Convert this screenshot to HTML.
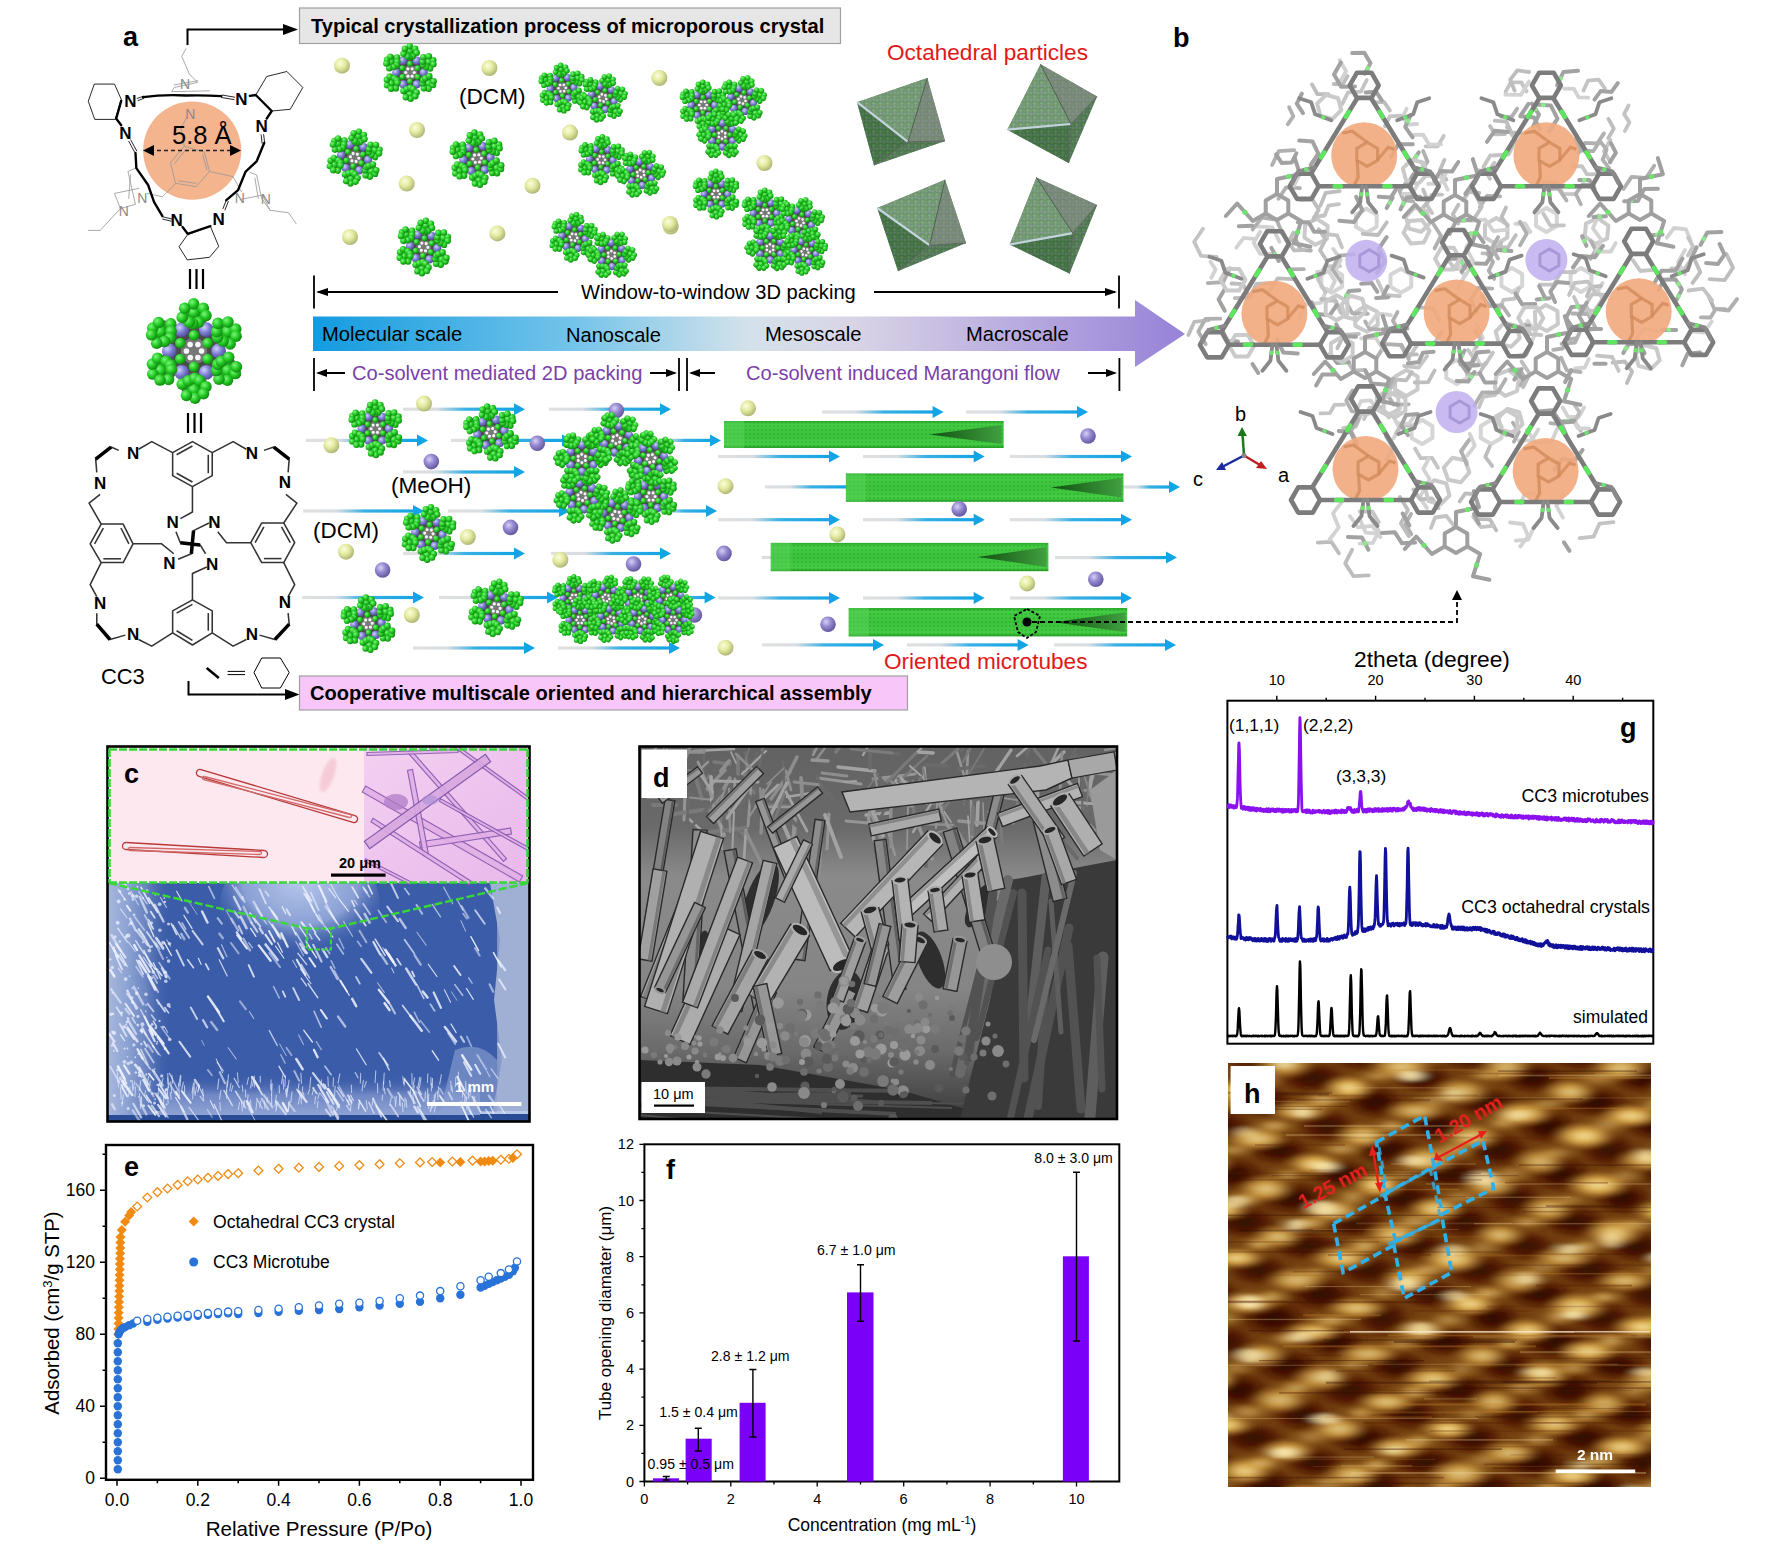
<!DOCTYPE html>
<html><head><meta charset="utf-8"><style>
html,body{margin:0;padding:0;background:#fff;width:1765px;height:1546px;overflow:hidden}
svg{display:block;font-family:'Liberation Sans',sans-serif}
text{font-family:'Liberation Sans',sans-serif}
</style></head><body>
<svg width="1765" height="1546" viewBox="0 0 1765 1546">
<defs><radialGradient id="gy" cx="0.38" cy="0.35" r="0.7"><stop offset="0" stop-color="#fbfde0"/><stop offset="0.45" stop-color="#e4eba0"/><stop offset="1" stop-color="#a9b070"/></radialGradient>
<radialGradient id="gp" cx="0.38" cy="0.35" r="0.7"><stop offset="0" stop-color="#d8d0f4"/><stop offset="0.45" stop-color="#9488d0"/><stop offset="1" stop-color="#5e5298"/></radialGradient>
<radialGradient id="gg" cx="0.35" cy="0.35" r="0.75"><stop offset="0" stop-color="#7cf77c"/><stop offset="0.5" stop-color="#22c822"/><stop offset="1" stop-color="#0e7a0e"/></radialGradient>
<radialGradient id="gv" cx="0.35" cy="0.35" r="0.75"><stop offset="0" stop-color="#d0d0ff"/><stop offset="0.5" stop-color="#7a7ad0"/><stop offset="1" stop-color="#45458a"/></radialGradient>
<symbol id="yb" viewBox="-10 -10 20 20" overflow="visible"><circle r="8" fill="url(#gy)"/></symbol>
<symbol id="pb" viewBox="-10 -10 20 20" overflow="visible"><circle r="8" fill="url(#gp)"/></symbol>
<g id="cage"><circle r="17" fill="#4a4a4a"/><circle cx="16.9" cy="9.7" r="7.5" fill="#555"/><circle cx="0.0" cy="19.5" r="7.5" fill="#555"/><circle cx="-16.9" cy="9.7" r="7.5" fill="#555"/><circle cx="-16.9" cy="-9.8" r="7.5" fill="#555"/><circle cx="-0.0" cy="-19.5" r="7.5" fill="#555"/><circle cx="16.9" cy="-9.8" r="7.5" fill="#555"/><circle cx="14.0" cy="0.0" r="4.2" fill="url(#gv)"/><circle cx="7.0" cy="12.1" r="4.2" fill="url(#gv)"/><circle cx="-7.0" cy="12.1" r="4.2" fill="url(#gv)"/><circle cx="-14.0" cy="0.0" r="4.2" fill="url(#gv)"/><circle cx="-7.0" cy="-12.1" r="4.2" fill="url(#gv)"/><circle cx="7.0" cy="-12.1" r="4.2" fill="url(#gv)"/><circle r="7.5" fill="#777"/><circle cx="4.3" cy="0.0" r="1.6" fill="#f6f6f6"/><circle cx="2.2" cy="3.7" r="1.6" fill="#f6f6f6"/><circle cx="-2.1" cy="3.7" r="1.6" fill="#f6f6f6"/><circle cx="-4.3" cy="0.0" r="1.6" fill="#f6f6f6"/><circle cx="-2.2" cy="-3.7" r="1.6" fill="#f6f6f6"/><circle cx="2.2" cy="-3.7" r="1.6" fill="#f6f6f6"/><circle cx="17.3" cy="10.0" r="6.5" fill="#2a9a2a"/><circle cx="19.1" cy="11.0" r="3.4" fill="url(#gg)"/><circle cx="23.5" cy="12.8" r="3.3" fill="url(#gg)"/><circle cx="19.0" cy="16.6" r="3.3" fill="url(#gg)"/><circle cx="14.2" cy="16.0" r="3.3" fill="url(#gg)"/><circle cx="12.9" cy="11.0" r="3.3" fill="url(#gg)"/><circle cx="13.5" cy="7.6" r="3.3" fill="url(#gg)"/><circle cx="15.5" cy="5.9" r="3.3" fill="url(#gg)"/><circle cx="19.7" cy="3.6" r="3.3" fill="url(#gg)"/><circle cx="24.1" cy="9.0" r="3.3" fill="url(#gg)"/><circle cx="0.0" cy="20.0" r="6.5" fill="#2a9a2a"/><circle cx="0.0" cy="22.0" r="3.4" fill="url(#gg)"/><circle cx="0.6" cy="26.8" r="3.3" fill="url(#gg)"/><circle cx="-4.3" cy="25.2" r="3.3" fill="url(#gg)"/><circle cx="-6.7" cy="18.8" r="3.3" fill="url(#gg)"/><circle cx="-3.2" cy="16.9" r="3.3" fill="url(#gg)"/><circle cx="0.5" cy="15.5" r="3.3" fill="url(#gg)"/><circle cx="3.2" cy="16.8" r="3.3" fill="url(#gg)"/><circle cx="6.8" cy="20.3" r="3.3" fill="url(#gg)"/><circle cx="5.4" cy="24.2" r="3.3" fill="url(#gg)"/><circle cx="-17.3" cy="10.0" r="6.5" fill="#2a9a2a"/><circle cx="-19.1" cy="11.0" r="3.4" fill="url(#gg)"/><circle cx="-23.4" cy="13.1" r="3.3" fill="url(#gg)"/><circle cx="-23.6" cy="7.4" r="3.3" fill="url(#gg)"/><circle cx="-20.7" cy="4.1" r="3.3" fill="url(#gg)"/><circle cx="-15.8" cy="5.8" r="3.3" fill="url(#gg)"/><circle cx="-13.3" cy="8.0" r="3.3" fill="url(#gg)"/><circle cx="-12.8" cy="10.5" r="3.3" fill="url(#gg)"/><circle cx="-14.5" cy="16.2" r="3.3" fill="url(#gg)"/><circle cx="-19.3" cy="16.5" r="3.3" fill="url(#gg)"/><circle cx="-17.3" cy="-10.0" r="6.5" fill="#2a9a2a"/><circle cx="-19.1" cy="-11.0" r="3.4" fill="url(#gg)"/><circle cx="-23.4" cy="-13.0" r="3.3" fill="url(#gg)"/><circle cx="-20.1" cy="-16.2" r="3.3" fill="url(#gg)"/><circle cx="-13.2" cy="-15.4" r="3.3" fill="url(#gg)"/><circle cx="-13.0" cy="-11.2" r="3.3" fill="url(#gg)"/><circle cx="-13.6" cy="-7.5" r="3.3" fill="url(#gg)"/><circle cx="-16.7" cy="-5.5" r="3.3" fill="url(#gg)"/><circle cx="-21.2" cy="-4.4" r="3.3" fill="url(#gg)"/><circle cx="-24.1" cy="-9.2" r="3.3" fill="url(#gg)"/><circle cx="-0.0" cy="-20.0" r="6.5" fill="#2a9a2a"/><circle cx="-0.0" cy="-22.0" r="3.4" fill="url(#gg)"/><circle cx="-0.2" cy="-26.8" r="3.3" fill="url(#gg)"/><circle cx="5.3" cy="-24.3" r="3.3" fill="url(#gg)"/><circle cx="6.8" cy="-20.1" r="3.3" fill="url(#gg)"/><circle cx="2.7" cy="-16.4" r="3.3" fill="url(#gg)"/><circle cx="-0.6" cy="-15.5" r="3.3" fill="url(#gg)"/><circle cx="-2.7" cy="-16.4" r="3.3" fill="url(#gg)"/><circle cx="-6.7" cy="-19.1" r="3.3" fill="url(#gg)"/><circle cx="-5.3" cy="-24.3" r="3.3" fill="url(#gg)"/><circle cx="17.3" cy="-10.0" r="6.5" fill="#2a9a2a"/><circle cx="19.1" cy="-11.0" r="3.4" fill="url(#gg)"/><circle cx="23.7" cy="-12.4" r="3.3" fill="url(#gg)"/><circle cx="23.9" cy="-8.4" r="3.3" fill="url(#gg)"/><circle cx="20.5" cy="-4.0" r="3.3" fill="url(#gg)"/><circle cx="16.5" cy="-5.6" r="3.3" fill="url(#gg)"/><circle cx="13.4" cy="-7.8" r="3.3" fill="url(#gg)"/><circle cx="12.9" cy="-11.0" r="3.3" fill="url(#gg)"/><circle cx="13.6" cy="-15.7" r="3.3" fill="url(#gg)"/><circle cx="19.3" cy="-16.5" r="3.3" fill="url(#gg)"/><circle cx="7.8" cy="4.5" r="3" fill="url(#gg)"/><circle cx="0.0" cy="9.0" r="3" fill="url(#gg)"/><circle cx="-7.8" cy="4.5" r="3" fill="url(#gg)"/><circle cx="-7.8" cy="-4.5" r="3" fill="url(#gg)"/><circle cx="-0.0" cy="-9.0" r="3" fill="url(#gg)"/><circle cx="7.8" cy="-4.5" r="3" fill="url(#gg)"/></g><linearGradient id="oct1" x1="0" y1="0" x2="1" y2="1"><stop offset="0" stop-color="#8a9490"/><stop offset="1" stop-color="#5a6660"/></linearGradient><pattern id="octp" width="7" height="7" patternUnits="userSpaceOnUse"><rect width="7" height="7" fill="#4f8a50"/><circle cx="2" cy="2" r="2.2" fill="#5aa05a" stroke="#2f6a30" stroke-width="0.8"/><circle cx="5.5" cy="5.5" r="2" fill="#62a862" stroke="#2f6a30" stroke-width="0.8"/><circle cx="5.5" cy="1.5" r="1.1" fill="#8a88c0"/></pattern><linearGradient id="barg" x1="0" y1="0" x2="1" y2="0"><stop offset="0" stop-color="#129be0"/><stop offset="0.3" stop-color="#74c4ea"/><stop offset="0.5" stop-color="#d4e2ea"/><stop offset="0.62" stop-color="#d9d4e6"/><stop offset="1" stop-color="#9782d8"/></linearGradient><linearGradient id="arg" x1="0" y1="0" x2="1" y2="0"><stop offset="0" stop-color="#e0e0e0"/><stop offset="0.3" stop-color="#d8dde2"/><stop offset="0.55" stop-color="#38b0e4"/><stop offset="1" stop-color="#12a4e4"/></linearGradient><linearGradient id="tubeg" x1="0" y1="0" x2="0" y2="1"><stop offset="0" stop-color="#2aa82a"/><stop offset="0.12" stop-color="#44cc44"/><stop offset="0.5" stop-color="#3cc23c"/><stop offset="0.88" stop-color="#44cc44"/><stop offset="1" stop-color="#229a22"/></linearGradient>
<linearGradient id="coneg" x1="0" y1="0" x2="1" y2="0"><stop offset="0" stop-color="#105010"/><stop offset="1" stop-color="#40a040"/></linearGradient>
<pattern id="tubep" width="4" height="4" patternUnits="userSpaceOnUse"><rect width="4" height="4" fill="none"/><circle cx="2" cy="2" r="0.9" fill="#1f8f1f" opacity="0.45"/></pattern><clipPath id="clipc"><rect x="107" y="746" width="423" height="376"/></clipPath>
<filter id="blur1" x="-10%" y="-10%" width="120%" height="120%"><feGaussianBlur stdDeviation="1.2"/></filter>
<filter id="blur3" x="-20%" y="-20%" width="140%" height="140%"><feGaussianBlur stdDeviation="6"/></filter>
<linearGradient id="cright" x1="0" y1="0" x2="1" y2="0"><stop offset="0" stop-color="#7f93c4"/><stop offset="0.4" stop-color="#a8b6d6"/><stop offset="1" stop-color="#aab8d8"/></linearGradient><radialGradient id="cloudg" cx="0.5" cy="0.3" r="0.6"><stop offset="0" stop-color="#b8c8ec"/><stop offset="0.6" stop-color="#8aa0d4"/><stop offset="1" stop-color="#3b5ca8" stop-opacity="0"/></radialGradient><linearGradient id="leftg" x1="0" y1="0" x2="1" y2="0"><stop offset="0" stop-color="#a8b8dc"/><stop offset="0.3" stop-color="#8ea4d4"/><stop offset="0.6" stop-color="#6a84c0"/><stop offset="1" stop-color="#3b5ca8" stop-opacity="0"/></linearGradient><linearGradient id="botg" x1="0" y1="0" x2="0" y2="1"><stop offset="0" stop-color="#3b5ca8" stop-opacity="0"/><stop offset="0.5" stop-color="#7088c4"/><stop offset="1" stop-color="#8ea2d4"/></linearGradient><linearGradient id="pinkl" x1="0" y1="0" x2="1" y2="1"><stop offset="0" stop-color="#fde9ee"/><stop offset="1" stop-color="#fbe3ea"/></linearGradient><linearGradient id="lilac" x1="0" y1="0" x2="1" y2="1"><stop offset="0" stop-color="#f4d0f2"/><stop offset="1" stop-color="#e8b8ea"/></linearGradient><clipPath id="clipd"><rect x="639" y="746" width="478" height="373"/></clipPath>
<filter id="semnoise" x="0" y="0" width="100%" height="100%"><feTurbulence type="fractalNoise" baseFrequency="0.9" numOctaves="1" seed="3" result="n"/><feColorMatrix in="n" type="matrix" values="0 0 0 0 0.5  0 0 0 0 0.5  0 0 0 0 0.5  0 0 0 1.2 -0.45" result="g"/><feComposite in="g" in2="SourceGraphic" operator="in" result="gi"/><feBlend in="SourceGraphic" in2="gi" mode="overlay"/></filter>
<linearGradient id="semb" x1="0" y1="0" x2="0" y2="1"><stop offset="0" stop-color="#626262"/><stop offset="0.22" stop-color="#6a6a6a"/><stop offset="0.35" stop-color="#8a8a8a"/><stop offset="0.65" stop-color="#858585"/><stop offset="0.82" stop-color="#6a6a6a"/><stop offset="1" stop-color="#3a3a3a"/></linearGradient><clipPath id="cliph"><rect x="1228" y="1063" width="423" height="424"/></clipPath>
<filter id="afmblur2" x="-5%" y="-5%" width="110%" height="110%"><feGaussianBlur stdDeviation="6 1.6"/></filter>
<radialGradient id="afmb" cx="0.5" cy="0.5" r="0.5"><stop offset="0" stop-color="#f8e4a0"/><stop offset="0.45" stop-color="#dcae50"/><stop offset="1" stop-color="#c89038" stop-opacity="0"/></radialGradient>
<radialGradient id="afmd" cx="0.5" cy="0.5" r="0.5"><stop offset="0" stop-color="#240400"/><stop offset="0.5" stop-color="#4a1400"/><stop offset="1" stop-color="#5a2000" stop-opacity="0"/></radialGradient></defs>
<rect width="1765" height="1546" fill="#fff"/>
<text x="123" y="46" font-size="27" text-anchor="start" font-weight="bold" fill="#000" >a</text>
<path d="M187.5,45 V29.5 H284" stroke="#000" stroke-width="2" fill="none"/><polygon points="283,24 298,29.5 283,35" fill="#000"/>
<rect x="299.5" y="8" width="541" height="35.5" fill="#e6e6e6" stroke="#a0a0a0" stroke-width="1.2"/>
<text x="311" y="33" font-size="20.1" text-anchor="start" font-weight="bold" fill="#000" >Typical crystallization process of microporous crystal</text>
<path d="M188.5,681 V694.5 H286" stroke="#000" stroke-width="2" fill="none"/><polygon points="285,689 299.5,694.5 285,700" fill="#000"/>
<rect x="299.5" y="676" width="608" height="34" fill="#f9c6f9" stroke="#a0a0a0" stroke-width="1.2"/>
<text x="310" y="700" font-size="20.1" text-anchor="start" font-weight="bold" fill="#000" >Cooperative multiscale oriented and hierarchical assembly</text>
<g transform="translate(80,0) scale(0.16818)" fill="none" stroke-linejoin="round" stroke-linecap="round"><circle cx="667" cy="895" r="292" fill="#f3b48e" stroke="none"/><path d="M630,290 L605,335 L650,440 L700,490 L560,520 L545,545 L770,540 M560,505 L700,480" stroke="#9a9a9a" stroke-width="5"/><path d="M540,965 L620,870 L740,905 L770,1020 L690,1110 L570,1090 Z M560,975 L630,890 M730,920 L755,1010 M690,1090 L585,1075" stroke="#9a9a9a" stroke-width="5"/><path d="M620,870 L600,760 L640,690 M770,1020 L910,1050 L960,1140 M570,1090 L490,1170 L400,1150" stroke="#9a9a9a" stroke-width="5"/><path d="M50,1370 L120,1370 L240,1240 L330,1215 L285,1020 L330,1000 M240,1240 L205,1150 L350,1120 M300,1040 L290,1180" stroke="#9a9a9a" stroke-width="5"/><path d="M1285,1330 L1240,1265 L1130,1250 L1080,1180 L1050,1040 L1010,1025 M1130,1250 L1085,1160 L960,1185 M1040,1060 L1060,1180" stroke="#9a9a9a" stroke-width="5"/><path d="M50,600 L85,500 L205,500 L245,590 L210,710 L90,710 Z" stroke="#000" stroke-width="5"/><path d="M1045,565 L1110,455 L1230,425 L1325,520 L1250,650 L1140,660 Z" stroke="#000" stroke-width="5"/><path d="M590,1465 L640,1395 L775,1345 L825,1465 L770,1530 L640,1545 Z" stroke="#000" stroke-width="5"/><path d="M375,578 Q500,560 630,568 Q740,565 840,572" stroke="#000" stroke-width="14"/><path d="M245,600 L215,705 L245,745" stroke="#000" stroke-width="14"/><path d="M330,910 L335,1000 L405,1100 L440,1200 L490,1285" stroke="#000" stroke-width="14"/><path d="M610,1350 L640,1390 L775,1345" stroke="#000" stroke-width="14"/><path d="M870,1190 L940,1130 L985,1020 L1050,960 L1095,850" stroke="#000" stroke-width="14"/><path d="M1010,570 L1045,565 L1140,660 L1110,705" stroke="#000" stroke-width="14"/><path d="M340,585 L378,572 M345,598 L380,585 M845,565 L920,578 M842,580 L915,592 M290,840 L325,905 M302,832 L337,897 M495,1290 L545,1302 M492,1303 L542,1315 M850,1240 L870,1190 M862,1248 L882,1198 M1098,850 L1092,800 M1083,852 L1077,802" stroke="#000" stroke-width="5"/></g>
<text x="130.5" y="106.9" font-size="17" font-weight="bold" text-anchor="middle">N</text>
<text x="241.5" y="105.2" font-size="17" font-weight="bold" text-anchor="middle">N</text>
<text x="125.4" y="138.9" font-size="17" font-weight="bold" text-anchor="middle">N</text>
<text x="261.6" y="132.1" font-size="17" font-weight="bold" text-anchor="middle">N</text>
<text x="176.7" y="225.5" font-size="17" font-weight="bold" text-anchor="middle">N</text>
<text x="218.7" y="224.6" font-size="17" font-weight="bold" text-anchor="middle">N</text>
<text x="185.1" y="88.6" font-size="14" text-anchor="middle" fill="#8a8a8a">N</text>
<text x="190.2" y="118.8" font-size="14" text-anchor="middle" fill="#8a8a8a">N</text>
<text x="142.2" y="202.9" font-size="14" text-anchor="middle" fill="#8a8a8a">N</text>
<text x="123.7" y="215.5" font-size="14" text-anchor="middle" fill="#8a8a8a">N</text>
<text x="239.8" y="202.9" font-size="14" text-anchor="middle" fill="#8a8a8a">N</text>
<text x="265.8" y="203.8" font-size="14" text-anchor="middle" fill="#8a8a8a">N</text>
<path d="M150,150.5 H234" stroke="#222" stroke-width="1.6" stroke-dasharray="4,3"/><polygon points="143,150.5 154,145 154,156" fill="#000"/><polygon points="241,150.5 230,145 230,156" fill="#000"/>
<text x="172" y="144" font-size="25.5" text-anchor="start" font-weight="normal" fill="#000" >5.8 Å</text>
<path d="M190,269 V289 M196.5,269 V289 M203,269 V289 M188,413 V433 M194.5,413 V433 M201,413 V433" stroke="#000" stroke-width="2.2"/>
<use href="#cage" transform="translate(194.0,351.0) rotate(0) scale(1.760)"/>
<g transform="translate(0,380) scale(0.21993)" fill="none" stroke-linejoin="round"><path d="M785,330 L875,280 L965,330 L965,435 L875,485 L785,435 Z" stroke="#333" stroke-width="7"/><path d="M803,340 L875,300" stroke="#333" stroke-width="7"/><path d="M947,340 L947,424" stroke="#333" stroke-width="7"/><path d="M875,464 L803,424" stroke="#333" stroke-width="7"/><path d="M410,745 L460,655 L560,655 L605,745 L560,830 L460,830 Z" stroke="#333" stroke-width="7"/><path d="M430,745 L470,673" stroke="#333" stroke-width="7"/><path d="M550,673 L586,745" stroke="#333" stroke-width="7"/><path d="M550,813 L470,813" stroke="#333" stroke-width="7"/><path d="M1140,740 L1190,650 L1290,650 L1340,740 L1290,830 L1190,830 Z" stroke="#333" stroke-width="7"/><path d="M1160,740 L1200,668" stroke="#333" stroke-width="7"/><path d="M1280,668 L1320,740" stroke="#333" stroke-width="7"/><path d="M1280,812 L1200,812" stroke="#333" stroke-width="7"/><path d="M785,1050 L875,1000 L965,1050 L965,1150 L875,1205 L785,1150 Z" stroke="#333" stroke-width="7"/><path d="M803,1060 L875,1020" stroke="#333" stroke-width="7"/><path d="M947,1060 L947,1140" stroke="#333" stroke-width="7"/><path d="M875,1184 L803,1140" stroke="#333" stroke-width="7"/><path d="M785,330 L690,280 L630,315 M540,320 L505,305 L435,360 L440,420 M455,520 L405,560 L460,655 M460,830 L410,930 L440,985 M440,1060 L440,1110 L500,1180 L570,1160 M630,1180 L690,1210 L785,1150" stroke="#333" stroke-width="7"/><path d="M965,330 L1060,280 L1120,315 M1200,320 L1245,305 L1315,360 L1310,420 M1300,520 L1350,560 L1290,650 M1290,830 L1340,930 L1310,985 M1310,1060 L1315,1110 L1250,1180 L1180,1160 M1120,1180 L1060,1210 L965,1150" stroke="#333" stroke-width="7"/><path d="M875,485 L875,600 L820,630 M800,690 L820,740 L910,750 L935,790 M950,650 L880,685 L870,790 L810,815 M605,745 L735,745 L790,790 M990,690 L1030,740 L1140,740 M875,1000 L875,880 L940,850" stroke="#333" stroke-width="7"/><path d="M820,740 L910,750 M880,685 L870,790 M505,305 L435,360 M1245,305 L1315,360 M440,1110 L500,1180 M1315,1110 L1250,1180" stroke="#000" stroke-width="16"/></g>
<text x="133.1" y="458.6" font-size="17" font-weight="bold" text-anchor="middle">N</text>
<text x="100.1" y="489.4" font-size="17" font-weight="bold" text-anchor="middle">N</text>
<text x="251.8" y="458.6" font-size="17" font-weight="bold" text-anchor="middle">N</text>
<text x="284.8" y="488.3" font-size="17" font-weight="bold" text-anchor="middle">N</text>
<text x="172.6" y="527.9" font-size="17" font-weight="bold" text-anchor="middle">N</text>
<text x="214.4" y="527.9" font-size="17" font-weight="bold" text-anchor="middle">N</text>
<text x="169.3" y="568.5" font-size="17" font-weight="bold" text-anchor="middle">N</text>
<text x="212.2" y="569.6" font-size="17" font-weight="bold" text-anchor="middle">N</text>
<text x="100.1" y="609.2" font-size="17" font-weight="bold" text-anchor="middle">N</text>
<text x="133.1" y="640.0" font-size="17" font-weight="bold" text-anchor="middle">N</text>
<text x="284.8" y="608.1" font-size="17" font-weight="bold" text-anchor="middle">N</text>
<text x="251.8" y="640.0" font-size="17" font-weight="bold" text-anchor="middle">N</text>
<text x="101" y="684" font-size="21.9" text-anchor="start" font-weight="normal" fill="#000" >CC3</text>
<path d="M206.7,668 L218.8,678" stroke="#000" stroke-width="2.5"/><path d="M227.6,671.4 H245 M227.6,674.6 H245" stroke="#000" stroke-width="1"/>
<polygon points="254,672.5 261.7,658 280.4,658 289.2,672.5 280.4,688 261.7,688" fill="none" stroke="#000" stroke-width="1"/>
<circle cx="342" cy="65.7" r="8" fill="url(#gy)"/>
<circle cx="489.4" cy="68" r="8" fill="url(#gy)"/>
<circle cx="659.4" cy="78" r="8" fill="url(#gy)"/>
<circle cx="417" cy="130" r="8" fill="url(#gy)"/>
<circle cx="570" cy="132.6" r="8" fill="url(#gy)"/>
<circle cx="406.7" cy="183.6" r="8" fill="url(#gy)"/>
<circle cx="532.5" cy="185.8" r="8" fill="url(#gy)"/>
<circle cx="350" cy="237" r="8" fill="url(#gy)"/>
<circle cx="497.4" cy="233.4" r="8" fill="url(#gy)"/>
<circle cx="670.7" cy="226.6" r="8" fill="url(#gy)"/>
<circle cx="764.5" cy="163" r="8" fill="url(#gy)"/>
<circle cx="670" cy="224" r="8" fill="url(#gy)"/>
<use href="#cage" transform="translate(410.0,72.5) rotate(0) scale(0.980)"/>
<use href="#cage" transform="translate(354.6,157.5) rotate(10) scale(0.980)"/>
<use href="#cage" transform="translate(477.0,158.6) rotate(-5) scale(0.980)"/>
<use href="#cage" transform="translate(423.7,247.0) rotate(5) scale(0.980)"/>
<g transform="translate(582.4,93) rotate(-3) scale(1.0)">
<use href="#cage" transform="translate(-20.0,-6.0) rotate(0) scale(0.850)"/>
<use href="#cage" transform="translate(20.0,6.0) rotate(20) scale(0.850)"/>
</g>
<g transform="translate(621,166.6) rotate(3) scale(1.0)">
<use href="#cage" transform="translate(-20.0,-6.0) rotate(0) scale(0.850)"/>
<use href="#cage" transform="translate(20.0,6.0) rotate(20) scale(0.850)"/>
</g>
<g transform="translate(592.5,246) rotate(8) scale(1.0)">
<use href="#cage" transform="translate(-20.0,-6.0) rotate(0) scale(0.850)"/>
<use href="#cage" transform="translate(20.0,6.0) rotate(20) scale(0.850)"/>
</g>
<g>
<use href="#cage" transform="translate(703.0,105.0) rotate(0) scale(0.850)"/>
<use href="#cage" transform="translate(742.0,100.0) rotate(15) scale(0.850)"/>
<use href="#cage" transform="translate(722.0,135.0) rotate(30) scale(0.850)"/>
</g>
<use href="#cage" transform="translate(716.0,194.0) rotate(0) scale(0.850)"/>
<g>
<use href="#cage" transform="translate(765.0,213.0) rotate(0) scale(0.850)"/>
<use href="#cage" transform="translate(800.0,222.0) rotate(15) scale(0.850)"/>
<use href="#cage" transform="translate(770.0,248.0) rotate(30) scale(0.850)"/>
<use href="#cage" transform="translate(805.0,252.0) rotate(10) scale(0.800)"/>
</g>
<text x="459" y="104" font-size="22.6" text-anchor="start" font-weight="normal" fill="#000" >(DCM)</text>
<text x="887" y="60" font-size="22.6" text-anchor="start" font-weight="normal" fill="#e01818" >Octahedral particles</text>
<polygon points="857.0,102.2 927.3,78.0 945.0,141.0 874.0,165.3" fill="#8c8c8c"/>
<polygon points="857.0,102.2 927.3,78.0 945.0,141.0 874.0,165.3" fill="url(#octp)" opacity="0.7"/>
<polygon points="857.0,102.2 927.3,78.0 908.0,141.8" fill="#9ab89a" opacity="0.35"/>
<polygon points="927.3,78.0 945.0,141.0 908.0,141.8" fill="#8a8a8a" opacity="0.6"/>
<polygon points="874.0,165.3 857.0,102.2 908.0,141.8" fill="#1e4a1e" opacity="0.35"/>
<polygon points="945.0,141.0 874.0,165.3 908.0,141.8" fill="#3a5a3a" opacity="0.3"/>
<path d="M857.0,102.2 L908.0,141.8" stroke="#c4d4de" stroke-width="2.2" fill="none"/><path d="M927.3,78.0 L908.0,141.8" stroke="#506050" stroke-width="1" fill="none"/>
<path d="M908.0,141.8 L945.0,141.0 M908.0,141.8 L874.0,165.3" stroke="#606860" stroke-width="1" fill="none"/>
<polygon points="1007.3,129.7 1040.5,64.2 1097.0,96.6 1068.7,162.9" fill="#8c8c8c"/>
<polygon points="1007.3,129.7 1040.5,64.2 1097.0,96.6 1068.7,162.9" fill="url(#octp)" opacity="0.7"/>
<polygon points="1007.3,129.7 1040.5,64.2 1071.0,124.0" fill="#9ab89a" opacity="0.35"/>
<polygon points="1040.5,64.2 1097.0,96.6 1071.0,124.0" fill="#8a8a8a" opacity="0.6"/>
<polygon points="1068.7,162.9 1007.3,129.7 1071.0,124.0" fill="#1e4a1e" opacity="0.35"/>
<polygon points="1097.0,96.6 1068.7,162.9 1071.0,124.0" fill="#3a5a3a" opacity="0.3"/>
<path d="M1007.3,129.7 L1071.0,124.0" stroke="#c4d4de" stroke-width="2.2" fill="none"/><path d="M1040.5,64.2 L1071.0,124.0" stroke="#506050" stroke-width="1" fill="none"/>
<path d="M1071.0,124.0 L1097.0,96.6 M1071.0,124.0 L1068.7,162.9" stroke="#606860" stroke-width="1" fill="none"/>
<polygon points="877.2,208.0 945.0,179.8 966.0,243.0 898.0,271.0" fill="#8c8c8c"/>
<polygon points="877.2,208.0 945.0,179.8 966.0,243.0 898.0,271.0" fill="url(#octp)" opacity="0.7"/>
<polygon points="877.2,208.0 945.0,179.8 929.7,245.3" fill="#9ab89a" opacity="0.35"/>
<polygon points="945.0,179.8 966.0,243.0 929.7,245.3" fill="#8a8a8a" opacity="0.6"/>
<polygon points="898.0,271.0 877.2,208.0 929.7,245.3" fill="#1e4a1e" opacity="0.35"/>
<polygon points="966.0,243.0 898.0,271.0 929.7,245.3" fill="#3a5a3a" opacity="0.3"/>
<path d="M877.2,208.0 L929.7,245.3" stroke="#c4d4de" stroke-width="2.2" fill="none"/><path d="M945.0,179.8 L929.7,245.3" stroke="#506050" stroke-width="1" fill="none"/>
<path d="M929.7,245.3 L966.0,243.0 M929.7,245.3 L898.0,271.0" stroke="#606860" stroke-width="1" fill="none"/>
<polygon points="1009.7,244.5 1036.4,177.4 1097.0,205.0 1069.5,273.6" fill="#8c8c8c"/>
<polygon points="1009.7,244.5 1036.4,177.4 1097.0,205.0 1069.5,273.6" fill="url(#octp)" opacity="0.7"/>
<polygon points="1009.7,244.5 1036.4,177.4 1072.8,233.2" fill="#9ab89a" opacity="0.35"/>
<polygon points="1036.4,177.4 1097.0,205.0 1072.8,233.2" fill="#8a8a8a" opacity="0.6"/>
<polygon points="1069.5,273.6 1009.7,244.5 1072.8,233.2" fill="#1e4a1e" opacity="0.35"/>
<polygon points="1097.0,205.0 1069.5,273.6 1072.8,233.2" fill="#3a5a3a" opacity="0.3"/>
<path d="M1009.7,244.5 L1072.8,233.2" stroke="#c4d4de" stroke-width="2.2" fill="none"/><path d="M1036.4,177.4 L1072.8,233.2" stroke="#506050" stroke-width="1" fill="none"/>
<path d="M1072.8,233.2 L1097.0,205.0 M1072.8,233.2 L1069.5,273.6" stroke="#606860" stroke-width="1" fill="none"/>
<path d="M314,275.5 V308.6 M1119,275.5 V308.6 M318,292 H558 M874,292 H1115" stroke="#000" stroke-width="1.8"/>
<polygon points="316,292 328,288 328,296" fill="#000"/><polygon points="1117,292 1105,288 1105,296" fill="#000"/>
<text x="581" y="299" font-size="20.1" text-anchor="start" font-weight="normal" fill="#000" >Window-to-window 3D packing</text>
<polygon points="313,316.5 1135,316.5 1135,300 1185,334 1135,367 1135,351 313,351" fill="url(#barg)"/>
<text x="322" y="341" font-size="20.2" text-anchor="start" font-weight="normal" fill="#000" >Molecular scale</text>
<text x="566" y="342" font-size="20.1" text-anchor="start" font-weight="normal" fill="#000" >Nanoscale</text>
<text x="765" y="341" font-size="20.2" text-anchor="start" font-weight="normal" fill="#000" >Mesoscale</text>
<text x="966" y="341" font-size="20.1" text-anchor="start" font-weight="normal" fill="#000" >Macroscale</text>
<path d="M314,358 V391 M679,358 V391 M687,358 V391 M1119.4,358 V391 M318,373 H345 M650,373 H675 M691,373 H715 M1088,373 H1115" stroke="#000" stroke-width="1.8"/>
<polygon points="316,373 327,369 327,377" fill="#000"/><polygon points="677,373 666,369 666,377" fill="#000"/><polygon points="689,373 700,369 700,377" fill="#000"/><polygon points="1117,373 1106,369 1106,377" fill="#000"/>
<text x="352" y="380" font-size="20.1" text-anchor="start" font-weight="normal" fill="#7a3fa8" >Co-solvent mediated 2D packing</text>
<text x="746" y="380" font-size="20.1" text-anchor="start" font-weight="normal" fill="#7a3fa8" >Co-solvent induced Marangoni flow</text>
<g transform="translate(403,409.2)"><rect x="0" y="-1.6" width="113.0" height="3.2" fill="url(#arg)"/><polygon points="111.0,-6 122.0,0 111.0,6" fill="#12a4e4"/></g>
<g transform="translate(549,409.2)"><rect x="0" y="-1.6" width="113.0" height="3.2" fill="url(#arg)"/><polygon points="111.0,-6 122.0,0 111.0,6" fill="#12a4e4"/></g>
<g transform="translate(306,440.4)"><rect x="0" y="-1.6" width="113.0" height="3.2" fill="url(#arg)"/><polygon points="111.0,-6 122.0,0 111.0,6" fill="#12a4e4"/></g>
<g transform="translate(451,440.4)"><rect x="0" y="-1.6" width="113.0" height="3.2" fill="url(#arg)"/><polygon points="111.0,-6 122.0,0 111.0,6" fill="#12a4e4"/></g>
<g transform="translate(650,440.4)"><rect x="0" y="-1.6" width="62.0" height="3.2" fill="url(#arg)"/><polygon points="60.0,-6 71.0,0 60.0,6" fill="#12a4e4"/></g>
<g transform="translate(403,472)"><rect x="0" y="-1.6" width="113.0" height="3.2" fill="url(#arg)"/><polygon points="111.0,-6 122.0,0 111.0,6" fill="#12a4e4"/></g>
<g transform="translate(303,511)"><rect x="0" y="-1.6" width="112.0" height="3.2" fill="url(#arg)"/><polygon points="110.0,-6 121.0,0 110.0,6" fill="#12a4e4"/></g>
<g transform="translate(448,511)"><rect x="0" y="-1.6" width="113.0" height="3.2" fill="url(#arg)"/><polygon points="111.0,-6 122.0,0 111.0,6" fill="#12a4e4"/></g>
<g transform="translate(653,511)"><rect x="0" y="-1.6" width="55.0" height="3.2" fill="url(#arg)"/><polygon points="53.0,-6 64.0,0 53.0,6" fill="#12a4e4"/></g>
<g transform="translate(403,553.5)"><rect x="0" y="-1.6" width="113.0" height="3.2" fill="url(#arg)"/><polygon points="111.0,-6 122.0,0 111.0,6" fill="#12a4e4"/></g>
<g transform="translate(551,553.5)"><rect x="0" y="-1.6" width="111.0" height="3.2" fill="url(#arg)"/><polygon points="109.0,-6 120.0,0 109.0,6" fill="#12a4e4"/></g>
<g transform="translate(302,597.5)"><rect x="0" y="-1.6" width="113.0" height="3.2" fill="url(#arg)"/><polygon points="111.0,-6 122.0,0 111.0,6" fill="#12a4e4"/></g>
<g transform="translate(439,597.5)"><rect x="0" y="-1.6" width="110.0" height="3.2" fill="url(#arg)"/><polygon points="108.0,-6 119.0,0 108.0,6" fill="#12a4e4"/></g>
<g transform="translate(670,597.5)"><rect x="0" y="-1.6" width="36.6" height="3.2" fill="url(#arg)"/><polygon points="34.6,-6 45.6,0 34.6,6" fill="#12a4e4"/></g>
<g transform="translate(413,648)"><rect x="0" y="-1.6" width="113.0" height="3.2" fill="url(#arg)"/><polygon points="111.0,-6 122.0,0 111.0,6" fill="#12a4e4"/></g>
<g transform="translate(558,648)"><rect x="0" y="-1.6" width="113.0" height="3.2" fill="url(#arg)"/><polygon points="111.0,-6 122.0,0 111.0,6" fill="#12a4e4"/></g>
<g transform="translate(822,412)"><rect x="0" y="-1.6" width="112.6" height="3.2" fill="url(#arg)"/><polygon points="110.6,-6 121.6,0 110.6,6" fill="#12a4e4"/></g>
<g transform="translate(966,412)"><rect x="0" y="-1.6" width="113.0" height="3.2" fill="url(#arg)"/><polygon points="111.0,-6 122.0,0 111.0,6" fill="#12a4e4"/></g>
<g transform="translate(718,456.5)"><rect x="0" y="-1.6" width="113.0" height="3.2" fill="url(#arg)"/><polygon points="111.0,-6 122.0,0 111.0,6" fill="#12a4e4"/></g>
<g transform="translate(863,456.5)"><rect x="0" y="-1.6" width="112.7" height="3.2" fill="url(#arg)"/><polygon points="110.7,-6 121.7,0 110.7,6" fill="#12a4e4"/></g>
<g transform="translate(1010,456.5)"><rect x="0" y="-1.6" width="113.0" height="3.2" fill="url(#arg)"/><polygon points="111.0,-6 122.0,0 111.0,6" fill="#12a4e4"/></g>
<g transform="translate(1123,487)"><rect x="0" y="-1.6" width="48.0" height="3.2" fill="url(#arg)"/><polygon points="46.0,-6 57.0,0 46.0,6" fill="#12a4e4"/></g>
<g transform="translate(718,519.7)"><rect x="0" y="-1.6" width="113.0" height="3.2" fill="url(#arg)"/><polygon points="111.0,-6 122.0,0 111.0,6" fill="#12a4e4"/></g>
<g transform="translate(863,519.7)"><rect x="0" y="-1.6" width="112.7" height="3.2" fill="url(#arg)"/><polygon points="110.7,-6 121.7,0 110.7,6" fill="#12a4e4"/></g>
<g transform="translate(1010,519.7)"><rect x="0" y="-1.6" width="113.0" height="3.2" fill="url(#arg)"/><polygon points="111.0,-6 122.0,0 111.0,6" fill="#12a4e4"/></g>
<g transform="translate(1055,557.6)"><rect x="0" y="-1.6" width="113.0" height="3.2" fill="url(#arg)"/><polygon points="111.0,-6 122.0,0 111.0,6" fill="#12a4e4"/></g>
<g transform="translate(718,598)"><rect x="0" y="-1.6" width="113.0" height="3.2" fill="url(#arg)"/><polygon points="111.0,-6 122.0,0 111.0,6" fill="#12a4e4"/></g>
<g transform="translate(863,598)"><rect x="0" y="-1.6" width="112.7" height="3.2" fill="url(#arg)"/><polygon points="110.7,-6 121.7,0 110.7,6" fill="#12a4e4"/></g>
<g transform="translate(1010,598)"><rect x="0" y="-1.6" width="113.0" height="3.2" fill="url(#arg)"/><polygon points="111.0,-6 122.0,0 111.0,6" fill="#12a4e4"/></g>
<g transform="translate(762,644.9)"><rect x="0" y="-1.6" width="113.0" height="3.2" fill="url(#arg)"/><polygon points="111.0,-6 122.0,0 111.0,6" fill="#12a4e4"/></g>
<g transform="translate(907,644.9)"><rect x="0" y="-1.6" width="112.6" height="3.2" fill="url(#arg)"/><polygon points="110.6,-6 121.6,0 110.6,6" fill="#12a4e4"/></g>
<g transform="translate(1054,644.9)"><rect x="0" y="-1.6" width="113.0" height="3.2" fill="url(#arg)"/><polygon points="111.0,-6 122.0,0 111.0,6" fill="#12a4e4"/></g>
<rect x="762" y="555.9" width="12" height="3.2" fill="#dcdcdc"/><rect x="765" y="485.3" width="84" height="3.2" fill="url(#arg)"/>
<rect x="724" y="421" width="279.7" height="27.0" fill="url(#tubeg)"/>
<rect x="724" y="421" width="279.7" height="27.0" fill="url(#tubep)"/>
<rect x="724" y="421" width="20" height="27.0" fill="#5ad45a" opacity="0.5"/>
<polygon points="929.5,434.5 1001.7,425.1 1001.7,443.9" fill="url(#coneg)"/>
<rect x="845.9" y="473.5" width="277.6" height="28.3" fill="url(#tubeg)"/>
<rect x="845.9" y="473.5" width="277.6" height="28.3" fill="url(#tubep)"/>
<rect x="845.9" y="473.5" width="20" height="28.3" fill="#5ad45a" opacity="0.5"/>
<polygon points="1051,487.6 1121.5,477.7 1121.5,497.6" fill="url(#coneg)"/>
<rect x="770.8" y="542.9" width="277.6" height="28.3" fill="url(#tubeg)"/>
<rect x="770.8" y="542.9" width="277.6" height="28.3" fill="url(#tubep)"/>
<rect x="770.8" y="542.9" width="20" height="28.3" fill="#5ad45a" opacity="0.5"/>
<polygon points="977.6,557.0 1046.4,547.1 1046.4,567.0" fill="url(#coneg)"/>
<rect x="848.7" y="608" width="278.5" height="28.4" fill="url(#tubeg)"/>
<rect x="848.7" y="608" width="278.5" height="28.4" fill="url(#tubep)"/>
<rect x="848.7" y="608" width="20" height="28.4" fill="#5ad45a" opacity="0.5"/>
<polygon points="1054,622.2 1125.2,612.3 1125.2,632.1" fill="url(#coneg)"/>
<circle cx="424" cy="403.6" r="8" fill="url(#gy)"/>
<circle cx="331.4" cy="445.3" r="8" fill="url(#gy)"/>
<circle cx="467.8" cy="537" r="8" fill="url(#gy)"/>
<circle cx="346" cy="551.7" r="8" fill="url(#gy)"/>
<circle cx="411.8" cy="615" r="8" fill="url(#gy)"/>
<circle cx="560.4" cy="559.8" r="8" fill="url(#gy)"/>
<circle cx="748" cy="408.3" r="8" fill="url(#gy)"/>
<circle cx="725.5" cy="486.2" r="8" fill="url(#gy)"/>
<circle cx="837.4" cy="534.4" r="8" fill="url(#gy)"/>
<circle cx="1027.2" cy="583.4" r="8" fill="url(#gy)"/>
<circle cx="725.5" cy="647.7" r="8" fill="url(#gy)"/>
<circle cx="431.3" cy="461.6" r="7.8" fill="url(#gp)"/>
<circle cx="616.4" cy="410.5" r="7.8" fill="url(#gp)"/>
<circle cx="537.3" cy="443.3" r="7.8" fill="url(#gp)"/>
<circle cx="510.5" cy="527.4" r="7.8" fill="url(#gp)"/>
<circle cx="382.6" cy="570" r="7.8" fill="url(#gp)"/>
<circle cx="633.5" cy="564" r="7.8" fill="url(#gp)"/>
<circle cx="694.4" cy="615" r="7.8" fill="url(#gp)"/>
<circle cx="1088" cy="436" r="7.8" fill="url(#gp)"/>
<circle cx="959.2" cy="508.9" r="7.8" fill="url(#gp)"/>
<circle cx="724" cy="553.4" r="7.8" fill="url(#gp)"/>
<circle cx="1095.8" cy="579.2" r="7.8" fill="url(#gp)"/>
<circle cx="828" cy="624.2" r="7.8" fill="url(#gp)"/>
<use href="#cage" transform="translate(375.3,428.7) rotate(0) scale(0.980)"/>
<use href="#cage" transform="translate(491.0,432.4) rotate(-8) scale(0.980)"/>
<use href="#cage" transform="translate(428.9,533.5) rotate(5) scale(0.980)"/>
<use href="#cage" transform="translate(368.0,623.6) rotate(-4) scale(0.980)"/>
<use href="#cage" transform="translate(495.9,607.8) rotate(8) scale(0.980)"/>
<use href="#cage" transform="translate(651.0,496.4) rotate(0) scale(0.950)"/>
<use href="#cage" transform="translate(616.4,515.4) rotate(10) scale(0.950)"/>
<use href="#cage" transform="translate(581.8,496.4) rotate(20) scale(0.950)"/>
<use href="#cage" transform="translate(581.8,458.4) rotate(30) scale(0.950)"/>
<use href="#cage" transform="translate(616.4,439.4) rotate(40) scale(0.950)"/>
<use href="#cage" transform="translate(651.0,458.4) rotate(50) scale(0.950)"/>
<use href="#cage" transform="translate(574.0,598.0) rotate(0) scale(0.800)"/>
<use href="#cage" transform="translate(580.0,620.0) rotate(0) scale(0.800)"/>
<use href="#cage" transform="translate(606.0,598.0) rotate(15) scale(0.800)"/>
<use href="#cage" transform="translate(611.0,620.0) rotate(20) scale(0.800)"/>
<use href="#cage" transform="translate(638.0,598.0) rotate(30) scale(0.800)"/>
<use href="#cage" transform="translate(642.0,620.0) rotate(40) scale(0.800)"/>
<use href="#cage" transform="translate(670.0,598.0) rotate(45) scale(0.800)"/>
<use href="#cage" transform="translate(673.0,620.0) rotate(60) scale(0.800)"/>
<text x="391" y="493" font-size="22.6" text-anchor="start" font-weight="normal" fill="#000" >(MeOH)</text>
<text x="313" y="538" font-size="22.4" text-anchor="start" font-weight="normal" fill="#000" >(DCM)</text>
<text x="884" y="669" font-size="22.6" text-anchor="start" font-weight="normal" fill="#e01818" >Oriented microtubes</text>
<polygon points="1027,609 1040,616 1036,632 1027,638 1018,632 1014,616" fill="none" stroke="#000" stroke-width="1.8" stroke-dasharray="3,2"/><circle cx="1027" cy="622" r="4.5" fill="#000"/>
<path d="M1032,622 H1457 V598" stroke="#000" stroke-width="1.8" stroke-dasharray="5,3" fill="none"/><polygon points="1452,600 1457,590 1462,600" fill="#000"/>
<text x="1173" y="47" font-size="27" text-anchor="start" font-weight="bold" fill="#000" >b</text>
<g><polygon points="1377.9,324.7 1366.9,331.8 1355.4,325.9 1354.7,312.9 1365.7,305.8 1377.2,311.7" stroke="#cacaca" stroke-width="4" fill="none" stroke-linecap="round" stroke-linejoin="round"/><polygon points="1326.9,239.0 1315.3,244.8 1304.4,237.6 1305.2,224.6 1316.9,218.8 1327.7,226.0" stroke="#cacaca" stroke-width="4" fill="none" stroke-linecap="round" stroke-linejoin="round"/><polygon points="1423.9,242.5 1410.9,243.5 1403.6,232.8 1409.2,221.1 1422.1,220.1 1429.5,230.8" stroke="#cacaca" stroke-width="4" fill="none" stroke-linecap="round" stroke-linejoin="round"/><polygon points="1376.7,226.8 1366.3,232.8 1355.9,226.8 1355.9,214.8 1366.3,208.8 1376.7,214.8" stroke="#cacaca" stroke-width="4" fill="none" stroke-linecap="round" stroke-linejoin="round" opacity="0.8"/><polygon points="1411.3,286.8 1400.9,292.8 1390.5,286.8 1390.5,274.8 1400.9,268.8 1411.3,274.8" stroke="#cacaca" stroke-width="4" fill="none" stroke-linecap="round" stroke-linejoin="round" opacity="0.8"/><polygon points="1342.1,286.8 1331.7,292.8 1321.3,286.8 1321.3,274.8 1331.7,268.8 1342.1,274.8" stroke="#cacaca" stroke-width="4" fill="none" stroke-linecap="round" stroke-linejoin="round" opacity="0.8"/><polygon points="1557.9,324.1 1546.9,331.0 1535.4,324.9 1534.9,311.9 1545.9,305.0 1557.4,311.1" stroke="#cacaca" stroke-width="4" fill="none" stroke-linecap="round" stroke-linejoin="round"/><polygon points="1507.4,237.6 1496.1,244.0 1484.9,237.4 1485.0,224.4 1496.3,218.0 1507.5,224.6" stroke="#cacaca" stroke-width="4" fill="none" stroke-linecap="round" stroke-linejoin="round"/><polygon points="1607.2,238.5 1595.4,243.9 1584.8,236.4 1586.0,223.5 1597.8,218.1 1608.4,225.6" stroke="#cacaca" stroke-width="4" fill="none" stroke-linecap="round" stroke-linejoin="round"/><polygon points="1556.8,226.0 1546.4,232.0 1536.0,226.0 1536.0,214.0 1546.4,208.0 1556.8,214.0" stroke="#cacaca" stroke-width="4" fill="none" stroke-linecap="round" stroke-linejoin="round" opacity="0.8"/><polygon points="1591.4,286.0 1581.0,292.0 1570.6,286.0 1570.6,274.0 1581.0,268.0 1591.4,274.0" stroke="#cacaca" stroke-width="4" fill="none" stroke-linecap="round" stroke-linejoin="round" opacity="0.8"/><polygon points="1522.2,286.0 1511.8,292.0 1501.4,286.0 1501.4,274.0 1511.8,268.0 1522.2,274.0" stroke="#cacaca" stroke-width="4" fill="none" stroke-linecap="round" stroke-linejoin="round" opacity="0.8"/><polygon points="1469.4,472.5 1460.8,482.3 1448.1,479.8 1443.8,467.5 1452.4,457.7 1465.1,460.2" stroke="#cacaca" stroke-width="4" fill="none" stroke-linecap="round" stroke-linejoin="round"/><polygon points="1417.5,389.6 1406.2,396.0 1395.0,389.4 1395.2,376.4 1406.5,370.0 1417.7,376.6" stroke="#cacaca" stroke-width="4" fill="none" stroke-linecap="round" stroke-linejoin="round"/><polygon points="1517.1,391.0 1505.1,395.9 1494.8,387.9 1496.6,375.0 1508.6,370.1 1518.9,378.1" stroke="#cacaca" stroke-width="4" fill="none" stroke-linecap="round" stroke-linejoin="round"/><polygon points="1467.0,378.0 1456.6,384.0 1446.2,378.0 1446.2,366.0 1456.6,360.0 1467.0,366.0" stroke="#cacaca" stroke-width="4" fill="none" stroke-linecap="round" stroke-linejoin="round" opacity="0.8"/><polygon points="1501.6,438.0 1491.2,444.0 1480.8,438.0 1480.8,426.0 1491.2,420.0 1501.6,426.0" stroke="#cacaca" stroke-width="4" fill="none" stroke-linecap="round" stroke-linejoin="round" opacity="0.8"/><polygon points="1432.4,438.0 1422.0,444.0 1411.6,438.0 1411.6,426.0 1422.0,420.0 1432.4,426.0" stroke="#cacaca" stroke-width="4" fill="none" stroke-linecap="round" stroke-linejoin="round" opacity="0.8"/><path d="M1608.4,118.9 L1613.8,128.6 L1608.2,138.2" stroke="#bdbdbd" stroke-width="3.8" fill="none" stroke-linejoin="round" stroke-linecap="round"/><path d="M1520.9,502.5 L1524.9,493.9 L1534.3,493.1" stroke="#d2d2d2" stroke-width="3.8" fill="none" stroke-linejoin="round" stroke-linecap="round"/><path d="M1426.9,508.1 L1419.9,497.5 L1425.6,486.2" stroke="#d2d2d2" stroke-width="3.8" fill="none" stroke-linejoin="round" stroke-linecap="round"/><path d="M1409.5,356.7 L1418.0,343.7 L1433.5,344.6 L1442.0,331.6" stroke="#c4c4c4" stroke-width="3.8" fill="none" stroke-linejoin="round" stroke-linecap="round"/><path d="M1490.0,126.1 L1495.2,134.4 L1504.9,134.1" stroke="#bdbdbd" stroke-width="3.8" fill="none" stroke-linejoin="round" stroke-linecap="round"/><path d="M1393.4,438.6 L1399.7,428.5 L1394.1,418.0 L1400.4,407.8" stroke="#d2d2d2" stroke-width="3.8" fill="none" stroke-linejoin="round" stroke-linecap="round"/><path d="M1207.8,283.2 L1223.2,282.1 L1230.0,268.2" stroke="#b0b0b0" stroke-width="3.8" fill="none" stroke-linejoin="round" stroke-linecap="round"/><path d="M1610.5,162.4 L1604.0,151.2 L1610.5,140.0" stroke="#c4c4c4" stroke-width="3.8" fill="none" stroke-linejoin="round" stroke-linecap="round"/><path d="M1510.0,370.0 L1519.3,369.3 L1524.6,376.9 L1520.6,385.3" stroke="#b0b0b0" stroke-width="3.8" fill="none" stroke-linejoin="round" stroke-linecap="round"/><path d="M1500.1,196.4 L1486.9,195.9 L1479.9,207.1" stroke="#b0b0b0" stroke-width="3.8" fill="none" stroke-linejoin="round" stroke-linecap="round"/><path d="M1294.2,150.2 L1278.8,151.2 L1272.1,165.0" stroke="#b0b0b0" stroke-width="3.8" fill="none" stroke-linejoin="round" stroke-linecap="round"/><path d="M1417.1,124.0 L1407.8,124.7 L1402.6,117.0 L1406.6,108.7" stroke="#d2d2d2" stroke-width="3.8" fill="none" stroke-linejoin="round" stroke-linecap="round"/><path d="M1517.2,108.6 L1511.3,117.2 L1500.9,116.5" stroke="#b0b0b0" stroke-width="3.8" fill="none" stroke-linejoin="round" stroke-linecap="round"/><path d="M1328.3,94.2 L1317.3,94.0 L1312.0,84.4" stroke="#bdbdbd" stroke-width="3.8" fill="none" stroke-linejoin="round" stroke-linecap="round"/><path d="M1538.3,429.4 L1531.5,440.6 L1518.4,440.3" stroke="#d2d2d2" stroke-width="3.8" fill="none" stroke-linejoin="round" stroke-linecap="round"/><path d="M1527.6,320.8 L1535.9,332.2 L1530.1,345.1" stroke="#d2d2d2" stroke-width="3.8" fill="none" stroke-linejoin="round" stroke-linecap="round"/><path d="M1579.6,538.1 L1593.6,536.6 L1599.4,523.7 L1613.5,522.2" stroke="#c4c4c4" stroke-width="3.8" fill="none" stroke-linejoin="round" stroke-linecap="round"/><path d="M1495.0,395.0 L1483.4,396.6 L1479.0,407.4" stroke="#c4c4c4" stroke-width="3.8" fill="none" stroke-linejoin="round" stroke-linecap="round"/><path d="M1575.0,272.0 L1560.9,272.2 L1554.0,284.5 L1539.8,284.7" stroke="#c4c4c4" stroke-width="3.8" fill="none" stroke-linejoin="round" stroke-linecap="round"/><path d="M1447.7,189.7 L1441.7,177.2 L1427.9,176.1 L1421.9,163.6" stroke="#d2d2d2" stroke-width="3.8" fill="none" stroke-linejoin="round" stroke-linecap="round"/><path d="M1467.0,462.0 L1461.3,452.1 L1467.0,442.2" stroke="#d2d2d2" stroke-width="3.8" fill="none" stroke-linejoin="round" stroke-linecap="round"/><path d="M1653.3,269.9 L1640.3,271.0 L1632.9,260.2" stroke="#c4c4c4" stroke-width="3.8" fill="none" stroke-linejoin="round" stroke-linecap="round"/><path d="M1432.1,213.1 L1426.5,204.2 L1431.5,194.9 L1442.0,194.6" stroke="#c4c4c4" stroke-width="3.8" fill="none" stroke-linejoin="round" stroke-linecap="round"/><path d="M1512.9,422.7 L1518.9,431.9 L1513.9,441.7" stroke="#b0b0b0" stroke-width="3.8" fill="none" stroke-linejoin="round" stroke-linecap="round"/><path d="M1389.9,110.5 L1384.1,101.9 L1373.7,102.6" stroke="#bdbdbd" stroke-width="3.8" fill="none" stroke-linejoin="round" stroke-linecap="round"/><path d="M1411.4,534.2 L1405.4,524.1 L1411.1,513.9" stroke="#b0b0b0" stroke-width="3.8" fill="none" stroke-linejoin="round" stroke-linecap="round"/><path d="M1401.0,115.7 L1389.8,116.4 L1384.9,126.4" stroke="#c4c4c4" stroke-width="3.8" fill="none" stroke-linejoin="round" stroke-linecap="round"/><path d="M1427.1,356.2 L1418.5,367.7 L1404.2,366.0" stroke="#c4c4c4" stroke-width="3.8" fill="none" stroke-linejoin="round" stroke-linecap="round"/><path d="M1289.0,244.2 L1281.9,256.8 L1289.2,269.3 L1303.8,269.2" stroke="#b0b0b0" stroke-width="3.8" fill="none" stroke-linejoin="round" stroke-linecap="round"/><path d="M1471.2,220.9 L1485.3,219.6 L1493.4,231.1 L1507.5,229.7" stroke="#d2d2d2" stroke-width="3.8" fill="none" stroke-linejoin="round" stroke-linecap="round"/><path d="M1470.0,368.0 L1474.2,358.4 L1468.0,350.0" stroke="#c4c4c4" stroke-width="3.8" fill="none" stroke-linejoin="round" stroke-linecap="round"/><path d="M1612.6,362.7 L1624.9,361.5 L1632.1,371.7 L1626.9,383.0" stroke="#bdbdbd" stroke-width="3.8" fill="none" stroke-linejoin="round" stroke-linecap="round"/><path d="M1443.7,136.0 L1437.6,146.4 L1425.6,146.3" stroke="#c4c4c4" stroke-width="3.8" fill="none" stroke-linejoin="round" stroke-linecap="round"/><path d="M1300.0,188.2 L1286.2,187.3 L1278.5,198.8" stroke="#b0b0b0" stroke-width="3.8" fill="none" stroke-linejoin="round" stroke-linecap="round"/><path d="M1462.9,200.3 L1469.0,191.9 L1479.3,193.0" stroke="#bdbdbd" stroke-width="3.8" fill="none" stroke-linejoin="round" stroke-linecap="round"/><path d="M1477.2,519.2 L1489.9,519.3 L1496.2,530.4" stroke="#bdbdbd" stroke-width="3.8" fill="none" stroke-linejoin="round" stroke-linecap="round"/><path d="M1362.7,233.8 L1378.1,235.0 L1386.8,222.2" stroke="#bdbdbd" stroke-width="3.8" fill="none" stroke-linejoin="round" stroke-linecap="round"/><path d="M1399.8,296.1 L1384.2,294.8 L1377.6,280.7" stroke="#c4c4c4" stroke-width="3.8" fill="none" stroke-linejoin="round" stroke-linecap="round"/><path d="M1386.1,436.5 L1392.8,448.1 L1386.1,459.7" stroke="#c4c4c4" stroke-width="3.8" fill="none" stroke-linejoin="round" stroke-linecap="round"/><path d="M1515.9,540.7 L1528.2,539.6 L1533.4,528.3" stroke="#d2d2d2" stroke-width="3.8" fill="none" stroke-linejoin="round" stroke-linecap="round"/><path d="M1438.0,467.7 L1432.1,458.0 L1420.8,458.2 L1415.0,448.6" stroke="#c4c4c4" stroke-width="3.8" fill="none" stroke-linejoin="round" stroke-linecap="round"/><path d="M1526.5,91.3 L1521.2,82.3 L1510.8,82.4 L1505.7,91.5" stroke="#c4c4c4" stroke-width="3.8" fill="none" stroke-linejoin="round" stroke-linecap="round"/><path d="M1562.9,517.6 L1556.4,505.8 L1563.4,494.4" stroke="#d2d2d2" stroke-width="3.8" fill="none" stroke-linejoin="round" stroke-linecap="round"/><path d="M1408.9,536.2 L1400.9,523.4 L1407.9,510.0 L1399.9,497.1" stroke="#bdbdbd" stroke-width="3.8" fill="none" stroke-linejoin="round" stroke-linecap="round"/><path d="M1236.3,247.7 L1243.6,237.8 L1255.8,239.1" stroke="#d2d2d2" stroke-width="3.8" fill="none" stroke-linejoin="round" stroke-linecap="round"/><path d="M1374.0,413.1 L1361.1,414.6 L1356.0,426.5 L1343.1,428.1" stroke="#c4c4c4" stroke-width="3.8" fill="none" stroke-linejoin="round" stroke-linecap="round"/><path d="M1322.1,300.7 L1334.6,301.2 L1340.4,312.3" stroke="#d2d2d2" stroke-width="3.8" fill="none" stroke-linejoin="round" stroke-linecap="round"/><path d="M1342.0,247.2 L1337.1,235.4 L1324.4,233.8" stroke="#c4c4c4" stroke-width="3.8" fill="none" stroke-linejoin="round" stroke-linecap="round"/><path d="M1640.7,351.8 L1635.5,339.7 L1643.5,329.2 L1656.6,330.8" stroke="#d2d2d2" stroke-width="3.8" fill="none" stroke-linejoin="round" stroke-linecap="round"/><path d="M1338.9,553.3 L1331.4,541.9 L1317.8,542.7" stroke="#bdbdbd" stroke-width="3.8" fill="none" stroke-linejoin="round" stroke-linecap="round"/><path d="M1410.5,425.9 L1401.2,425.2 L1396.0,433.0" stroke="#bdbdbd" stroke-width="3.8" fill="none" stroke-linejoin="round" stroke-linecap="round"/><path d="M1572.2,313.5 L1588.1,314.0 L1595.6,328.0" stroke="#b0b0b0" stroke-width="3.8" fill="none" stroke-linejoin="round" stroke-linecap="round"/><path d="M1414.7,382.5 L1428.2,382.2 L1434.7,370.4" stroke="#bdbdbd" stroke-width="3.8" fill="none" stroke-linejoin="round" stroke-linecap="round"/><path d="M1358.9,333.8 L1344.0,334.8 L1337.4,348.2" stroke="#bdbdbd" stroke-width="3.8" fill="none" stroke-linejoin="round" stroke-linecap="round"/><path d="M1690.2,331.1 L1703.7,332.6 L1711.7,321.6" stroke="#d2d2d2" stroke-width="3.8" fill="none" stroke-linejoin="round" stroke-linecap="round"/><path d="M1333.7,84.0 L1342.9,84.1 L1347.6,76.1" stroke="#bdbdbd" stroke-width="3.8" fill="none" stroke-linejoin="round" stroke-linecap="round"/><path d="M1446.5,179.5 L1439.8,170.3 L1444.4,159.9" stroke="#bdbdbd" stroke-width="3.8" fill="none" stroke-linejoin="round" stroke-linecap="round"/><path d="M1428.8,458.6 L1423.3,469.0 L1429.6,478.9 L1424.1,489.3" stroke="#d2d2d2" stroke-width="3.8" fill="none" stroke-linejoin="round" stroke-linecap="round"/><path d="M1499.0,310.2 L1503.5,299.9 L1514.7,298.6 L1519.1,288.2" stroke="#c4c4c4" stroke-width="3.8" fill="none" stroke-linejoin="round" stroke-linecap="round"/><path d="M1359.7,543.6 L1372.9,542.8 L1378.9,531.0 L1371.7,520.0" stroke="#d2d2d2" stroke-width="3.8" fill="none" stroke-linejoin="round" stroke-linecap="round"/><path d="M1666.7,237.7 L1674.0,228.0 L1686.0,229.4 L1690.7,240.5" stroke="#d2d2d2" stroke-width="3.8" fill="none" stroke-linejoin="round" stroke-linecap="round"/><path d="M1575.8,338.4 L1566.3,339.7 L1562.7,348.5 L1553.2,349.8" stroke="#b0b0b0" stroke-width="3.8" fill="none" stroke-linejoin="round" stroke-linecap="round"/><path d="M1478.4,504.9 L1473.2,516.8 L1481.0,527.2 L1493.8,525.7" stroke="#c4c4c4" stroke-width="3.8" fill="none" stroke-linejoin="round" stroke-linecap="round"/><path d="M1480.2,365.1 L1473.7,350.7 L1482.8,337.9 L1476.3,323.6" stroke="#d2d2d2" stroke-width="3.8" fill="none" stroke-linejoin="round" stroke-linecap="round"/><path d="M1584.1,407.5 L1578.8,416.8 L1568.0,416.8 L1562.6,407.5" stroke="#d2d2d2" stroke-width="3.8" fill="none" stroke-linejoin="round" stroke-linecap="round"/><path d="M1615.7,243.1 L1610.7,251.7 L1600.7,251.6" stroke="#d2d2d2" stroke-width="3.8" fill="none" stroke-linejoin="round" stroke-linecap="round"/><path d="M1469.8,439.2 L1461.0,451.0 L1466.8,464.4" stroke="#b0b0b0" stroke-width="3.8" fill="none" stroke-linejoin="round" stroke-linecap="round"/><path d="M1400.5,345.1 L1406.0,354.5 L1417.0,354.4" stroke="#bdbdbd" stroke-width="3.8" fill="none" stroke-linejoin="round" stroke-linecap="round"/><path d="M1208.8,320.2 L1194.3,321.8 L1188.4,335.1" stroke="#bdbdbd" stroke-width="3.8" fill="none" stroke-linejoin="round" stroke-linecap="round"/><path d="M1509.0,315.4 L1501.8,305.1 L1489.3,306.2 L1482.1,295.9" stroke="#b0b0b0" stroke-width="3.8" fill="none" stroke-linejoin="round" stroke-linecap="round"/><path d="M1405.7,183.1 L1399.6,190.9 L1403.4,200.1 L1413.3,201.4" stroke="#b0b0b0" stroke-width="3.8" fill="none" stroke-linejoin="round" stroke-linecap="round"/><path d="M1327.0,289.1 L1320.7,302.9 L1305.6,304.4 L1299.4,318.1" stroke="#d2d2d2" stroke-width="3.8" fill="none" stroke-linejoin="round" stroke-linecap="round"/><path d="M1494.5,162.7 L1488.5,171.2 L1478.1,170.3" stroke="#c4c4c4" stroke-width="3.8" fill="none" stroke-linejoin="round" stroke-linecap="round"/><path d="M1602.4,298.9 L1597.9,290.8 L1602.5,282.9" stroke="#d2d2d2" stroke-width="3.8" fill="none" stroke-linejoin="round" stroke-linecap="round"/><path d="M1408.8,359.3 L1401.7,345.0 L1385.7,344.1 L1376.9,357.4" stroke="#b0b0b0" stroke-width="3.8" fill="none" stroke-linejoin="round" stroke-linecap="round"/><path d="M1604.0,133.4 L1597.3,143.5 L1585.2,142.8 L1578.5,152.9" stroke="#b0b0b0" stroke-width="3.8" fill="none" stroke-linejoin="round" stroke-linecap="round"/><path d="M1588.8,358.9 L1584.7,367.6 L1575.1,368.4" stroke="#d2d2d2" stroke-width="3.8" fill="none" stroke-linejoin="round" stroke-linecap="round"/><path d="M1489.8,446.4 L1485.3,456.8 L1492.1,465.9" stroke="#bdbdbd" stroke-width="3.8" fill="none" stroke-linejoin="round" stroke-linecap="round"/><path d="M1292.6,279.2 L1277.8,278.3 L1269.6,290.8" stroke="#bdbdbd" stroke-width="3.8" fill="none" stroke-linejoin="round" stroke-linecap="round"/><path d="M1708.5,295.6 L1714.2,308.8 L1728.5,310.5 L1737.1,299.0" stroke="#b0b0b0" stroke-width="3.8" fill="none" stroke-linejoin="round" stroke-linecap="round"/><path d="M1515.7,235.2 L1507.9,247.4 L1493.4,246.8" stroke="#bdbdbd" stroke-width="3.8" fill="none" stroke-linejoin="round" stroke-linecap="round"/><path d="M1376.3,408.4 L1370.7,400.4 L1361.0,401.2 L1356.8,410.0" stroke="#d2d2d2" stroke-width="3.8" fill="none" stroke-linejoin="round" stroke-linecap="round"/><path d="M1482.4,253.3 L1494.9,253.6 L1501.3,242.9" stroke="#bdbdbd" stroke-width="3.8" fill="none" stroke-linejoin="round" stroke-linecap="round"/><path d="M1600.0,140.9 L1593.2,151.2 L1580.9,150.5 L1575.3,139.5" stroke="#b0b0b0" stroke-width="3.8" fill="none" stroke-linejoin="round" stroke-linecap="round"/><path d="M1575.8,194.1 L1562.9,193.9 L1556.6,182.5 L1543.6,182.3" stroke="#c4c4c4" stroke-width="3.8" fill="none" stroke-linejoin="round" stroke-linecap="round"/><path d="M1590.5,258.8 L1595.7,250.1 L1590.8,241.2" stroke="#b0b0b0" stroke-width="3.8" fill="none" stroke-linejoin="round" stroke-linecap="round"/><path d="M1358.4,419.0 L1351.0,431.1 L1357.7,443.6" stroke="#b0b0b0" stroke-width="3.8" fill="none" stroke-linejoin="round" stroke-linecap="round"/><path d="M1441.0,144.4 L1429.3,144.7 L1423.2,134.7 L1411.5,135.0" stroke="#d2d2d2" stroke-width="3.8" fill="none" stroke-linejoin="round" stroke-linecap="round"/><path d="M1407.6,328.7 L1397.9,329.0 L1392.9,320.7 L1397.5,312.1" stroke="#b0b0b0" stroke-width="3.8" fill="none" stroke-linejoin="round" stroke-linecap="round"/><path d="M1624.9,131.0 L1629.4,122.3 L1624.1,114.1 L1628.6,105.4" stroke="#c4c4c4" stroke-width="3.8" fill="none" stroke-linejoin="round" stroke-linecap="round"/><path d="M1352.5,390.4 L1346.2,400.7 L1351.9,411.3 L1363.9,411.6" stroke="#b0b0b0" stroke-width="3.8" fill="none" stroke-linejoin="round" stroke-linecap="round"/><path d="M1700.9,317.4 L1710.6,317.5 L1715.6,309.1 L1725.3,309.2" stroke="#b0b0b0" stroke-width="3.8" fill="none" stroke-linejoin="round" stroke-linecap="round"/><path d="M1490.4,155.3 L1483.4,166.9 L1490.0,178.8" stroke="#c4c4c4" stroke-width="3.8" fill="none" stroke-linejoin="round" stroke-linecap="round"/><path d="M1433.4,224.0 L1441.0,235.8 L1434.6,248.4" stroke="#b0b0b0" stroke-width="3.8" fill="none" stroke-linejoin="round" stroke-linecap="round"/><path d="M1318.9,229.2 L1325.5,239.4 L1320.0,250.3 L1326.6,260.5" stroke="#bdbdbd" stroke-width="3.8" fill="none" stroke-linejoin="round" stroke-linecap="round"/><path d="M1352.1,549.8 L1345.2,563.4 L1353.5,576.2 L1368.7,575.4" stroke="#bdbdbd" stroke-width="3.8" fill="none" stroke-linejoin="round" stroke-linecap="round"/><path d="M1474.5,192.8 L1481.8,206.7 L1473.4,219.9 L1457.8,219.3" stroke="#bdbdbd" stroke-width="3.8" fill="none" stroke-linejoin="round" stroke-linecap="round"/><path d="M1601.1,285.9 L1591.0,287.0 L1586.9,296.3" stroke="#bdbdbd" stroke-width="3.8" fill="none" stroke-linejoin="round" stroke-linecap="round"/><path d="M1458.2,223.6 L1452.8,214.2 L1458.4,204.7" stroke="#bdbdbd" stroke-width="3.8" fill="none" stroke-linejoin="round" stroke-linecap="round"/><path d="M1543.5,214.0 L1550.4,225.6 L1563.9,225.4" stroke="#c4c4c4" stroke-width="3.8" fill="none" stroke-linejoin="round" stroke-linecap="round"/><path d="M1492.8,155.5 L1508.7,154.4 L1515.6,140.1 L1506.7,126.9" stroke="#c4c4c4" stroke-width="3.8" fill="none" stroke-linejoin="round" stroke-linecap="round"/><path d="M1520.3,546.5 L1528.1,536.1 L1523.0,524.0 L1510.0,522.5" stroke="#d2d2d2" stroke-width="3.8" fill="none" stroke-linejoin="round" stroke-linecap="round"/><path d="M1365.2,321.4 L1369.8,329.4 L1379.0,329.4" stroke="#b0b0b0" stroke-width="3.8" fill="none" stroke-linejoin="round" stroke-linecap="round"/><path d="M1321.2,299.0 L1335.6,300.2 L1341.7,313.2" stroke="#bdbdbd" stroke-width="3.8" fill="none" stroke-linejoin="round" stroke-linecap="round"/><path d="M1430.9,527.9 L1435.2,517.5 L1446.4,516.0 L1453.3,524.9" stroke="#c4c4c4" stroke-width="3.8" fill="none" stroke-linejoin="round" stroke-linecap="round"/><path d="M1493.0,352.5 L1485.3,364.8 L1470.7,364.3" stroke="#c4c4c4" stroke-width="3.8" fill="none" stroke-linejoin="round" stroke-linecap="round"/><path d="M1594.1,329.1 L1580.6,330.4 L1575.0,342.7 L1561.5,343.9" stroke="#b0b0b0" stroke-width="3.8" fill="none" stroke-linejoin="round" stroke-linecap="round"/><path d="M1231.5,283.5 L1243.0,284.2 L1248.2,294.5" stroke="#bdbdbd" stroke-width="3.8" fill="none" stroke-linejoin="round" stroke-linecap="round"/><path d="M1583.6,90.4 L1588.0,80.7 L1598.7,79.6 L1604.9,88.3" stroke="#c4c4c4" stroke-width="3.8" fill="none" stroke-linejoin="round" stroke-linecap="round"/><path d="M1515.4,223.8 L1525.2,223.5 L1530.4,231.9" stroke="#d2d2d2" stroke-width="3.8" fill="none" stroke-linejoin="round" stroke-linecap="round"/><path d="M1514.6,90.6 L1510.2,79.7 L1517.4,70.4 L1529.1,72.0" stroke="#bdbdbd" stroke-width="3.8" fill="none" stroke-linejoin="round" stroke-linecap="round"/><path d="M1310.9,250.7 L1300.7,249.8 L1296.3,240.5 L1286.1,239.6" stroke="#b0b0b0" stroke-width="3.8" fill="none" stroke-linejoin="round" stroke-linecap="round"/><path d="M1591.2,315.7 L1585.5,304.7 L1592.3,294.2 L1604.7,294.9" stroke="#c4c4c4" stroke-width="3.8" fill="none" stroke-linejoin="round" stroke-linecap="round"/><path d="M1467.2,455.6 L1474.8,445.6 L1469.8,434.0" stroke="#d2d2d2" stroke-width="3.8" fill="none" stroke-linejoin="round" stroke-linecap="round"/><path d="M1600.1,141.3 L1606.6,149.7 L1602.6,159.6 L1609.1,168.1" stroke="#b0b0b0" stroke-width="3.8" fill="none" stroke-linejoin="round" stroke-linecap="round"/><path d="M1402.9,193.9 L1412.2,194.0 L1416.9,185.9" stroke="#d2d2d2" stroke-width="3.8" fill="none" stroke-linejoin="round" stroke-linecap="round"/><path d="M1411.5,318.9 L1419.1,307.3 L1432.9,308.1 L1439.2,320.5" stroke="#bdbdbd" stroke-width="3.8" fill="none" stroke-linejoin="round" stroke-linecap="round"/><path d="M1390.8,387.9 L1396.4,379.6 L1406.3,380.3 L1411.9,372.0" stroke="#bdbdbd" stroke-width="3.8" fill="none" stroke-linejoin="round" stroke-linecap="round"/><path d="M1487.4,253.8 L1493.0,261.9 L1488.7,270.8 L1494.2,278.9" stroke="#b0b0b0" stroke-width="3.8" fill="none" stroke-linejoin="round" stroke-linecap="round"/><path d="M1595.7,252.4 L1601.2,239.5 L1592.9,228.3 L1598.5,215.5" stroke="#d2d2d2" stroke-width="3.8" fill="none" stroke-linejoin="round" stroke-linecap="round"/><path d="M1561.2,357.7 L1566.8,370.4 L1580.6,372.0" stroke="#b0b0b0" stroke-width="3.8" fill="none" stroke-linejoin="round" stroke-linecap="round"/><path d="M1340.1,266.1 L1325.2,266.3 L1317.8,279.3 L1325.4,292.1" stroke="#c4c4c4" stroke-width="3.8" fill="none" stroke-linejoin="round" stroke-linecap="round"/><path d="M1378.7,533.7 L1365.8,532.6 L1360.4,520.8" stroke="#d2d2d2" stroke-width="3.8" fill="none" stroke-linejoin="round" stroke-linecap="round"/><path d="M1691.6,258.6 L1684.3,269.3 L1671.3,268.3" stroke="#c4c4c4" stroke-width="3.8" fill="none" stroke-linejoin="round" stroke-linecap="round"/><path d="M1342.2,501.4 L1333.0,513.4 L1338.8,527.4 L1329.6,539.5" stroke="#d2d2d2" stroke-width="3.8" fill="none" stroke-linejoin="round" stroke-linecap="round"/><path d="M1338.9,204.2 L1328.5,205.7 L1324.6,215.5 L1314.1,216.9" stroke="#c4c4c4" stroke-width="3.8" fill="none" stroke-linejoin="round" stroke-linecap="round"/><path d="M1521.6,361.6 L1529.8,373.9 L1523.2,387.2" stroke="#bdbdbd" stroke-width="3.8" fill="none" stroke-linejoin="round" stroke-linecap="round"/><path d="M1558.1,427.0 L1551.6,441.3 L1535.9,442.8 L1526.8,430.0" stroke="#d2d2d2" stroke-width="3.8" fill="none" stroke-linejoin="round" stroke-linecap="round"/><path d="M1388.9,417.4 L1381.9,407.0 L1369.5,407.9 L1364.0,419.1" stroke="#c4c4c4" stroke-width="3.8" fill="none" stroke-linejoin="round" stroke-linecap="round"/><path d="M1359.7,511.5 L1372.3,511.4 L1378.7,522.3" stroke="#c4c4c4" stroke-width="3.8" fill="none" stroke-linejoin="round" stroke-linecap="round"/><path d="M1580.8,430.8 L1574.8,421.9 L1579.5,412.2 L1573.5,403.2" stroke="#bdbdbd" stroke-width="3.8" fill="none" stroke-linejoin="round" stroke-linecap="round"/><path d="M1492.2,288.7 L1478.3,287.8 L1470.6,299.4 L1476.7,311.9" stroke="#b0b0b0" stroke-width="3.8" fill="none" stroke-linejoin="round" stroke-linecap="round"/><path d="M1519.9,221.8 L1526.8,233.5 L1520.1,245.3" stroke="#b0b0b0" stroke-width="3.8" fill="none" stroke-linejoin="round" stroke-linecap="round"/><path d="M1399.1,423.2 L1409.1,423.8 L1414.6,415.5" stroke="#d2d2d2" stroke-width="3.8" fill="none" stroke-linejoin="round" stroke-linecap="round"/><path d="M1383.6,350.0 L1375.7,337.7 L1361.1,338.4" stroke="#d2d2d2" stroke-width="3.8" fill="none" stroke-linejoin="round" stroke-linecap="round"/><path d="M1234.7,298.2 L1249.8,297.3 L1256.5,283.8 L1271.6,282.8" stroke="#bdbdbd" stroke-width="3.8" fill="none" stroke-linejoin="round" stroke-linecap="round"/><path d="M1481.2,486.1 L1475.4,494.3 L1465.4,493.3 L1459.6,501.5" stroke="#bdbdbd" stroke-width="3.8" fill="none" stroke-linejoin="round" stroke-linecap="round"/><path d="M1366.7,80.0 L1360.9,91.6 L1348.0,92.4 L1342.2,104.1" stroke="#c4c4c4" stroke-width="3.8" fill="none" stroke-linejoin="round" stroke-linecap="round"/><path d="M1448.3,260.2 L1454.6,269.0 L1465.4,268.0" stroke="#c4c4c4" stroke-width="3.8" fill="none" stroke-linejoin="round" stroke-linecap="round"/><path d="M1413.5,489.6 L1420.2,499.3 L1431.9,498.4 L1438.6,508.1" stroke="#bdbdbd" stroke-width="3.8" fill="none" stroke-linejoin="round" stroke-linecap="round"/><path d="M1712.1,300.5 L1703.1,288.7 L1688.4,290.5" stroke="#c4c4c4" stroke-width="3.8" fill="none" stroke-linejoin="round" stroke-linecap="round"/><path d="M1339.6,82.5 L1346.1,71.3 L1339.7,60.1" stroke="#d2d2d2" stroke-width="3.8" fill="none" stroke-linejoin="round" stroke-linecap="round"/><path d="M1205.7,344.2 L1198.3,331.5 L1205.6,318.8 L1220.3,318.7" stroke="#b0b0b0" stroke-width="3.8" fill="none" stroke-linejoin="round" stroke-linecap="round"/><path d="M1317.0,272.0 L1328.6,271.2 L1335.0,280.9 L1329.8,291.3" stroke="#d2d2d2" stroke-width="3.8" fill="none" stroke-linejoin="round" stroke-linecap="round"/><path d="M1506.0,207.6 L1501.5,217.1 L1507.5,225.7" stroke="#bdbdbd" stroke-width="3.8" fill="none" stroke-linejoin="round" stroke-linecap="round"/><path d="M1211.3,277.9 L1215.6,269.5 L1210.5,261.7" stroke="#d2d2d2" stroke-width="3.8" fill="none" stroke-linejoin="round" stroke-linecap="round"/><path d="M1498.1,237.2 L1491.9,247.9 L1498.1,258.5" stroke="#b0b0b0" stroke-width="3.8" fill="none" stroke-linejoin="round" stroke-linecap="round"/><path d="M1688.1,237.6 L1693.1,246.5 L1687.9,255.4" stroke="#c4c4c4" stroke-width="3.8" fill="none" stroke-linejoin="round" stroke-linecap="round"/><path d="M1523.7,332.5 L1531.4,343.0 L1526.1,354.9 L1513.2,356.2" stroke="#b0b0b0" stroke-width="3.8" fill="none" stroke-linejoin="round" stroke-linecap="round"/><path d="M1458.3,265.2 L1464.6,276.3 L1458.2,287.4" stroke="#d2d2d2" stroke-width="3.8" fill="none" stroke-linejoin="round" stroke-linecap="round"/><path d="M1505.6,379.2 L1497.7,392.5 L1482.2,392.4 L1474.3,405.7" stroke="#b0b0b0" stroke-width="3.8" fill="none" stroke-linejoin="round" stroke-linecap="round"/><path d="M1709.6,279.1 L1724.6,280.2 L1733.0,267.7 L1726.4,254.1" stroke="#bdbdbd" stroke-width="3.8" fill="none" stroke-linejoin="round" stroke-linecap="round"/><path d="M1566.5,200.4 L1558.2,188.3 L1543.6,189.5" stroke="#b0b0b0" stroke-width="3.8" fill="none" stroke-linejoin="round" stroke-linecap="round"/><path d="M1344.0,404.7 L1334.5,404.9 L1329.9,413.2 L1320.4,413.4" stroke="#c4c4c4" stroke-width="3.8" fill="none" stroke-linejoin="round" stroke-linecap="round"/><path d="M1597.0,355.6 L1612.2,357.0 L1618.7,370.9" stroke="#c4c4c4" stroke-width="3.8" fill="none" stroke-linejoin="round" stroke-linecap="round"/><path d="M1313.1,220.0 L1318.7,209.5 L1312.4,199.4 L1300.5,199.8" stroke="#bdbdbd" stroke-width="3.8" fill="none" stroke-linejoin="round" stroke-linecap="round"/><path d="M1474.1,234.5 L1466.0,248.0 L1473.7,261.7 L1465.6,275.2" stroke="#d2d2d2" stroke-width="3.8" fill="none" stroke-linejoin="round" stroke-linecap="round"/><path d="M1333.2,248.9 L1340.8,259.8 L1335.1,271.9" stroke="#d2d2d2" stroke-width="3.8" fill="none" stroke-linejoin="round" stroke-linecap="round"/><path d="M1596.4,174.1 L1586.9,174.3 L1582.0,166.2 L1572.5,166.4" stroke="#c4c4c4" stroke-width="3.8" fill="none" stroke-linejoin="round" stroke-linecap="round"/><path d="M1685.0,250.1 L1678.0,262.2 L1685.0,274.2" stroke="#d2d2d2" stroke-width="3.8" fill="none" stroke-linejoin="round" stroke-linecap="round"/><path d="M1445.9,173.3 L1440.1,183.7 L1428.2,183.9" stroke="#d2d2d2" stroke-width="3.8" fill="none" stroke-linejoin="round" stroke-linecap="round"/><path d="M1344.9,299.3 L1352.1,313.2 L1367.8,313.9" stroke="#b0b0b0" stroke-width="3.8" fill="none" stroke-linejoin="round" stroke-linecap="round"/><path d="M1393.0,378.5 L1385.8,391.7 L1393.6,404.6 L1408.7,404.3" stroke="#b0b0b0" stroke-width="3.8" fill="none" stroke-linejoin="round" stroke-linecap="round"/><path d="M1572.4,418.0 L1577.6,428.1 L1589.0,428.6" stroke="#d2d2d2" stroke-width="3.8" fill="none" stroke-linejoin="round" stroke-linecap="round"/><path d="M1423.2,189.6 L1428.0,201.4 L1420.1,211.5" stroke="#bdbdbd" stroke-width="3.8" fill="none" stroke-linejoin="round" stroke-linecap="round"/><path d="M1466.7,373.8 L1479.2,373.9 L1485.5,363.1" stroke="#bdbdbd" stroke-width="3.8" fill="none" stroke-linejoin="round" stroke-linecap="round"/><path d="M1423.1,151.0 L1427.6,161.7 L1420.6,170.9" stroke="#b0b0b0" stroke-width="3.8" fill="none" stroke-linejoin="round" stroke-linecap="round"/><path d="M1476.0,347.5 L1480.4,338.8 L1475.0,330.6" stroke="#bdbdbd" stroke-width="3.8" fill="none" stroke-linejoin="round" stroke-linecap="round"/><path d="M1541.3,335.0 L1530.2,334.2 L1525.3,324.1" stroke="#c4c4c4" stroke-width="3.8" fill="none" stroke-linejoin="round" stroke-linecap="round"/><path d="M1287.7,124.3 L1293.4,116.2 L1289.1,107.2" stroke="#b0b0b0" stroke-width="3.8" fill="none" stroke-linejoin="round" stroke-linecap="round"/><path d="M1623.5,189.0 L1631.6,176.9 L1646.1,177.9 L1654.2,165.7" stroke="#b0b0b0" stroke-width="3.8" fill="none" stroke-linejoin="round" stroke-linecap="round"/><path d="M1256.8,226.4 L1272.5,227.5 L1279.4,241.7" stroke="#d2d2d2" stroke-width="3.8" fill="none" stroke-linejoin="round" stroke-linecap="round"/><path d="M1369.3,324.3 L1377.5,313.5 L1391.0,315.1" stroke="#d2d2d2" stroke-width="3.8" fill="none" stroke-linejoin="round" stroke-linecap="round"/><path d="M1580.8,204.3 L1575.8,193.8 L1582.4,184.3 L1593.9,185.3" stroke="#b0b0b0" stroke-width="3.8" fill="none" stroke-linejoin="round" stroke-linecap="round"/><path d="M1260.2,231.8 L1253.7,242.8 L1260.0,253.8 L1272.7,253.9" stroke="#d2d2d2" stroke-width="3.8" fill="none" stroke-linejoin="round" stroke-linecap="round"/><path d="M1216.7,257.0 L1201.1,255.9 L1194.2,241.8 L1203.0,228.8" stroke="#c4c4c4" stroke-width="3.8" fill="none" stroke-linejoin="round" stroke-linecap="round"/><path d="M1694.8,260.1 L1700.3,272.1 L1692.6,282.9" stroke="#bdbdbd" stroke-width="3.8" fill="none" stroke-linejoin="round" stroke-linecap="round"/><path d="M1588.2,97.6 L1578.6,97.3 L1573.9,88.9 L1564.3,88.6" stroke="#d2d2d2" stroke-width="3.8" fill="none" stroke-linejoin="round" stroke-linecap="round"/><path d="M1494.7,120.6 L1506.4,121.7 L1511.3,132.4 L1523.1,133.4" stroke="#bdbdbd" stroke-width="3.8" fill="none" stroke-linejoin="round" stroke-linecap="round"/><path d="M1528.9,81.6 L1520.9,94.9 L1505.3,94.6" stroke="#d2d2d2" stroke-width="3.8" fill="none" stroke-linejoin="round" stroke-linecap="round"/><path d="M1602.4,299.1 L1594.4,310.9 L1580.2,309.9 L1574.0,297.0" stroke="#c4c4c4" stroke-width="3.8" fill="none" stroke-linejoin="round" stroke-linecap="round"/><path d="M1566.7,435.6 L1562.1,424.7 L1550.4,423.2" stroke="#b0b0b0" stroke-width="3.8" fill="none" stroke-linejoin="round" stroke-linecap="round"/><path d="M1341.1,282.0 L1332.4,269.4 L1338.9,255.6 L1354.1,254.3" stroke="#b0b0b0" stroke-width="3.8" fill="none" stroke-linejoin="round" stroke-linecap="round"/><path d="M1304.1,250.1 L1294.0,250.4 L1288.6,241.8 L1293.3,232.8" stroke="#bdbdbd" stroke-width="3.8" fill="none" stroke-linejoin="round" stroke-linecap="round"/><path d="M1320.3,205.9 L1325.7,192.8 L1339.7,191.1" stroke="#bdbdbd" stroke-width="3.8" fill="none" stroke-linejoin="round" stroke-linecap="round"/><path d="M1569.0,295.0 L1574.6,282.9 L1587.9,281.7 L1595.5,292.6" stroke="#c4c4c4" stroke-width="3.8" fill="none" stroke-linejoin="round" stroke-linecap="round"/><path d="M1252.7,229.4 L1261.9,217.6 L1276.6,219.7 L1282.3,233.5" stroke="#b0b0b0" stroke-width="3.8" fill="none" stroke-linejoin="round" stroke-linecap="round"/><path d="M1312.5,173.6 L1299.8,174.2 L1293.9,185.5" stroke="#d2d2d2" stroke-width="3.8" fill="none" stroke-linejoin="round" stroke-linecap="round"/><path d="M1349.8,516.0 L1358.1,527.3 L1372.1,525.8 L1380.5,537.2" stroke="#d2d2d2" stroke-width="3.8" fill="none" stroke-linejoin="round" stroke-linecap="round"/><path d="M1347.5,361.6 L1353.5,370.6 L1364.4,369.9 L1370.4,379.0" stroke="#bdbdbd" stroke-width="3.8" fill="none" stroke-linejoin="round" stroke-linecap="round"/><path d="M1623.3,353.1 L1628.7,343.9 L1639.4,344.0 L1644.6,353.3" stroke="#a2a2a2" stroke-width="4" fill="none" stroke-linejoin="round" stroke-linecap="round"/><circle cx="1626.0" cy="348.5" r="2.4" fill="#8ee88e"/><path d="M1682.4,258.6 L1675.5,270.7 L1661.5,270.7 L1654.6,282.8" stroke="#a2a2a2" stroke-width="4" fill="none" stroke-linejoin="round" stroke-linecap="round"/><path d="M1460.4,364.3 L1472.1,363.3 L1477.1,352.6 L1488.7,351.6" stroke="#a2a2a2" stroke-width="4" fill="none" stroke-linejoin="round" stroke-linecap="round"/><path d="M1252.5,364.0 L1258.2,373.0" stroke="#a2a2a2" stroke-width="4" fill="none" stroke-linejoin="round" stroke-linecap="round"/><path d="M1412.8,144.3 L1398.3,144.2 L1391.0,156.7" stroke="#a2a2a2" stroke-width="4" fill="none" stroke-linejoin="round" stroke-linecap="round"/><path d="M1382.4,329.5 L1393.4,328.6" stroke="#a2a2a2" stroke-width="4" fill="none" stroke-linejoin="round" stroke-linecap="round"/><circle cx="1387.9" cy="329.0" r="2.4" fill="#8ee88e"/><path d="M1557.1,85.4 L1563.4,72.0 L1578.0,70.8" stroke="#a2a2a2" stroke-width="4" fill="none" stroke-linejoin="round" stroke-linecap="round"/><circle cx="1560.3" cy="78.7" r="2.4" fill="#8ee88e"/><path d="M1478.7,523.7 L1474.2,513.9" stroke="#a2a2a2" stroke-width="4" fill="none" stroke-linejoin="round" stroke-linecap="round"/><path d="M1662.6,234.4 L1651.8,235.2" stroke="#a2a2a2" stroke-width="4" fill="none" stroke-linejoin="round" stroke-linecap="round"/><circle cx="1657.2" cy="234.8" r="2.4" fill="#8ee88e"/><path d="M1467.7,371.6 L1473.3,359.0" stroke="#a2a2a2" stroke-width="4" fill="none" stroke-linejoin="round" stroke-linecap="round"/><path d="M1335.1,374.5 L1322.4,374.5 L1316.1,385.4" stroke="#a2a2a2" stroke-width="4" fill="none" stroke-linejoin="round" stroke-linecap="round"/><path d="M1413.3,174.4 L1407.8,184.0 L1413.4,193.6" stroke="#a2a2a2" stroke-width="4" fill="none" stroke-linejoin="round" stroke-linecap="round"/><path d="M1514.3,379.7 L1521.6,369.1" stroke="#a2a2a2" stroke-width="4" fill="none" stroke-linejoin="round" stroke-linecap="round"/><circle cx="1517.9" cy="374.4" r="2.4" fill="#8ee88e"/><path d="M1574.1,420.5 L1560.2,421.7 L1552.2,410.3 L1538.3,411.5" stroke="#a2a2a2" stroke-width="4" fill="none" stroke-linejoin="round" stroke-linecap="round"/><circle cx="1567.2" cy="421.1" r="2.4" fill="#8ee88e"/><path d="M1486.9,141.8 L1494.6,130.8 L1507.9,132.0" stroke="#a2a2a2" stroke-width="4" fill="none" stroke-linejoin="round" stroke-linecap="round"/><path d="M1602.9,245.8 L1594.9,257.3 L1581.0,256.1 L1573.0,267.5" stroke="#a2a2a2" stroke-width="4" fill="none" stroke-linejoin="round" stroke-linecap="round"/><circle cx="1598.9" cy="251.6" r="2.4" fill="#8ee88e"/><path d="M1418.8,152.4 L1412.9,160.9" stroke="#a2a2a2" stroke-width="4" fill="none" stroke-linejoin="round" stroke-linecap="round"/><circle cx="1415.9" cy="156.7" r="2.4" fill="#8ee88e"/><path d="M1299.2,140.6 L1312.6,141.6 L1318.3,153.7 L1310.7,164.8" stroke="#a2a2a2" stroke-width="4" fill="none" stroke-linejoin="round" stroke-linecap="round"/><path d="M1573.6,421.7 L1563.0,422.4" stroke="#a2a2a2" stroke-width="4" fill="none" stroke-linejoin="round" stroke-linecap="round"/><path d="M1478.3,365.2 L1464.5,365.9" stroke="#a2a2a2" stroke-width="4" fill="none" stroke-linejoin="round" stroke-linecap="round"/><path d="M1549.4,298.2 L1536.6,299.4" stroke="#a2a2a2" stroke-width="4" fill="none" stroke-linejoin="round" stroke-linecap="round"/><circle cx="1543.0" cy="298.8" r="2.4" fill="#8ee88e"/><path d="M1579.2,180.0 L1589.3,179.9 L1594.5,188.5" stroke="#a2a2a2" stroke-width="4" fill="none" stroke-linejoin="round" stroke-linecap="round"/><circle cx="1584.3" cy="179.9" r="2.4" fill="#8ee88e"/><path d="M1700.5,245.0 L1707.3,232.5 L1721.5,232.1" stroke="#a2a2a2" stroke-width="4" fill="none" stroke-linejoin="round" stroke-linecap="round"/><circle cx="1703.9" cy="238.8" r="2.4" fill="#8ee88e"/><path d="M1515.4,293.4 L1522.2,304.4 L1535.2,303.9" stroke="#a2a2a2" stroke-width="4" fill="none" stroke-linejoin="round" stroke-linecap="round"/><path d="M1407.9,435.1 L1401.2,425.5 L1406.2,414.9 L1417.8,413.9" stroke="#a2a2a2" stroke-width="4" fill="none" stroke-linejoin="round" stroke-linecap="round"/><path d="M1464.8,267.1 L1459.6,258.5 L1449.6,258.7" stroke="#a2a2a2" stroke-width="4" fill="none" stroke-linejoin="round" stroke-linecap="round"/><circle cx="1462.2" cy="262.8" r="2.4" fill="#8ee88e"/><path d="M1344.3,300.2 L1349.0,290.9 L1359.4,290.3" stroke="#a2a2a2" stroke-width="4" fill="none" stroke-linejoin="round" stroke-linecap="round"/><circle cx="1346.6" cy="295.6" r="2.4" fill="#8ee88e"/><path d="M1381.8,100.3 L1376.0,91.7 L1365.7,92.4" stroke="#a2a2a2" stroke-width="4" fill="none" stroke-linejoin="round" stroke-linecap="round"/><path d="M1555.1,302.0 L1550.3,291.6 L1556.9,282.1 L1568.3,283.1" stroke="#a2a2a2" stroke-width="4" fill="none" stroke-linejoin="round" stroke-linecap="round"/><path d="M1356.2,196.9 L1362.3,210.2 L1353.8,222.1 L1339.3,220.7" stroke="#a2a2a2" stroke-width="4" fill="none" stroke-linejoin="round" stroke-linecap="round"/><path d="M1531.8,103.5 L1539.0,114.7 L1533.0,126.6" stroke="#a2a2a2" stroke-width="4" fill="none" stroke-linejoin="round" stroke-linecap="round"/><circle cx="1535.4" cy="109.1" r="2.4" fill="#8ee88e"/><path d="M1544.6,296.8 L1539.2,286.1" stroke="#a2a2a2" stroke-width="4" fill="none" stroke-linejoin="round" stroke-linecap="round"/><path d="M1529.1,325.8 L1517.3,327.0" stroke="#a2a2a2" stroke-width="4" fill="none" stroke-linejoin="round" stroke-linecap="round"/><path d="M1465.7,234.3 L1477.0,233.2 L1483.6,242.4" stroke="#a2a2a2" stroke-width="4" fill="none" stroke-linejoin="round" stroke-linecap="round"/><circle cx="1471.3" cy="233.7" r="2.4" fill="#8ee88e"/><path d="M1474.4,372.0 L1468.1,381.6 L1456.6,380.9" stroke="#a2a2a2" stroke-width="4" fill="none" stroke-linejoin="round" stroke-linecap="round"/><circle cx="1471.3" cy="376.8" r="2.4" fill="#8ee88e"/><path d="M1471.0,219.9 L1456.3,220.7 L1449.7,233.8" stroke="#a2a2a2" stroke-width="4" fill="none" stroke-linejoin="round" stroke-linecap="round"/><circle cx="1463.7" cy="220.3" r="2.4" fill="#8ee88e"/><path d="M1473.7,182.0 L1465.3,194.0" stroke="#a2a2a2" stroke-width="4" fill="none" stroke-linejoin="round" stroke-linecap="round"/><path d="M1676.2,330.0 L1661.5,329.9" stroke="#a2a2a2" stroke-width="4" fill="none" stroke-linejoin="round" stroke-linecap="round"/><circle cx="1668.8" cy="329.9" r="2.4" fill="#8ee88e"/><path d="M1594.5,99.6 L1600.8,90.9 L1611.5,91.9 L1617.8,83.2" stroke="#a2a2a2" stroke-width="4" fill="none" stroke-linejoin="round" stroke-linecap="round"/><path d="M1338.8,431.1 L1350.9,432.4 L1355.8,443.5" stroke="#a2a2a2" stroke-width="4" fill="none" stroke-linejoin="round" stroke-linecap="round"/><path d="M1410.6,115.2 L1405.2,126.9 L1412.6,137.3" stroke="#a2a2a2" stroke-width="4" fill="none" stroke-linejoin="round" stroke-linecap="round"/><circle cx="1407.9" cy="121.0" r="2.4" fill="#8ee88e"/><path d="M1582.6,449.8 L1575.0,460.5 L1562.0,459.2 L1554.4,469.9" stroke="#a2a2a2" stroke-width="4" fill="none" stroke-linejoin="round" stroke-linecap="round"/><circle cx="1578.8" cy="455.2" r="2.4" fill="#8ee88e"/><path d="M1571.3,370.0 L1565.1,382.2" stroke="#a2a2a2" stroke-width="4" fill="none" stroke-linejoin="round" stroke-linecap="round"/><path d="M1388.4,297.2 L1376.1,297.9" stroke="#a2a2a2" stroke-width="4" fill="none" stroke-linejoin="round" stroke-linecap="round"/><path d="M1520.3,116.3 L1534.0,117.4 L1539.9,129.7" stroke="#a2a2a2" stroke-width="4" fill="none" stroke-linejoin="round" stroke-linecap="round"/><path d="M1434.2,180.6 L1440.5,171.0 L1452.0,171.6 L1458.3,162.0" stroke="#a2a2a2" stroke-width="4" fill="none" stroke-linejoin="round" stroke-linecap="round"/><path d="M1377.4,291.9 L1371.7,283.1 L1361.2,283.7" stroke="#a2a2a2" stroke-width="4" fill="none" stroke-linejoin="round" stroke-linecap="round"/><path d="M1535.9,104.6 L1550.8,105.4 L1557.5,118.7 L1549.3,131.2" stroke="#a2a2a2" stroke-width="4" fill="none" stroke-linejoin="round" stroke-linecap="round"/><circle cx="1543.3" cy="105.0" r="2.4" fill="#8ee88e"/><path d="M1368.4,549.7 L1361.9,537.4 L1347.9,536.9" stroke="#a2a2a2" stroke-width="4" fill="none" stroke-linejoin="round" stroke-linecap="round"/><circle cx="1365.1" cy="543.5" r="2.4" fill="#8ee88e"/><path d="M1224.8,310.7 L1218.6,299.5 L1225.1,288.5" stroke="#a2a2a2" stroke-width="4" fill="none" stroke-linejoin="round" stroke-linecap="round"/><path d="M1238.8,226.2 L1252.3,225.8" stroke="#a2a2a2" stroke-width="4" fill="none" stroke-linejoin="round" stroke-linecap="round"/><path d="M1464.5,350.5 L1459.3,361.3 L1466.1,371.2" stroke="#a2a2a2" stroke-width="4" fill="none" stroke-linejoin="round" stroke-linecap="round"/><circle cx="1461.9" cy="355.9" r="2.4" fill="#8ee88e"/><path d="M1336.2,324.3 L1342.5,336.2 L1356.0,336.7" stroke="#a2a2a2" stroke-width="4" fill="none" stroke-linejoin="round" stroke-linecap="round"/><path d="M1386.6,237.2 L1378.7,248.9 L1384.8,261.5 L1376.9,273.2" stroke="#a2a2a2" stroke-width="4" fill="none" stroke-linejoin="round" stroke-linecap="round"/><path d="M1605.9,216.3 L1593.4,217.1" stroke="#a2a2a2" stroke-width="4" fill="none" stroke-linejoin="round" stroke-linecap="round"/><circle cx="1599.7" cy="216.7" r="2.4" fill="#8ee88e"/><path d="M1696.6,247.4 L1691.2,258.4" stroke="#a2a2a2" stroke-width="4" fill="none" stroke-linejoin="round" stroke-linecap="round"/><path d="M1511.4,251.1 L1497.6,250.0" stroke="#a2a2a2" stroke-width="4" fill="none" stroke-linejoin="round" stroke-linecap="round"/><circle cx="1504.5" cy="250.5" r="2.4" fill="#8ee88e"/><path d="M1479.8,373.2 L1484.8,382.4 L1495.3,382.6" stroke="#a2a2a2" stroke-width="4" fill="none" stroke-linejoin="round" stroke-linecap="round"/><path d="M1415.1,542.6 L1402.0,543.3 L1394.9,532.3 L1381.9,532.9" stroke="#a2a2a2" stroke-width="4" fill="none" stroke-linejoin="round" stroke-linecap="round"/><path d="M1348.9,361.9 L1337.1,363.1 L1330.2,353.6" stroke="#a2a2a2" stroke-width="4" fill="none" stroke-linejoin="round" stroke-linecap="round"/><circle cx="1343.0" cy="362.5" r="2.4" fill="#8ee88e"/><path d="M1387.6,286.6 L1382.9,296.4" stroke="#a2a2a2" stroke-width="4" fill="none" stroke-linejoin="round" stroke-linecap="round"/><path d="M1297.8,353.4 L1283.4,352.5 L1277.0,339.6" stroke="#a2a2a2" stroke-width="4" fill="none" stroke-linejoin="round" stroke-linecap="round"/><path d="M1386.6,208.1 L1392.7,197.6" stroke="#a2a2a2" stroke-width="4" fill="none" stroke-linejoin="round" stroke-linecap="round"/><circle cx="1389.7" cy="202.8" r="2.4" fill="#8ee88e"/><path d="M1355.0,86.6 L1341.1,86.7 L1334.0,74.6 L1340.8,62.5" stroke="#a2a2a2" stroke-width="4" fill="none" stroke-linejoin="round" stroke-linecap="round"/><path d="M1583.4,306.4 L1571.5,307.1 L1566.1,317.8 L1572.7,327.8" stroke="#a2a2a2" stroke-width="4" fill="none" stroke-linejoin="round" stroke-linecap="round"/><circle cx="1577.5" cy="306.7" r="2.4" fill="#8ee88e"/><path d="M1700.1,352.6 L1687.5,353.8 L1682.3,365.3" stroke="#a2a2a2" stroke-width="4" fill="none" stroke-linejoin="round" stroke-linecap="round"/><path d="M1586.7,302.8 L1578.9,315.6 L1586.2,328.7 L1601.1,329.0" stroke="#a2a2a2" stroke-width="4" fill="none" stroke-linejoin="round" stroke-linecap="round"/><path d="M1311.6,302.4 L1316.8,314.0 L1329.5,315.3 L1336.9,305.0" stroke="#a2a2a2" stroke-width="4" fill="none" stroke-linejoin="round" stroke-linecap="round"/><path d="M1325.0,231.8 L1314.1,231.7 L1308.7,222.3 L1297.9,222.2" stroke="#a2a2a2" stroke-width="4" fill="none" stroke-linejoin="round" stroke-linecap="round"/><path d="M1610.9,143.1 L1615.9,152.9 L1609.9,162.1" stroke="#a2a2a2" stroke-width="4" fill="none" stroke-linejoin="round" stroke-linecap="round"/><path d="M1582.1,236.2 L1586.5,245.8" stroke="#a2a2a2" stroke-width="4" fill="none" stroke-linejoin="round" stroke-linecap="round"/><circle cx="1584.3" cy="241.0" r="2.4" fill="#8ee88e"/><path d="M1624.2,201.2 L1637.8,201.0 L1644.3,189.1 L1657.9,188.8" stroke="#a2a2a2" stroke-width="4" fill="none" stroke-linejoin="round" stroke-linecap="round"/><circle cx="1631.0" cy="201.1" r="2.4" fill="#8ee88e"/><path d="M1303.0,113.1 L1296.8,103.7 L1301.9,93.7" stroke="#a2a2a2" stroke-width="4" fill="none" stroke-linejoin="round" stroke-linecap="round"/><path d="M1364.8,73.7 L1370.5,63.1 L1364.3,52.8 L1352.2,53.1" stroke="#a2a2a2" stroke-width="4" fill="none" stroke-linejoin="round" stroke-linecap="round"/><circle cx="1367.7" cy="68.4" r="2.4" fill="#8ee88e"/><path d="M1706.2,263.1 L1717.8,264.1 L1724.5,254.6 L1719.6,244.0" stroke="#a2a2a2" stroke-width="4" fill="none" stroke-linejoin="round" stroke-linecap="round"/><path d="M1594.4,363.8 L1605.6,363.8" stroke="#a2a2a2" stroke-width="4" fill="none" stroke-linejoin="round" stroke-linecap="round"/><path d="M1397.5,187.2 L1390.9,197.4 L1378.7,196.8" stroke="#a2a2a2" stroke-width="4" fill="none" stroke-linejoin="round" stroke-linecap="round"/><path d="M1276.1,154.4 L1281.6,162.9 L1291.8,162.4 L1296.4,153.3" stroke="#a2a2a2" stroke-width="4" fill="none" stroke-linejoin="round" stroke-linecap="round"/><path d="M1271.4,247.9 L1278.7,261.0" stroke="#a2a2a2" stroke-width="4" fill="none" stroke-linejoin="round" stroke-linecap="round"/><circle cx="1275.1" cy="254.5" r="2.4" fill="#8ee88e"/><path d="M1237.9,341.6 L1227.6,341.0 L1223.0,331.7" stroke="#a2a2a2" stroke-width="4" fill="none" stroke-linejoin="round" stroke-linecap="round"/><path d="M1461.6,271.8 L1468.8,261.7" stroke="#a2a2a2" stroke-width="4" fill="none" stroke-linejoin="round" stroke-linecap="round"/><path d="M1681.7,289.9 L1675.3,302.2 L1682.8,314.0" stroke="#a2a2a2" stroke-width="4" fill="none" stroke-linejoin="round" stroke-linecap="round"/><circle cx="1678.5" cy="296.1" r="2.4" fill="#8ee88e"/><path d="M1564.0,542.3 L1569.5,550.9" stroke="#a2a2a2" stroke-width="4" fill="none" stroke-linejoin="round" stroke-linecap="round"/><path d="M1402.6,513.5 L1409.4,525.6" stroke="#a2a2a2" stroke-width="4" fill="none" stroke-linejoin="round" stroke-linecap="round"/><path d="M1386.5,384.8 L1371.7,383.6 L1365.4,370.3" stroke="#a2a2a2" stroke-width="4" fill="none" stroke-linejoin="round" stroke-linecap="round"/><path d="M1407.9,363.3 L1418.5,362.3 L1423.0,352.7 L1433.6,351.7" stroke="#a2a2a2" stroke-width="4" fill="none" stroke-linejoin="round" stroke-linecap="round"/><path d="M1400.5,209.3 L1406.6,197.5 L1419.9,196.8" stroke="#a2a2a2" stroke-width="4" fill="none" stroke-linejoin="round" stroke-linecap="round"/><circle cx="1403.6" cy="203.4" r="2.4" fill="#8ee88e"/><path d="M1486.7,246.5 L1491.4,255.4 L1486.0,263.8 L1476.0,263.4" stroke="#a2a2a2" stroke-width="4" fill="none" stroke-linejoin="round" stroke-linecap="round"/><path d="M1528.4,103.9 L1520.9,115.2" stroke="#a2a2a2" stroke-width="4" fill="none" stroke-linejoin="round" stroke-linecap="round"/><path d="M1681.7,288.9 L1675.3,279.2 L1663.8,279.8 L1658.5,290.1" stroke="#a2a2a2" stroke-width="4" fill="none" stroke-linejoin="round" stroke-linecap="round"/><circle cx="1678.5" cy="284.0" r="2.4" fill="#8ee88e"/><polygon points="1517.3,428.9 1506.5,435.2 1495.7,428.9 1495.7,416.4 1506.5,410.2 1517.3,416.4" stroke="#cacaca" stroke-width="4" fill="none" stroke-linecap="round" stroke-linejoin="round"/><polygon points="1427.0,174.9 1418.2,183.7 1406.1,180.5 1402.8,168.4 1411.7,159.6 1423.8,162.8" stroke="#cacaca" stroke-width="4" fill="none" stroke-linecap="round" stroke-linejoin="round"/><polygon points="1398.4,409.4 1387.6,415.6 1376.8,409.4 1376.8,396.9 1387.6,390.6 1398.4,396.9" stroke="#cacaca" stroke-width="4" fill="none" stroke-linecap="round" stroke-linejoin="round"/><polygon points="1449.5,495.5 1440.6,504.3 1428.6,501.1 1425.3,489.0 1434.2,480.2 1446.2,483.4" stroke="#cacaca" stroke-width="4" fill="none" stroke-linecap="round" stroke-linejoin="round"/><polygon points="1347.4,314.1 1336.5,320.3 1325.7,314.1 1325.7,301.6 1336.5,295.3 1347.4,301.6" stroke="#cacaca" stroke-width="4" fill="none" stroke-linecap="round" stroke-linejoin="round"/><polygon points="1543.3,318.0 1537.1,328.8 1524.6,328.8 1518.3,318.0 1524.6,307.2 1537.1,307.2" stroke="#cacaca" stroke-width="4" fill="none" stroke-linecap="round" stroke-linejoin="round"/><polygon points="1254.1,345.8 1247.9,356.6 1235.4,356.6 1229.1,345.8 1235.4,334.9 1247.9,334.9" stroke="#cacaca" stroke-width="4" fill="none" stroke-linecap="round" stroke-linejoin="round"/><polygon points="1405.4,411.1 1394.6,417.4 1383.7,411.1 1383.7,398.6 1394.6,392.4 1405.4,398.6" stroke="#cacaca" stroke-width="4" fill="none" stroke-linecap="round" stroke-linejoin="round"/><polygon points="1659.7,360.3 1650.8,369.1 1638.7,365.9 1635.5,353.8 1644.3,345.0 1656.4,348.2" stroke="#cacaca" stroke-width="4" fill="none" stroke-linecap="round" stroke-linejoin="round"/><polygon points="1341.3,110.1 1332.4,119.0 1320.4,115.7 1317.1,103.7 1326.0,94.8 1338.0,98.1" stroke="#cacaca" stroke-width="4" fill="none" stroke-linecap="round" stroke-linejoin="round"/><polygon points="1519.8,338.0 1511.0,346.8 1498.9,343.6 1495.7,331.5 1504.5,322.7 1516.6,325.9" stroke="#cacaca" stroke-width="4" fill="none" stroke-linecap="round" stroke-linejoin="round"/><polygon points="1352.6,355.7 1341.8,362.0 1330.9,355.7 1330.9,343.2 1341.8,337.0 1352.6,343.2" stroke="#cacaca" stroke-width="4" fill="none" stroke-linecap="round" stroke-linejoin="round"/><polygon points="1522.5,424.3 1513.7,433.1 1501.6,429.9 1498.4,417.8 1507.2,408.9 1519.3,412.2" stroke="#cacaca" stroke-width="4" fill="none" stroke-linecap="round" stroke-linejoin="round"/><polygon points="1365.7,311.1 1356.8,319.9 1344.7,316.7 1341.5,304.6 1350.4,295.8 1362.4,299.0" stroke="#cacaca" stroke-width="4" fill="none" stroke-linecap="round" stroke-linejoin="round"/><polygon points="1430.0,223.0 1421.2,231.8 1409.1,228.6 1405.8,216.5 1414.7,207.7 1426.8,210.9" stroke="#cacaca" stroke-width="4" fill="none" stroke-linecap="round" stroke-linejoin="round"/><polygon points="1460.0,258.7 1453.7,269.5 1441.2,269.5 1435.0,258.7 1441.2,247.8 1453.7,247.8" stroke="#cacaca" stroke-width="4" fill="none" stroke-linecap="round" stroke-linejoin="round"/><polygon points="1245.4,279.8 1239.2,290.6 1226.7,290.6 1220.4,279.8 1226.7,269.0 1239.2,269.0" stroke="#cacaca" stroke-width="4" fill="none" stroke-linecap="round" stroke-linejoin="round"/><polygon points="1466.3,214.5 1455.0,221.0 1443.7,214.5 1443.7,201.5 1455.0,195.0 1466.3,201.5" stroke="#a0a0a0" stroke-width="4" fill="none" stroke-linecap="round" stroke-linejoin="round"/><path d="M1455.0,195.0 L1455.0,180.0 L1477.9,175.2 L1472.8,159.1" stroke="#a0a0a0" stroke-width="4" fill="none" stroke-linecap="round" stroke-linejoin="round"/><circle cx="1466.5" cy="177.6" r="2.6" fill="#6ee46e"/><path d="M1466.3,214.5 L1479.2,222.0 L1471.9,244.3 L1488.4,247.8" stroke="#a0a0a0" stroke-width="4" fill="none" stroke-linecap="round" stroke-linejoin="round"/><circle cx="1475.6" cy="233.1" r="2.6" fill="#6ee46e"/><path d="M1443.7,214.5 L1430.8,222.0 L1415.2,204.5 L1403.8,217.0" stroke="#a0a0a0" stroke-width="4" fill="none" stroke-linecap="round" stroke-linejoin="round"/><circle cx="1423.0" cy="213.3" r="2.6" fill="#6ee46e"/><polygon points="1376.3,371.5 1365.0,378.0 1353.7,371.5 1353.7,358.5 1365.0,352.0 1376.3,358.5" stroke="#a0a0a0" stroke-width="4" fill="none" stroke-linecap="round" stroke-linejoin="round"/><path d="M1365.0,352.0 L1365.0,337.0 L1387.9,332.2 L1382.8,316.1" stroke="#a0a0a0" stroke-width="4" fill="none" stroke-linecap="round" stroke-linejoin="round"/><circle cx="1376.5" cy="334.6" r="2.6" fill="#6ee46e"/><path d="M1376.3,371.5 L1389.2,379.0 L1381.9,401.3 L1398.4,404.8" stroke="#a0a0a0" stroke-width="4" fill="none" stroke-linecap="round" stroke-linejoin="round"/><circle cx="1385.6" cy="390.1" r="2.6" fill="#6ee46e"/><path d="M1353.7,371.5 L1340.8,379.0 L1325.2,361.5 L1313.8,374.0" stroke="#a0a0a0" stroke-width="4" fill="none" stroke-linecap="round" stroke-linejoin="round"/><circle cx="1333.0" cy="370.3" r="2.6" fill="#6ee46e"/><polygon points="1558.3,371.5 1547.0,378.0 1535.7,371.5 1535.7,358.5 1547.0,352.0 1558.3,358.5" stroke="#a0a0a0" stroke-width="4" fill="none" stroke-linecap="round" stroke-linejoin="round"/><path d="M1547.0,352.0 L1547.0,337.0 L1569.9,332.2 L1564.8,316.1" stroke="#a0a0a0" stroke-width="4" fill="none" stroke-linecap="round" stroke-linejoin="round"/><circle cx="1558.5" cy="334.6" r="2.6" fill="#6ee46e"/><path d="M1558.3,371.5 L1571.2,379.0 L1563.9,401.3 L1580.4,404.8" stroke="#a0a0a0" stroke-width="4" fill="none" stroke-linecap="round" stroke-linejoin="round"/><circle cx="1567.6" cy="390.1" r="2.6" fill="#6ee46e"/><path d="M1535.7,371.5 L1522.8,379.0 L1507.2,361.5 L1495.8,374.0" stroke="#a0a0a0" stroke-width="4" fill="none" stroke-linecap="round" stroke-linejoin="round"/><circle cx="1515.0" cy="370.3" r="2.6" fill="#6ee46e"/><polygon points="1288.3,213.5 1277.0,220.0 1265.7,213.5 1265.7,200.5 1277.0,194.0 1288.3,200.5" stroke="#a0a0a0" stroke-width="4" fill="none" stroke-linecap="round" stroke-linejoin="round"/><path d="M1277.0,194.0 L1277.0,179.0 L1299.9,174.2 L1294.8,158.1" stroke="#a0a0a0" stroke-width="4" fill="none" stroke-linecap="round" stroke-linejoin="round"/><circle cx="1288.5" cy="176.6" r="2.6" fill="#6ee46e"/><path d="M1288.3,213.5 L1301.2,221.0 L1293.9,243.3 L1310.4,246.8" stroke="#a0a0a0" stroke-width="4" fill="none" stroke-linecap="round" stroke-linejoin="round"/><circle cx="1297.6" cy="232.1" r="2.6" fill="#6ee46e"/><path d="M1265.7,213.5 L1252.8,221.0 L1237.2,203.5 L1225.8,216.0" stroke="#a0a0a0" stroke-width="4" fill="none" stroke-linecap="round" stroke-linejoin="round"/><circle cx="1245.0" cy="212.3" r="2.6" fill="#6ee46e"/><polygon points="1651.3,213.5 1640.0,220.0 1628.7,213.5 1628.7,200.5 1640.0,194.0 1651.3,200.5" stroke="#a0a0a0" stroke-width="4" fill="none" stroke-linecap="round" stroke-linejoin="round"/><path d="M1640.0,194.0 L1640.0,179.0 L1662.9,174.2 L1657.8,158.1" stroke="#a0a0a0" stroke-width="4" fill="none" stroke-linecap="round" stroke-linejoin="round"/><circle cx="1651.5" cy="176.6" r="2.6" fill="#6ee46e"/><path d="M1651.3,213.5 L1664.2,221.0 L1656.9,243.3 L1673.4,246.8" stroke="#a0a0a0" stroke-width="4" fill="none" stroke-linecap="round" stroke-linejoin="round"/><circle cx="1660.6" cy="232.1" r="2.6" fill="#6ee46e"/><path d="M1628.7,213.5 L1615.8,221.0 L1600.2,203.5 L1588.8,216.0" stroke="#a0a0a0" stroke-width="4" fill="none" stroke-linecap="round" stroke-linejoin="round"/><circle cx="1608.0" cy="212.3" r="2.6" fill="#6ee46e"/><polygon points="1467.3,546.5 1456.0,553.0 1444.7,546.5 1444.7,533.5 1456.0,527.0 1467.3,533.5" stroke="#a0a0a0" stroke-width="4" fill="none" stroke-linecap="round" stroke-linejoin="round"/><path d="M1456.0,527.0 L1456.0,512.0 L1478.9,507.2 L1473.8,491.1" stroke="#a0a0a0" stroke-width="4" fill="none" stroke-linecap="round" stroke-linejoin="round"/><circle cx="1467.5" cy="509.6" r="2.6" fill="#6ee46e"/><path d="M1467.3,546.5 L1480.2,554.0 L1472.9,576.3 L1489.4,579.8" stroke="#a0a0a0" stroke-width="4" fill="none" stroke-linecap="round" stroke-linejoin="round"/><circle cx="1476.6" cy="565.1" r="2.6" fill="#6ee46e"/><path d="M1444.7,546.5 L1431.8,554.0 L1416.2,536.5 L1404.8,549.0" stroke="#a0a0a0" stroke-width="4" fill="none" stroke-linecap="round" stroke-linejoin="round"/><circle cx="1424.0" cy="545.3" r="2.6" fill="#6ee46e"/><circle cx="1364.2" cy="155.3" r="33" fill="#f2a97c" opacity="0.9"/><circle cx="1546.4" cy="155.3" r="33" fill="#f2a97c" opacity="0.9"/><circle cx="1274.4" cy="313.8" r="33" fill="#f2a97c" opacity="0.9"/><circle cx="1456.6" cy="312.6" r="33" fill="#f2a97c" opacity="0.9"/><circle cx="1638.7" cy="311.3" r="33" fill="#f2a97c" opacity="0.9"/><circle cx="1365.5" cy="469" r="33" fill="#f2a97c" opacity="0.9"/><circle cx="1545.6" cy="471" r="33" fill="#f2a97c" opacity="0.9"/><circle cx="1366.3" cy="260.8" r="21" fill="#bfaeee" opacity="0.85"/><polygon points="1378.8,266.3 1369.3,271.8 1359.8,266.3 1359.8,255.3 1369.3,249.8 1378.8,255.3" stroke="#a898d8" stroke-width="3" fill="none"/><circle cx="1546.4" cy="260" r="21" fill="#bfaeee" opacity="0.85"/><polygon points="1558.9,265.5 1549.4,271.0 1539.9,265.5 1539.9,254.5 1549.4,249.0 1558.9,254.5" stroke="#a898d8" stroke-width="3" fill="none"/><circle cx="1456.6" cy="412" r="21" fill="#bfaeee" opacity="0.85"/><polygon points="1469.1,417.5 1459.6,423.0 1450.1,417.5 1450.1,406.5 1459.6,401.0 1469.1,406.5" stroke="#a898d8" stroke-width="3" fill="none"/><polygon points="1378.7,85.3 1371.5,97.9 1357.0,97.9 1349.7,85.3 1357.0,72.7 1371.5,72.7" stroke="#7c7c7c" stroke-width="4.6" fill="none" stroke-linecap="round" stroke-linejoin="round"/><polygon points="1318.7,186.3 1311.5,198.9 1297.0,198.9 1289.7,186.3 1297.0,173.7 1311.5,173.7" stroke="#7c7c7c" stroke-width="4.6" fill="none" stroke-linecap="round" stroke-linejoin="round"/><polygon points="1438.7,186.3 1431.5,198.9 1417.0,198.9 1409.7,186.3 1417.0,173.7 1431.5,173.7" stroke="#7c7c7c" stroke-width="4.6" fill="none" stroke-linecap="round" stroke-linejoin="round"/><polygon points="1377.6,160.3 1367.2,166.3 1356.8,160.3 1356.8,148.3 1367.2,142.3 1377.6,148.3" stroke="#d08858" stroke-width="3.2" fill="none" opacity="0.75"/><path d="M1367.2,142.3 L1352.2,131.3 L1342.2,133.3 M1377.2,160.3 L1388.2,147.3 L1394.2,149.3 M1357.2,160.3 L1358.2,177.3 L1354.2,185.3" stroke="#d08858" stroke-width="3.2" fill="none" opacity="0.75"/><path d="M1357.2,98.3 L1311.2,173.3" stroke="#7c7c7c" stroke-width="4.6" fill="none" stroke-linecap="round" stroke-linejoin="round"/><path d="M1348.9,111.8 l-3.1,5.1" stroke="#5ee65e" stroke-width="4.6" stroke-linecap="round"/><path d="M1324.1,152.3 l-3.1,5.1" stroke="#5ee65e" stroke-width="4.6" stroke-linecap="round"/><path d="M1371.2,98.3 L1417.2,173.3" stroke="#7c7c7c" stroke-width="4.6" fill="none" stroke-linecap="round" stroke-linejoin="round"/><path d="M1379.5,111.8 l3.1,5.1" stroke="#5ee65e" stroke-width="4.6" stroke-linecap="round"/><path d="M1404.3,152.3 l3.1,5.1" stroke="#5ee65e" stroke-width="4.6" stroke-linecap="round"/><path d="M1318.2,186.3 L1410.2,186.3" stroke="#7c7c7c" stroke-width="4.6" fill="none" stroke-linecap="round" stroke-linejoin="round"/><path d="M1334.8,186.3 l6.0,0.0" stroke="#5ee65e" stroke-width="4.6" stroke-linecap="round"/><path d="M1384.4,186.3 l6.0,0.0" stroke="#5ee65e" stroke-width="4.6" stroke-linecap="round"/><path d="M1331.2,120.3 L1315.2,114.3 L1311.2,102.3 L1299.2,98.3" stroke="#8a8a8a" stroke-width="3.8" fill="none" stroke-linejoin="round" stroke-linecap="round"/><circle cx="1323.2" cy="117.3" r="2.2" fill="#6ee46e"/><path d="M1397.2,120.3 L1413.2,114.3 L1417.2,102.3 L1429.2,98.3" stroke="#8a8a8a" stroke-width="3.8" fill="none" stroke-linejoin="round" stroke-linecap="round"/><circle cx="1405.2" cy="117.3" r="2.2" fill="#6ee46e"/><path d="M1314.2,167.3 L1298.2,171.3 L1292.2,183.3" stroke="#8a8a8a" stroke-width="3.8" fill="none" stroke-linejoin="round" stroke-linecap="round"/><circle cx="1306.2" cy="169.3" r="2.2" fill="#6ee46e"/><path d="M1414.2,167.3 L1430.2,171.3 L1436.2,183.3" stroke="#8a8a8a" stroke-width="3.8" fill="none" stroke-linejoin="round" stroke-linecap="round"/><circle cx="1422.2" cy="169.3" r="2.2" fill="#6ee46e"/><path d="M1362.2,186.3 L1360.2,202.3 L1352.2,212.3" stroke="#8a8a8a" stroke-width="3.8" fill="none" stroke-linejoin="round" stroke-linecap="round"/><circle cx="1361.2" cy="194.3" r="2.2" fill="#6ee46e"/><path d="M1366.2,186.3 L1368.2,202.3 L1376.2,212.3" stroke="#8a8a8a" stroke-width="3.8" fill="none" stroke-linejoin="round" stroke-linecap="round"/><circle cx="1367.2" cy="194.3" r="2.2" fill="#6ee46e"/><polygon points="1560.9,85.3 1553.7,97.9 1539.2,97.9 1531.9,85.3 1539.2,72.7 1553.7,72.7" stroke="#7c7c7c" stroke-width="4.6" fill="none" stroke-linecap="round" stroke-linejoin="round"/><polygon points="1500.9,186.3 1493.7,198.9 1479.2,198.9 1471.9,186.3 1479.2,173.7 1493.7,173.7" stroke="#7c7c7c" stroke-width="4.6" fill="none" stroke-linecap="round" stroke-linejoin="round"/><polygon points="1620.9,186.3 1613.7,198.9 1599.2,198.9 1591.9,186.3 1599.2,173.7 1613.7,173.7" stroke="#7c7c7c" stroke-width="4.6" fill="none" stroke-linecap="round" stroke-linejoin="round"/><polygon points="1559.8,160.3 1549.4,166.3 1539.0,160.3 1539.0,148.3 1549.4,142.3 1559.8,148.3" stroke="#d08858" stroke-width="3.2" fill="none" opacity="0.75"/><path d="M1549.4,142.3 L1534.4,131.3 L1524.4,133.3 M1559.4,160.3 L1570.4,147.3 L1576.4,149.3 M1539.4,160.3 L1540.4,177.3 L1536.4,185.3" stroke="#d08858" stroke-width="3.2" fill="none" opacity="0.75"/><path d="M1539.4,98.3 L1493.4,173.3" stroke="#7c7c7c" stroke-width="4.6" fill="none" stroke-linecap="round" stroke-linejoin="round"/><path d="M1531.1,111.8 l-3.1,5.1" stroke="#5ee65e" stroke-width="4.6" stroke-linecap="round"/><path d="M1506.3,152.3 l-3.1,5.1" stroke="#5ee65e" stroke-width="4.6" stroke-linecap="round"/><path d="M1553.4,98.3 L1599.4,173.3" stroke="#7c7c7c" stroke-width="4.6" fill="none" stroke-linecap="round" stroke-linejoin="round"/><path d="M1561.7,111.8 l3.1,5.1" stroke="#5ee65e" stroke-width="4.6" stroke-linecap="round"/><path d="M1586.5,152.3 l3.1,5.1" stroke="#5ee65e" stroke-width="4.6" stroke-linecap="round"/><path d="M1500.4,186.3 L1592.4,186.3" stroke="#7c7c7c" stroke-width="4.6" fill="none" stroke-linecap="round" stroke-linejoin="round"/><path d="M1517.0,186.3 l6.0,0.0" stroke="#5ee65e" stroke-width="4.6" stroke-linecap="round"/><path d="M1566.6,186.3 l6.0,0.0" stroke="#5ee65e" stroke-width="4.6" stroke-linecap="round"/><path d="M1513.4,120.3 L1497.4,114.3 L1493.4,102.3 L1481.4,98.3" stroke="#8a8a8a" stroke-width="3.8" fill="none" stroke-linejoin="round" stroke-linecap="round"/><circle cx="1505.4" cy="117.3" r="2.2" fill="#6ee46e"/><path d="M1579.4,120.3 L1595.4,114.3 L1599.4,102.3 L1611.4,98.3" stroke="#8a8a8a" stroke-width="3.8" fill="none" stroke-linejoin="round" stroke-linecap="round"/><circle cx="1587.4" cy="117.3" r="2.2" fill="#6ee46e"/><path d="M1496.4,167.3 L1480.4,171.3 L1474.4,183.3" stroke="#8a8a8a" stroke-width="3.8" fill="none" stroke-linejoin="round" stroke-linecap="round"/><circle cx="1488.4" cy="169.3" r="2.2" fill="#6ee46e"/><path d="M1596.4,167.3 L1612.4,171.3 L1618.4,183.3" stroke="#8a8a8a" stroke-width="3.8" fill="none" stroke-linejoin="round" stroke-linecap="round"/><circle cx="1604.4" cy="169.3" r="2.2" fill="#6ee46e"/><path d="M1544.4,186.3 L1542.4,202.3 L1534.4,212.3" stroke="#8a8a8a" stroke-width="3.8" fill="none" stroke-linejoin="round" stroke-linecap="round"/><circle cx="1543.4" cy="194.3" r="2.2" fill="#6ee46e"/><path d="M1548.4,186.3 L1550.4,202.3 L1558.4,212.3" stroke="#8a8a8a" stroke-width="3.8" fill="none" stroke-linejoin="round" stroke-linecap="round"/><circle cx="1549.4" cy="194.3" r="2.2" fill="#6ee46e"/><polygon points="1288.9,243.8 1281.7,256.4 1267.2,256.4 1259.9,243.8 1267.2,231.2 1281.7,231.2" stroke="#7c7c7c" stroke-width="4.6" fill="none" stroke-linecap="round" stroke-linejoin="round"/><polygon points="1228.9,344.8 1221.7,357.4 1207.2,357.4 1199.9,344.8 1207.2,332.2 1221.7,332.2" stroke="#7c7c7c" stroke-width="4.6" fill="none" stroke-linecap="round" stroke-linejoin="round"/><polygon points="1348.9,344.8 1341.7,357.4 1327.2,357.4 1319.9,344.8 1327.2,332.2 1341.7,332.2" stroke="#7c7c7c" stroke-width="4.6" fill="none" stroke-linecap="round" stroke-linejoin="round"/><polygon points="1287.8,318.8 1277.4,324.8 1267.0,318.8 1267.0,306.8 1277.4,300.8 1287.8,306.8" stroke="#d08858" stroke-width="3.2" fill="none" opacity="0.75"/><path d="M1277.4,300.8 L1262.4,289.8 L1252.4,291.8 M1287.4,318.8 L1298.4,305.8 L1304.4,307.8 M1267.4,318.8 L1268.4,335.8 L1264.4,343.8" stroke="#d08858" stroke-width="3.2" fill="none" opacity="0.75"/><path d="M1267.4,256.8 L1221.4,331.8" stroke="#7c7c7c" stroke-width="4.6" fill="none" stroke-linecap="round" stroke-linejoin="round"/><path d="M1259.1,270.3 l-3.1,5.1" stroke="#5ee65e" stroke-width="4.6" stroke-linecap="round"/><path d="M1234.3,310.8 l-3.1,5.1" stroke="#5ee65e" stroke-width="4.6" stroke-linecap="round"/><path d="M1281.4,256.8 L1327.4,331.8" stroke="#7c7c7c" stroke-width="4.6" fill="none" stroke-linecap="round" stroke-linejoin="round"/><path d="M1289.7,270.3 l3.1,5.1" stroke="#5ee65e" stroke-width="4.6" stroke-linecap="round"/><path d="M1314.5,310.8 l3.1,5.1" stroke="#5ee65e" stroke-width="4.6" stroke-linecap="round"/><path d="M1228.4,344.8 L1320.4,344.8" stroke="#7c7c7c" stroke-width="4.6" fill="none" stroke-linecap="round" stroke-linejoin="round"/><path d="M1245.0,344.8 l6.0,0.0" stroke="#5ee65e" stroke-width="4.6" stroke-linecap="round"/><path d="M1294.6,344.8 l6.0,0.0" stroke="#5ee65e" stroke-width="4.6" stroke-linecap="round"/><path d="M1241.4,278.8 L1225.4,272.8 L1221.4,260.8 L1209.4,256.8" stroke="#8a8a8a" stroke-width="3.8" fill="none" stroke-linejoin="round" stroke-linecap="round"/><circle cx="1233.4" cy="275.8" r="2.2" fill="#6ee46e"/><path d="M1307.4,278.8 L1323.4,272.8 L1327.4,260.8 L1339.4,256.8" stroke="#8a8a8a" stroke-width="3.8" fill="none" stroke-linejoin="round" stroke-linecap="round"/><circle cx="1315.4" cy="275.8" r="2.2" fill="#6ee46e"/><path d="M1224.4,325.8 L1208.4,329.8 L1202.4,341.8" stroke="#8a8a8a" stroke-width="3.8" fill="none" stroke-linejoin="round" stroke-linecap="round"/><circle cx="1216.4" cy="327.8" r="2.2" fill="#6ee46e"/><path d="M1324.4,325.8 L1340.4,329.8 L1346.4,341.8" stroke="#8a8a8a" stroke-width="3.8" fill="none" stroke-linejoin="round" stroke-linecap="round"/><circle cx="1332.4" cy="327.8" r="2.2" fill="#6ee46e"/><path d="M1272.4,344.8 L1270.4,360.8 L1262.4,370.8" stroke="#8a8a8a" stroke-width="3.8" fill="none" stroke-linejoin="round" stroke-linecap="round"/><circle cx="1271.4" cy="352.8" r="2.2" fill="#6ee46e"/><path d="M1276.4,344.8 L1278.4,360.8 L1286.4,370.8" stroke="#8a8a8a" stroke-width="3.8" fill="none" stroke-linejoin="round" stroke-linecap="round"/><circle cx="1277.4" cy="352.8" r="2.2" fill="#6ee46e"/><polygon points="1471.1,242.6 1463.8,255.2 1449.3,255.2 1442.1,242.6 1449.3,230.0 1463.8,230.0" stroke="#7c7c7c" stroke-width="4.6" fill="none" stroke-linecap="round" stroke-linejoin="round"/><polygon points="1411.1,343.6 1403.8,356.2 1389.3,356.2 1382.1,343.6 1389.3,331.0 1403.8,331.0" stroke="#7c7c7c" stroke-width="4.6" fill="none" stroke-linecap="round" stroke-linejoin="round"/><polygon points="1531.1,343.6 1523.8,356.2 1509.3,356.2 1502.1,343.6 1509.3,331.0 1523.8,331.0" stroke="#7c7c7c" stroke-width="4.6" fill="none" stroke-linecap="round" stroke-linejoin="round"/><polygon points="1470.0,317.6 1459.6,323.6 1449.2,317.6 1449.2,305.6 1459.6,299.6 1470.0,305.6" stroke="#d08858" stroke-width="3.2" fill="none" opacity="0.75"/><path d="M1459.6,299.6 L1444.6,288.6 L1434.6,290.6 M1469.6,317.6 L1480.6,304.6 L1486.6,306.6 M1449.6,317.6 L1450.6,334.6 L1446.6,342.6" stroke="#d08858" stroke-width="3.2" fill="none" opacity="0.75"/><path d="M1449.6,255.6 L1403.6,330.6" stroke="#7c7c7c" stroke-width="4.6" fill="none" stroke-linecap="round" stroke-linejoin="round"/><path d="M1441.3,269.1 l-3.1,5.1" stroke="#5ee65e" stroke-width="4.6" stroke-linecap="round"/><path d="M1416.5,309.6 l-3.1,5.1" stroke="#5ee65e" stroke-width="4.6" stroke-linecap="round"/><path d="M1463.6,255.6 L1509.6,330.6" stroke="#7c7c7c" stroke-width="4.6" fill="none" stroke-linecap="round" stroke-linejoin="round"/><path d="M1471.9,269.1 l3.1,5.1" stroke="#5ee65e" stroke-width="4.6" stroke-linecap="round"/><path d="M1496.7,309.6 l3.1,5.1" stroke="#5ee65e" stroke-width="4.6" stroke-linecap="round"/><path d="M1410.6,343.6 L1502.6,343.6" stroke="#7c7c7c" stroke-width="4.6" fill="none" stroke-linecap="round" stroke-linejoin="round"/><path d="M1427.2,343.6 l6.0,0.0" stroke="#5ee65e" stroke-width="4.6" stroke-linecap="round"/><path d="M1476.8,343.6 l6.0,0.0" stroke="#5ee65e" stroke-width="4.6" stroke-linecap="round"/><path d="M1423.6,277.6 L1407.6,271.6 L1403.6,259.6 L1391.6,255.6" stroke="#8a8a8a" stroke-width="3.8" fill="none" stroke-linejoin="round" stroke-linecap="round"/><circle cx="1415.6" cy="274.6" r="2.2" fill="#6ee46e"/><path d="M1489.6,277.6 L1505.6,271.6 L1509.6,259.6 L1521.6,255.6" stroke="#8a8a8a" stroke-width="3.8" fill="none" stroke-linejoin="round" stroke-linecap="round"/><circle cx="1497.6" cy="274.6" r="2.2" fill="#6ee46e"/><path d="M1406.6,324.6 L1390.6,328.6 L1384.6,340.6" stroke="#8a8a8a" stroke-width="3.8" fill="none" stroke-linejoin="round" stroke-linecap="round"/><circle cx="1398.6" cy="326.6" r="2.2" fill="#6ee46e"/><path d="M1506.6,324.6 L1522.6,328.6 L1528.6,340.6" stroke="#8a8a8a" stroke-width="3.8" fill="none" stroke-linejoin="round" stroke-linecap="round"/><circle cx="1514.6" cy="326.6" r="2.2" fill="#6ee46e"/><path d="M1454.6,343.6 L1452.6,359.6 L1444.6,369.6" stroke="#8a8a8a" stroke-width="3.8" fill="none" stroke-linejoin="round" stroke-linecap="round"/><circle cx="1453.6" cy="351.6" r="2.2" fill="#6ee46e"/><path d="M1458.6,343.6 L1460.6,359.6 L1468.6,369.6" stroke="#8a8a8a" stroke-width="3.8" fill="none" stroke-linejoin="round" stroke-linecap="round"/><circle cx="1459.6" cy="351.6" r="2.2" fill="#6ee46e"/><polygon points="1653.2,241.3 1646.0,253.9 1631.5,253.9 1624.2,241.3 1631.5,228.7 1646.0,228.7" stroke="#7c7c7c" stroke-width="4.6" fill="none" stroke-linecap="round" stroke-linejoin="round"/><polygon points="1593.2,342.3 1586.0,354.9 1571.5,354.9 1564.2,342.3 1571.5,329.7 1586.0,329.7" stroke="#7c7c7c" stroke-width="4.6" fill="none" stroke-linecap="round" stroke-linejoin="round"/><polygon points="1713.2,342.3 1706.0,354.9 1691.5,354.9 1684.2,342.3 1691.5,329.7 1706.0,329.7" stroke="#7c7c7c" stroke-width="4.6" fill="none" stroke-linecap="round" stroke-linejoin="round"/><polygon points="1652.1,316.3 1641.7,322.3 1631.3,316.3 1631.3,304.3 1641.7,298.3 1652.1,304.3" stroke="#d08858" stroke-width="3.2" fill="none" opacity="0.75"/><path d="M1641.7,298.3 L1626.7,287.3 L1616.7,289.3 M1651.7,316.3 L1662.7,303.3 L1668.7,305.3 M1631.7,316.3 L1632.7,333.3 L1628.7,341.3" stroke="#d08858" stroke-width="3.2" fill="none" opacity="0.75"/><path d="M1631.7,254.3 L1585.7,329.3" stroke="#7c7c7c" stroke-width="4.6" fill="none" stroke-linecap="round" stroke-linejoin="round"/><path d="M1623.4,267.8 l-3.1,5.1" stroke="#5ee65e" stroke-width="4.6" stroke-linecap="round"/><path d="M1598.6,308.3 l-3.1,5.1" stroke="#5ee65e" stroke-width="4.6" stroke-linecap="round"/><path d="M1645.7,254.3 L1691.7,329.3" stroke="#7c7c7c" stroke-width="4.6" fill="none" stroke-linecap="round" stroke-linejoin="round"/><path d="M1654.0,267.8 l3.1,5.1" stroke="#5ee65e" stroke-width="4.6" stroke-linecap="round"/><path d="M1678.8,308.3 l3.1,5.1" stroke="#5ee65e" stroke-width="4.6" stroke-linecap="round"/><path d="M1592.7,342.3 L1684.7,342.3" stroke="#7c7c7c" stroke-width="4.6" fill="none" stroke-linecap="round" stroke-linejoin="round"/><path d="M1609.3,342.3 l6.0,0.0" stroke="#5ee65e" stroke-width="4.6" stroke-linecap="round"/><path d="M1658.9,342.3 l6.0,0.0" stroke="#5ee65e" stroke-width="4.6" stroke-linecap="round"/><path d="M1605.7,276.3 L1589.7,270.3 L1585.7,258.3 L1573.7,254.3" stroke="#8a8a8a" stroke-width="3.8" fill="none" stroke-linejoin="round" stroke-linecap="round"/><circle cx="1597.7" cy="273.3" r="2.2" fill="#6ee46e"/><path d="M1671.7,276.3 L1687.7,270.3 L1691.7,258.3 L1703.7,254.3" stroke="#8a8a8a" stroke-width="3.8" fill="none" stroke-linejoin="round" stroke-linecap="round"/><circle cx="1679.7" cy="273.3" r="2.2" fill="#6ee46e"/><path d="M1588.7,323.3 L1572.7,327.3 L1566.7,339.3" stroke="#8a8a8a" stroke-width="3.8" fill="none" stroke-linejoin="round" stroke-linecap="round"/><circle cx="1580.7" cy="325.3" r="2.2" fill="#6ee46e"/><path d="M1688.7,323.3 L1704.7,327.3 L1710.7,339.3" stroke="#8a8a8a" stroke-width="3.8" fill="none" stroke-linejoin="round" stroke-linecap="round"/><circle cx="1696.7" cy="325.3" r="2.2" fill="#6ee46e"/><path d="M1636.7,342.3 L1634.7,358.3 L1626.7,368.3" stroke="#8a8a8a" stroke-width="3.8" fill="none" stroke-linejoin="round" stroke-linecap="round"/><circle cx="1635.7" cy="350.3" r="2.2" fill="#6ee46e"/><path d="M1640.7,342.3 L1642.7,358.3 L1650.7,368.3" stroke="#8a8a8a" stroke-width="3.8" fill="none" stroke-linejoin="round" stroke-linecap="round"/><circle cx="1641.7" cy="350.3" r="2.2" fill="#6ee46e"/><polygon points="1380.0,399.0 1372.8,411.6 1358.2,411.6 1351.0,399.0 1358.2,386.4 1372.8,386.4" stroke="#7c7c7c" stroke-width="4.6" fill="none" stroke-linecap="round" stroke-linejoin="round"/><polygon points="1320.0,500.0 1312.8,512.6 1298.2,512.6 1291.0,500.0 1298.2,487.4 1312.8,487.4" stroke="#7c7c7c" stroke-width="4.6" fill="none" stroke-linecap="round" stroke-linejoin="round"/><polygon points="1440.0,500.0 1432.8,512.6 1418.2,512.6 1411.0,500.0 1418.2,487.4 1432.8,487.4" stroke="#7c7c7c" stroke-width="4.6" fill="none" stroke-linecap="round" stroke-linejoin="round"/><polygon points="1378.9,474.0 1368.5,480.0 1358.1,474.0 1358.1,462.0 1368.5,456.0 1378.9,462.0" stroke="#d08858" stroke-width="3.2" fill="none" opacity="0.75"/><path d="M1368.5,456 L1353.5,445 L1343.5,447 M1378.5,474 L1389.5,461 L1395.5,463 M1358.5,474 L1359.5,491 L1355.5,499" stroke="#d08858" stroke-width="3.2" fill="none" opacity="0.75"/><path d="M1358.5,412.0 L1312.5,487.0" stroke="#7c7c7c" stroke-width="4.6" fill="none" stroke-linecap="round" stroke-linejoin="round"/><path d="M1350.2,425.5 l-3.1,5.1" stroke="#5ee65e" stroke-width="4.6" stroke-linecap="round"/><path d="M1325.4,466.0 l-3.1,5.1" stroke="#5ee65e" stroke-width="4.6" stroke-linecap="round"/><path d="M1372.5,412.0 L1418.5,487.0" stroke="#7c7c7c" stroke-width="4.6" fill="none" stroke-linecap="round" stroke-linejoin="round"/><path d="M1380.8,425.5 l3.1,5.1" stroke="#5ee65e" stroke-width="4.6" stroke-linecap="round"/><path d="M1405.6,466.0 l3.1,5.1" stroke="#5ee65e" stroke-width="4.6" stroke-linecap="round"/><path d="M1319.5,500.0 L1411.5,500.0" stroke="#7c7c7c" stroke-width="4.6" fill="none" stroke-linecap="round" stroke-linejoin="round"/><path d="M1336.1,500.0 l6.0,0.0" stroke="#5ee65e" stroke-width="4.6" stroke-linecap="round"/><path d="M1385.7,500.0 l6.0,0.0" stroke="#5ee65e" stroke-width="4.6" stroke-linecap="round"/><path d="M1332.5,434.0 L1316.5,428.0 L1312.5,416.0 L1300.5,412.0" stroke="#8a8a8a" stroke-width="3.8" fill="none" stroke-linejoin="round" stroke-linecap="round"/><circle cx="1324.5" cy="431.0" r="2.2" fill="#6ee46e"/><path d="M1398.5,434.0 L1414.5,428.0 L1418.5,416.0 L1430.5,412.0" stroke="#8a8a8a" stroke-width="3.8" fill="none" stroke-linejoin="round" stroke-linecap="round"/><circle cx="1406.5" cy="431.0" r="2.2" fill="#6ee46e"/><path d="M1415.5,481.0 L1431.5,485.0 L1437.5,497.0" stroke="#8a8a8a" stroke-width="3.8" fill="none" stroke-linejoin="round" stroke-linecap="round"/><circle cx="1423.5" cy="483.0" r="2.2" fill="#6ee46e"/><path d="M1363.5,500.0 L1361.5,516.0 L1353.5,526.0" stroke="#8a8a8a" stroke-width="3.8" fill="none" stroke-linejoin="round" stroke-linecap="round"/><circle cx="1362.5" cy="508.0" r="2.2" fill="#6ee46e"/><path d="M1367.5,500.0 L1369.5,516.0 L1377.5,526.0" stroke="#8a8a8a" stroke-width="3.8" fill="none" stroke-linejoin="round" stroke-linecap="round"/><circle cx="1368.5" cy="508.0" r="2.2" fill="#6ee46e"/><polygon points="1560.1,401.0 1552.8,413.6 1538.3,413.6 1531.1,401.0 1538.3,388.4 1552.8,388.4" stroke="#7c7c7c" stroke-width="4.6" fill="none" stroke-linecap="round" stroke-linejoin="round"/><polygon points="1500.1,502.0 1492.8,514.6 1478.3,514.6 1471.1,502.0 1478.3,489.4 1492.8,489.4" stroke="#7c7c7c" stroke-width="4.6" fill="none" stroke-linecap="round" stroke-linejoin="round"/><polygon points="1620.1,502.0 1612.8,514.6 1598.3,514.6 1591.1,502.0 1598.3,489.4 1612.8,489.4" stroke="#7c7c7c" stroke-width="4.6" fill="none" stroke-linecap="round" stroke-linejoin="round"/><polygon points="1559.0,476.0 1548.6,482.0 1538.2,476.0 1538.2,464.0 1548.6,458.0 1559.0,464.0" stroke="#d08858" stroke-width="3.2" fill="none" opacity="0.75"/><path d="M1548.6,458 L1533.6,447 L1523.6,449 M1558.6,476 L1569.6,463 L1575.6,465 M1538.6,476 L1539.6,493 L1535.6,501" stroke="#d08858" stroke-width="3.2" fill="none" opacity="0.75"/><path d="M1538.6,414.0 L1492.6,489.0" stroke="#7c7c7c" stroke-width="4.6" fill="none" stroke-linecap="round" stroke-linejoin="round"/><path d="M1530.3,427.5 l-3.1,5.1" stroke="#5ee65e" stroke-width="4.6" stroke-linecap="round"/><path d="M1505.5,468.0 l-3.1,5.1" stroke="#5ee65e" stroke-width="4.6" stroke-linecap="round"/><path d="M1552.6,414.0 L1598.6,489.0" stroke="#7c7c7c" stroke-width="4.6" fill="none" stroke-linecap="round" stroke-linejoin="round"/><path d="M1560.9,427.5 l3.1,5.1" stroke="#5ee65e" stroke-width="4.6" stroke-linecap="round"/><path d="M1585.7,468.0 l3.1,5.1" stroke="#5ee65e" stroke-width="4.6" stroke-linecap="round"/><path d="M1499.6,502.0 L1591.6,502.0" stroke="#7c7c7c" stroke-width="4.6" fill="none" stroke-linecap="round" stroke-linejoin="round"/><path d="M1516.2,502.0 l6.0,0.0" stroke="#5ee65e" stroke-width="4.6" stroke-linecap="round"/><path d="M1565.8,502.0 l6.0,0.0" stroke="#5ee65e" stroke-width="4.6" stroke-linecap="round"/><path d="M1512.6,436.0 L1496.6,430.0 L1492.6,418.0 L1480.6,414.0" stroke="#8a8a8a" stroke-width="3.8" fill="none" stroke-linejoin="round" stroke-linecap="round"/><circle cx="1504.6" cy="433.0" r="2.2" fill="#6ee46e"/><path d="M1578.6,436.0 L1594.6,430.0 L1598.6,418.0 L1610.6,414.0" stroke="#8a8a8a" stroke-width="3.8" fill="none" stroke-linejoin="round" stroke-linecap="round"/><circle cx="1586.6" cy="433.0" r="2.2" fill="#6ee46e"/><path d="M1495.6,483.0 L1479.6,487.0 L1473.6,499.0" stroke="#8a8a8a" stroke-width="3.8" fill="none" stroke-linejoin="round" stroke-linecap="round"/><circle cx="1487.6" cy="485.0" r="2.2" fill="#6ee46e"/><path d="M1595.6,483.0 L1611.6,487.0 L1617.6,499.0" stroke="#8a8a8a" stroke-width="3.8" fill="none" stroke-linejoin="round" stroke-linecap="round"/><circle cx="1603.6" cy="485.0" r="2.2" fill="#6ee46e"/><path d="M1543.6,502.0 L1541.6,518.0 L1533.6,528.0" stroke="#8a8a8a" stroke-width="3.8" fill="none" stroke-linejoin="round" stroke-linecap="round"/><circle cx="1542.6" cy="510.0" r="2.2" fill="#6ee46e"/><path d="M1547.6,502.0 L1549.6,518.0 L1557.6,528.0" stroke="#8a8a8a" stroke-width="3.8" fill="none" stroke-linejoin="round" stroke-linecap="round"/><circle cx="1548.6" cy="510.0" r="2.2" fill="#6ee46e"/></g>
<path d="M1244,455.5 L1242.5,434" stroke="#1a7a1a" stroke-width="2.5"/><polygon points="1237.5,436 1242,427 1247,436" fill="#1a7a1a"/>
<path d="M1244,455.5 L1222,467" stroke="#1a2aa0" stroke-width="2.5"/><polygon points="1216,470 1222,462 1226,470" fill="#1a2aa0"/>
<path d="M1244,455.5 L1260,465" stroke="#c02020" stroke-width="2.5"/><polygon points="1267,469 1256,468 1261,461" fill="#c02020"/>
<circle cx="1244" cy="455.5" r="2.5" fill="#888"/>
<text x="1235" y="421" font-size="20" text-anchor="start" font-weight="normal" fill="#000" >b</text>
<text x="1193" y="486" font-size="20" text-anchor="start" font-weight="normal" fill="#000" >c</text>
<text x="1278" y="482" font-size="20" text-anchor="start" font-weight="normal" fill="#000" >a</text>
<g clip-path="url(#clipc)"><rect x="107" y="883" width="423" height="239" fill="#3b5ca8"/><rect x="497" y="883" width="33" height="232" fill="url(#cright)"/><path d="M490,883 L500,940 L494,1000 L502,1060 L492,1115 L530,1115 L530,883 Z" fill="#9fb0d4"/><rect x="107" y="1114" width="423" height="8" fill="#2a4c96"/><rect x="107" y="1111" width="423" height="3" fill="#b8c8e8"/><rect x="107" y="883" width="65" height="232" fill="url(#leftg)"/><ellipse cx="300" cy="905" rx="80" ry="62" fill="url(#cloudg)"/><rect x="160" y="1075" width="320" height="40" fill="url(#botg)"/><path d="M455,1050 Q480,1040 497,1060 L497,1112 L440,1112 Z" fill="#8ea2d4" opacity="0.6"/><g stroke-linecap="round"><path d="M295.8,932.5 l8.8,14.7" stroke="#eef2ff" stroke-width="1.8" opacity="0.61"/><path d="M135.2,1064.8 l5.2,6.7" stroke="#eef2ff" stroke-width="2.6" opacity="0.83"/><path d="M451.0,1024.0 l5.1,8.5" stroke="#eef2ff" stroke-width="1.2" opacity="0.93"/><path d="M157.0,1095.5 l7.3,11.1" stroke="#eef2ff" stroke-width="1.8" opacity="0.58"/><path d="M122.6,1081.3 l9.6,13.7" stroke="#eef2ff" stroke-width="2.6" opacity="0.90"/><path d="M259.5,889.1 l6.4,14.4" stroke="#eef2ff" stroke-width="1.8" opacity="0.72"/><path d="M178.8,922.0 l10.3,15.8" stroke="#eef2ff" stroke-width="2.0" opacity="0.64"/><path d="M148.5,898.0 l9.0,14.0" stroke="#eef2ff" stroke-width="2.1" opacity="0.80"/><path d="M460.3,1102.4 l8.2,18.0" stroke="#eef2ff" stroke-width="1.9" opacity="0.90"/><path d="M300.4,969.0 l10.6,14.7" stroke="#eef2ff" stroke-width="1.1" opacity="0.86"/><path d="M128.5,942.1 l6.6,9.2" stroke="#eef2ff" stroke-width="1.1" opacity="0.65"/><path d="M314.0,1049.9 l3.6,7.3" stroke="#eef2ff" stroke-width="2.3" opacity="0.90"/><path d="M216.2,1058.9 l6.4,13.9" stroke="#eef2ff" stroke-width="1.0" opacity="0.77"/><path d="M463.0,913.6 l3.9,5.1" stroke="#eef2ff" stroke-width="1.7" opacity="0.56"/><path d="M448.0,1033.1 l7.2,10.9" stroke="#eef2ff" stroke-width="1.8" opacity="0.60"/><path d="M173.1,925.1 l7.9,13.5" stroke="#eef2ff" stroke-width="1.1" opacity="0.82"/><path d="M111.1,989.2 l9.6,13.4" stroke="#eef2ff" stroke-width="2.1" opacity="0.61"/><path d="M381.1,954.8 l6.0,9.0" stroke="#eef2ff" stroke-width="2.4" opacity="0.63"/><path d="M146.6,1020.7 l6.6,14.6" stroke="#eef2ff" stroke-width="1.5" opacity="0.81"/><path d="M314.1,1011.4 l7.1,15.7" stroke="#eef2ff" stroke-width="1.6" opacity="0.64"/><path d="M497.3,907.6 l2.7,5.5" stroke="#eef2ff" stroke-width="2.2" opacity="0.70"/><path d="M265.4,934.6 l6.5,9.5" stroke="#eef2ff" stroke-width="2.1" opacity="0.87"/><path d="M485.8,1109.5 l5.4,8.1" stroke="#eef2ff" stroke-width="1.6" opacity="0.57"/><path d="M324.9,901.2 l8.9,17.0" stroke="#eef2ff" stroke-width="1.7" opacity="0.55"/><path d="M210.3,1100.8 l3.9,7.9" stroke="#eef2ff" stroke-width="1.2" opacity="0.81"/><path d="M256.6,1098.4 l5.7,10.1" stroke="#eef2ff" stroke-width="1.4" opacity="0.58"/><path d="M258.8,945.4 l11.8,15.4" stroke="#eef2ff" stroke-width="2.3" opacity="0.92"/><path d="M145.1,953.8 l10.0,15.5" stroke="#eef2ff" stroke-width="1.2" opacity="0.86"/><path d="M430.4,1004.2 l4.2,6.6" stroke="#eef2ff" stroke-width="1.9" opacity="0.60"/><path d="M139.5,1089.0 l9.5,13.4" stroke="#eef2ff" stroke-width="1.1" opacity="0.87"/><path d="M456.9,899.3 l6.1,11.1" stroke="#eef2ff" stroke-width="1.3" opacity="0.62"/><path d="M131.0,891.5 l7.3,13.3" stroke="#eef2ff" stroke-width="1.3" opacity="0.55"/><path d="M138.7,1072.4 l3.1,4.7" stroke="#eef2ff" stroke-width="1.9" opacity="0.78"/><path d="M412.8,1089.7 l7.7,17.0" stroke="#eef2ff" stroke-width="1.6" opacity="0.92"/><path d="M475.2,1064.8 l5.0,9.0" stroke="#eef2ff" stroke-width="2.0" opacity="0.84"/><path d="M318.2,1084.9 l10.1,17.3" stroke="#eef2ff" stroke-width="2.2" opacity="0.83"/><path d="M454.1,966.0 l6.4,9.0" stroke="#eef2ff" stroke-width="1.9" opacity="0.87"/><path d="M250.0,913.0 l5.7,9.8" stroke="#eef2ff" stroke-width="1.0" opacity="0.80"/><path d="M313.0,1088.0 l3.9,5.6" stroke="#eef2ff" stroke-width="1.7" opacity="0.79"/><path d="M299.9,943.8 l7.2,9.4" stroke="#eef2ff" stroke-width="2.3" opacity="0.76"/><path d="M334.0,1111.5 l3.9,7.4" stroke="#eef2ff" stroke-width="2.3" opacity="0.72"/><path d="M183.8,915.3 l8.2,13.1" stroke="#eef2ff" stroke-width="1.2" opacity="0.90"/><path d="M309.4,934.2 l2.6,4.6" stroke="#eef2ff" stroke-width="1.7" opacity="0.60"/><path d="M338.0,1016.5 l7.2,10.0" stroke="#eef2ff" stroke-width="2.3" opacity="0.65"/><path d="M236.7,932.3 l4.6,6.3" stroke="#eef2ff" stroke-width="2.0" opacity="0.88"/><path d="M153.3,975.8 l3.8,7.1" stroke="#eef2ff" stroke-width="1.9" opacity="0.54"/><path d="M203.1,1020.3 l4.0,7.0" stroke="#eef2ff" stroke-width="2.3" opacity="0.73"/><path d="M368.1,885.1 l4.2,8.8" stroke="#eef2ff" stroke-width="1.6" opacity="0.85"/><path d="M410.4,1015.7 l11.3,15.1" stroke="#eef2ff" stroke-width="2.5" opacity="0.85"/><path d="M390.1,1004.5 l4.9,8.9" stroke="#eef2ff" stroke-width="2.0" opacity="0.68"/><path d="M143.5,957.4 l9.6,13.2" stroke="#eef2ff" stroke-width="1.5" opacity="0.55"/><path d="M254.7,1081.1 l7.5,13.4" stroke="#eef2ff" stroke-width="1.8" opacity="0.75"/><path d="M250.6,928.4 l5.3,8.0" stroke="#eef2ff" stroke-width="1.3" opacity="0.91"/><path d="M274.8,928.9 l3.6,7.4" stroke="#eef2ff" stroke-width="1.5" opacity="0.80"/><path d="M457.4,1076.8 l6.9,13.5" stroke="#eef2ff" stroke-width="2.1" opacity="0.93"/><path d="M158.8,971.5 l3.0,4.1" stroke="#eef2ff" stroke-width="1.7" opacity="0.84"/><path d="M127.0,1028.8 l7.1,10.5" stroke="#eef2ff" stroke-width="1.7" opacity="0.82"/><path d="M153.4,962.9 l7.2,16.0" stroke="#eef2ff" stroke-width="1.4" opacity="0.78"/><path d="M217.2,1062.4 l5.9,8.2" stroke="#eef2ff" stroke-width="1.6" opacity="0.60"/><path d="M117.9,1066.9 l6.8,11.7" stroke="#eef2ff" stroke-width="2.4" opacity="0.88"/><path d="M146.2,1095.6 l5.0,7.2" stroke="#eef2ff" stroke-width="1.6" opacity="0.86"/><path d="M140.8,1103.9 l5.6,10.5" stroke="#eef2ff" stroke-width="2.3" opacity="0.58"/><path d="M298.7,1091.2 l7.8,10.7" stroke="#eef2ff" stroke-width="2.3" opacity="0.83"/><path d="M120.2,953.9 l7.1,12.7" stroke="#eef2ff" stroke-width="1.1" opacity="0.93"/><path d="M280.8,1054.7 l4.3,8.4" stroke="#eef2ff" stroke-width="1.4" opacity="0.53"/><path d="M230.9,942.9 l7.7,10.5" stroke="#eef2ff" stroke-width="1.9" opacity="0.52"/><path d="M138.9,929.3 l5.6,8.4" stroke="#eef2ff" stroke-width="2.3" opacity="0.80"/><path d="M145.1,1048.7 l8.6,13.8" stroke="#eef2ff" stroke-width="1.9" opacity="0.61"/><path d="M354.5,909.5 l11.2,16.0" stroke="#eef2ff" stroke-width="1.9" opacity="0.81"/><path d="M114.0,949.8 l3.8,7.0" stroke="#eef2ff" stroke-width="2.6" opacity="0.92"/><path d="M338.0,1087.7 l5.6,8.8" stroke="#eef2ff" stroke-width="1.5" opacity="0.69"/><path d="M343.6,921.6 l9.0,14.8" stroke="#eef2ff" stroke-width="1.1" opacity="0.57"/><path d="M309.5,924.1 l6.0,8.1" stroke="#eef2ff" stroke-width="1.6" opacity="0.79"/><path d="M141.0,1049.6 l6.7,14.8" stroke="#eef2ff" stroke-width="1.8" opacity="0.61"/><path d="M147.8,974.2 l7.9,15.3" stroke="#eef2ff" stroke-width="2.4" opacity="0.86"/><path d="M269.3,1030.6 l8.0,14.9" stroke="#eef2ff" stroke-width="1.4" opacity="0.71"/><path d="M282.9,1103.2 l4.4,8.0" stroke="#eef2ff" stroke-width="2.5" opacity="0.93"/><path d="M237.2,935.1 l9.8,13.5" stroke="#eef2ff" stroke-width="1.9" opacity="0.92"/><path d="M462.2,1055.3 l9.1,14.4" stroke="#eef2ff" stroke-width="2.5" opacity="0.93"/><path d="M301.3,978.3 l5.3,7.5" stroke="#eef2ff" stroke-width="1.3" opacity="0.83"/><path d="M128.1,1020.1 l8.0,13.9" stroke="#eef2ff" stroke-width="2.5" opacity="0.63"/><path d="M144.5,1016.4 l8.4,18.0" stroke="#eef2ff" stroke-width="2.1" opacity="0.88"/><path d="M158.1,1104.8 l7.7,11.5" stroke="#eef2ff" stroke-width="2.1" opacity="0.82"/><path d="M228.2,1047.7 l8.1,11.3" stroke="#eef2ff" stroke-width="1.1" opacity="0.62"/><path d="M417.8,1107.0 l7.0,13.7" stroke="#eef2ff" stroke-width="2.3" opacity="0.66"/><path d="M358.9,1100.1 l6.7,11.1" stroke="#eef2ff" stroke-width="1.4" opacity="0.91"/><path d="M164.4,942.7 l7.1,12.8" stroke="#eef2ff" stroke-width="1.4" opacity="0.91"/><path d="M159.1,962.7 l10.8,16.1" stroke="#eef2ff" stroke-width="1.6" opacity="0.59"/><path d="M231.3,918.5 l7.0,12.2" stroke="#eef2ff" stroke-width="2.3" opacity="0.57"/><path d="M310.8,892.7 l7.9,17.5" stroke="#eef2ff" stroke-width="1.7" opacity="0.62"/><path d="M475.1,948.1 l4.5,7.4" stroke="#eef2ff" stroke-width="2.1" opacity="0.53"/><path d="M420.3,1020.5 l9.1,11.7" stroke="#eef2ff" stroke-width="1.5" opacity="0.55"/><path d="M136.3,930.4 l11.4,15.1" stroke="#eef2ff" stroke-width="2.0" opacity="0.68"/><path d="M351.8,900.7 l2.7,5.6" stroke="#eef2ff" stroke-width="1.8" opacity="0.78"/><path d="M416.6,905.0 l5.6,8.7" stroke="#eef2ff" stroke-width="2.1" opacity="0.62"/><path d="M158.7,1088.8 l7.1,9.5" stroke="#eef2ff" stroke-width="2.0" opacity="0.86"/><path d="M143.4,1079.8 l5.6,10.8" stroke="#eef2ff" stroke-width="2.4" opacity="0.88"/><path d="M252.1,1077.0 l7.0,11.3" stroke="#eef2ff" stroke-width="2.4" opacity="0.83"/><path d="M282.1,906.6 l3.7,7.1" stroke="#eef2ff" stroke-width="1.2" opacity="0.91"/><path d="M343.3,985.2 l5.9,10.1" stroke="#eef2ff" stroke-width="1.2" opacity="0.94"/><path d="M136.1,966.5 l6.7,10.2" stroke="#eef2ff" stroke-width="1.8" opacity="0.53"/><path d="M216.5,1009.0 l7.2,12.3" stroke="#eef2ff" stroke-width="2.0" opacity="0.89"/><path d="M419.7,1109.4 l10.2,16.4" stroke="#eef2ff" stroke-width="1.6" opacity="0.70"/><path d="M226.1,910.2 l7.1,13.3" stroke="#eef2ff" stroke-width="1.1" opacity="0.50"/><path d="M498.1,960.4 l7.1,9.6" stroke="#eef2ff" stroke-width="2.3" opacity="0.74"/><path d="M348.0,1095.3 l3.7,7.3" stroke="#eef2ff" stroke-width="2.0" opacity="0.70"/><path d="M489.7,984.4 l3.5,7.3" stroke="#eef2ff" stroke-width="2.3" opacity="0.56"/><path d="M248.7,965.2 l5.2,11.4" stroke="#eef2ff" stroke-width="1.9" opacity="0.85"/><path d="M221.5,944.8 l5.4,12.0" stroke="#eef2ff" stroke-width="1.2" opacity="0.61"/><path d="M390.9,883.1 l7.0,14.8" stroke="#eef2ff" stroke-width="2.1" opacity="0.71"/><path d="M147.6,1003.7 l6.0,7.8" stroke="#eef2ff" stroke-width="1.8" opacity="0.71"/><path d="M219.5,933.7 l3.2,4.4" stroke="#eef2ff" stroke-width="2.6" opacity="0.51"/><path d="M169.3,1083.2 l6.9,11.6" stroke="#eef2ff" stroke-width="1.9" opacity="0.54"/><path d="M205.7,964.0 l3.0,5.5" stroke="#eef2ff" stroke-width="1.7" opacity="0.83"/><path d="M261.6,1098.6 l6.7,10.7" stroke="#eef2ff" stroke-width="2.3" opacity="0.56"/><path d="M148.3,1105.5 l7.0,9.4" stroke="#eef2ff" stroke-width="1.8" opacity="0.93"/><path d="M153.3,1021.1 l3.3,5.6" stroke="#eef2ff" stroke-width="1.5" opacity="0.80"/><path d="M110.4,1066.6 l9.1,16.1" stroke="#eef2ff" stroke-width="1.7" opacity="0.60"/><path d="M187.6,959.7 l5.9,8.1" stroke="#eef2ff" stroke-width="1.5" opacity="0.86"/><path d="M154.9,1093.2 l9.4,13.6" stroke="#eef2ff" stroke-width="1.5" opacity="0.71"/><path d="M350.6,1095.0 l2.8,5.6" stroke="#eef2ff" stroke-width="1.0" opacity="0.90"/><path d="M181.0,1106.6 l6.3,12.6" stroke="#eef2ff" stroke-width="2.3" opacity="0.69"/><path d="M148.9,1073.7 l4.7,6.1" stroke="#eef2ff" stroke-width="1.7" opacity="0.95"/><path d="M135.6,940.7 l8.5,13.0" stroke="#eef2ff" stroke-width="1.3" opacity="0.81"/><path d="M460.9,920.8 l4.7,10.1" stroke="#eef2ff" stroke-width="1.1" opacity="0.56"/><path d="M125.7,1009.1 l3.7,4.9" stroke="#eef2ff" stroke-width="2.5" opacity="0.55"/><path d="M294.3,1071.0 l4.9,9.7" stroke="#eef2ff" stroke-width="1.9" opacity="0.59"/><path d="M485.3,888.4 l7.7,9.9" stroke="#eef2ff" stroke-width="2.5" opacity="0.63"/><path d="M323.5,1083.9 l9.6,13.4" stroke="#eef2ff" stroke-width="1.7" opacity="0.83"/><path d="M291.5,925.4 l4.4,9.4" stroke="#eef2ff" stroke-width="1.5" opacity="0.87"/><path d="M486.8,1071.3 l3.1,5.5" stroke="#eef2ff" stroke-width="1.2" opacity="0.53"/><path d="M325.7,1099.3 l7.2,15.8" stroke="#eef2ff" stroke-width="2.5" opacity="0.54"/><path d="M160.6,1101.8 l4.4,6.2" stroke="#eef2ff" stroke-width="2.1" opacity="0.54"/><path d="M148.7,919.6 l4.7,9.5" stroke="#eef2ff" stroke-width="1.2" opacity="0.90"/><path d="M116.2,944.2 l9.2,13.2" stroke="#eef2ff" stroke-width="2.1" opacity="0.82"/><path d="M417.0,984.8 l6.8,13.5" stroke="#eef2ff" stroke-width="1.7" opacity="0.67"/><path d="M247.0,1101.4 l5.5,10.8" stroke="#eef2ff" stroke-width="2.5" opacity="0.88"/><path d="M273.5,986.4 l5.8,11.7" stroke="#eef2ff" stroke-width="1.3" opacity="0.64"/><path d="M133.8,986.9 l9.5,17.4" stroke="#eef2ff" stroke-width="2.5" opacity="0.59"/><path d="M279.6,1043.8 l6.6,11.8" stroke="#eef2ff" stroke-width="1.0" opacity="0.59"/><path d="M325.4,906.3 l10.9,16.0" stroke="#eef2ff" stroke-width="1.9" opacity="0.59"/><path d="M333.9,1099.0 l5.2,8.4" stroke="#eef2ff" stroke-width="1.9" opacity="0.81"/><path d="M318.9,885.8 l7.4,15.8" stroke="#eef2ff" stroke-width="2.2" opacity="0.92"/><path d="M422.9,991.5 l4.6,6.0" stroke="#eef2ff" stroke-width="2.5" opacity="0.86"/><path d="M329.0,888.8 l6.7,8.8" stroke="#eef2ff" stroke-width="1.5" opacity="0.73"/><path d="M171.3,923.7 l5.3,10.6" stroke="#eef2ff" stroke-width="1.7" opacity="0.82"/><path d="M304.2,893.6 l5.0,7.7" stroke="#eef2ff" stroke-width="2.0" opacity="0.72"/><path d="M498.2,1043.7 l7.0,13.8" stroke="#eef2ff" stroke-width="1.9" opacity="0.79"/><path d="M498.1,1103.1 l6.6,10.3" stroke="#eef2ff" stroke-width="1.2" opacity="0.75"/><path d="M325.8,1109.7 l4.7,6.2" stroke="#eef2ff" stroke-width="2.1" opacity="0.63"/><path d="M314.7,933.3 l5.0,6.6" stroke="#eef2ff" stroke-width="1.6" opacity="0.83"/><path d="M356.1,977.0 l3.7,6.6" stroke="#eef2ff" stroke-width="1.8" opacity="0.74"/><path d="M305.6,940.2 l8.3,13.4" stroke="#eef2ff" stroke-width="1.0" opacity="0.68"/><path d="M234.0,896.9 l6.4,12.7" stroke="#eef2ff" stroke-width="2.3" opacity="0.77"/><path d="M198.4,958.3 l2.7,6.1" stroke="#eef2ff" stroke-width="1.1" opacity="0.94"/><path d="M379.2,1052.9 l8.8,12.4" stroke="#eef2ff" stroke-width="1.8" opacity="0.70"/><path d="M461.5,906.0 l7.0,11.8" stroke="#eef2ff" stroke-width="2.0" opacity="0.54"/><path d="M232.0,884.9 l10.3,15.2" stroke="#eef2ff" stroke-width="1.1" opacity="0.63"/><path d="M190.8,1007.5 l6.3,11.5" stroke="#eef2ff" stroke-width="1.9" opacity="0.77"/><path d="M219.8,1072.2 l5.2,11.0" stroke="#eef2ff" stroke-width="2.1" opacity="0.62"/><path d="M377.5,982.8 l6.8,9.6" stroke="#eef2ff" stroke-width="1.1" opacity="0.62"/><path d="M150.0,1090.8 l3.6,5.6" stroke="#eef2ff" stroke-width="2.0" opacity="0.55"/><path d="M346.4,1105.5 l4.0,5.4" stroke="#eef2ff" stroke-width="1.2" opacity="0.71"/><path d="M144.1,1041.6 l2.6,5.0" stroke="#eef2ff" stroke-width="1.7" opacity="0.84"/><path d="M334.3,970.4 l8.5,15.6" stroke="#eef2ff" stroke-width="1.4" opacity="0.54"/><path d="M469.6,1110.5 l4.1,6.6" stroke="#eef2ff" stroke-width="1.2" opacity="0.72"/><path d="M207.8,1069.9 l4.1,5.4" stroke="#eef2ff" stroke-width="1.9" opacity="0.51"/><path d="M340.5,980.7 l6.6,11.0" stroke="#eef2ff" stroke-width="1.7" opacity="0.94"/><path d="M175.1,1091.6 l3.3,5.6" stroke="#eef2ff" stroke-width="1.3" opacity="0.72"/><path d="M136.1,1083.8 l4.4,5.8" stroke="#eef2ff" stroke-width="1.7" opacity="0.51"/><path d="M156.9,1000.0 l8.1,11.5" stroke="#eef2ff" stroke-width="2.1" opacity="0.78"/><path d="M127.2,1027.1 l10.6,14.3" stroke="#eef2ff" stroke-width="2.0" opacity="0.75"/><path d="M120.6,909.1 l6.4,8.8" stroke="#eef2ff" stroke-width="1.2" opacity="0.60"/><path d="M152.7,1070.0 l9.8,15.4" stroke="#eef2ff" stroke-width="2.6" opacity="0.69"/><path d="M355.3,1072.7 l2.7,5.0" stroke="#eef2ff" stroke-width="1.4" opacity="0.60"/><path d="M301.5,922.4 l4.8,6.4" stroke="#eef2ff" stroke-width="2.3" opacity="0.88"/><path d="M320.9,1010.0 l5.9,8.5" stroke="#eef2ff" stroke-width="2.1" opacity="0.93"/><path d="M139.3,1067.5 l9.0,17.3" stroke="#eef2ff" stroke-width="2.6" opacity="0.72"/><path d="M322.5,949.3 l4.8,7.8" stroke="#eef2ff" stroke-width="2.3" opacity="0.84"/><path d="M472.4,1096.7 l7.9,14.7" stroke="#eef2ff" stroke-width="2.0" opacity="0.72"/><path d="M149.4,965.0 l8.3,13.5" stroke="#eef2ff" stroke-width="1.5" opacity="0.65"/><path d="M297.9,953.3 l8.8,11.3" stroke="#eef2ff" stroke-width="1.4" opacity="0.74"/><path d="M306.3,894.9 l8.2,16.9" stroke="#eef2ff" stroke-width="1.9" opacity="0.82"/><path d="M124.1,1065.4 l5.3,8.2" stroke="#eef2ff" stroke-width="2.3" opacity="0.90"/><path d="M118.3,968.1 l3.2,4.8" stroke="#eef2ff" stroke-width="1.4" opacity="0.56"/><path d="M387.3,906.6 l10.7,14.7" stroke="#eef2ff" stroke-width="2.0" opacity="0.76"/><path d="M368.9,1102.4 l5.0,10.9" stroke="#eef2ff" stroke-width="1.5" opacity="0.66"/><path d="M306.2,941.9 l10.4,15.9" stroke="#eef2ff" stroke-width="1.4" opacity="0.91"/><path d="M493.5,952.7 l7.7,14.1" stroke="#eef2ff" stroke-width="1.6" opacity="0.91"/><path d="M272.1,925.0 l8.2,13.6" stroke="#eef2ff" stroke-width="1.8" opacity="0.79"/><path d="M475.2,910.2 l9.5,13.6" stroke="#eef2ff" stroke-width="1.9" opacity="0.73"/><path d="M408.4,1091.9 l6.2,11.0" stroke="#eef2ff" stroke-width="2.2" opacity="0.67"/><path d="M357.5,941.3 l3.6,5.0" stroke="#eef2ff" stroke-width="1.6" opacity="0.56"/><path d="M460.9,1036.6 l3.1,5.2" stroke="#eef2ff" stroke-width="2.2" opacity="0.70"/><path d="M316.0,914.2 l6.1,9.3" stroke="#eef2ff" stroke-width="1.3" opacity="0.77"/><path d="M112.1,1104.2 l2.7,5.1" stroke="#eef2ff" stroke-width="2.2" opacity="0.66"/><path d="M468.6,977.9 l3.5,5.3" stroke="#eef2ff" stroke-width="1.4" opacity="0.60"/><path d="M143.8,1031.6 l10.3,15.9" stroke="#eef2ff" stroke-width="1.8" opacity="0.74"/><path d="M115.7,955.4 l6.3,13.9" stroke="#eef2ff" stroke-width="1.9" opacity="0.81"/><path d="M331.1,1105.7 l7.5,11.3" stroke="#eef2ff" stroke-width="1.7" opacity="0.60"/><path d="M443.6,887.1 l9.1,16.6" stroke="#eef2ff" stroke-width="1.3" opacity="0.56"/><path d="M477.3,1055.1 l8.9,14.3" stroke="#eef2ff" stroke-width="1.9" opacity="0.51"/><path d="M214.2,1104.4 l7.6,16.4" stroke="#eef2ff" stroke-width="1.1" opacity="0.87"/><path d="M293.3,988.1 l5.8,11.9" stroke="#eef2ff" stroke-width="2.0" opacity="0.77"/><path d="M336.8,944.2 l6.6,9.8" stroke="#eef2ff" stroke-width="1.8" opacity="0.59"/><path d="M189.0,1107.2 l9.5,13.1" stroke="#eef2ff" stroke-width="1.1" opacity="0.81"/><path d="M279.0,1066.3 l6.2,10.8" stroke="#eef2ff" stroke-width="1.4" opacity="0.82"/><path d="M184.9,907.8 l3.0,4.8" stroke="#eef2ff" stroke-width="2.3" opacity="0.58"/><path d="M219.2,959.8 l8.0,16.2" stroke="#eef2ff" stroke-width="1.2" opacity="0.80"/><path d="M118.4,955.5 l6.8,9.7" stroke="#eef2ff" stroke-width="2.2" opacity="0.67"/><path d="M140.6,1009.7 l7.5,14.3" stroke="#eef2ff" stroke-width="1.4" opacity="0.67"/><path d="M390.5,1104.7 l7.8,11.8" stroke="#eef2ff" stroke-width="1.7" opacity="0.64"/><path d="M302.4,948.5 l3.2,4.3" stroke="#eef2ff" stroke-width="2.4" opacity="0.66"/><path d="M412.1,971.7 l2.2,4.6" stroke="#eef2ff" stroke-width="1.9" opacity="0.85"/><path d="M151.5,1015.1 l4.0,5.2" stroke="#eef2ff" stroke-width="1.6" opacity="0.67"/><path d="M234.1,1078.3 l5.2,9.1" stroke="#eef2ff" stroke-width="1.1" opacity="0.80"/><path d="M132.2,1017.7 l2.9,5.2" stroke="#eef2ff" stroke-width="1.8" opacity="0.66"/><path d="M414.6,955.2 l6.1,9.4" stroke="#eef2ff" stroke-width="2.3" opacity="0.59"/><path d="M240.6,916.7 l5.9,11.5" stroke="#eef2ff" stroke-width="2.6" opacity="0.74"/><path d="M194.8,1079.9 l4.2,6.6" stroke="#eef2ff" stroke-width="2.4" opacity="0.72"/><path d="M243.4,938.7 l6.6,11.6" stroke="#eef2ff" stroke-width="2.4" opacity="0.56"/><path d="M296.3,1059.0 l6.3,10.1" stroke="#eef2ff" stroke-width="2.5" opacity="0.88"/><path d="M112.9,1042.9 l4.5,8.2" stroke="#eef2ff" stroke-width="2.1" opacity="0.79"/><path d="M137.5,1049.2 l5.2,9.4" stroke="#eef2ff" stroke-width="2.3" opacity="0.91"/><path d="M339.1,899.1 l9.3,12.1" stroke="#eef2ff" stroke-width="1.2" opacity="0.88"/><path d="M144.6,915.0 l7.5,13.3" stroke="#eef2ff" stroke-width="1.7" opacity="0.59"/><path d="M158.6,1097.2 l5.8,9.7" stroke="#eef2ff" stroke-width="1.0" opacity="0.64"/><path d="M176.5,950.3 l7.3,15.1" stroke="#eef2ff" stroke-width="2.0" opacity="0.78"/><path d="M188.5,901.2 l8.6,13.1" stroke="#eef2ff" stroke-width="1.0" opacity="0.51"/><path d="M417.4,1087.5 l3.7,6.8" stroke="#eef2ff" stroke-width="2.2" opacity="0.62"/><path d="M296.8,959.7 l8.7,15.2" stroke="#eef2ff" stroke-width="2.0" opacity="0.91"/><path d="M466.9,1036.5 l4.4,9.6" stroke="#eef2ff" stroke-width="1.8" opacity="0.51"/><path d="M325.9,947.7 l3.7,5.9" stroke="#eef2ff" stroke-width="1.8" opacity="0.56"/><path d="M128.1,1027.8 l8.7,14.2" stroke="#eef2ff" stroke-width="1.1" opacity="0.73"/><path d="M224.0,1090.5 l8.3,15.0" stroke="#eef2ff" stroke-width="1.5" opacity="0.77"/><path d="M134.2,945.2 l2.8,4.8" stroke="#eef2ff" stroke-width="2.4" opacity="0.93"/><path d="M248.8,942.8 l3.8,5.0" stroke="#eef2ff" stroke-width="1.3" opacity="0.65"/><path d="M470.9,936.6 l7.7,14.0" stroke="#eef2ff" stroke-width="1.3" opacity="0.94"/><path d="M281.3,933.3 l6.4,13.4" stroke="#eef2ff" stroke-width="2.2" opacity="0.91"/><path d="M406.2,968.6 l9.8,15.8" stroke="#eef2ff" stroke-width="2.5" opacity="0.80"/><path d="M298.7,1035.1 l4.8,9.4" stroke="#eef2ff" stroke-width="1.3" opacity="0.51"/><path d="M313.2,944.8 l8.3,16.8" stroke="#eef2ff" stroke-width="2.2" opacity="0.70"/><path d="M325.0,1066.3 l6.1,8.4" stroke="#eef2ff" stroke-width="1.7" opacity="0.64"/><path d="M272.1,911.6 l5.5,8.1" stroke="#eef2ff" stroke-width="2.4" opacity="0.69"/><path d="M150.3,1025.6 l5.3,9.4" stroke="#eef2ff" stroke-width="1.8" opacity="0.90"/><path d="M208.8,886.6 l5.7,11.7" stroke="#eef2ff" stroke-width="1.7" opacity="0.61"/><path d="M325.7,927.0 l7.2,10.2" stroke="#eef2ff" stroke-width="1.2" opacity="0.89"/><path d="M179.4,1041.7 l10.8,14.9" stroke="#eef2ff" stroke-width="2.0" opacity="0.84"/><path d="M338.7,1085.2 l9.5,17.2" stroke="#eef2ff" stroke-width="1.2" opacity="0.52"/><path d="M382.9,947.7 l3.5,5.3" stroke="#eef2ff" stroke-width="1.1" opacity="0.56"/><path d="M129.9,918.5 l5.7,11.7" stroke="#eef2ff" stroke-width="2.4" opacity="0.66"/><path d="M259.8,928.4 l3.0,4.7" stroke="#eef2ff" stroke-width="2.5" opacity="0.75"/><path d="M164.8,1007.5 l3.8,5.4" stroke="#eef2ff" stroke-width="1.5" opacity="0.82"/><path d="M127.1,993.7 l10.4,14.3" stroke="#eef2ff" stroke-width="2.2" opacity="0.65"/><path d="M157.5,1036.9 l11.2,16.4" stroke="#eef2ff" stroke-width="2.1" opacity="0.92"/><path d="M316.3,1041.7 l5.0,7.9" stroke="#eef2ff" stroke-width="1.3" opacity="0.55"/><path d="M397.0,958.8 l3.8,5.9" stroke="#eef2ff" stroke-width="1.7" opacity="0.81"/><path d="M146.9,932.0 l10.0,14.7" stroke="#eef2ff" stroke-width="1.9" opacity="0.75"/><path d="M208.1,996.6 l10.8,15.7" stroke="#eef2ff" stroke-width="2.5" opacity="0.90"/><path d="M268.8,921.3 l11.4,15.1" stroke="#eef2ff" stroke-width="1.4" opacity="0.62"/><path d="M248.2,1108.0 l9.1,16.4" stroke="#eef2ff" stroke-width="1.0" opacity="0.66"/><path d="M238.7,926.0 l3.6,7.5" stroke="#eef2ff" stroke-width="1.9" opacity="0.70"/><path d="M152.1,1028.6 l11.7,15.1" stroke="#eef2ff" stroke-width="1.9" opacity="0.91"/><path d="M417.0,932.5 l9.1,12.7" stroke="#eef2ff" stroke-width="1.2" opacity="0.55"/><path d="M458.1,1085.4 l8.9,13.2" stroke="#eef2ff" stroke-width="1.2" opacity="0.78"/><path d="M109.3,1033.9 l5.1,7.8" stroke="#eef2ff" stroke-width="2.2" opacity="0.79"/><path d="M139.3,955.5 l10.2,16.4" stroke="#eef2ff" stroke-width="2.3" opacity="0.87"/><path d="M404.6,939.7 l9.7,13.8" stroke="#eef2ff" stroke-width="1.8" opacity="0.69"/><path d="M346.8,1099.5 l2.8,5.4" stroke="#eef2ff" stroke-width="1.4" opacity="0.75"/><path d="M428.3,964.2 l8.7,12.3" stroke="#eef2ff" stroke-width="1.1" opacity="0.94"/><path d="M139.8,897.1 l7.0,15.4" stroke="#eef2ff" stroke-width="2.4" opacity="0.68"/><path d="M120.6,1034.9 l3.9,5.6" stroke="#eef2ff" stroke-width="1.3" opacity="0.92"/><path d="M439.7,1095.8 l5.5,8.0" stroke="#eef2ff" stroke-width="2.0" opacity="0.85"/><path d="M309.4,958.1 l5.8,8.5" stroke="#eef2ff" stroke-width="1.9" opacity="0.94"/><path d="M331.2,960.8 l3.6,7.3" stroke="#eef2ff" stroke-width="1.7" opacity="0.52"/><path d="M143.9,950.5 l7.5,15.7" stroke="#eef2ff" stroke-width="1.7" opacity="0.76"/><path d="M175.5,1097.4 l8.7,14.3" stroke="#eef2ff" stroke-width="1.1" opacity="0.85"/><path d="M444.9,1027.0 l11.1,14.4" stroke="#eef2ff" stroke-width="2.5" opacity="0.85"/><path d="M418.1,1092.1 l5.7,9.1" stroke="#eef2ff" stroke-width="1.6" opacity="0.73"/><path d="M301.3,964.5 l8.2,13.4" stroke="#eef2ff" stroke-width="1.5" opacity="0.68"/><path d="M234.3,911.4 l4.5,6.3" stroke="#eef2ff" stroke-width="2.2" opacity="0.67"/><path d="M286.5,909.3 l3.6,5.9" stroke="#eef2ff" stroke-width="2.1" opacity="0.74"/><path d="M159.0,1100.1 l9.2,17.6" stroke="#eef2ff" stroke-width="1.2" opacity="0.63"/><path d="M242.4,897.0 l2.1,4.8" stroke="#eef2ff" stroke-width="2.1" opacity="0.61"/><path d="M117.8,928.3 l9.5,13.6" stroke="#eef2ff" stroke-width="1.6" opacity="0.67"/><path d="M160.4,897.4 l6.0,10.0" stroke="#eef2ff" stroke-width="1.2" opacity="0.61"/><path d="M466.5,1103.5 l4.9,10.2" stroke="#eef2ff" stroke-width="2.3" opacity="0.65"/><path d="M385.4,949.7 l10.1,15.7" stroke="#eef2ff" stroke-width="2.5" opacity="0.89"/><path d="M319.9,1092.9 l7.3,10.2" stroke="#eef2ff" stroke-width="1.0" opacity="0.69"/><path d="M161.9,968.3 l4.7,9.1" stroke="#eef2ff" stroke-width="2.3" opacity="0.72"/><path d="M286.4,1047.8 l5.2,7.4" stroke="#eef2ff" stroke-width="1.8" opacity="0.51"/><path d="M147.7,976.2 l7.0,14.1" stroke="#eef2ff" stroke-width="1.2" opacity="0.73"/><path d="M328.3,1088.9 l10.7,16.5" stroke="#eef2ff" stroke-width="2.3" opacity="0.87"/><path d="M147.7,1044.5 l5.0,7.4" stroke="#eef2ff" stroke-width="2.1" opacity="0.50"/><path d="M201.7,1040.4 l2.4,5.0" stroke="#eef2ff" stroke-width="1.0" opacity="0.54"/><path d="M402.6,1005.4 l10.7,14.5" stroke="#eef2ff" stroke-width="1.7" opacity="0.80"/><path d="M156.2,938.0 l7.0,10.5" stroke="#eef2ff" stroke-width="2.6" opacity="0.84"/><path d="M488.8,1095.8 l4.9,6.5" stroke="#eef2ff" stroke-width="2.4" opacity="0.56"/><path d="M448.5,1092.5 l3.7,7.0" stroke="#eef2ff" stroke-width="1.9" opacity="0.55"/><path d="M391.5,967.9 l2.4,5.0" stroke="#eef2ff" stroke-width="1.0" opacity="0.78"/><path d="M373.1,1098.6 l8.2,18.0" stroke="#eef2ff" stroke-width="2.0" opacity="0.72"/><path d="M139.1,961.0 l7.2,11.3" stroke="#eef2ff" stroke-width="2.5" opacity="0.90"/><path d="M318.9,914.8 l7.3,15.2" stroke="#eef2ff" stroke-width="1.4" opacity="0.51"/><path d="M386.3,952.0 l4.8,7.9" stroke="#eef2ff" stroke-width="1.3" opacity="0.84"/><path d="M308.1,983.6 l9.6,14.1" stroke="#eef2ff" stroke-width="1.4" opacity="0.86"/><path d="M404.3,1078.9 l10.3,13.6" stroke="#eef2ff" stroke-width="1.6" opacity="0.93"/><path d="M491.2,1068.8 l6.7,9.5" stroke="#eef2ff" stroke-width="1.3" opacity="0.62"/><path d="M265.6,944.5 l12.0,15.5" stroke="#eef2ff" stroke-width="2.6" opacity="0.81"/><path d="M378.8,989.7 l10.3,13.3" stroke="#eef2ff" stroke-width="2.3" opacity="0.92"/><path d="M145.5,939.3 l4.5,8.1" stroke="#eef2ff" stroke-width="1.9" opacity="0.81"/><path d="M414.4,1106.6 l3.4,5.9" stroke="#eef2ff" stroke-width="2.3" opacity="0.79"/><path d="M303.8,1030.3 l8.6,11.7" stroke="#eef2ff" stroke-width="1.3" opacity="0.92"/><path d="M164.7,1027.0 l3.0,5.5" stroke="#eef2ff" stroke-width="1.0" opacity="0.80"/><path d="M364.2,889.2 l5.2,7.5" stroke="#eef2ff" stroke-width="1.7" opacity="0.56"/><path d="M142.0,1026.8 l4.3,8.2" stroke="#eef2ff" stroke-width="2.1" opacity="0.54"/><path d="M398.1,1092.7 l5.4,7.9" stroke="#eef2ff" stroke-width="1.6" opacity="0.70"/><path d="M326.8,1092.1 l6.7,11.9" stroke="#eef2ff" stroke-width="1.9" opacity="0.80"/><path d="M466.4,988.4 l6.9,11.0" stroke="#eef2ff" stroke-width="1.1" opacity="0.87"/><path d="M235.6,1091.4 l5.9,9.8" stroke="#eef2ff" stroke-width="1.6" opacity="0.76"/><path d="M361.3,958.9 l10.0,13.8" stroke="#eef2ff" stroke-width="2.3" opacity="0.80"/><path d="M217.9,948.2 l5.3,10.1" stroke="#eef2ff" stroke-width="2.3" opacity="0.80"/><path d="M119.8,1077.8 l5.0,9.5" stroke="#eef2ff" stroke-width="1.0" opacity="0.92"/><path d="M118.2,1065.8 l8.2,17.7" stroke="#eef2ff" stroke-width="1.8" opacity="0.84"/><path d="M269.0,931.0 l5.8,10.7" stroke="#eef2ff" stroke-width="1.8" opacity="0.92"/><path d="M384.6,1003.2 l4.9,6.9" stroke="#eef2ff" stroke-width="2.5" opacity="0.92"/><path d="M159.3,1084.0 l8.6,14.0" stroke="#eef2ff" stroke-width="1.8" opacity="0.88"/><path d="M272.2,924.1 l10.7,15.0" stroke="#eef2ff" stroke-width="1.3" opacity="0.60"/><path d="M152.6,1045.8 l5.9,8.6" stroke="#eef2ff" stroke-width="1.6" opacity="0.61"/><path d="M111.5,935.1 l9.5,15.9" stroke="#eef2ff" stroke-width="2.3" opacity="0.62"/><path d="M235.6,887.4 l7.3,11.1" stroke="#eef2ff" stroke-width="1.6" opacity="0.58"/><path d="M364.6,913.8 l5.0,8.8" stroke="#eef2ff" stroke-width="2.6" opacity="0.65"/><path d="M141.1,887.4 l8.6,15.9" stroke="#eef2ff" stroke-width="1.5" opacity="0.91"/><path d="M265.2,891.3 l3.6,4.7" stroke="#eef2ff" stroke-width="1.5" opacity="0.70"/><path d="M275.9,1101.3 l9.8,12.6" stroke="#eef2ff" stroke-width="2.4" opacity="0.64"/><path d="M169.5,1073.4 l8.7,17.4" stroke="#eef2ff" stroke-width="1.4" opacity="0.62"/><path d="M207.3,1109.7 l4.8,7.5" stroke="#eef2ff" stroke-width="1.3" opacity="0.51"/><path d="M198.2,1085.1 l5.3,10.6" stroke="#eef2ff" stroke-width="1.1" opacity="0.75"/><path d="M217.7,918.2 l4.1,5.5" stroke="#eef2ff" stroke-width="2.2" opacity="0.59"/><path d="M363.2,887.3 l3.8,5.3" stroke="#eef2ff" stroke-width="1.8" opacity="0.72"/><path d="M161.2,1026.7 l9.0,12.8" stroke="#eef2ff" stroke-width="1.5" opacity="0.58"/><path d="M439.8,1088.4 l3.2,5.5" stroke="#eef2ff" stroke-width="1.5" opacity="0.57"/><path d="M330.6,966.9 l6.8,12.1" stroke="#eef2ff" stroke-width="2.3" opacity="0.63"/><path d="M298.9,925.7 l8.9,13.1" stroke="#eef2ff" stroke-width="1.3" opacity="0.87"/><path d="M127.7,991.1 l8.5,17.8" stroke="#eef2ff" stroke-width="1.8" opacity="0.71"/><path d="M200.2,1096.4 l3.1,4.2" stroke="#eef2ff" stroke-width="1.4" opacity="0.60"/><path d="M356.4,1048.9 l9.8,16.0" stroke="#eef2ff" stroke-width="1.1" opacity="0.84"/><path d="M116.5,1007.3 l5.4,8.4" stroke="#eef2ff" stroke-width="1.7" opacity="0.73"/><path d="M152.6,1045.5 l7.9,10.3" stroke="#eef2ff" stroke-width="1.1" opacity="0.55"/><path d="M132.8,1110.3 l9.8,15.5" stroke="#eef2ff" stroke-width="2.3" opacity="0.52"/><path d="M240.0,1001.3 l5.8,7.8" stroke="#eef2ff" stroke-width="2.2" opacity="0.50"/><path d="M150.8,911.7 l3.9,6.1" stroke="#eef2ff" stroke-width="1.9" opacity="0.81"/><path d="M282.8,991.4 l2.4,5.3" stroke="#eef2ff" stroke-width="1.8" opacity="0.84"/><path d="M166.9,940.0 l3.6,6.1" stroke="#eef2ff" stroke-width="1.4" opacity="0.55"/><path d="M176.6,891.3 l5.5,9.7" stroke="#eef2ff" stroke-width="1.1" opacity="0.88"/><path d="M148.0,923.2 l5.9,13.3" stroke="#eef2ff" stroke-width="1.4" opacity="0.89"/><path d="M277.6,942.8 l4.8,9.5" stroke="#eef2ff" stroke-width="1.2" opacity="0.92"/><path d="M136.7,960.2 l6.5,13.9" stroke="#eef2ff" stroke-width="1.7" opacity="0.75"/><path d="M451.4,991.8 l5.6,8.6" stroke="#eef2ff" stroke-width="1.0" opacity="0.56"/><path d="M339.1,938.6 l4.7,10.0" stroke="#eef2ff" stroke-width="1.5" opacity="0.51"/><path d="M149.3,1030.1 l5.4,10.8" stroke="#eef2ff" stroke-width="2.2" opacity="0.82"/><path d="M138.7,891.6 l8.4,12.2" stroke="#eef2ff" stroke-width="1.4" opacity="0.61"/><path d="M336.8,1091.0 l6.5,9.8" stroke="#eef2ff" stroke-width="1.8" opacity="0.53"/><path d="M127.0,905.8 l3.3,4.9" stroke="#eef2ff" stroke-width="2.0" opacity="0.92"/><path d="M134.8,916.9 l9.5,13.1" stroke="#eef2ff" stroke-width="1.7" opacity="0.55"/><path d="M182.1,922.9 l3.6,6.2" stroke="#eef2ff" stroke-width="1.6" opacity="0.63"/><path d="M253.6,901.7 l8.3,14.2" stroke="#eef2ff" stroke-width="2.3" opacity="0.59"/><path d="M489.5,1104.5 l4.3,8.9" stroke="#eef2ff" stroke-width="1.4" opacity="0.75"/><path d="M433.7,992.5 l7.2,15.3" stroke="#eef2ff" stroke-width="2.2" opacity="0.85"/><path d="M251.2,922.4 l6.1,9.2" stroke="#eef2ff" stroke-width="2.0" opacity="0.73"/><path d="M181.8,1091.2 l8.9,11.6" stroke="#eef2ff" stroke-width="2.0" opacity="0.94"/><path d="M151.7,1105.8 l7.3,10.2" stroke="#eef2ff" stroke-width="2.4" opacity="0.68"/><path d="M454.8,984.6 l7.8,10.7" stroke="#eef2ff" stroke-width="1.6" opacity="0.64"/><path d="M192.6,930.9 l10.0,13.5" stroke="#eef2ff" stroke-width="2.0" opacity="0.78"/><path d="M110.4,970.1 l4.0,6.4" stroke="#eef2ff" stroke-width="2.4" opacity="0.91"/><path d="M202.1,911.5 l5.4,11.0" stroke="#eef2ff" stroke-width="2.5" opacity="0.85"/><path d="M154.5,941.6 l8.5,17.4" stroke="#eef2ff" stroke-width="2.1" opacity="0.52"/><path d="M133.4,1103.8 l7.7,13.6" stroke="#eef2ff" stroke-width="2.2" opacity="0.69"/><path d="M288.9,1103.4 l5.7,7.6" stroke="#eef2ff" stroke-width="2.1" opacity="0.53"/><path d="M363.2,903.7 l7.0,10.6" stroke="#eef2ff" stroke-width="1.7" opacity="0.65"/><path d="M141.5,1057.2 l8.8,11.9" stroke="#eef2ff" stroke-width="1.7" opacity="0.66"/><path d="M375.2,939.2 l9.9,16.2" stroke="#eef2ff" stroke-width="1.5" opacity="0.85"/><path d="M124.6,883.5 l3.5,5.7" stroke="#eef2ff" stroke-width="2.3" opacity="0.70"/><path d="M330.1,883.1 l8.6,15.7" stroke="#eef2ff" stroke-width="1.2" opacity="0.65"/><path d="M243.5,906.9 l8.0,15.9" stroke="#eef2ff" stroke-width="2.5" opacity="0.51"/><path d="M118.2,889.3 l7.1,10.7" stroke="#eef2ff" stroke-width="1.2" opacity="0.86"/><path d="M373.4,941.9 l6.7,12.4" stroke="#eef2ff" stroke-width="2.2" opacity="0.86"/><path d="M263.9,1095.2 l8.6,12.0" stroke="#eef2ff" stroke-width="2.4" opacity="0.57"/><path d="M464.1,1062.2 l7.0,13.6" stroke="#eef2ff" stroke-width="2.2" opacity="0.76"/><path d="M120.8,1076.8 l3.7,7.0" stroke="#eef2ff" stroke-width="1.6" opacity="0.55"/><path d="M157.1,1093.4 l3.8,7.2" stroke="#eef2ff" stroke-width="2.0" opacity="0.53"/><path d="M359.5,930.8 l6.9,11.5" stroke="#eef2ff" stroke-width="2.0" opacity="0.54"/><path d="M296.6,1089.4 l4.8,7.6" stroke="#eef2ff" stroke-width="1.3" opacity="0.71"/><path d="M275.6,946.2 l8.4,12.0" stroke="#eef2ff" stroke-width="1.1" opacity="0.93"/><path d="M387.7,1089.1 l4.7,8.1" stroke="#eef2ff" stroke-width="2.2" opacity="0.52"/><path d="M302.9,886.9 l8.7,14.0" stroke="#eef2ff" stroke-width="1.8" opacity="0.75"/><path d="M310.6,904.7 l8.7,15.6" stroke="#eef2ff" stroke-width="1.6" opacity="0.55"/><path d="M432.3,904.4 l8.2,12.4" stroke="#eef2ff" stroke-width="1.4" opacity="0.63"/><path d="M499.2,979.6 l6.2,9.8" stroke="#eef2ff" stroke-width="1.9" opacity="0.78"/><path d="M444.4,989.7 l6.2,12.6" stroke="#eef2ff" stroke-width="1.2" opacity="0.74"/><path d="M292.6,960.4 l4.1,7.0" stroke="#eef2ff" stroke-width="1.2" opacity="0.54"/><path d="M181.3,933.9 l3.0,5.3" stroke="#eef2ff" stroke-width="2.5" opacity="0.55"/><path d="M376.3,1105.7 l10.6,14.7" stroke="#eef2ff" stroke-width="1.7" opacity="0.88"/><path d="M269.3,953.0 l10.8,14.2" stroke="#eef2ff" stroke-width="1.9" opacity="0.52"/><path d="M388.4,953.9 l5.0,7.9" stroke="#eef2ff" stroke-width="2.4" opacity="0.89"/><path d="M354.3,900.2 l3.0,4.3" stroke="#eef2ff" stroke-width="1.3" opacity="0.60"/><path d="M148.4,975.6 l9.6,16.3" stroke="#eef2ff" stroke-width="2.2" opacity="0.56"/><path d="M352.2,887.1 l6.0,10.5" stroke="#eef2ff" stroke-width="1.8" opacity="0.84"/><path d="M269.1,907.2 l7.8,10.4" stroke="#eef2ff" stroke-width="1.8" opacity="0.75"/><path d="M156.4,943.0 l3.7,6.2" stroke="#eef2ff" stroke-width="1.2" opacity="0.62"/><path d="M256.2,907.6 l10.3,16.2" stroke="#eef2ff" stroke-width="1.5" opacity="0.55"/><path d="M432.3,1050.8 l6.2,9.4" stroke="#eef2ff" stroke-width="1.4" opacity="0.90"/><path d="M383.5,1058.3 l5.7,11.7" stroke="#eef2ff" stroke-width="1.6" opacity="0.76"/><path d="M119.8,1024.0 l6.6,12.0" stroke="#eef2ff" stroke-width="2.0" opacity="0.70"/><path d="M404.7,888.4 l4.4,6.1" stroke="#eef2ff" stroke-width="1.6" opacity="0.69"/><path d="M176.2,1091.8 l3.3,6.8" stroke="#eef2ff" stroke-width="1.9" opacity="0.89"/><path d="M329.2,910.1 l10.1,16.1" stroke="#eef2ff" stroke-width="1.5" opacity="0.70"/><path d="M313.0,1073.1 l11.4,15.0" stroke="#eef2ff" stroke-width="2.3" opacity="0.79"/><path d="M414.3,1012.1 l5.1,10.3" stroke="#eef2ff" stroke-width="1.6" opacity="0.56"/><path d="M249.4,1011.5 l4.4,7.0" stroke="#eef2ff" stroke-width="1.1" opacity="0.64"/><path d="M125.5,1003.8 l8.4,12.1" stroke="#eef2ff" stroke-width="2.0" opacity="0.85"/><path d="M295.8,941.5 l7.7,14.0" stroke="#eef2ff" stroke-width="1.4" opacity="0.53"/><path d="M121.9,1086.7 l5.2,9.4" stroke="#eef2ff" stroke-width="1.8" opacity="0.91"/><path d="M250.2,913.4 l9.9,12.7" stroke="#eef2ff" stroke-width="2.0" opacity="0.77"/><path d="M109.5,942.5 l5.1,8.9" stroke="#eef2ff" stroke-width="1.4" opacity="0.89"/><path d="M378.4,910.4 l7.8,11.8" stroke="#eef2ff" stroke-width="1.9" opacity="0.55"/><path d="M154.6,904.6 l8.9,16.9" stroke="#eef2ff" stroke-width="2.3" opacity="0.72"/><path d="M352.2,998.8 l4.0,7.3" stroke="#eef2ff" stroke-width="2.5" opacity="0.86"/><path d="M211.1,1021.9 l6.1,8.0" stroke="#eef2ff" stroke-width="2.4" opacity="0.57"/><path d="M241.9,1101.7 l3.9,6.4" stroke="#eef2ff" stroke-width="1.7" opacity="0.57"/><path d="M399.7,919.0 l6.0,9.0" stroke="#eef2ff" stroke-width="2.4" opacity="0.68"/><path d="M410.7,1095.7 l-0.2,-5.9" stroke="#dfe6f8" stroke-width="1.1" opacity="0.7"/><path d="M427.0,1103.1 l1.9,-8.9" stroke="#dfe6f8" stroke-width="1.1" opacity="0.7"/><path d="M403.6,1083.6 l-0.8,-7.4" stroke="#dfe6f8" stroke-width="1.1" opacity="0.7"/><path d="M383.6,1084.0 l0.6,-10.9" stroke="#dfe6f8" stroke-width="1.1" opacity="0.7"/><path d="M166.5,1098.7 l0.8,-6.0" stroke="#dfe6f8" stroke-width="1.1" opacity="0.7"/><path d="M168.1,1103.2 l-0.2,-6.3" stroke="#dfe6f8" stroke-width="1.1" opacity="0.7"/><path d="M286.2,1094.9 l-0.7,-5.0" stroke="#dfe6f8" stroke-width="1.1" opacity="0.7"/><path d="M286.6,1097.3 l-0.1,-8.7" stroke="#dfe6f8" stroke-width="1.1" opacity="0.7"/><path d="M184.6,1095.8 l-0.1,-10.0" stroke="#dfe6f8" stroke-width="1.1" opacity="0.7"/><path d="M375.1,1082.5 l0.7,-11.8" stroke="#dfe6f8" stroke-width="1.1" opacity="0.7"/><path d="M312.2,1094.6 l1.7,-7.0" stroke="#dfe6f8" stroke-width="1.1" opacity="0.7"/><path d="M284.9,1086.1 l0.6,-10.1" stroke="#dfe6f8" stroke-width="1.1" opacity="0.7"/><path d="M288.4,1110.6 l0.6,-8.7" stroke="#dfe6f8" stroke-width="1.1" opacity="0.7"/><path d="M132.8,1090.9 l-0.6,-10.4" stroke="#dfe6f8" stroke-width="1.1" opacity="0.7"/><path d="M334.5,1097.2 l0.6,-11.0" stroke="#dfe6f8" stroke-width="1.1" opacity="0.7"/><path d="M163.6,1106.8 l0.0,-12.0" stroke="#dfe6f8" stroke-width="1.1" opacity="0.7"/><path d="M279.4,1093.0 l-0.2,-7.4" stroke="#dfe6f8" stroke-width="1.1" opacity="0.7"/><path d="M389.7,1105.4 l1.5,-7.2" stroke="#dfe6f8" stroke-width="1.1" opacity="0.7"/><path d="M395.7,1106.5 l-1.0,-9.6" stroke="#dfe6f8" stroke-width="1.1" opacity="0.7"/><path d="M358.6,1109.1 l1.1,-8.6" stroke="#dfe6f8" stroke-width="1.1" opacity="0.7"/><path d="M141.7,1105.4 l-0.2,-8.7" stroke="#dfe6f8" stroke-width="1.1" opacity="0.7"/><path d="M243.9,1106.1 l0.8,-5.8" stroke="#dfe6f8" stroke-width="1.1" opacity="0.7"/><path d="M399.3,1105.3 l0.6,-8.4" stroke="#dfe6f8" stroke-width="1.1" opacity="0.7"/><path d="M178.6,1085.9 l1.9,-10.6" stroke="#dfe6f8" stroke-width="1.1" opacity="0.7"/><path d="M242.4,1111.0 l-1.0,-8.7" stroke="#dfe6f8" stroke-width="1.1" opacity="0.7"/><path d="M466.9,1109.6 l-0.8,-10.6" stroke="#dfe6f8" stroke-width="1.1" opacity="0.7"/><path d="M438.0,1099.6 l-0.8,-8.7" stroke="#dfe6f8" stroke-width="1.1" opacity="0.7"/><path d="M147.0,1100.5 l-0.3,-5.7" stroke="#dfe6f8" stroke-width="1.1" opacity="0.7"/><path d="M432.8,1107.8 l0.4,-7.5" stroke="#dfe6f8" stroke-width="1.1" opacity="0.7"/><path d="M252.2,1086.2 l1.6,-6.6" stroke="#dfe6f8" stroke-width="1.1" opacity="0.7"/><path d="M412.9,1096.5 l1.4,-11.3" stroke="#dfe6f8" stroke-width="1.1" opacity="0.7"/><path d="M325.1,1089.8 l0.1,-5.3" stroke="#dfe6f8" stroke-width="1.1" opacity="0.7"/><path d="M271.5,1090.8 l-0.8,-6.6" stroke="#dfe6f8" stroke-width="1.1" opacity="0.7"/><path d="M274.9,1106.4 l1.5,-11.2" stroke="#dfe6f8" stroke-width="1.1" opacity="0.7"/><path d="M431.1,1084.9 l-0.2,-7.3" stroke="#dfe6f8" stroke-width="1.1" opacity="0.7"/><path d="M128.2,1097.0 l1.9,-10.0" stroke="#dfe6f8" stroke-width="1.1" opacity="0.7"/><path d="M121.9,1105.9 l1.4,-10.8" stroke="#dfe6f8" stroke-width="1.1" opacity="0.7"/><path d="M167.3,1095.4 l0.7,-8.9" stroke="#dfe6f8" stroke-width="1.1" opacity="0.7"/><path d="M172.8,1083.2 l-0.8,-7.9" stroke="#dfe6f8" stroke-width="1.1" opacity="0.7"/><path d="M427.5,1082.4 l0.3,-8.5" stroke="#dfe6f8" stroke-width="1.1" opacity="0.7"/><path d="M309.8,1087.8 l0.9,-10.4" stroke="#dfe6f8" stroke-width="1.1" opacity="0.7"/><path d="M168.0,1083.8 l-0.2,-10.3" stroke="#dfe6f8" stroke-width="1.1" opacity="0.7"/><path d="M288.3,1111.0 l1.1,-9.8" stroke="#dfe6f8" stroke-width="1.1" opacity="0.7"/><path d="M317.8,1098.6 l1.6,-5.4" stroke="#dfe6f8" stroke-width="1.1" opacity="0.7"/><path d="M147.1,1083.1 l1.7,-6.9" stroke="#dfe6f8" stroke-width="1.1" opacity="0.7"/><path d="M198.3,1090.6 l0.5,-6.5" stroke="#dfe6f8" stroke-width="1.1" opacity="0.7"/><path d="M247.2,1105.4 l0.9,-10.7" stroke="#dfe6f8" stroke-width="1.1" opacity="0.7"/><path d="M271.5,1095.1 l0.7,-11.3" stroke="#dfe6f8" stroke-width="1.1" opacity="0.7"/><path d="M238.3,1082.8 l-0.9,-10.0" stroke="#dfe6f8" stroke-width="1.1" opacity="0.7"/><path d="M301.4,1103.7 l-0.6,-9.8" stroke="#dfe6f8" stroke-width="1.1" opacity="0.7"/><path d="M259.7,1107.4 l1.0,-6.4" stroke="#dfe6f8" stroke-width="1.1" opacity="0.7"/><path d="M283.7,1089.3 l-0.5,-9.9" stroke="#dfe6f8" stroke-width="1.1" opacity="0.7"/><path d="M140.3,1108.5 l0.5,-11.3" stroke="#dfe6f8" stroke-width="1.1" opacity="0.7"/><path d="M194.2,1093.7 l0.0,-11.7" stroke="#dfe6f8" stroke-width="1.1" opacity="0.7"/><path d="M467.9,1094.4 l1.9,-7.5" stroke="#dfe6f8" stroke-width="1.1" opacity="0.7"/><path d="M404.7,1106.9 l0.4,-9.1" stroke="#dfe6f8" stroke-width="1.1" opacity="0.7"/><path d="M180.1,1086.0 l0.8,-10.1" stroke="#dfe6f8" stroke-width="1.1" opacity="0.7"/><path d="M231.3,1091.4 l1.6,-5.8" stroke="#dfe6f8" stroke-width="1.1" opacity="0.7"/><path d="M245.7,1096.9 l-0.3,-7.1" stroke="#dfe6f8" stroke-width="1.1" opacity="0.7"/><path d="M338.1,1083.1 l1.7,-9.4" stroke="#dfe6f8" stroke-width="1.1" opacity="0.7"/><path d="M181.7,1089.8 l1.7,-7.6" stroke="#dfe6f8" stroke-width="1.1" opacity="0.7"/><path d="M219.5,1099.1 l1.4,-8.8" stroke="#dfe6f8" stroke-width="1.1" opacity="0.7"/><path d="M364.4,1087.2 l1.9,-5.7" stroke="#dfe6f8" stroke-width="1.1" opacity="0.7"/><path d="M139.2,1090.6 l1.6,-9.8" stroke="#dfe6f8" stroke-width="1.1" opacity="0.7"/><path d="M452.5,1092.1 l-0.7,-6.0" stroke="#dfe6f8" stroke-width="1.1" opacity="0.7"/><path d="M238.3,1109.6 l1.2,-7.1" stroke="#dfe6f8" stroke-width="1.1" opacity="0.7"/><path d="M431.4,1090.9 l0.0,-7.4" stroke="#dfe6f8" stroke-width="1.1" opacity="0.7"/><path d="M168.6,1087.9 l-0.8,-9.8" stroke="#dfe6f8" stroke-width="1.1" opacity="0.7"/><path d="M220.4,1110.1 l-0.5,-7.8" stroke="#dfe6f8" stroke-width="1.1" opacity="0.7"/><path d="M226.7,1098.5 l-0.1,-8.4" stroke="#dfe6f8" stroke-width="1.1" opacity="0.7"/><path d="M144.4,1096.4 l1.2,-5.7" stroke="#dfe6f8" stroke-width="1.1" opacity="0.7"/><path d="M290.8,1102.4 l1.2,-10.7" stroke="#dfe6f8" stroke-width="1.1" opacity="0.7"/><path d="M395.6,1104.7 l1.0,-8.3" stroke="#dfe6f8" stroke-width="1.1" opacity="0.7"/><path d="M430.6,1111.2 l1.4,-5.9" stroke="#dfe6f8" stroke-width="1.1" opacity="0.7"/><path d="M247.0,1084.5 l1.5,-6.9" stroke="#dfe6f8" stroke-width="1.1" opacity="0.7"/><path d="M419.4,1087.8 l1.6,-9.9" stroke="#dfe6f8" stroke-width="1.1" opacity="0.7"/><path d="M333.1,1086.3 l0.4,-8.6" stroke="#dfe6f8" stroke-width="1.1" opacity="0.7"/><path d="M264.9,1108.6 l-0.5,-7.5" stroke="#dfe6f8" stroke-width="1.1" opacity="0.7"/><path d="M428.7,1108.4 l-0.3,-10.5" stroke="#dfe6f8" stroke-width="1.1" opacity="0.7"/><path d="M121.2,1099.1 l-0.8,-11.4" stroke="#dfe6f8" stroke-width="1.1" opacity="0.7"/><path d="M439.7,1084.1 l1.7,-9.6" stroke="#dfe6f8" stroke-width="1.1" opacity="0.7"/><path d="M133.3,1089.3 l1.4,-8.0" stroke="#dfe6f8" stroke-width="1.1" opacity="0.7"/><path d="M134.9,1096.5 l0.6,-9.5" stroke="#dfe6f8" stroke-width="1.1" opacity="0.7"/><path d="M161.4,1084.7 l1.7,-6.5" stroke="#dfe6f8" stroke-width="1.1" opacity="0.7"/><path d="M372.3,1105.2 l0.8,-7.4" stroke="#dfe6f8" stroke-width="1.1" opacity="0.7"/><path d="M413.4,1103.7 l-0.2,-6.6" stroke="#dfe6f8" stroke-width="1.1" opacity="0.7"/><path d="M383.2,1090.4 l0.3,-8.6" stroke="#dfe6f8" stroke-width="1.1" opacity="0.7"/><path d="M434.4,1102.8 l1.4,-10.0" stroke="#dfe6f8" stroke-width="1.1" opacity="0.7"/><path d="M461.0,1107.7 l0.9,-6.7" stroke="#dfe6f8" stroke-width="1.1" opacity="0.7"/><path d="M425.1,1100.2 l0.3,-8.3" stroke="#dfe6f8" stroke-width="1.1" opacity="0.7"/><path d="M149.5,1088.1 l0.7,-7.4" stroke="#dfe6f8" stroke-width="1.1" opacity="0.7"/><path d="M469.8,1096.2 l1.5,-7.1" stroke="#dfe6f8" stroke-width="1.1" opacity="0.7"/><path d="M350.4,1109.7 l1.4,-10.0" stroke="#dfe6f8" stroke-width="1.1" opacity="0.7"/><path d="M451.2,1090.3 l-0.4,-9.3" stroke="#dfe6f8" stroke-width="1.1" opacity="0.7"/><path d="M276.5,1109.1 l-0.1,-6.9" stroke="#dfe6f8" stroke-width="1.1" opacity="0.7"/><path d="M418.2,1086.4 l1.6,-9.3" stroke="#dfe6f8" stroke-width="1.1" opacity="0.7"/><path d="M227.4,1086.6 l1.1,-11.9" stroke="#dfe6f8" stroke-width="1.1" opacity="0.7"/><path d="M400.4,1106.0 l-0.8,-10.6" stroke="#dfe6f8" stroke-width="1.1" opacity="0.7"/><path d="M385.1,1094.0 l-0.7,-5.7" stroke="#dfe6f8" stroke-width="1.1" opacity="0.7"/><path d="M466.2,1093.1 l-0.6,-11.7" stroke="#dfe6f8" stroke-width="1.1" opacity="0.7"/><path d="M367.3,1109.1 l-1.0,-8.6" stroke="#dfe6f8" stroke-width="1.1" opacity="0.7"/><path d="M242.9,1091.5 l-0.7,-6.1" stroke="#dfe6f8" stroke-width="1.1" opacity="0.7"/><path d="M298.3,1104.1 l1.9,-9.8" stroke="#dfe6f8" stroke-width="1.1" opacity="0.7"/><path d="M473.4,1103.4 l1.4,-6.7" stroke="#dfe6f8" stroke-width="1.1" opacity="0.7"/><path d="M286.7,1096.2 l1.1,-10.1" stroke="#dfe6f8" stroke-width="1.1" opacity="0.7"/><path d="M251.0,1108.7 l-0.5,-8.7" stroke="#dfe6f8" stroke-width="1.1" opacity="0.7"/><path d="M250.6,1088.1 l1.6,-10.6" stroke="#dfe6f8" stroke-width="1.1" opacity="0.7"/><path d="M377.7,1092.8 l-0.2,-9.2" stroke="#dfe6f8" stroke-width="1.1" opacity="0.7"/><path d="M158.8,1094.2 l-0.2,-9.9" stroke="#dfe6f8" stroke-width="1.1" opacity="0.7"/><path d="M438.9,1094.1 l-0.5,-7.6" stroke="#dfe6f8" stroke-width="1.1" opacity="0.7"/><path d="M348.1,1105.5 l1.8,-8.9" stroke="#dfe6f8" stroke-width="1.1" opacity="0.7"/><path d="M358.3,1108.5 l1.1,-7.6" stroke="#dfe6f8" stroke-width="1.1" opacity="0.7"/><path d="M301.8,1098.5 l0.9,-11.6" stroke="#dfe6f8" stroke-width="1.1" opacity="0.7"/><path d="M403.0,1111.7 l-0.8,-9.2" stroke="#dfe6f8" stroke-width="1.1" opacity="0.7"/><path d="M382.1,1100.3 l0.5,-5.3" stroke="#dfe6f8" stroke-width="1.1" opacity="0.7"/><path d="M430.1,1111.1 l1.6,-5.8" stroke="#dfe6f8" stroke-width="1.1" opacity="0.7"/><path d="M197.6,1092.3 l2.0,-6.9" stroke="#dfe6f8" stroke-width="1.1" opacity="0.7"/><path d="M118.3,1087.0 l1.1,-9.4" stroke="#dfe6f8" stroke-width="1.1" opacity="0.7"/><path d="M332.6,1101.4 l0.5,-5.5" stroke="#dfe6f8" stroke-width="1.1" opacity="0.7"/><path d="M165.9,1097.4 l-0.4,-7.9" stroke="#dfe6f8" stroke-width="1.1" opacity="0.7"/><path d="M217.6,1089.3 l1.3,-10.4" stroke="#dfe6f8" stroke-width="1.1" opacity="0.7"/><path d="M179.2,1095.5 l-0.4,-11.9" stroke="#dfe6f8" stroke-width="1.1" opacity="0.7"/><path d="M360.3,1082.9 l0.4,-9.5" stroke="#dfe6f8" stroke-width="1.1" opacity="0.7"/><path d="M171.6,1093.2 l-0.8,-11.8" stroke="#dfe6f8" stroke-width="1.1" opacity="0.7"/><path d="M192.1,1092.6 l1.4,-9.3" stroke="#dfe6f8" stroke-width="1.1" opacity="0.7"/><path d="M255.9,1110.0 l1.3,-10.2" stroke="#dfe6f8" stroke-width="1.1" opacity="0.7"/><path d="M298.0,1090.4 l1.0,-6.8" stroke="#dfe6f8" stroke-width="1.1" opacity="0.7"/><path d="M203.6,1100.7 l-1.0,-11.6" stroke="#dfe6f8" stroke-width="1.1" opacity="0.7"/><path d="M271.6,1104.9 l0.0,-10.5" stroke="#dfe6f8" stroke-width="1.1" opacity="0.7"/><path d="M406.8,1107.2 l-0.6,-7.3" stroke="#dfe6f8" stroke-width="1.1" opacity="0.7"/><path d="M434.2,1112.0 l1.9,-7.9" stroke="#dfe6f8" stroke-width="1.1" opacity="0.7"/><path d="M171.3,1099.2 l-1.0,-6.7" stroke="#dfe6f8" stroke-width="1.1" opacity="0.7"/><path d="M462.5,1097.0 l0.2,-5.2" stroke="#dfe6f8" stroke-width="1.1" opacity="0.7"/><path d="M250.0,1110.2 l-0.6,-8.1" stroke="#dfe6f8" stroke-width="1.1" opacity="0.7"/><path d="M301.5,1083.2 l-0.6,-10.1" stroke="#dfe6f8" stroke-width="1.1" opacity="0.7"/><path d="M328.3,1086.3 l-0.4,-9.4" stroke="#dfe6f8" stroke-width="1.1" opacity="0.7"/><path d="M304.2,1099.6 l-0.6,-6.8" stroke="#dfe6f8" stroke-width="1.1" opacity="0.7"/><path d="M434.2,1105.2 l0.1,-10.4" stroke="#dfe6f8" stroke-width="1.1" opacity="0.7"/><path d="M260.3,1082.1 l-0.0,-5.8" stroke="#dfe6f8" stroke-width="1.1" opacity="0.7"/><path d="M271.0,1089.6 l0.1,-9.9" stroke="#dfe6f8" stroke-width="1.1" opacity="0.7"/><path d="M267.1,1102.8 l0.1,-5.5" stroke="#dfe6f8" stroke-width="1.1" opacity="0.7"/><path d="M117.4,1082.7 l0.2,-9.9" stroke="#dfe6f8" stroke-width="1.1" opacity="0.7"/><path d="M412.8,1087.9 l1.8,-10.0" stroke="#dfe6f8" stroke-width="1.1" opacity="0.7"/><path d="M362.0,1090.9 l1.4,-10.7" stroke="#dfe6f8" stroke-width="1.1" opacity="0.7"/><path d="M320.5,1090.8 l1.0,-11.1" stroke="#dfe6f8" stroke-width="1.1" opacity="0.7"/><path d="M281.5,1083.8 l1.4,-9.2" stroke="#dfe6f8" stroke-width="1.1" opacity="0.7"/><path d="M412.1,1084.7 l-0.2,-11.2" stroke="#dfe6f8" stroke-width="1.1" opacity="0.7"/><path d="M432.4,1087.7 l0.1,-9.5" stroke="#dfe6f8" stroke-width="1.1" opacity="0.7"/><path d="M415.9,1097.8 l0.1,-7.0" stroke="#dfe6f8" stroke-width="1.1" opacity="0.7"/><path d="M254.4,1086.9 l0.0,-10.9" stroke="#dfe6f8" stroke-width="1.1" opacity="0.7"/><path d="M308.0,1094.1 l1.7,-5.1" stroke="#dfe6f8" stroke-width="1.1" opacity="0.7"/><path d="M351.6,1092.4 l-0.3,-7.4" stroke="#dfe6f8" stroke-width="1.1" opacity="0.7"/><path d="M404.2,1085.4 l0.5,-7.2" stroke="#dfe6f8" stroke-width="1.1" opacity="0.7"/><path d="M192.6,1098.8 l0.6,-11.7" stroke="#dfe6f8" stroke-width="1.1" opacity="0.7"/><path d="M468.5,1098.2 l0.1,-6.4" stroke="#dfe6f8" stroke-width="1.1" opacity="0.7"/><path d="M464.7,1105.6 l0.2,-8.6" stroke="#dfe6f8" stroke-width="1.1" opacity="0.7"/><path d="M314.7,1104.0 l0.9,-7.4" stroke="#dfe6f8" stroke-width="1.1" opacity="0.7"/><path d="M317.3,1107.6 l0.7,-6.2" stroke="#dfe6f8" stroke-width="1.1" opacity="0.7"/><path d="M275.8,1111.1 l1.8,-9.4" stroke="#dfe6f8" stroke-width="1.1" opacity="0.7"/><path d="M229.6,1090.5 l1.5,-7.3" stroke="#dfe6f8" stroke-width="1.1" opacity="0.7"/><path d="M455.5,1086.6 l0.3,-9.2" stroke="#dfe6f8" stroke-width="1.1" opacity="0.7"/><path d="M287.5,1091.4 l1.6,-11.3" stroke="#dfe6f8" stroke-width="1.1" opacity="0.7"/><path d="M336.4,1110.2 l1.4,-5.6" stroke="#dfe6f8" stroke-width="1.1" opacity="0.7"/><path d="M243.8,1107.5 l-0.5,-5.6" stroke="#dfe6f8" stroke-width="1.1" opacity="0.7"/><path d="M427.5,1097.8 l0.2,-9.1" stroke="#dfe6f8" stroke-width="1.1" opacity="0.7"/><path d="M140.1,1101.8 l-0.7,-8.0" stroke="#dfe6f8" stroke-width="1.1" opacity="0.7"/><path d="M195.1,1095.4 l1.5,-8.5" stroke="#dfe6f8" stroke-width="1.1" opacity="0.7"/><path d="M226.4,1091.4 l0.9,-10.4" stroke="#dfe6f8" stroke-width="1.1" opacity="0.7"/><path d="M458.1,1082.3 l0.4,-10.3" stroke="#dfe6f8" stroke-width="1.1" opacity="0.7"/><path d="M390.4,1086.6 l-0.8,-5.7" stroke="#dfe6f8" stroke-width="1.1" opacity="0.7"/><circle cx="157.3" cy="969.9" r="1.3" fill="#f0f4ff" opacity="0.7"/><circle cx="122.2" cy="1103.1" r="1.1" fill="#f0f4ff" opacity="0.7"/><circle cx="143.6" cy="1105.8" r="1.5" fill="#f0f4ff" opacity="0.7"/><circle cx="137.5" cy="886.7" r="1.0" fill="#f0f4ff" opacity="0.7"/><circle cx="130.8" cy="1081.0" r="0.9" fill="#f0f4ff" opacity="0.7"/><circle cx="152.3" cy="902.8" r="0.8" fill="#f0f4ff" opacity="0.7"/><circle cx="124.6" cy="899.3" r="1.2" fill="#f0f4ff" opacity="0.7"/><circle cx="146.9" cy="891.0" r="1.8" fill="#f0f4ff" opacity="0.7"/><circle cx="169.7" cy="1039.5" r="1.8" fill="#f0f4ff" opacity="0.7"/><circle cx="126.2" cy="936.8" r="1.6" fill="#f0f4ff" opacity="0.7"/><circle cx="139.4" cy="1075.4" r="1.6" fill="#f0f4ff" opacity="0.7"/><circle cx="127.4" cy="1048.6" r="1.0" fill="#f0f4ff" opacity="0.7"/><circle cx="169.5" cy="943.6" r="1.7" fill="#f0f4ff" opacity="0.7"/><circle cx="126.8" cy="934.7" r="0.9" fill="#f0f4ff" opacity="0.7"/><circle cx="136.7" cy="993.4" r="1.8" fill="#f0f4ff" opacity="0.7"/><circle cx="157.5" cy="1084.9" r="1.2" fill="#f0f4ff" opacity="0.7"/><circle cx="154.3" cy="1071.3" r="0.9" fill="#f0f4ff" opacity="0.7"/><circle cx="166.5" cy="1104.5" r="1.0" fill="#f0f4ff" opacity="0.7"/><circle cx="151.7" cy="946.5" r="1.2" fill="#f0f4ff" opacity="0.7"/><circle cx="112.7" cy="1032.1" r="1.6" fill="#f0f4ff" opacity="0.7"/><circle cx="151.6" cy="922.8" r="1.5" fill="#f0f4ff" opacity="0.7"/><circle cx="149.4" cy="950.6" r="1.9" fill="#f0f4ff" opacity="0.7"/><circle cx="132.7" cy="896.1" r="2.0" fill="#f0f4ff" opacity="0.7"/><circle cx="122.6" cy="885.7" r="1.3" fill="#f0f4ff" opacity="0.7"/><circle cx="113.8" cy="947.8" r="1.4" fill="#f0f4ff" opacity="0.7"/><circle cx="150.7" cy="976.8" r="0.8" fill="#f0f4ff" opacity="0.7"/><circle cx="112.5" cy="993.0" r="1.0" fill="#f0f4ff" opacity="0.7"/><circle cx="138.0" cy="1016.4" r="1.6" fill="#f0f4ff" opacity="0.7"/><circle cx="168.6" cy="1004.9" r="2.0" fill="#f0f4ff" opacity="0.7"/><circle cx="119.9" cy="891.6" r="1.5" fill="#f0f4ff" opacity="0.7"/><circle cx="154.8" cy="1068.9" r="0.8" fill="#f0f4ff" opacity="0.7"/><circle cx="125.6" cy="979.1" r="1.9" fill="#f0f4ff" opacity="0.7"/><circle cx="146.1" cy="1005.1" r="0.9" fill="#f0f4ff" opacity="0.7"/><circle cx="126.9" cy="1022.1" r="1.3" fill="#f0f4ff" opacity="0.7"/><circle cx="164.3" cy="898.2" r="0.9" fill="#f0f4ff" opacity="0.7"/><circle cx="169.7" cy="1007.0" r="1.1" fill="#f0f4ff" opacity="0.7"/><circle cx="145.8" cy="1011.4" r="0.8" fill="#f0f4ff" opacity="0.7"/><circle cx="124.1" cy="1026.9" r="1.9" fill="#f0f4ff" opacity="0.7"/><circle cx="128.4" cy="935.6" r="2.0" fill="#f0f4ff" opacity="0.7"/><circle cx="117.5" cy="1070.3" r="1.3" fill="#f0f4ff" opacity="0.7"/><circle cx="141.4" cy="1044.0" r="1.2" fill="#f0f4ff" opacity="0.7"/><circle cx="166.9" cy="957.6" r="0.8" fill="#f0f4ff" opacity="0.7"/><circle cx="141.1" cy="1030.7" r="1.6" fill="#f0f4ff" opacity="0.7"/><circle cx="134.0" cy="914.8" r="1.4" fill="#f0f4ff" opacity="0.7"/><circle cx="132.5" cy="988.4" r="0.9" fill="#f0f4ff" opacity="0.7"/><circle cx="163.1" cy="942.8" r="2.0" fill="#f0f4ff" opacity="0.7"/><circle cx="152.2" cy="1024.4" r="1.4" fill="#f0f4ff" opacity="0.7"/><circle cx="110.2" cy="959.4" r="1.2" fill="#f0f4ff" opacity="0.7"/><circle cx="161.7" cy="1075.9" r="1.6" fill="#f0f4ff" opacity="0.7"/><circle cx="138.7" cy="1096.7" r="0.8" fill="#f0f4ff" opacity="0.7"/><circle cx="138.7" cy="1053.8" r="1.3" fill="#f0f4ff" opacity="0.7"/><circle cx="135.3" cy="1057.2" r="1.0" fill="#f0f4ff" opacity="0.7"/><circle cx="137.8" cy="1024.9" r="1.5" fill="#f0f4ff" opacity="0.7"/><circle cx="156.7" cy="1111.9" r="1.2" fill="#f0f4ff" opacity="0.7"/><circle cx="142.1" cy="1030.2" r="1.9" fill="#f0f4ff" opacity="0.7"/><circle cx="118.7" cy="901.5" r="1.9" fill="#f0f4ff" opacity="0.7"/><circle cx="159.6" cy="904.2" r="1.9" fill="#f0f4ff" opacity="0.7"/><circle cx="132.3" cy="1002.4" r="1.4" fill="#f0f4ff" opacity="0.7"/><circle cx="129.6" cy="976.1" r="0.9" fill="#f0f4ff" opacity="0.7"/><circle cx="114.2" cy="1032.9" r="2.0" fill="#f0f4ff" opacity="0.7"/><circle cx="155.7" cy="1028.0" r="1.3" fill="#f0f4ff" opacity="0.7"/><circle cx="127.5" cy="1089.8" r="0.9" fill="#f0f4ff" opacity="0.7"/><circle cx="142.1" cy="1032.4" r="1.2" fill="#f0f4ff" opacity="0.7"/><circle cx="127.6" cy="1056.7" r="0.8" fill="#f0f4ff" opacity="0.7"/><circle cx="155.5" cy="894.8" r="0.9" fill="#f0f4ff" opacity="0.7"/><circle cx="115.0" cy="936.9" r="1.7" fill="#f0f4ff" opacity="0.7"/><circle cx="121.7" cy="1085.2" r="1.2" fill="#f0f4ff" opacity="0.7"/><circle cx="113.1" cy="1013.7" r="1.3" fill="#f0f4ff" opacity="0.7"/><circle cx="142.9" cy="942.3" r="1.1" fill="#f0f4ff" opacity="0.7"/><circle cx="156.7" cy="1043.8" r="1.0" fill="#f0f4ff" opacity="0.7"/><circle cx="157.3" cy="1042.0" r="0.9" fill="#f0f4ff" opacity="0.7"/><circle cx="165.8" cy="981.3" r="1.8" fill="#f0f4ff" opacity="0.7"/><circle cx="150.2" cy="1089.4" r="0.9" fill="#f0f4ff" opacity="0.7"/><circle cx="163.4" cy="1027.0" r="1.3" fill="#f0f4ff" opacity="0.7"/><circle cx="165.2" cy="1048.7" r="1.6" fill="#f0f4ff" opacity="0.7"/><circle cx="112.0" cy="1045.5" r="1.2" fill="#f0f4ff" opacity="0.7"/><circle cx="133.9" cy="1044.9" r="1.6" fill="#f0f4ff" opacity="0.7"/><circle cx="159.9" cy="930.2" r="1.8" fill="#f0f4ff" opacity="0.7"/><circle cx="136.6" cy="896.2" r="1.8" fill="#f0f4ff" opacity="0.7"/><circle cx="121.7" cy="1012.8" r="1.4" fill="#f0f4ff" opacity="0.7"/><circle cx="115.2" cy="951.5" r="0.8" fill="#f0f4ff" opacity="0.7"/><circle cx="143.2" cy="898.2" r="1.1" fill="#f0f4ff" opacity="0.7"/><circle cx="165.8" cy="976.4" r="1.3" fill="#f0f4ff" opacity="0.7"/><circle cx="114.3" cy="1095.5" r="1.5" fill="#f0f4ff" opacity="0.7"/><circle cx="128.0" cy="1018.3" r="1.3" fill="#f0f4ff" opacity="0.7"/><circle cx="151.9" cy="978.0" r="1.2" fill="#f0f4ff" opacity="0.7"/><circle cx="128.2" cy="1063.4" r="1.7" fill="#f0f4ff" opacity="0.7"/><circle cx="152.5" cy="1093.5" r="1.3" fill="#f0f4ff" opacity="0.7"/><circle cx="159.5" cy="1020.9" r="1.2" fill="#f0f4ff" opacity="0.7"/><circle cx="113.8" cy="1051.0" r="0.9" fill="#f0f4ff" opacity="0.7"/><circle cx="138.3" cy="988.1" r="0.9" fill="#f0f4ff" opacity="0.7"/><circle cx="165.2" cy="972.3" r="1.9" fill="#f0f4ff" opacity="0.7"/><circle cx="164.9" cy="901.9" r="1.2" fill="#f0f4ff" opacity="0.7"/><circle cx="146.0" cy="994.2" r="1.8" fill="#f0f4ff" opacity="0.7"/><circle cx="130.9" cy="923.2" r="1.8" fill="#f0f4ff" opacity="0.7"/><circle cx="128.8" cy="925.0" r="0.8" fill="#f0f4ff" opacity="0.7"/><circle cx="112.2" cy="967.5" r="1.7" fill="#f0f4ff" opacity="0.7"/><circle cx="119.8" cy="941.5" r="1.2" fill="#f0f4ff" opacity="0.7"/><circle cx="166.4" cy="1089.6" r="1.7" fill="#f0f4ff" opacity="0.7"/><circle cx="126.1" cy="1024.6" r="1.0" fill="#f0f4ff" opacity="0.7"/><circle cx="158.2" cy="1003.7" r="0.8" fill="#f0f4ff" opacity="0.7"/><circle cx="127.4" cy="990.8" r="1.2" fill="#f0f4ff" opacity="0.7"/><circle cx="128.2" cy="1108.5" r="1.5" fill="#f0f4ff" opacity="0.7"/><circle cx="168.6" cy="961.1" r="1.8" fill="#f0f4ff" opacity="0.7"/><circle cx="124.4" cy="1061.8" r="1.9" fill="#f0f4ff" opacity="0.7"/><circle cx="129.5" cy="893.4" r="1.7" fill="#f0f4ff" opacity="0.7"/><circle cx="155.1" cy="1099.3" r="1.0" fill="#f0f4ff" opacity="0.7"/><circle cx="168.5" cy="924.0" r="1.5" fill="#f0f4ff" opacity="0.7"/><circle cx="111.1" cy="1014.3" r="1.8" fill="#f0f4ff" opacity="0.7"/><circle cx="132.9" cy="899.4" r="1.3" fill="#f0f4ff" opacity="0.7"/><circle cx="146.3" cy="1074.4" r="1.1" fill="#f0f4ff" opacity="0.7"/><circle cx="154.5" cy="1103.0" r="1.5" fill="#f0f4ff" opacity="0.7"/><circle cx="135.8" cy="1072.6" r="1.3" fill="#f0f4ff" opacity="0.7"/><circle cx="132.1" cy="997.5" r="1.3" fill="#f0f4ff" opacity="0.7"/><circle cx="131.4" cy="1062.2" r="1.7" fill="#f0f4ff" opacity="0.7"/><circle cx="153.2" cy="972.0" r="1.8" fill="#f0f4ff" opacity="0.7"/><circle cx="155.9" cy="968.9" r="1.2" fill="#f0f4ff" opacity="0.7"/><circle cx="142.4" cy="1024.2" r="2.0" fill="#f0f4ff" opacity="0.7"/><circle cx="117.6" cy="922.7" r="2.0" fill="#f0f4ff" opacity="0.7"/><circle cx="124.5" cy="1048.7" r="1.1" fill="#f0f4ff" opacity="0.7"/></g><rect x="107" y="746" width="258" height="137" fill="#fce8ee"/><ellipse cx="328" cy="775" rx="6" ry="18" transform="rotate(20 328 775)" fill="#f0b0c4" opacity="0.5" filter="url(#blur1)"/><path d="M199.0,776.4 L353.0,822.4 M201.0,769.6 L355.0,815.6" stroke="#b83838" stroke-width="1.3" fill="none"/><path d="M199.0,776.4 A3.5,3.5 0 0 1 201.0,769.6 M353.0,822.4 A3.5,3.5 0 0 0 355.0,815.6" stroke="#b83838" stroke-width="1.3" fill="none"/><path d="M203.6,779.5 L349.6,817.5 M204.4,776.5 L350.4,814.5" stroke="#d06a6a" stroke-width="1.3" fill="none"/><path d="M203.6,779.5 A1.5,1.5 0 0 1 204.4,776.5 M349.6,817.5 A1.5,1.5 0 0 0 350.4,814.5" stroke="#d06a6a" stroke-width="1.3" fill="none"/><path d="M125.8,849.5 L263.8,857.5 M126.2,842.5 L264.2,850.5" stroke="#b83838" stroke-width="1.3" fill="none"/><path d="M125.8,849.5 A3.5,3.5 0 0 1 126.2,842.5 M263.8,857.5 A3.5,3.5 0 0 0 264.2,850.5" stroke="#b83838" stroke-width="1.3" fill="none"/><path d="M130.0,850.5 L260.0,854.5 M130.0,847.5 L260.0,851.5" stroke="#d06a6a" stroke-width="1.3" fill="none"/><path d="M130.0,850.5 A1.5,1.5 0 0 1 130.0,847.5 M260.0,854.5 A1.5,1.5 0 0 0 260.0,851.5" stroke="#d06a6a" stroke-width="1.3" fill="none"/><rect x="364" y="746" width="166" height="137" fill="url(#lilac)"/><polygon points="407.5,752.3 503.5,861.3 506.5,858.7 410.5,749.7" fill="#e2b0e6" stroke="#8a5ab0" stroke-width="1.2" opacity="0.9"/><polygon points="362.3,792.0 519.3,882.0 522.7,876.0 365.7,786.0" fill="#e2b0e6" stroke="#8a5ab0" stroke-width="1.2" opacity="0.9"/><polygon points="367.0,755.5 458.0,752.5 458.0,749.5 367.0,752.5" fill="#e2b0e6" stroke="#8a5ab0" stroke-width="1.2" opacity="0.9"/><polygon points="420.5,848.0 511.5,834.0 510.5,828.0 419.5,842.0" fill="#e2b0e6" stroke="#8a5ab0" stroke-width="1.2" opacity="0.9"/><polygon points="407.5,770.5 423.5,855.5 428.5,854.5 412.5,769.5" fill="#e2b0e6" stroke="#8a5ab0" stroke-width="1.2" opacity="0.9"/><polygon points="454.1,747.2 529.1,801.2 530.9,798.8 455.9,744.8" fill="#e2b0e6" stroke="#8a5ab0" stroke-width="1.2" opacity="0.9"/><polygon points="370.9,821.7 468.9,884.7 471.1,881.3 373.1,818.3" fill="#e2b0e6" stroke="#8a5ab0" stroke-width="1.2" opacity="0.9"/><polygon points="364.3,861.3 409.3,884.3 410.7,881.7 365.7,858.7" fill="#e2b0e6" stroke="#8a5ab0" stroke-width="1.2" opacity="0.9"/><polygon points="439.3,801.3 529.3,851.3 530.7,848.7 440.7,798.7" fill="#e2b0e6" stroke="#8a5ab0" stroke-width="1.2" opacity="0.9"/><polygon points="369.6,848.7 490.6,761.7 485.4,754.3 364.4,841.3" fill="#d8a8e0" stroke="#7a50a8" stroke-width="1.2" opacity="0.9"/><ellipse cx="396" cy="802" rx="12" ry="8" fill="#b07cc8" opacity="0.75"/><ellipse cx="430" cy="800" rx="8" ry="5" fill="#a890d8" opacity="0.6"/></g>
<rect x="107.5" y="746.5" width="422" height="375" fill="none" stroke="#000" stroke-width="2.6"/>
<path d="M109,749.5 H528 M109.5,749 V882.5 M527.5,749 V882.5 M109,882.5 H528" stroke="#38d838" stroke-width="2.6" stroke-dasharray="8,2" fill="none"/>
<path d="M109,883 L307,928.4 M528,883 L331,928.4" stroke="#38d838" stroke-width="2.4" stroke-dasharray="8,3" fill="none"/>
<rect x="307" y="928.5" width="24" height="21" fill="none" stroke="#38d838" stroke-width="2" stroke-dasharray="5,2"/>
<text x="124" y="783" font-size="27" text-anchor="start" font-weight="bold" fill="#000" >c</text>
<text x="339" y="868" font-size="14.5" text-anchor="start" font-weight="bold" fill="#000" >20 μm</text>
<rect x="331" y="873.5" width="54.6" height="3.2" fill="#000"/>
<text x="455" y="1092" font-size="15" text-anchor="start" font-weight="bold" fill="#fff" >1 mm</text>
<rect x="427" y="1102" width="94.4" height="4" fill="#fff"/>
<g><g clip-path="url(#clipd)"><rect x="639" y="746" width="478" height="373" fill="url(#semb)"/><path d="M937,813 l27,-29" stroke="#7a7a7a" stroke-width="3.1" stroke-linecap="round"/><path d="M1070,758 l19,-31" stroke="#6a6a6a" stroke-width="2.2" stroke-linecap="round"/><path d="M1077,815 l5,16" stroke="#8e8e8e" stroke-width="2.0" stroke-linecap="round"/><path d="M743,833 l11,14" stroke="#7a7a7a" stroke-width="3.9" stroke-linecap="round"/><path d="M1066,774 l39,-5" stroke="#959595" stroke-width="1.5" stroke-linecap="round"/><path d="M963,777 l1,28" stroke="#7a7a7a" stroke-width="1.6" stroke-linecap="round"/><path d="M1105,750 l24,-4" stroke="#8e8e8e" stroke-width="2.6" stroke-linecap="round"/><path d="M978,802 l-1,23" stroke="#a2a2a2" stroke-width="3.7" stroke-linecap="round"/><path d="M760,788 l2,43" stroke="#8e8e8e" stroke-width="2.0" stroke-linecap="round"/><path d="M885,780 l22,2" stroke="#8e8e8e" stroke-width="3.1" stroke-linecap="round"/><path d="M984,775 l-0,13" stroke="#959595" stroke-width="2.4" stroke-linecap="round"/><path d="M759,805 l40,2" stroke="#7a7a7a" stroke-width="4.0" stroke-linecap="round"/><path d="M909,760 l29,-28" stroke="#a2a2a2" stroke-width="1.9" stroke-linecap="round"/><path d="M1080,802 l27,4" stroke="#a2a2a2" stroke-width="2.7" stroke-linecap="round"/><path d="M1070,758 l18,-2" stroke="#6a6a6a" stroke-width="2.2" stroke-linecap="round"/><path d="M1013,823 l17,-33" stroke="#a2a2a2" stroke-width="2.9" stroke-linecap="round"/><path d="M959,821 l33,3" stroke="#959595" stroke-width="3.6" stroke-linecap="round"/><path d="M866,815 l23,-2" stroke="#a2a2a2" stroke-width="3.3" stroke-linecap="round"/><path d="M1035,778 l29,2" stroke="#959595" stroke-width="4.0" stroke-linecap="round"/><path d="M735,779 l-1,18" stroke="#959595" stroke-width="2.8" stroke-linecap="round"/><path d="M1087,774 l5,17" stroke="#6a6a6a" stroke-width="3.1" stroke-linecap="round"/><path d="M726,814 l5,13" stroke="#7a7a7a" stroke-width="1.8" stroke-linecap="round"/><path d="M1102,790 l18,-26" stroke="#7a7a7a" stroke-width="3.3" stroke-linecap="round"/><path d="M818,778 l43,6" stroke="#959595" stroke-width="3.0" stroke-linecap="round"/><path d="M685,795 l-1,25" stroke="#959595" stroke-width="3.1" stroke-linecap="round"/><path d="M816,760 l14,-19" stroke="#8e8e8e" stroke-width="2.5" stroke-linecap="round"/><path d="M796,828 l-0,26" stroke="#7a7a7a" stroke-width="2.7" stroke-linecap="round"/><path d="M869,810 l28,-3" stroke="#6a6a6a" stroke-width="1.5" stroke-linecap="round"/><path d="M1091,775 l-1,20" stroke="#8e8e8e" stroke-width="3.5" stroke-linecap="round"/><path d="M1034,749 l18,22" stroke="#7a7a7a" stroke-width="3.3" stroke-linecap="round"/><path d="M776,791 l10,-8" stroke="#7a7a7a" stroke-width="2.3" stroke-linecap="round"/><path d="M894,777 l6,12" stroke="#a2a2a2" stroke-width="2.9" stroke-linecap="round"/><path d="M967,757 l-2,40" stroke="#6a6a6a" stroke-width="2.7" stroke-linecap="round"/><path d="M965,811 l25,-24" stroke="#6a6a6a" stroke-width="3.0" stroke-linecap="round"/><path d="M949,789 l30,2" stroke="#6a6a6a" stroke-width="3.0" stroke-linecap="round"/><path d="M1027,754 l9,-21" stroke="#6a6a6a" stroke-width="3.9" stroke-linecap="round"/><path d="M1116,809 l10,-34" stroke="#7a7a7a" stroke-width="4.0" stroke-linecap="round"/><path d="M977,786 l9,10" stroke="#8e8e8e" stroke-width="3.2" stroke-linecap="round"/><path d="M996,772 l15,-22" stroke="#a2a2a2" stroke-width="3.2" stroke-linecap="round"/><path d="M873,779 l42,-5" stroke="#959595" stroke-width="2.9" stroke-linecap="round"/><path d="M745,753 l12,39" stroke="#6a6a6a" stroke-width="3.3" stroke-linecap="round"/><path d="M726,810 l18,-23" stroke="#6a6a6a" stroke-width="2.1" stroke-linecap="round"/><path d="M1058,790 l18,-36" stroke="#6a6a6a" stroke-width="3.2" stroke-linecap="round"/><path d="M746,758 l1,24" stroke="#7a7a7a" stroke-width="2.2" stroke-linecap="round"/><path d="M1084,809 l38,3" stroke="#6a6a6a" stroke-width="3.9" stroke-linecap="round"/><path d="M813,751 l10,-8" stroke="#7a7a7a" stroke-width="2.0" stroke-linecap="round"/><path d="M874,830 l1,23" stroke="#6a6a6a" stroke-width="1.7" stroke-linecap="round"/><path d="M714,762 l16,2" stroke="#7a7a7a" stroke-width="3.4" stroke-linecap="round"/><path d="M961,751 l25,-24" stroke="#6a6a6a" stroke-width="2.7" stroke-linecap="round"/><path d="M1091,758 l8,10" stroke="#8e8e8e" stroke-width="2.9" stroke-linecap="round"/><path d="M953,802 l21,1" stroke="#6a6a6a" stroke-width="1.9" stroke-linecap="round"/><path d="M755,806 l20,-18" stroke="#6a6a6a" stroke-width="3.4" stroke-linecap="round"/><path d="M836,752 l20,-29" stroke="#7a7a7a" stroke-width="3.7" stroke-linecap="round"/><path d="M874,829 l4,-13" stroke="#6a6a6a" stroke-width="2.6" stroke-linecap="round"/><path d="M946,824 l20,22" stroke="#8e8e8e" stroke-width="3.8" stroke-linecap="round"/><path d="M1017,756 l20,-17" stroke="#a2a2a2" stroke-width="2.7" stroke-linecap="round"/><path d="M913,781 l1,41" stroke="#7a7a7a" stroke-width="2.9" stroke-linecap="round"/><path d="M706,790 l19,-20" stroke="#8e8e8e" stroke-width="3.5" stroke-linecap="round"/><path d="M1102,806 l41,-4" stroke="#8e8e8e" stroke-width="1.7" stroke-linecap="round"/><path d="M1007,781 l24,20" stroke="#6a6a6a" stroke-width="1.9" stroke-linecap="round"/><path d="M968,816 l2,30" stroke="#a2a2a2" stroke-width="1.7" stroke-linecap="round"/><path d="M721,771 l8,-10" stroke="#8e8e8e" stroke-width="3.9" stroke-linecap="round"/><path d="M1034,786 l5,23" stroke="#a2a2a2" stroke-width="2.4" stroke-linecap="round"/><path d="M718,802 l5,26" stroke="#6a6a6a" stroke-width="3.5" stroke-linecap="round"/><path d="M696,776 l15,25" stroke="#6a6a6a" stroke-width="3.0" stroke-linecap="round"/><path d="M689,819 l21,19" stroke="#a2a2a2" stroke-width="2.5" stroke-linecap="round"/><path d="M743,772 l11,21" stroke="#7a7a7a" stroke-width="3.5" stroke-linecap="round"/><path d="M956,827 l14,24" stroke="#8e8e8e" stroke-width="1.7" stroke-linecap="round"/><path d="M829,814 l-2,35" stroke="#959595" stroke-width="3.1" stroke-linecap="round"/><path d="M1022,781 l1,13" stroke="#8e8e8e" stroke-width="3.0" stroke-linecap="round"/><path d="M885,792 l17,-25" stroke="#6a6a6a" stroke-width="2.4" stroke-linecap="round"/><path d="M923,807 l32,-5" stroke="#6a6a6a" stroke-width="2.3" stroke-linecap="round"/><path d="M1083,772 l41,4" stroke="#959595" stroke-width="3.0" stroke-linecap="round"/><path d="M740,793 l-0,44" stroke="#6a6a6a" stroke-width="2.4" stroke-linecap="round"/><path d="M998,794 l20,-1" stroke="#8e8e8e" stroke-width="2.0" stroke-linecap="round"/><path d="M786,771 l5,19" stroke="#8e8e8e" stroke-width="2.9" stroke-linecap="round"/><path d="M939,804 l12,18" stroke="#a2a2a2" stroke-width="1.7" stroke-linecap="round"/><path d="M1064,777 l18,19" stroke="#a2a2a2" stroke-width="3.0" stroke-linecap="round"/><path d="M948,808 l15,-17" stroke="#6a6a6a" stroke-width="3.1" stroke-linecap="round"/><path d="M1082,768 l10,33" stroke="#8e8e8e" stroke-width="1.7" stroke-linecap="round"/><path d="M712,802 l12,33" stroke="#959595" stroke-width="3.9" stroke-linecap="round"/><path d="M938,832 l18,-3" stroke="#8e8e8e" stroke-width="2.1" stroke-linecap="round"/><path d="M1089,789 l7,-27" stroke="#a2a2a2" stroke-width="3.9" stroke-linecap="round"/><path d="M674,814 l36,-5" stroke="#7a7a7a" stroke-width="3.8" stroke-linecap="round"/><path d="M822,773 l25,3" stroke="#8e8e8e" stroke-width="2.8" stroke-linecap="round"/><path d="M664,785 l12,-28" stroke="#6a6a6a" stroke-width="4.0" stroke-linecap="round"/><path d="M898,782 l29,-26" stroke="#7a7a7a" stroke-width="2.4" stroke-linecap="round"/><path d="M648,770 l10,15" stroke="#6a6a6a" stroke-width="1.5" stroke-linecap="round"/><path d="M888,831 l7,24" stroke="#959595" stroke-width="2.6" stroke-linecap="round"/><path d="M923,827 l3,39" stroke="#6a6a6a" stroke-width="3.8" stroke-linecap="round"/><path d="M821,835 l-2,39" stroke="#8e8e8e" stroke-width="4.0" stroke-linecap="round"/><path d="M743,785 l15,-34" stroke="#6a6a6a" stroke-width="1.7" stroke-linecap="round"/><path d="M968,751 l-2,44" stroke="#959595" stroke-width="2.6" stroke-linecap="round"/><path d="M863,755 l10,-18" stroke="#a2a2a2" stroke-width="2.3" stroke-linecap="round"/><path d="M742,774 l24,-23" stroke="#a2a2a2" stroke-width="2.3" stroke-linecap="round"/><path d="M1072,796 l15,-26" stroke="#6a6a6a" stroke-width="1.8" stroke-linecap="round"/><path d="M870,809 l13,36" stroke="#8e8e8e" stroke-width="3.5" stroke-linecap="round"/><path d="M754,808 l24,-23" stroke="#a2a2a2" stroke-width="2.9" stroke-linecap="round"/><path d="M771,799 l19,-27" stroke="#8e8e8e" stroke-width="3.3" stroke-linecap="round"/><path d="M892,782 l17,21" stroke="#8e8e8e" stroke-width="2.7" stroke-linecap="round"/><path d="M910,766 l18,16" stroke="#a2a2a2" stroke-width="2.2" stroke-linecap="round"/><path d="M772,816 l-0,17" stroke="#7a7a7a" stroke-width="3.3" stroke-linecap="round"/><path d="M922,824 l31,1" stroke="#8e8e8e" stroke-width="2.6" stroke-linecap="round"/><path d="M971,801 l1,36" stroke="#959595" stroke-width="2.6" stroke-linecap="round"/><path d="M915,795 l9,-11" stroke="#6a6a6a" stroke-width="2.3" stroke-linecap="round"/><path d="M890,795 l1,37" stroke="#a2a2a2" stroke-width="2.6" stroke-linecap="round"/><path d="M783,824 l17,39" stroke="#a2a2a2" stroke-width="3.9" stroke-linecap="round"/><path d="M738,756 l-0,18" stroke="#7a7a7a" stroke-width="3.8" stroke-linecap="round"/><path d="M721,792 l0,29" stroke="#7a7a7a" stroke-width="2.9" stroke-linecap="round"/><path d="M956,785 l26,-2" stroke="#959595" stroke-width="2.2" stroke-linecap="round"/><path d="M940,804 l30,-27" stroke="#a2a2a2" stroke-width="3.6" stroke-linecap="round"/><path d="M918,752 l15,1" stroke="#a2a2a2" stroke-width="3.7" stroke-linecap="round"/><path d="M789,773 l8,-16" stroke="#8e8e8e" stroke-width="3.5" stroke-linecap="round"/><path d="M1068,792 l33,-3" stroke="#959595" stroke-width="2.3" stroke-linecap="round"/><path d="M813,755 l7,-13" stroke="#959595" stroke-width="2.5" stroke-linecap="round"/><path d="M695,775 l7,24" stroke="#7a7a7a" stroke-width="3.8" stroke-linecap="round"/><path d="M795,819 l-2,22" stroke="#959595" stroke-width="3.8" stroke-linecap="round"/><path d="M914,792 l7,-15" stroke="#7a7a7a" stroke-width="2.6" stroke-linecap="round"/><path d="M1093,815 l-1,20" stroke="#6a6a6a" stroke-width="3.6" stroke-linecap="round"/><path d="M718,809 l10,-28" stroke="#959595" stroke-width="1.8" stroke-linecap="round"/><path d="M1005,777 l32,-0" stroke="#8e8e8e" stroke-width="3.7" stroke-linecap="round"/><path d="M703,785 l6,-10" stroke="#7a7a7a" stroke-width="2.3" stroke-linecap="round"/><path d="M1047,806 l35,2" stroke="#959595" stroke-width="3.5" stroke-linecap="round"/><path d="M647,798 l13,-0" stroke="#959595" stroke-width="1.5" stroke-linecap="round"/><path d="M1103,812 l-1,33" stroke="#6a6a6a" stroke-width="2.5" stroke-linecap="round"/><path d="M1052,804 l26,-2" stroke="#a2a2a2" stroke-width="2.1" stroke-linecap="round"/><path d="M685,797 l29,3" stroke="#8e8e8e" stroke-width="1.9" stroke-linecap="round"/><path d="M667,749 l0,28" stroke="#959595" stroke-width="1.7" stroke-linecap="round"/><path d="M1007,809 l7,11" stroke="#6a6a6a" stroke-width="4.0" stroke-linecap="round"/><path d="M736,754 l18,17" stroke="#8e8e8e" stroke-width="2.6" stroke-linecap="round"/><path d="M783,811 l13,14" stroke="#6a6a6a" stroke-width="3.8" stroke-linecap="round"/><path d="M710,832 l37,-4" stroke="#7a7a7a" stroke-width="3.8" stroke-linecap="round"/><path d="M1018,784 l-1,36" stroke="#7a7a7a" stroke-width="2.3" stroke-linecap="round"/><path d="M759,807 l33,0" stroke="#959595" stroke-width="2.6" stroke-linecap="round"/><path d="M1029,803 l13,-33" stroke="#6a6a6a" stroke-width="3.9" stroke-linecap="round"/><path d="M1038,776 l26,-24" stroke="#a2a2a2" stroke-width="3.4" stroke-linecap="round"/><path d="M868,818 l6,24" stroke="#959595" stroke-width="2.6" stroke-linecap="round"/><path d="M1032,768 l4,14" stroke="#959595" stroke-width="2.3" stroke-linecap="round"/><path d="M679,776 l15,-40" stroke="#8e8e8e" stroke-width="3.4" stroke-linecap="round"/><path d="M1055,807 l17,2" stroke="#a2a2a2" stroke-width="3.0" stroke-linecap="round"/><path d="M913,832 l23,-36" stroke="#a2a2a2" stroke-width="2.5" stroke-linecap="round"/><path d="M716,802 l14,-24" stroke="#8e8e8e" stroke-width="3.6" stroke-linecap="round"/><path d="M877,751 l22,3" stroke="#6a6a6a" stroke-width="3.6" stroke-linecap="round"/><path d="M880,778 l9,31" stroke="#6a6a6a" stroke-width="3.8" stroke-linecap="round"/><path d="M699,754 l8,-16" stroke="#6a6a6a" stroke-width="1.9" stroke-linecap="round"/><path d="M786,797 l32,-5" stroke="#a2a2a2" stroke-width="2.6" stroke-linecap="round"/><path d="M751,786 l-3,40" stroke="#959595" stroke-width="2.7" stroke-linecap="round"/><path d="M658,780 l24,-3" stroke="#a2a2a2" stroke-width="3.9" stroke-linecap="round"/><path d="M1088,782 l-1,24" stroke="#7a7a7a" stroke-width="1.9" stroke-linecap="round"/><path d="M836,829 l0,16" stroke="#6a6a6a" stroke-width="1.6" stroke-linecap="round"/><path d="M1030,805 l15,-35" stroke="#a2a2a2" stroke-width="1.7" stroke-linecap="round"/><path d="M801,778 l2,29" stroke="#8e8e8e" stroke-width="3.8" stroke-linecap="round"/><path d="M1113,777 l9,13" stroke="#a2a2a2" stroke-width="1.8" stroke-linecap="round"/><path d="M1069,803 l38,1" stroke="#a2a2a2" stroke-width="2.5" stroke-linecap="round"/><path d="M1011,775 l27,4" stroke="#7a7a7a" stroke-width="3.6" stroke-linecap="round"/><path d="M988,812 l28,-1" stroke="#a2a2a2" stroke-width="1.5" stroke-linecap="round"/><path d="M710,812 l29,-27" stroke="#8e8e8e" stroke-width="3.0" stroke-linecap="round"/><path d="M794,782 l27,3" stroke="#8e8e8e" stroke-width="3.0" stroke-linecap="round"/><path d="M735,827 l15,15" stroke="#7a7a7a" stroke-width="2.0" stroke-linecap="round"/><path d="M1079,758 l0,33" stroke="#a2a2a2" stroke-width="1.7" stroke-linecap="round"/><path d="M729,789 l1,43" stroke="#8e8e8e" stroke-width="2.3" stroke-linecap="round"/><path d="M907,801 l16,-1" stroke="#6a6a6a" stroke-width="2.9" stroke-linecap="round"/><path d="M941,813 l11,-15" stroke="#7a7a7a" stroke-width="2.2" stroke-linecap="round"/><path d="M1034,772 l26,34" stroke="#6a6a6a" stroke-width="2.6" stroke-linecap="round"/><path d="M763,790 l-2,43" stroke="#8e8e8e" stroke-width="3.4" stroke-linecap="round"/><path d="M1096,801 l12,21" stroke="#959595" stroke-width="3.5" stroke-linecap="round"/><path d="M963,762 l10,-19" stroke="#7a7a7a" stroke-width="2.5" stroke-linecap="round"/><path d="M869,822 l13,43" stroke="#a2a2a2" stroke-width="3.3" stroke-linecap="round"/><path d="M745,761 l13,-38" stroke="#7a7a7a" stroke-width="1.5" stroke-linecap="round"/><path d="M973,807 l-1,27" stroke="#7a7a7a" stroke-width="3.9" stroke-linecap="round"/><path d="M1001,777 l36,2" stroke="#7a7a7a" stroke-width="2.7" stroke-linecap="round"/><path d="M875,805 l1,45" stroke="#7a7a7a" stroke-width="2.0" stroke-linecap="round"/><path d="M1083,772 l-1,42" stroke="#6a6a6a" stroke-width="2.1" stroke-linecap="round"/><path d="M838,767 l37,4" stroke="#a2a2a2" stroke-width="3.4" stroke-linecap="round"/><path d="M1114,757 l10,-14" stroke="#8e8e8e" stroke-width="1.8" stroke-linecap="round"/><path d="M783,761 l2,41" stroke="#6a6a6a" stroke-width="2.5" stroke-linecap="round"/><path d="M695,821 l22,-3" stroke="#6a6a6a" stroke-width="1.8" stroke-linecap="round"/><path d="M983,803 l1,26" stroke="#959595" stroke-width="1.5" stroke-linecap="round"/><path d="M869,812 l1,16" stroke="#959595" stroke-width="2.1" stroke-linecap="round"/><path d="M1116,802 l19,1" stroke="#8e8e8e" stroke-width="1.6" stroke-linecap="round"/><path d="M935,784 l-1,20" stroke="#7a7a7a" stroke-width="3.6" stroke-linecap="round"/><path d="M870,754 l0,14" stroke="#6a6a6a" stroke-width="3.8" stroke-linecap="round"/><path d="M957,752 l10,33" stroke="#959595" stroke-width="2.6" stroke-linecap="round"/><path d="M746,830 l-3,43" stroke="#a2a2a2" stroke-width="2.7" stroke-linecap="round"/><path d="M1063,774 l9,12" stroke="#a2a2a2" stroke-width="3.1" stroke-linecap="round"/><path d="M817,775 l9,23" stroke="#6a6a6a" stroke-width="2.4" stroke-linecap="round"/><path d="M767,784 l17,-16" stroke="#8e8e8e" stroke-width="1.7" stroke-linecap="round"/><path d="M734,812 l-2,45" stroke="#a2a2a2" stroke-width="2.0" stroke-linecap="round"/><path d="M694,751 l40,-2" stroke="#a2a2a2" stroke-width="2.7" stroke-linecap="round"/><path d="M721,825 l1,24" stroke="#a2a2a2" stroke-width="1.7" stroke-linecap="round"/><path d="M711,777 l1,26" stroke="#a2a2a2" stroke-width="3.8" stroke-linecap="round"/><path d="M937,799 l11,27" stroke="#959595" stroke-width="2.3" stroke-linecap="round"/><path d="M762,750 l10,-34" stroke="#7a7a7a" stroke-width="3.2" stroke-linecap="round"/><path d="M1000,808 l2,35" stroke="#7a7a7a" stroke-width="3.0" stroke-linecap="round"/><path d="M871,835 l21,-39" stroke="#6a6a6a" stroke-width="2.7" stroke-linecap="round"/><path d="M908,805 l-1,44" stroke="#959595" stroke-width="1.8" stroke-linecap="round"/><path d="M812,760 l16,1" stroke="#959595" stroke-width="3.5" stroke-linecap="round"/><path d="M940,765 l18,-16" stroke="#7a7a7a" stroke-width="3.1" stroke-linecap="round"/><path d="M924,768 l3,35" stroke="#a2a2a2" stroke-width="3.4" stroke-linecap="round"/><path d="M688,793 l-0,29" stroke="#6a6a6a" stroke-width="2.3" stroke-linecap="round"/><path d="M750,796 l8,32" stroke="#6a6a6a" stroke-width="3.1" stroke-linecap="round"/><path d="M704,751 l-1,34" stroke="#6a6a6a" stroke-width="2.6" stroke-linecap="round"/><path d="M748,819 l23,-37" stroke="#8e8e8e" stroke-width="2.0" stroke-linecap="round"/><path d="M1025,794 l17,-16" stroke="#6a6a6a" stroke-width="1.7" stroke-linecap="round"/><path d="M677,754 l-2,26" stroke="#a2a2a2" stroke-width="2.5" stroke-linecap="round"/><path d="M926,765 l21,1" stroke="#6a6a6a" stroke-width="3.8" stroke-linecap="round"/><path d="M923,767 l5,26" stroke="#7a7a7a" stroke-width="1.6" stroke-linecap="round"/><path d="M641,781 l18,-3" stroke="#959595" stroke-width="1.6" stroke-linecap="round"/><path d="M1062,753 l-2,41" stroke="#8e8e8e" stroke-width="2.8" stroke-linecap="round"/><path d="M753,788 l10,-34" stroke="#6a6a6a" stroke-width="2.3" stroke-linecap="round"/><path d="M746,832 l18,37" stroke="#8e8e8e" stroke-width="3.3" stroke-linecap="round"/><path d="M825,789 l8,10" stroke="#6a6a6a" stroke-width="3.8" stroke-linecap="round"/><path d="M714,781 l44,1" stroke="#a2a2a2" stroke-width="3.1" stroke-linecap="round"/><path d="M898,805 l14,1" stroke="#959595" stroke-width="2.9" stroke-linecap="round"/><path d="M1115,818 l5,20" stroke="#a2a2a2" stroke-width="2.2" stroke-linecap="round"/><path d="M1048,830 l18,21" stroke="#959595" stroke-width="1.9" stroke-linecap="round"/><path d="M1041,806 l13,-17" stroke="#6a6a6a" stroke-width="2.1" stroke-linecap="round"/><path d="M693,825 l29,-34" stroke="#6a6a6a" stroke-width="3.3" stroke-linecap="round"/><path d="M825,815 l16,42" stroke="#a2a2a2" stroke-width="3.9" stroke-linecap="round"/><path d="M661,754 l20,-39" stroke="#7a7a7a" stroke-width="2.1" stroke-linecap="round"/><path d="M1104,755 l36,-5" stroke="#a2a2a2" stroke-width="3.1" stroke-linecap="round"/><path d="M696,773 l12,-11" stroke="#959595" stroke-width="2.4" stroke-linecap="round"/><path d="M1038,792 l-2,32" stroke="#a2a2a2" stroke-width="3.2" stroke-linecap="round"/><path d="M678,777 l-0,16" stroke="#959595" stroke-width="2.2" stroke-linecap="round"/><path d="M653,805 l23,-0" stroke="#7a7a7a" stroke-width="3.8" stroke-linecap="round"/><path d="M851,749 l41,4" stroke="#7a7a7a" stroke-width="2.9" stroke-linecap="round"/><path d="M958,769 l26,-3" stroke="#6a6a6a" stroke-width="3.3" stroke-linecap="round"/><path d="M1108,784 l3,12" stroke="#a2a2a2" stroke-width="4.0" stroke-linecap="round"/><path d="M739,810 l8,-14" stroke="#6a6a6a" stroke-width="2.1" stroke-linecap="round"/><path d="M1042,826 l20,32" stroke="#6a6a6a" stroke-width="2.0" stroke-linecap="round"/><path d="M966,779 l22,-37" stroke="#7a7a7a" stroke-width="1.7" stroke-linecap="round"/><path d="M679,771 l-2,26" stroke="#6a6a6a" stroke-width="1.7" stroke-linecap="round"/><path d="M1046,775 l14,-31" stroke="#a2a2a2" stroke-width="2.4" stroke-linecap="round"/><path d="M1064,830 l0,20" stroke="#6a6a6a" stroke-width="2.5" stroke-linecap="round"/><path d="M727,818 l26,-36" stroke="#a2a2a2" stroke-width="3.1" stroke-linecap="round"/><path d="M846,821 l34,3" stroke="#959595" stroke-width="2.9" stroke-linecap="round"/><path d="M731,752 l5,11" stroke="#a2a2a2" stroke-width="1.8" stroke-linecap="round"/><path d="M1057,835 l20,23" stroke="#6a6a6a" stroke-width="4.0" stroke-linecap="round"/><path d="M891,805 l-0,42" stroke="#8e8e8e" stroke-width="3.2" stroke-linecap="round"/><path d="M771,814 l16,-31" stroke="#a2a2a2" stroke-width="3.6" stroke-linecap="round"/><path d="M887,782 l29,-29" stroke="#7a7a7a" stroke-width="2.9" stroke-linecap="round"/><path d="M679,752 l25,0" stroke="#8e8e8e" stroke-width="3.5" stroke-linecap="round"/><path d="M773,824 l13,-34" stroke="#7a7a7a" stroke-width="2.9" stroke-linecap="round"/><path d="M682,770 l14,0" stroke="#7a7a7a" stroke-width="1.8" stroke-linecap="round"/><path d="M1090,825 l13,15" stroke="#959595" stroke-width="3.0" stroke-linecap="round"/><path d="M915,817 l17,42" stroke="#959595" stroke-width="3.6" stroke-linecap="round"/><path d="M786,792 l21,39" stroke="#a2a2a2" stroke-width="2.7" stroke-linecap="round"/><path d="M857,803 l21,-29" stroke="#7a7a7a" stroke-width="2.0" stroke-linecap="round"/><path d="M874,771 l5,25" stroke="#8e8e8e" stroke-width="2.4" stroke-linecap="round"/><path d="M698,762 l14,35" stroke="#959595" stroke-width="2.8" stroke-linecap="round"/><path d="M1100,788 l13,32" stroke="#7a7a7a" stroke-width="3.1" stroke-linecap="round"/><path d="M844,782 l12,-1" stroke="#a2a2a2" stroke-width="2.2" stroke-linecap="round"/><path d="M996,797 l21,3" stroke="#8e8e8e" stroke-width="1.8" stroke-linecap="round"/><path d="M901,778 l18,22" stroke="#a2a2a2" stroke-width="3.4" stroke-linecap="round"/><path d="M650,755 l17,-20" stroke="#959595" stroke-width="2.4" stroke-linecap="round"/><path d="M937,804 l-1,24" stroke="#959595" stroke-width="2.3" stroke-linecap="round"/><path d="M696,769 l17,23" stroke="#a2a2a2" stroke-width="2.3" stroke-linecap="round"/><path d="M869,802 l14,34" stroke="#a2a2a2" stroke-width="3.9" stroke-linecap="round"/><path d="M1025,765 l-0,24" stroke="#6a6a6a" stroke-width="3.0" stroke-linecap="round"/><path d="M1079,833 l23,0" stroke="#7a7a7a" stroke-width="3.3" stroke-linecap="round"/><ellipse cx="760" cy="900" rx="14" ry="40" transform="rotate(20 760 900)" fill="#2e2e2e"/><ellipse cx="845" cy="1000" rx="18" ry="30" transform="rotate(10 845 1000)" fill="#2e2e2e"/><ellipse cx="930" cy="960" rx="12" ry="30" transform="rotate(-20 930 960)" fill="#2e2e2e"/><ellipse cx="700" cy="960" rx="8" ry="30" transform="rotate(10 700 960)" fill="#2e2e2e"/><ellipse cx="980" cy="905" rx="10" ry="25" transform="rotate(30 980 905)" fill="#2e2e2e"/><ellipse cx="1030" cy="930" rx="30" ry="40" transform="rotate(0 1030 930)" fill="#2e2e2e"/><polygon points="639,1060 760,1065 900,1090 1000,1119 639,1119" fill="#2e2e2e"/><path d="M639,1100 l224,-4" stroke="#4e4e4e" stroke-width="3"/><path d="M639,1099 l348,5" stroke="#4e4e4e" stroke-width="2"/><path d="M639,1096 l212,-2" stroke="#4e4e4e" stroke-width="4"/><path d="M639,1088 l276,3" stroke="#4e4e4e" stroke-width="4"/><path d="M639,1090 l230,12" stroke="#4e4e4e" stroke-width="3"/><path d="M639,1099 l313,9" stroke="#4e4e4e" stroke-width="2"/><path d="M639,1101 l257,13" stroke="#4e4e4e" stroke-width="4"/><path d="M639,1086 l234,16" stroke="#4e4e4e" stroke-width="4"/><path d="M639,1115 l189,18" stroke="#4e4e4e" stroke-width="2"/><path d="M639,1099 l293,4" stroke="#4e4e4e" stroke-width="4"/><path d="M639,1109 l313,17" stroke="#4e4e4e" stroke-width="2"/><path d="M639,1094 l183,18" stroke="#4e4e4e" stroke-width="4"/><polygon points="1010,880 1117,860 1117,1119 960,1119 990,1000" fill="#3a3a3a"/><path d="M1069,928 l-46,214" stroke="#525252" stroke-width="9" stroke-linecap="round"/><path d="M1051,901 l10,131" stroke="#5e5e5e" stroke-width="5" stroke-linecap="round"/><path d="M1046,877 l-17,154" stroke="#5e5e5e" stroke-width="9" stroke-linecap="round"/><path d="M1013,893 l-37,144" stroke="#525252" stroke-width="8" stroke-linecap="round"/><path d="M1103,957 l-16,196" stroke="#5e5e5e" stroke-width="11" stroke-linecap="round"/><path d="M1068,946 l13,163" stroke="#525252" stroke-width="9" stroke-linecap="round"/><path d="M997,904 l-44,170" stroke="#525252" stroke-width="7" stroke-linecap="round"/><path d="M1022,893 l2,185" stroke="#525252" stroke-width="9" stroke-linecap="round"/><path d="M1048,950 l-40,179" stroke="#525252" stroke-width="7" stroke-linecap="round"/><path d="M1008,880 l-48,193" stroke="#6a6a6a" stroke-width="10" stroke-linecap="round"/><path d="M1097,958 l5,131" stroke="#525252" stroke-width="7" stroke-linecap="round"/><path d="M993,893 l-25,165" stroke="#525252" stroke-width="9" stroke-linecap="round"/><path d="M1047,958 l-9,148" stroke="#525252" stroke-width="8" stroke-linecap="round"/><path d="M1074,873 l-40,167" stroke="#6a6a6a" stroke-width="6" stroke-linecap="round"/><polygon points="693.0,829.6 683.0,999.6 697.0,1000.4 707.0,830.4" fill="#8c8c8c" stroke="#2a2a2a" stroke-width="1.4"/><path d="M704.2,830.2 L694.2,1000.2" stroke="#555555" stroke-width="3.1" opacity="0.7"/><polygon points="724.1,851.1 754.1,1011.1 765.9,1008.9 735.9,848.9" fill="#828282" stroke="#2a2a2a" stroke-width="1.4"/><path d="M733.5,849.3 L763.5,1009.3" stroke="#4b4b4b" stroke-width="2.6" opacity="0.7"/><polygon points="874.1,840.8 894.1,990.8 905.9,989.2 885.9,839.2" fill="#878787" stroke="#2a2a2a" stroke-width="1.4"/><path d="M883.6,839.5 L903.6,989.5" stroke="#505050" stroke-width="2.6" opacity="0.7"/><polygon points="943.3,832.1 983.3,962.1 996.7,957.9 956.7,827.9" fill="#828282" stroke="#2a2a2a" stroke-width="1.4"/><path d="M954.0,828.8 L994.0,958.8" stroke="#4b4b4b" stroke-width="3.1" opacity="0.7"/><polygon points="815.1,819.3 795.1,959.3 804.9,960.7 824.9,820.7" fill="#8c8c8c" stroke="#2a2a2a" stroke-width="1.4"/><path d="M823.0,820.4 L803.0,960.4" stroke="#555555" stroke-width="2.2" opacity="0.7"/><polygon points="1033.2,821.7 1053.2,901.7 1066.8,898.3 1046.8,818.3" fill="#8c8c8c" stroke="#2a2a2a" stroke-width="1.4"/><path d="M1044.1,819.0 L1064.1,899.0" stroke="#555555" stroke-width="3.1" opacity="0.7"/><polygon points="665.1,799.2 645.1,919.2 654.9,920.8 674.9,800.8" fill="#828282" stroke="#2a2a2a" stroke-width="1.4"/><path d="M673.0,800.5 L653.0,920.5" stroke="#4b4b4b" stroke-width="2.2" opacity="0.7"/><polygon points="755.8,801.6 785.8,881.6 794.2,878.4 764.2,798.4" fill="#969696" stroke="#2a2a2a" stroke-width="1.4"/><path d="M762.5,799.1 L792.5,879.1" stroke="#5f5f5f" stroke-width="2.0" opacity="0.7"/><polygon points="995.1,788.8 975.1,868.8 984.9,871.2 1004.9,791.2" fill="#8c8c8c" stroke="#2a2a2a" stroke-width="1.4"/><path d="M1002.9,790.7 L982.9,870.7" stroke="#555555" stroke-width="2.2" opacity="0.7"/><polygon points="842,792 1040,766 1068,760 1072,778 1046,790 850,812" fill="#b4b4b4" stroke="#2a2a2a" stroke-width="1.4"/><polygon points="1068,760 1114,752 1117,770 1072,778" fill="#a8a8a8" stroke="#2a2a2a" stroke-width="1.2"/><polygon points="1090,790 1117,770 1117,860 1100,850" fill="#9a9a9a"/><polygon points="659.3,1003.7 699.3,903.7 680.7,896.3 640.7,996.3" fill="#a8a8a8" stroke="#2a2a2a" stroke-width="1.4"/><path d="M644.4,997.8 L684.4,897.8" stroke="#717171" stroke-width="4.4" opacity="0.7"/><polygon points="690.0,1044.6 740.0,934.6 720.0,925.4 670.0,1035.4" fill="#acacac" stroke="#2a2a2a" stroke-width="1.4"/><path d="M674.0,1037.3 L724.0,927.3" stroke="#757575" stroke-width="4.8" opacity="0.7"/><polygon points="867.6,1012.5 887.6,952.5 872.4,947.5 852.4,1007.5" fill="#a0a0a0" stroke="#2a2a2a" stroke-width="1.4"/><path d="M855.4,1008.5 L875.4,948.5" stroke="#696969" stroke-width="3.5" opacity="0.7"/><ellipse cx="880.0" cy="950.0" rx="6.7" ry="3.5" transform="rotate(18 880.0 950.0)" fill="#262626" stroke="#a0a0a0" stroke-width="2"/><polygon points="897.2,1003.6 927.2,943.6 912.8,936.4 882.8,996.4" fill="#9e9e9e" stroke="#2a2a2a" stroke-width="1.4"/><path d="M885.7,997.9 L915.7,937.9" stroke="#676767" stroke-width="3.5" opacity="0.7"/><ellipse cx="920.0" cy="940.0" rx="6.7" ry="3.5" transform="rotate(27 920.0 940.0)" fill="#262626" stroke="#9e9e9e" stroke-width="2"/><polygon points="956.9,991.4 966.9,941.4 953.1,938.6 943.1,988.6" fill="#969696" stroke="#2a2a2a" stroke-width="1.4"/><path d="M945.9,989.2 L955.9,939.2" stroke="#5f5f5f" stroke-width="3.1" opacity="0.7"/><ellipse cx="960.0" cy="940.0" rx="5.9" ry="3.1" transform="rotate(11 960.0 940.0)" fill="#262626" stroke="#969696" stroke-width="2"/><polygon points="826.3,1053.1 856.3,993.1 843.7,986.9 813.7,1046.9" fill="#969696" stroke="#2a2a2a" stroke-width="1.4"/><path d="M816.2,1048.1 L846.2,988.1" stroke="#5f5f5f" stroke-width="3.1" opacity="0.7"/><polygon points="746.4,1062.8 776.4,992.8 763.6,987.2 733.6,1057.2" fill="#969696" stroke="#2a2a2a" stroke-width="1.4"/><path d="M736.1,1058.3 L766.1,988.3" stroke="#5f5f5f" stroke-width="3.1" opacity="0.7"/><polygon points="1002.5,826.6 1082.5,796.6 1077.5,783.4 997.5,813.4" fill="#b4b4b4" stroke="#2a2a2a" stroke-width="1.4"/><path d="M998.5,816.1 L1078.5,786.1" stroke="#7d7d7d" stroke-width="3.1" opacity="0.7"/><polygon points="871.3,835.9 941.3,820.9 938.7,809.1 868.7,824.1" fill="#aaaaaa" stroke="#2a2a2a" stroke-width="1.4"/><path d="M869.2,826.5 L939.2,811.5" stroke="#737373" stroke-width="2.6" opacity="0.7"/><polygon points="700.6,831.3 644.6,1006.3 667.4,1013.7 723.4,838.7" fill="#b0b0b0" stroke="#2a2a2a" stroke-width="1.4"/><path d="M718.9,837.2 L662.9,1012.2" stroke="#797979" stroke-width="5.3" opacity="0.7"/><polygon points="737.5,857.2 682.5,1002.2 697.5,1007.8 752.5,862.8" fill="#aaaaaa" stroke="#2a2a2a" stroke-width="1.4"/><path d="M749.5,861.7 L694.5,1006.7" stroke="#737373" stroke-width="3.5" opacity="0.7"/><polygon points="653.1,868.8 638.1,958.8 651.9,961.2 666.9,871.2" fill="#a0a0a0" stroke="#2a2a2a" stroke-width="1.4"/><path d="M664.1,870.7 L649.1,960.7" stroke="#696969" stroke-width="3.1" opacity="0.7"/><polygon points="763.2,860.4 728.2,1008.4 741.8,1011.6 776.8,863.6" fill="#a5a5a5" stroke="#2a2a2a" stroke-width="1.4"/><path d="M774.1,863.0 L739.1,1011.0" stroke="#6e6e6e" stroke-width="3.1" opacity="0.7"/><polygon points="694.6,902.4 654.6,987.4 665.4,992.6 705.4,907.6" fill="#969696" stroke="#2a2a2a" stroke-width="1.4"/><path d="M703.3,906.5 L663.3,991.5" stroke="#5f5f5f" stroke-width="2.6" opacity="0.7"/><ellipse cx="660.0" cy="990.0" rx="5.0" ry="2.6" transform="rotate(205 660.0 990.0)" fill="#262626" stroke="#969696" stroke-width="2"/><polygon points="773.2,847.5 830.2,970.5 853.8,959.5 796.8,836.5" fill="#bcbcbc" stroke="#2a2a2a" stroke-width="1.4"/><path d="M792.1,838.7 L849.1,961.7" stroke="#858585" stroke-width="5.7" opacity="0.7"/><ellipse cx="842.0" cy="965.0" rx="10.9" ry="5.7" transform="rotate(155 842.0 965.0)" fill="#262626" stroke="#bcbcbc" stroke-width="2"/><polygon points="803.5,839.8 775.5,897.8 784.5,902.2 812.5,844.2" fill="#aaaaaa" stroke="#2a2a2a" stroke-width="1.4"/><path d="M810.7,843.3 L782.7,901.3" stroke="#737373" stroke-width="2.2" opacity="0.7"/><polygon points="767.4,1005.7 809.4,935.7 790.6,924.3 748.6,994.3" fill="#b2b2b2" stroke="#2a2a2a" stroke-width="1.4"/><path d="M752.3,996.6 L794.3,926.6" stroke="#7b7b7b" stroke-width="4.8" opacity="0.7"/><ellipse cx="800.0" cy="930.0" rx="9.2" ry="4.8" transform="rotate(31 800.0 930.0)" fill="#262626" stroke="#b2b2b2" stroke-width="2"/><polygon points="727.9,1034.2 767.9,959.2 752.1,950.8 712.1,1025.8" fill="#a5a5a5" stroke="#2a2a2a" stroke-width="1.4"/><path d="M715.2,1027.5 L755.2,952.5" stroke="#6e6e6e" stroke-width="4.0" opacity="0.7"/><ellipse cx="760.0" cy="955.0" rx="7.6" ry="4.0" transform="rotate(28 760.0 955.0)" fill="#262626" stroke="#a5a5a5" stroke-width="2"/><polygon points="781.8,1053.5 766.8,983.5 753.2,986.5 768.2,1056.5" fill="#969696" stroke="#2a2a2a" stroke-width="1.4"/><path d="M770.9,1055.9 L755.9,985.9" stroke="#5f5f5f" stroke-width="3.1" opacity="0.7"/><polygon points="855.3,936.9 942.3,844.9 927.7,831.1 840.7,923.1" fill="#b6b6b6" stroke="#2a2a2a" stroke-width="1.4"/><path d="M843.6,925.9 L930.6,833.9" stroke="#7f7f7f" stroke-width="4.4" opacity="0.7"/><ellipse cx="935.0" cy="838.0" rx="8.4" ry="4.4" transform="rotate(43 935.0 838.0)" fill="#262626" stroke="#b6b6b6" stroke-width="2"/><polygon points="906.7,920.1 996.7,837.1 987.3,826.9 897.3,909.9" fill="#c0c0c0" stroke="#2a2a2a" stroke-width="1.4"/><path d="M899.2,911.9 L989.2,828.9" stroke="#898989" stroke-width="3.1" opacity="0.7"/><ellipse cx="992.0" cy="832.0" rx="5.9" ry="3.1" transform="rotate(47 992.0 832.0)" fill="#262626" stroke="#c0c0c0" stroke-width="2"/><polygon points="932.4,922.1 986.4,864.1 977.6,855.9 923.6,913.9" fill="#b2b2b2" stroke="#2a2a2a" stroke-width="1.4"/><path d="M925.4,915.5 L979.4,857.5" stroke="#7b7b7b" stroke-width="2.6" opacity="0.7"/><ellipse cx="982.0" cy="860.0" rx="5.0" ry="2.6" transform="rotate(43 982.0 860.0)" fill="#262626" stroke="#b2b2b2" stroke-width="2"/><polygon points="1004.8,888.1 993.8,838.1 976.2,841.9 987.2,891.9" fill="#a8a8a8" stroke="#2a2a2a" stroke-width="1.4"/><path d="M990.7,891.2 L979.7,841.2" stroke="#717171" stroke-width="4.0" opacity="0.7"/><ellipse cx="985.0" cy="840.0" rx="7.6" ry="4.0" transform="rotate(-12 985.0 840.0)" fill="#262626" stroke="#a8a8a8" stroke-width="2"/><polygon points="1064.6,837.4 1021.6,775.4 1008.4,784.6 1051.4,846.6" fill="#aaaaaa" stroke="#2a2a2a" stroke-width="1.4"/><path d="M1054.1,844.7 L1011.1,782.7" stroke="#737373" stroke-width="3.5" opacity="0.7"/><ellipse cx="1015.0" cy="780.0" rx="6.7" ry="3.5" transform="rotate(-35 1015.0 780.0)" fill="#262626" stroke="#aaaaaa" stroke-width="2"/><polygon points="1102.2,843.9 1069.2,793.9 1050.8,806.1 1083.8,856.1" fill="#afafaf" stroke="#2a2a2a" stroke-width="1.4"/><path d="M1087.5,853.6 L1054.5,803.6" stroke="#787878" stroke-width="4.8" opacity="0.7"/><ellipse cx="1060.0" cy="800.0" rx="9.2" ry="4.8" transform="rotate(-33 1060.0 800.0)" fill="#262626" stroke="#afafaf" stroke-width="2"/><polygon points="888.7,944.7 878.7,907.7 861.3,912.3 871.3,949.3" fill="#acacac" stroke="#2a2a2a" stroke-width="1.4"/><path d="M874.8,948.4 L864.8,911.4" stroke="#757575" stroke-width="4.0" opacity="0.7"/><ellipse cx="870.0" cy="910.0" rx="7.6" ry="4.0" transform="rotate(-15 870.0 910.0)" fill="#262626" stroke="#acacac" stroke-width="2"/><polygon points="914.9,938.1 907.9,879.1 892.1,880.9 899.1,939.9" fill="#b4b4b4" stroke="#2a2a2a" stroke-width="1.4"/><path d="M902.2,939.6 L895.2,880.6" stroke="#7d7d7d" stroke-width="3.5" opacity="0.7"/><ellipse cx="900.0" cy="880.0" rx="6.7" ry="3.5" transform="rotate(-7 900.0 880.0)" fill="#262626" stroke="#b4b4b4" stroke-width="2"/><polygon points="915.0,962.6 918.0,925.6 902.0,924.4 899.0,961.4" fill="#aaaaaa" stroke="#2a2a2a" stroke-width="1.4"/><path d="M902.2,961.6 L905.2,924.6" stroke="#737373" stroke-width="3.5" opacity="0.7"/><ellipse cx="910.0" cy="925.0" rx="6.7" ry="3.5" transform="rotate(5 910.0 925.0)" fill="#262626" stroke="#aaaaaa" stroke-width="2"/><polygon points="947.9,930.0 941.9,889.0 928.1,891.0 934.1,932.0" fill="#a8a8a8" stroke="#2a2a2a" stroke-width="1.4"/><path d="M936.8,931.6 L930.8,890.6" stroke="#717171" stroke-width="3.1" opacity="0.7"/><ellipse cx="935.0" cy="890.0" rx="5.9" ry="3.1" transform="rotate(-8 935.0 890.0)" fill="#262626" stroke="#a8a8a8" stroke-width="2"/><polygon points="984.9,919.8 977.9,873.8 962.1,876.2 969.1,922.2" fill="#afafaf" stroke="#2a2a2a" stroke-width="1.4"/><path d="M972.3,921.7 L965.3,875.7" stroke="#787878" stroke-width="3.5" opacity="0.7"/><ellipse cx="970.0" cy="875.0" rx="6.7" ry="3.5" transform="rotate(-9 970.0 875.0)" fill="#262626" stroke="#afafaf" stroke-width="2"/><polygon points="1076.5,879.3 1057.5,827.3 1042.5,832.7 1061.5,884.7" fill="#a8a8a8" stroke="#2a2a2a" stroke-width="1.4"/><path d="M1064.5,883.6 L1045.5,831.6" stroke="#717171" stroke-width="3.5" opacity="0.7"/><ellipse cx="1050.0" cy="830.0" rx="6.7" ry="3.5" transform="rotate(-20 1050.0 830.0)" fill="#262626" stroke="#a8a8a8" stroke-width="2"/><polygon points="843.6,1002.1 865.6,942.1 854.4,937.9 832.4,997.9" fill="#9e9e9e" stroke="#2a2a2a" stroke-width="1.4"/><path d="M834.6,998.8 L856.6,938.8" stroke="#676767" stroke-width="2.6" opacity="0.7"/><ellipse cx="860.0" cy="940.0" rx="5.0" ry="2.6" transform="rotate(20 860.0 940.0)" fill="#262626" stroke="#9e9e9e" stroke-width="2"/><polygon points="875.8,986.5 890.8,926.5 879.2,923.5 864.2,983.5" fill="#969696" stroke="#2a2a2a" stroke-width="1.4"/><path d="M866.5,984.1 L881.5,924.1" stroke="#5f5f5f" stroke-width="2.6" opacity="0.7"/><polygon points="662.4,803.2 702.4,773.2 697.6,766.8 657.6,796.8" fill="#969696" stroke="#2a2a2a" stroke-width="1.4"/><path d="M658.6,798.1 L698.6,768.1" stroke="#5f5f5f" stroke-width="1.8" opacity="0.7"/><polygon points="713.5,823.5 763.5,773.5 756.5,766.5 706.5,816.5" fill="#a0a0a0" stroke="#2a2a2a" stroke-width="1.4"/><path d="M707.9,817.9 L757.9,767.9" stroke="#696969" stroke-width="2.2" opacity="0.7"/><polygon points="772.5,833.1 822.5,793.1 817.5,786.9 767.5,826.9" fill="#969696" stroke="#2a2a2a" stroke-width="1.4"/><path d="M768.5,828.1 L818.5,788.1" stroke="#5f5f5f" stroke-width="1.8" opacity="0.7"/><circle cx="853" cy="1068" r="5.1" fill="#8a8a8a"/><circle cx="746" cy="1028" r="2.7" fill="#8a8a8a"/><circle cx="827" cy="1049" r="4.9" fill="#5a5a5a"/><circle cx="937" cy="998" r="2.3" fill="#9a9a9a"/><circle cx="930" cy="1065" r="5.0" fill="#8a8a8a"/><circle cx="828" cy="1067" r="5.1" fill="#6e6e6e"/><circle cx="836" cy="1054" r="3.2" fill="#6e6e6e"/><circle cx="864" cy="1059" r="4.3" fill="#5a5a5a"/><circle cx="903" cy="1091" r="5.8" fill="#8a8a8a"/><circle cx="881" cy="1049" r="5.6" fill="#9a9a9a"/><circle cx="875" cy="1054" r="5.9" fill="#7a7a7a"/><circle cx="855" cy="1013" r="5.3" fill="#8a8a8a"/><circle cx="920" cy="1051" r="5.1" fill="#8a8a8a"/><circle cx="850" cy="1007" r="4.4" fill="#6e6e6e"/><circle cx="952" cy="1010" r="4.1" fill="#7a7a7a"/><circle cx="966" cy="1031" r="4.6" fill="#7a7a7a"/><circle cx="824" cy="1105" r="3.1" fill="#7a7a7a"/><circle cx="819" cy="1046" r="4.0" fill="#5a5a5a"/><circle cx="854" cy="1098" r="3.5" fill="#5a5a5a"/><circle cx="844" cy="1019" r="4.5" fill="#7a7a7a"/><circle cx="868" cy="1052" r="5.6" fill="#7a7a7a"/><circle cx="796" cy="1034" r="2.2" fill="#7a7a7a"/><circle cx="822" cy="1039" r="2.5" fill="#8a8a8a"/><circle cx="846" cy="1064" r="3.6" fill="#8a8a8a"/><circle cx="917" cy="1023" r="3.3" fill="#6e6e6e"/><circle cx="966" cy="1090" r="3.6" fill="#6e6e6e"/><circle cx="800" cy="1002" r="3.2" fill="#6e6e6e"/><circle cx="835" cy="1002" r="5.0" fill="#7a7a7a"/><circle cx="881" cy="1103" r="3.1" fill="#5a5a5a"/><circle cx="806" cy="1015" r="5.5" fill="#9a9a9a"/><circle cx="804" cy="1038" r="3.0" fill="#7a7a7a"/><circle cx="869" cy="1060" r="2.6" fill="#6e6e6e"/><circle cx="859" cy="1055" r="2.0" fill="#6e6e6e"/><circle cx="819" cy="1071" r="2.6" fill="#7a7a7a"/><circle cx="895" cy="1032" r="4.5" fill="#6e6e6e"/><circle cx="860" cy="1020" r="5.5" fill="#8a8a8a"/><circle cx="757" cy="1076" r="2.2" fill="#5a5a5a"/><circle cx="818" cy="995" r="3.8" fill="#6e6e6e"/><circle cx="901" cy="1072" r="2.6" fill="#7a7a7a"/><circle cx="888" cy="1030" r="4.2" fill="#6e6e6e"/><circle cx="756" cy="1054" r="2.2" fill="#8a8a8a"/><circle cx="870" cy="1015" r="2.6" fill="#7a7a7a"/><circle cx="865" cy="1071" r="2.5" fill="#8a8a8a"/><circle cx="780" cy="1026" r="3.2" fill="#8a8a8a"/><circle cx="852" cy="1025" r="2.1" fill="#8a8a8a"/><circle cx="894" cy="1045" r="4.1" fill="#9a9a9a"/><circle cx="860" cy="1054" r="4.6" fill="#9a9a9a"/><circle cx="778" cy="1003" r="5.8" fill="#9a9a9a"/><circle cx="916" cy="1062" r="2.7" fill="#8a8a8a"/><circle cx="935" cy="1029" r="4.8" fill="#7a7a7a"/><circle cx="805" cy="1050" r="5.0" fill="#6e6e6e"/><circle cx="771" cy="1026" r="3.5" fill="#9a9a9a"/><circle cx="854" cy="1026" r="3.4" fill="#7a7a7a"/><circle cx="768" cy="1056" r="3.9" fill="#8a8a8a"/><circle cx="859" cy="1036" r="5.7" fill="#5a5a5a"/><circle cx="833" cy="1008" r="5.5" fill="#9a9a9a"/><circle cx="921" cy="1040" r="4.5" fill="#8a8a8a"/><circle cx="905" cy="1055" r="5.7" fill="#9a9a9a"/><circle cx="919" cy="1051" r="4.5" fill="#8a8a8a"/><circle cx="780" cy="1061" r="5.0" fill="#7a7a7a"/><circle cx="893" cy="1090" r="5.7" fill="#6e6e6e"/><circle cx="805" cy="1041" r="5.9" fill="#9a9a9a"/><circle cx="882" cy="1011" r="5.6" fill="#9a9a9a"/><circle cx="831" cy="1045" r="4.4" fill="#7a7a7a"/><circle cx="855" cy="1041" r="5.1" fill="#9a9a9a"/><circle cx="926" cy="1029" r="4.3" fill="#9a9a9a"/><circle cx="762" cy="1043" r="5.3" fill="#9a9a9a"/><circle cx="849" cy="1009" r="4.8" fill="#5a5a5a"/><circle cx="939" cy="1088" r="4.3" fill="#5a5a5a"/><circle cx="865" cy="1042" r="2.1" fill="#8a8a8a"/><circle cx="805" cy="1086" r="4.6" fill="#5a5a5a"/><circle cx="930" cy="1015" r="2.2" fill="#6e6e6e"/><circle cx="843" cy="1097" r="5.8" fill="#5a5a5a"/><circle cx="760" cy="1020" r="5.4" fill="#5a5a5a"/><circle cx="875" cy="1008" r="4.2" fill="#9a9a9a"/><circle cx="848" cy="1009" r="5.3" fill="#5a5a5a"/><circle cx="967" cy="1063" r="2.8" fill="#5a5a5a"/><circle cx="893" cy="1081" r="2.4" fill="#8a8a8a"/><circle cx="883" cy="1081" r="5.9" fill="#7a7a7a"/><circle cx="802" cy="1014" r="5.2" fill="#5a5a5a"/><circle cx="998" cy="1051" r="5.9" fill="#8a8a8a"/><circle cx="986" cy="1041" r="4.6" fill="#8a8a8a"/><circle cx="880" cy="1035" r="4.6" fill="#5a5a5a"/><circle cx="847" cy="1024" r="2.6" fill="#6e6e6e"/><circle cx="840" cy="1084" r="5.0" fill="#8a8a8a"/><circle cx="806" cy="1054" r="5.4" fill="#8a8a8a"/><circle cx="816" cy="1033" r="5.5" fill="#7a7a7a"/><circle cx="844" cy="981" r="5.5" fill="#8a8a8a"/><circle cx="826" cy="1036" r="5.7" fill="#6e6e6e"/><circle cx="820" cy="1005" r="4.6" fill="#7a7a7a"/><circle cx="952" cy="1018" r="3.0" fill="#5a5a5a"/><circle cx="935" cy="1049" r="3.9" fill="#5a5a5a"/><circle cx="735" cy="998" r="3.9" fill="#5a5a5a"/><circle cx="914" cy="1030" r="4.0" fill="#8a8a8a"/><circle cx="821" cy="1032" r="3.5" fill="#6e6e6e"/><circle cx="833" cy="1034" r="3.4" fill="#9a9a9a"/><circle cx="844" cy="981" r="4.0" fill="#9a9a9a"/><circle cx="903" cy="1048" r="4.1" fill="#7a7a7a"/><circle cx="903" cy="1095" r="3.3" fill="#5a5a5a"/><circle cx="909" cy="1029" r="4.8" fill="#8a8a8a"/><circle cx="950" cy="1013" r="2.7" fill="#6e6e6e"/><circle cx="804" cy="1093" r="5.9" fill="#8a8a8a"/><circle cx="892" cy="1063" r="4.6" fill="#9a9a9a"/><circle cx="963" cy="1056" r="4.6" fill="#5a5a5a"/><circle cx="886" cy="1023" r="2.3" fill="#7a7a7a"/><circle cx="874" cy="1019" r="4.1" fill="#6e6e6e"/><circle cx="847" cy="1017" r="2.9" fill="#9a9a9a"/><circle cx="874" cy="1039" r="3.7" fill="#7a7a7a"/><circle cx="846" cy="1021" r="5.3" fill="#9a9a9a"/><circle cx="801" cy="1016" r="5.8" fill="#7a7a7a"/><circle cx="851" cy="1003" r="4.2" fill="#6e6e6e"/><circle cx="988" cy="1024" r="2.5" fill="#8a8a8a"/><circle cx="808" cy="1062" r="5.4" fill="#5a5a5a"/><circle cx="959" cy="1051" r="4.8" fill="#7a7a7a"/><circle cx="918" cy="1028" r="5.1" fill="#8a8a8a"/><circle cx="891" cy="1055" r="3.0" fill="#8a8a8a"/><circle cx="804" cy="1072" r="3.8" fill="#6e6e6e"/><circle cx="923" cy="1005" r="4.7" fill="#6e6e6e"/><circle cx="881" cy="1035" r="2.5" fill="#6e6e6e"/><circle cx="786" cy="1060" r="4.4" fill="#6e6e6e"/><circle cx="913" cy="1036" r="2.2" fill="#9a9a9a"/><circle cx="834" cy="1091" r="2.4" fill="#6e6e6e"/><circle cx="883" cy="1008" r="5.9" fill="#7a7a7a"/><circle cx="905" cy="1094" r="3.1" fill="#5a5a5a"/><circle cx="838" cy="1011" r="2.4" fill="#9a9a9a"/><circle cx="951" cy="1069" r="2.0" fill="#7a7a7a"/><circle cx="827" cy="1027" r="2.4" fill="#9a9a9a"/><circle cx="909" cy="1011" r="2.1" fill="#5a5a5a"/><circle cx="896" cy="1082" r="3.2" fill="#8a8a8a"/><circle cx="834" cy="1089" r="2.2" fill="#5a5a5a"/><circle cx="1006" cy="1064" r="3.4" fill="#6e6e6e"/><circle cx="802" cy="1062" r="3.0" fill="#9a9a9a"/><circle cx="893" cy="1119" r="5.1" fill="#5a5a5a"/><circle cx="992" cy="1096" r="4.6" fill="#6e6e6e"/><circle cx="790" cy="1028" r="5.2" fill="#6e6e6e"/><circle cx="995" cy="1036" r="2.6" fill="#6e6e6e"/><circle cx="919" cy="997" r="4.2" fill="#8a8a8a"/><circle cx="894" cy="1062" r="4.7" fill="#5a5a5a"/><circle cx="904" cy="1045" r="5.3" fill="#6e6e6e"/><circle cx="827" cy="1059" r="5.0" fill="#5a5a5a"/><circle cx="917" cy="1052" r="2.5" fill="#7a7a7a"/><circle cx="850" cy="1071" r="3.8" fill="#7a7a7a"/><circle cx="854" cy="1127" r="3.7" fill="#6e6e6e"/><circle cx="827" cy="1067" r="2.5" fill="#6e6e6e"/><circle cx="852" cy="984" r="3.3" fill="#6e6e6e"/><circle cx="804" cy="1042" r="5.0" fill="#8a8a8a"/><circle cx="864" cy="1072" r="5.0" fill="#6e6e6e"/><circle cx="877" cy="1131" r="3.5" fill="#7a7a7a"/><circle cx="772" cy="1087" r="4.8" fill="#8a8a8a"/><circle cx="827" cy="1048" r="5.7" fill="#6e6e6e"/><circle cx="962" cy="1039" r="4.2" fill="#6e6e6e"/><circle cx="835" cy="1058" r="3.4" fill="#7a7a7a"/><circle cx="903" cy="1018" r="4.6" fill="#7a7a7a"/><circle cx="858" cy="1106" r="5.0" fill="#6e6e6e"/><circle cx="983" cy="1053" r="3.5" fill="#7a7a7a"/><circle cx="974" cy="1057" r="3.6" fill="#6e6e6e"/><circle cx="925" cy="1022" r="4.3" fill="#8a8a8a"/><circle cx="660" cy="1062" r="2.6" fill="#8a8a8a"/><circle cx="697" cy="1062" r="2.1" fill="#9a9a9a"/><circle cx="727" cy="1049" r="4.0" fill="#7a7a7a"/><circle cx="700" cy="1044" r="2.6" fill="#9a9a9a"/><circle cx="747" cy="1039" r="3.9" fill="#8a8a8a"/><circle cx="669" cy="1062" r="4.2" fill="#8a8a8a"/><circle cx="785" cy="1036" r="4.8" fill="#8a8a8a"/><circle cx="666" cy="1056" r="2.1" fill="#9a9a9a"/><circle cx="733" cy="1058" r="4.4" fill="#8a8a8a"/><circle cx="668" cy="1033" r="3.2" fill="#8a8a8a"/><circle cx="764" cy="1049" r="2.6" fill="#9a9a9a"/><circle cx="668" cy="1061" r="2.1" fill="#8a8a8a"/><circle cx="697" cy="1067" r="4.5" fill="#8a8a8a"/><circle cx="770" cy="1067" r="3.8" fill="#7a7a7a"/><circle cx="720" cy="1054" r="2.0" fill="#8a8a8a"/><circle cx="696" cy="1037" r="2.1" fill="#8a8a8a"/><circle cx="724" cy="1049" r="2.8" fill="#7a7a7a"/><circle cx="654" cy="1055" r="3.1" fill="#7a7a7a"/><circle cx="699" cy="1038" r="2.7" fill="#9a9a9a"/><circle cx="604" cy="1043" r="4.1" fill="#8a8a8a"/><circle cx="675" cy="1047" r="2.5" fill="#7a7a7a"/><circle cx="678" cy="1037" r="3.6" fill="#9a9a9a"/><circle cx="677" cy="1061" r="4.6" fill="#8a8a8a"/><circle cx="714" cy="1042" r="4.5" fill="#7a7a7a"/><circle cx="773" cy="1045" r="3.4" fill="#8a8a8a"/><circle cx="670" cy="1048" r="4.4" fill="#8a8a8a"/><circle cx="670" cy="1051" r="2.6" fill="#8a8a8a"/><circle cx="623" cy="1059" r="3.9" fill="#7a7a7a"/><circle cx="773" cy="1057" r="4.5" fill="#7a7a7a"/><circle cx="748" cy="1042" r="4.5" fill="#9a9a9a"/><circle cx="723" cy="1058" r="3.0" fill="#9a9a9a"/><circle cx="645" cy="1050" r="3.6" fill="#9a9a9a"/><circle cx="694" cy="1043" r="2.5" fill="#8a8a8a"/><circle cx="689" cy="1057" r="2.6" fill="#9a9a9a"/><circle cx="706" cy="1074" r="4.7" fill="#7a7a7a"/><circle cx="685" cy="1046" r="4.0" fill="#8a8a8a"/><circle cx="720" cy="1030" r="3.7" fill="#8a8a8a"/><circle cx="718" cy="1057" r="3.3" fill="#9a9a9a"/><circle cx="695" cy="1051" r="3.6" fill="#8a8a8a"/><circle cx="705" cy="1055" r="2.4" fill="#7a7a7a"/><circle cx="994" cy="962" r="18" fill="#8e8e8e"/></g></g>
<rect x="639.5" y="746.5" width="477.5" height="372.5" fill="none" stroke="#000" stroke-width="2.6"/>
<rect x="641.5" y="749.5" width="45.5" height="48.5" fill="#fff"/>
<text x="653" y="787" font-size="27" text-anchor="start" font-weight="bold" fill="#000" >d</text>
<rect x="641.5" y="1082" width="63.5" height="31" fill="#fff"/>
<text x="653" y="1099" font-size="14.5" text-anchor="start" font-weight="normal" fill="#000" >10 μm</text>
<rect x="654" y="1104.5" width="40" height="2.2" fill="#000"/>
<rect x="106" y="1145" width="427" height="334.79999999999995" fill="none" stroke="#000" stroke-width="2.4"/>
<path d="M106,1478.3 h-6 M106,1406.3 h-6 M106,1334.3 h-6 M106,1262.3 h-6 M106,1190.3 h-6 M106,1442.3 h-3.5 M106,1370.3 h-3.5 M106,1298.3 h-3.5 M106,1226.3 h-3.5 M106,1154.3 h-3.5 M117.0,1479.8 v6 M197.8,1479.8 v6 M278.6,1479.8 v6 M359.4,1479.8 v6 M440.2,1479.8 v6 M521.0,1479.8 v6 M157.4,1479.8 v3.5 M238.2,1479.8 v3.5 M319.0,1479.8 v3.5 M399.8,1479.8 v3.5 M480.6,1479.8 v3.5" stroke="#000" stroke-width="1.5"/>
<text x="95" y="1484.3" font-size="17.5" text-anchor="end" font-weight="normal" fill="#000" >0</text>
<text x="95" y="1412.3" font-size="17.5" text-anchor="end" font-weight="normal" fill="#000" >40</text>
<text x="95" y="1340.3" font-size="17.5" text-anchor="end" font-weight="normal" fill="#000" >80</text>
<text x="95" y="1268.3" font-size="17.5" text-anchor="end" font-weight="normal" fill="#000" >120</text>
<text x="95" y="1196.3" font-size="17.5" text-anchor="end" font-weight="normal" fill="#000" >160</text>
<text x="117" y="1506" font-size="17.5" text-anchor="middle" font-weight="normal" fill="#000" >0.0</text>
<text x="197.8" y="1506" font-size="17.5" text-anchor="middle" font-weight="normal" fill="#000" >0.2</text>
<text x="278.6" y="1506" font-size="17.5" text-anchor="middle" font-weight="normal" fill="#000" >0.4</text>
<text x="359.4" y="1506" font-size="17.5" text-anchor="middle" font-weight="normal" fill="#000" >0.6</text>
<text x="440.20000000000005" y="1506" font-size="17.5" text-anchor="middle" font-weight="normal" fill="#000" >0.8</text>
<text x="521.0" y="1506" font-size="17.5" text-anchor="middle" font-weight="normal" fill="#000" >1.0</text>
<text x="319" y="1536" font-size="20.6" text-anchor="middle" font-weight="normal" fill="#000" >Relative Pressure (P/Po)</text>
<text x="0" y="0" font-size="20.4" text-anchor="middle" transform="translate(59,1313) rotate(-90)">Adsorbed (cm<tspan font-size="13" dy="-7">3</tspan><tspan dy="7">/g STP)</tspan></text>
<text x="124" y="1176" font-size="27" text-anchor="start" font-weight="bold" fill="#000" >e</text>
<polygon points="193.7,1216.6 198.7,1221.6 193.7,1226.6 188.7,1221.6" fill="#f08a10"/>
<text x="213" y="1228" font-size="17.6" text-anchor="start" font-weight="normal" fill="#000" >Octahedral CC3 crystal</text>
<circle cx="193.7" cy="1262" r="4.5" fill="#2872d8"/>
<text x="213" y="1268" font-size="17.5" text-anchor="start" font-weight="normal" fill="#000" >CC3 Microtube</text>
<polygon points="118.2,1329.3 123.2,1334.3 118.2,1339.3 113.2,1334.3" fill="#f08a10"/><polygon points="118.3,1323.9 123.3,1328.9 118.3,1333.9 113.3,1328.9" fill="#f08a10"/><polygon points="118.5,1318.5 123.5,1323.5 118.5,1328.5 113.5,1323.5" fill="#f08a10"/><polygon points="118.6,1313.1 123.6,1318.1 118.6,1323.1 113.6,1318.1" fill="#f08a10"/><polygon points="118.7,1307.7 123.7,1312.7 118.7,1317.7 113.7,1312.7" fill="#f08a10"/><polygon points="118.9,1302.3 123.9,1307.3 118.9,1312.3 113.9,1307.3" fill="#f08a10"/><polygon points="119.0,1296.9 124.0,1301.9 119.0,1306.9 114.0,1301.9" fill="#f08a10"/><polygon points="119.1,1291.5 124.1,1296.5 119.1,1301.5 114.1,1296.5" fill="#f08a10"/><polygon points="119.3,1286.1 124.3,1291.1 119.3,1296.1 114.3,1291.1" fill="#f08a10"/><polygon points="119.4,1280.7 124.4,1285.7 119.4,1290.7 114.4,1285.7" fill="#f08a10"/><polygon points="119.5,1275.3 124.5,1280.3 119.5,1285.3 114.5,1280.3" fill="#f08a10"/><polygon points="119.6,1269.9 124.6,1274.9 119.6,1279.9 114.6,1274.9" fill="#f08a10"/><polygon points="119.8,1264.5 124.8,1269.5 119.8,1274.5 114.8,1269.5" fill="#f08a10"/><polygon points="119.9,1259.1 124.9,1264.1 119.9,1269.1 114.9,1264.1" fill="#f08a10"/><polygon points="120.0,1253.7 125.0,1258.7 120.0,1263.7 115.0,1258.7" fill="#f08a10"/><polygon points="120.2,1248.3 125.2,1253.3 120.2,1258.3 115.2,1253.3" fill="#f08a10"/><polygon points="120.3,1242.9 125.3,1247.9 120.3,1252.9 115.3,1247.9" fill="#f08a10"/><polygon points="120.4,1237.5 125.4,1242.5 120.4,1247.5 115.4,1242.5" fill="#f08a10"/><polygon points="120.5,1232.1 125.5,1237.1 120.5,1242.1 115.5,1237.1" fill="#f08a10"/><polygon points="121.8,1224.9 126.8,1229.9 121.8,1234.9 116.8,1229.9" fill="#f08a10"/><polygon points="125.1,1216.8 130.1,1221.8 125.1,1226.8 120.1,1221.8" fill="#f08a10"/><polygon points="129.1,1210.5 134.1,1215.5 129.1,1220.5 124.1,1215.5" fill="#f08a10"/><polygon points="131.1,1206.9 136.1,1211.9 131.1,1216.9 126.1,1211.9" fill="#f08a10"/><polygon points="137.2,1202.1 141.6,1206.5 137.2,1210.9 132.8,1206.5" fill="#fff" stroke="#f08a10" stroke-width="1.3"/><polygon points="147.3,1193.1 151.7,1197.5 147.3,1201.9 142.9,1197.5" fill="#fff" stroke="#f08a10" stroke-width="1.3"/><polygon points="157.4,1187.7 161.8,1192.1 157.4,1196.5 153.0,1192.1" fill="#fff" stroke="#f08a10" stroke-width="1.3"/><polygon points="167.5,1184.1 171.9,1188.5 167.5,1192.9 163.1,1188.5" fill="#fff" stroke="#f08a10" stroke-width="1.3"/><polygon points="177.6,1180.5 182.0,1184.9 177.6,1189.3 173.2,1184.9" fill="#fff" stroke="#f08a10" stroke-width="1.3"/><polygon points="187.7,1176.9 192.1,1181.3 187.7,1185.7 183.3,1181.3" fill="#fff" stroke="#f08a10" stroke-width="1.3"/><polygon points="197.8,1175.1 202.2,1179.5 197.8,1183.9 193.4,1179.5" fill="#fff" stroke="#f08a10" stroke-width="1.3"/><polygon points="207.9,1173.3 212.3,1177.7 207.9,1182.1 203.5,1177.7" fill="#fff" stroke="#f08a10" stroke-width="1.3"/><polygon points="218.0,1171.5 222.4,1175.9 218.0,1180.3 213.6,1175.9" fill="#fff" stroke="#f08a10" stroke-width="1.3"/><polygon points="228.1,1169.7 232.5,1174.1 228.1,1178.5 223.7,1174.1" fill="#fff" stroke="#f08a10" stroke-width="1.3"/><polygon points="238.2,1168.8 242.6,1173.2 238.2,1177.6 233.8,1173.2" fill="#fff" stroke="#f08a10" stroke-width="1.3"/><polygon points="258.4,1166.1 262.8,1170.5 258.4,1174.9 254.0,1170.5" fill="#fff" stroke="#f08a10" stroke-width="1.3"/><polygon points="278.6,1164.3 283.0,1168.7 278.6,1173.1 274.2,1168.7" fill="#fff" stroke="#f08a10" stroke-width="1.3"/><polygon points="298.8,1163.4 303.2,1167.8 298.8,1172.2 294.4,1167.8" fill="#fff" stroke="#f08a10" stroke-width="1.3"/><polygon points="319.0,1162.5 323.4,1166.9 319.0,1171.3 314.6,1166.9" fill="#fff" stroke="#f08a10" stroke-width="1.3"/><polygon points="339.2,1161.6 343.6,1166.0 339.2,1170.4 334.8,1166.0" fill="#fff" stroke="#f08a10" stroke-width="1.3"/><polygon points="359.4,1160.7 363.8,1165.1 359.4,1169.5 355.0,1165.1" fill="#fff" stroke="#f08a10" stroke-width="1.3"/><polygon points="379.6,1159.8 384.0,1164.2 379.6,1168.6 375.2,1164.2" fill="#fff" stroke="#f08a10" stroke-width="1.3"/><polygon points="399.8,1158.9 404.2,1163.3 399.8,1167.7 395.4,1163.3" fill="#fff" stroke="#f08a10" stroke-width="1.3"/><polygon points="420.0,1158.0 424.4,1162.4 420.0,1166.8 415.6,1162.4" fill="#fff" stroke="#f08a10" stroke-width="1.3"/><polygon points="432.1,1157.6 436.5,1162.0 432.1,1166.4 427.7,1162.0" fill="#fff" stroke="#f08a10" stroke-width="1.3"/><polygon points="452.3,1157.1 456.7,1161.5 452.3,1165.9 447.9,1161.5" fill="#fff" stroke="#f08a10" stroke-width="1.3"/><polygon points="472.5,1156.2 476.9,1160.6 472.5,1165.0 468.1,1160.6" fill="#fff" stroke="#f08a10" stroke-width="1.3"/><polygon points="500.8,1155.3 505.2,1159.7 500.8,1164.1 496.4,1159.7" fill="#fff" stroke="#f08a10" stroke-width="1.3"/><polygon points="508.9,1154.4 513.3,1158.8 508.9,1163.2 504.5,1158.8" fill="#fff" stroke="#f08a10" stroke-width="1.3"/><polygon points="517.0,1149.9 521.4,1154.3 517.0,1158.7 512.6,1154.3" fill="#fff" stroke="#f08a10" stroke-width="1.3"/><polygon points="440.2,1157.4 445.2,1162.4 440.2,1167.4 435.2,1162.4" fill="#f08a10"/><polygon points="460.4,1156.9 465.4,1161.9 460.4,1166.9 455.4,1161.9" fill="#f08a10"/><polygon points="480.6,1156.5 485.6,1161.5 480.6,1166.5 475.6,1161.5" fill="#f08a10"/><polygon points="484.6,1156.5 489.6,1161.5 484.6,1166.5 479.6,1161.5" fill="#f08a10"/><polygon points="488.7,1156.1 493.7,1161.1 488.7,1166.1 483.7,1161.1" fill="#f08a10"/><polygon points="492.7,1155.8 497.7,1160.8 492.7,1165.8 487.7,1160.8" fill="#f08a10"/><polygon points="512.9,1152.9 517.9,1157.9 512.9,1162.9 507.9,1157.9" fill="#f08a10"/><circle cx="117.8" cy="1469.3" r="4.2" fill="#2872d8"/><circle cx="117.8" cy="1460.3" r="4.2" fill="#2872d8"/><circle cx="117.8" cy="1451.3" r="4.2" fill="#2872d8"/><circle cx="117.8" cy="1442.3" r="4.2" fill="#2872d8"/><circle cx="117.8" cy="1433.3" r="4.2" fill="#2872d8"/><circle cx="117.8" cy="1424.3" r="4.2" fill="#2872d8"/><circle cx="117.8" cy="1415.3" r="4.2" fill="#2872d8"/><circle cx="117.8" cy="1406.3" r="4.2" fill="#2872d8"/><circle cx="117.8" cy="1397.3" r="4.2" fill="#2872d8"/><circle cx="117.8" cy="1388.3" r="4.2" fill="#2872d8"/><circle cx="117.8" cy="1379.3" r="4.2" fill="#2872d8"/><circle cx="117.8" cy="1370.3" r="4.2" fill="#2872d8"/><circle cx="117.8" cy="1361.3" r="4.2" fill="#2872d8"/><circle cx="117.8" cy="1352.3" r="4.2" fill="#2872d8"/><circle cx="117.8" cy="1343.3" r="4.2" fill="#2872d8"/><circle cx="118.6" cy="1334.3" r="4.2" fill="#2872d8"/><circle cx="119.8" cy="1331.6" r="4.2" fill="#2872d8"/><circle cx="121.0" cy="1329.8" r="4.2" fill="#2872d8"/><circle cx="123.1" cy="1328.0" r="4.2" fill="#2872d8"/><circle cx="125.1" cy="1327.1" r="4.2" fill="#2872d8"/><circle cx="129.1" cy="1325.3" r="4.2" fill="#2872d8"/><circle cx="133.2" cy="1323.5" r="4.2" fill="#2872d8"/><circle cx="147.3" cy="1321.7" r="4.2" fill="#2872d8"/><circle cx="157.4" cy="1319.9" r="4.2" fill="#2872d8"/><circle cx="167.5" cy="1318.6" r="4.2" fill="#2872d8"/><circle cx="177.6" cy="1317.6" r="4.2" fill="#2872d8"/><circle cx="187.7" cy="1316.7" r="4.2" fill="#2872d8"/><circle cx="197.8" cy="1315.8" r="4.2" fill="#2872d8"/><circle cx="207.9" cy="1314.9" r="4.2" fill="#2872d8"/><circle cx="218.0" cy="1314.1" r="4.2" fill="#2872d8"/><circle cx="228.1" cy="1313.4" r="4.2" fill="#2872d8"/><circle cx="238.2" cy="1314.0" r="4.2" fill="#2872d8"/><circle cx="258.4" cy="1313.1" r="4.2" fill="#2872d8"/><circle cx="278.6" cy="1311.8" r="4.2" fill="#2872d8"/><circle cx="298.8" cy="1310.9" r="4.2" fill="#2872d8"/><circle cx="319.0" cy="1310.0" r="4.2" fill="#2872d8"/><circle cx="339.2" cy="1309.1" r="4.2" fill="#2872d8"/><circle cx="359.4" cy="1307.3" r="4.2" fill="#2872d8"/><circle cx="379.6" cy="1305.5" r="4.2" fill="#2872d8"/><circle cx="399.8" cy="1303.7" r="4.2" fill="#2872d8"/><circle cx="420.0" cy="1301.9" r="4.2" fill="#2872d8"/><circle cx="440.2" cy="1298.3" r="4.2" fill="#2872d8"/><circle cx="460.4" cy="1294.7" r="4.2" fill="#2872d8"/><circle cx="480.6" cy="1287.5" r="4.2" fill="#2872d8"/><circle cx="484.6" cy="1285.7" r="4.2" fill="#2872d8"/><circle cx="488.7" cy="1283.9" r="4.2" fill="#2872d8"/><circle cx="492.7" cy="1282.1" r="4.2" fill="#2872d8"/><circle cx="496.8" cy="1280.3" r="4.2" fill="#2872d8"/><circle cx="500.8" cy="1278.5" r="4.2" fill="#2872d8"/><circle cx="504.8" cy="1276.7" r="4.2" fill="#2872d8"/><circle cx="508.9" cy="1274.9" r="4.2" fill="#2872d8"/><circle cx="512.9" cy="1271.3" r="4.2" fill="#2872d8"/><circle cx="514.9" cy="1267.7" r="4.2" fill="#2872d8"/><circle cx="137.2" cy="1320.8" r="3.6" fill="#fff" stroke="#2872d8" stroke-width="1.3"/><circle cx="147.3" cy="1319.0" r="3.6" fill="#fff" stroke="#2872d8" stroke-width="1.3"/><circle cx="157.4" cy="1317.7" r="3.6" fill="#fff" stroke="#2872d8" stroke-width="1.3"/><circle cx="167.5" cy="1316.7" r="3.6" fill="#fff" stroke="#2872d8" stroke-width="1.3"/><circle cx="177.6" cy="1315.8" r="3.6" fill="#fff" stroke="#2872d8" stroke-width="1.3"/><circle cx="187.7" cy="1314.9" r="3.6" fill="#fff" stroke="#2872d8" stroke-width="1.3"/><circle cx="197.8" cy="1314.0" r="3.6" fill="#fff" stroke="#2872d8" stroke-width="1.3"/><circle cx="207.9" cy="1313.1" r="3.6" fill="#fff" stroke="#2872d8" stroke-width="1.3"/><circle cx="218.0" cy="1312.3" r="3.6" fill="#fff" stroke="#2872d8" stroke-width="1.3"/><circle cx="228.1" cy="1311.6" r="3.6" fill="#fff" stroke="#2872d8" stroke-width="1.3"/><circle cx="238.2" cy="1311.3" r="3.6" fill="#fff" stroke="#2872d8" stroke-width="1.3"/><circle cx="258.4" cy="1310.0" r="3.6" fill="#fff" stroke="#2872d8" stroke-width="1.3"/><circle cx="278.6" cy="1308.7" r="3.6" fill="#fff" stroke="#2872d8" stroke-width="1.3"/><circle cx="298.8" cy="1307.3" r="3.6" fill="#fff" stroke="#2872d8" stroke-width="1.3"/><circle cx="319.0" cy="1305.5" r="3.6" fill="#fff" stroke="#2872d8" stroke-width="1.3"/><circle cx="339.2" cy="1303.7" r="3.6" fill="#fff" stroke="#2872d8" stroke-width="1.3"/><circle cx="359.4" cy="1302.8" r="3.6" fill="#fff" stroke="#2872d8" stroke-width="1.3"/><circle cx="379.6" cy="1301.0" r="3.6" fill="#fff" stroke="#2872d8" stroke-width="1.3"/><circle cx="399.8" cy="1298.3" r="3.6" fill="#fff" stroke="#2872d8" stroke-width="1.3"/><circle cx="420.0" cy="1295.6" r="3.6" fill="#fff" stroke="#2872d8" stroke-width="1.3"/><circle cx="440.2" cy="1291.1" r="3.6" fill="#fff" stroke="#2872d8" stroke-width="1.3"/><circle cx="460.4" cy="1286.2" r="3.6" fill="#fff" stroke="#2872d8" stroke-width="1.3"/><circle cx="480.6" cy="1280.3" r="3.6" fill="#fff" stroke="#2872d8" stroke-width="1.3"/><circle cx="488.7" cy="1276.7" r="3.6" fill="#fff" stroke="#2872d8" stroke-width="1.3"/><circle cx="500.8" cy="1273.1" r="3.6" fill="#fff" stroke="#2872d8" stroke-width="1.3"/><circle cx="508.9" cy="1269.5" r="3.6" fill="#fff" stroke="#2872d8" stroke-width="1.3"/><circle cx="517.0" cy="1261.4" r="3.6" fill="#fff" stroke="#2872d8" stroke-width="1.3"/>
<rect x="644.4" y="1144.3" width="474.9" height="337.2" fill="none" stroke="#000" stroke-width="2"/>
<path d="M644.4,1481.5 h-5 M644.4,1425.3 h-5 M644.4,1369.1 h-5 M644.4,1312.9 h-5 M644.4,1256.7 h-5 M644.4,1200.5 h-5 M644.4,1144.3 h-5 M644.4,1453.4 h-3 M644.4,1397.2 h-3 M644.4,1341.0 h-3 M644.4,1284.8 h-3 M644.4,1228.6 h-3 M644.4,1172.4 h-3 M644.4,1481.5 v5 M730.8,1481.5 v5 M817.2,1481.5 v5 M903.7,1481.5 v5 M990.1,1481.5 v5 M1076.5,1481.5 v5 M687.6,1481.5 v3 M774.0,1481.5 v3 M860.5,1481.5 v3 M946.9,1481.5 v3 M1033.3,1481.5 v3" stroke="#000" stroke-width="1.3"/>
<text x="634" y="1486.5" font-size="14.5" text-anchor="end" font-weight="normal" fill="#000" >0</text>
<text x="634" y="1430.3" font-size="14.5" text-anchor="end" font-weight="normal" fill="#000" >2</text>
<text x="634" y="1374.1" font-size="14.5" text-anchor="end" font-weight="normal" fill="#000" >4</text>
<text x="634" y="1317.9" font-size="14.5" text-anchor="end" font-weight="normal" fill="#000" >6</text>
<text x="634" y="1261.7" font-size="14.5" text-anchor="end" font-weight="normal" fill="#000" >8</text>
<text x="634" y="1205.5" font-size="14.5" text-anchor="end" font-weight="normal" fill="#000" >10</text>
<text x="634" y="1149.3" font-size="14.5" text-anchor="end" font-weight="normal" fill="#000" >12</text>
<text x="644.4" y="1504" font-size="14.5" text-anchor="middle" font-weight="normal" fill="#000" >0</text>
<text x="730.8199999999999" y="1504" font-size="14.5" text-anchor="middle" font-weight="normal" fill="#000" >2</text>
<text x="817.24" y="1504" font-size="14.5" text-anchor="middle" font-weight="normal" fill="#000" >4</text>
<text x="903.66" y="1504" font-size="14.5" text-anchor="middle" font-weight="normal" fill="#000" >6</text>
<text x="990.0799999999999" y="1504" font-size="14.5" text-anchor="middle" font-weight="normal" fill="#000" >8</text>
<text x="1076.5" y="1504" font-size="14.5" text-anchor="middle" font-weight="normal" fill="#000" >10</text>
<text x="882" y="1531" font-size="17.5" text-anchor="middle">Concentration (mg mL<tspan font-size="11" dy="-7">-1</tspan><tspan dy="7">)</tspan></text>
<text x="0" y="0" font-size="17" text-anchor="middle" transform="translate(611,1313) rotate(-90)">Tube opening diamater (μm)</text>
<text x="666" y="1179" font-size="27" text-anchor="start" font-weight="bold" fill="#000" >f</text>
<rect x="653" y="1478.3" width="26.0" height="3.2" fill="#7b00f8"/>
<rect x="685.6" y="1438.7" width="26.1" height="42.8" fill="#7b00f8"/>
<rect x="739.6" y="1402.8" width="26.0" height="78.7" fill="#7b00f8"/>
<rect x="847" y="1292.4" width="26.5" height="189.1" fill="#7b00f8"/>
<rect x="1062.9" y="1256.3" width="26.0" height="225.2" fill="#7b00f8"/>
<path d="M666.3,1476.5 V1480 M662.8,1476.5 h7 M662.8,1480 h7 M698.3,1428.2 V1451 M694.8,1428.2 h7 M694.8,1451 h7 M752.9,1369.5 V1437 M749.4,1369.5 h7 M749.4,1437 h7 M860.5,1264.8 V1321.3 M857.0,1264.8 h7 M857.0,1321.3 h7 M1076.5,1172.2 V1341 M1073.0,1172.2 h7 M1073.0,1341 h7" stroke="#000" stroke-width="1.4" fill="none"/>
<text x="647.6" y="1468.5" font-size="14.1" text-anchor="start" font-weight="normal" fill="#000" >0.95 ± 0.5 μm</text>
<text x="659.3" y="1416.5" font-size="14.1" text-anchor="start" font-weight="normal" fill="#000" >1.5 ± 0.4 μm</text>
<text x="711" y="1361" font-size="14.1" text-anchor="start" font-weight="normal" fill="#000" >2.8 ± 1.2 μm</text>
<text x="817" y="1255" font-size="14.1" text-anchor="start" font-weight="normal" fill="#000" >6.7 ± 1.0 μm</text>
<text x="1034.3" y="1163" font-size="14.1" text-anchor="start" font-weight="normal" fill="#000" >8.0 ± 3.0 μm</text>
<rect x="1227.4" y="700.7" width="425.9" height="343.0" fill="none" stroke="#000" stroke-width="2"/>
<path d="M1276.8,700.7 v-5 M1375.6,700.7 v-5 M1474.4,700.7 v-5 M1573.2,700.7 v-5 M1326.2,700.7 v-3 M1425.0,700.7 v-3 M1523.8,700.7 v-3 M1622.6,700.7 v-3" stroke="#000" stroke-width="1.4"/>
<text x="1276.8000000000002" y="685" font-size="14.5" text-anchor="middle" font-weight="normal" fill="#000" >10</text>
<text x="1375.6000000000001" y="685" font-size="14.5" text-anchor="middle" font-weight="normal" fill="#000" >20</text>
<text x="1474.4" y="685" font-size="14.5" text-anchor="middle" font-weight="normal" fill="#000" >30</text>
<text x="1573.2" y="685" font-size="14.5" text-anchor="middle" font-weight="normal" fill="#000" >40</text>
<text x="1432" y="667" font-size="22.8" text-anchor="middle" font-weight="normal" fill="#000" >2theta (degree)</text>
<text x="1620" y="737" font-size="27" text-anchor="start" font-weight="bold" fill="#000" >g</text>
<text x="1229" y="731" font-size="17.4" text-anchor="start" font-weight="normal" fill="#000" >(1,1,1)</text>
<text x="1303" y="731" font-size="17.4" text-anchor="start" font-weight="normal" fill="#000" >(2,2,2)</text>
<text x="1336" y="782" font-size="17.4" text-anchor="start" font-weight="normal" fill="#000" >(3,3,3)</text>
<text x="1649" y="802" font-size="17.8" text-anchor="end" font-weight="normal" fill="#000" >CC3 microtubes</text>
<text x="1650" y="913" font-size="17.8" text-anchor="end" font-weight="normal" fill="#000" >CC3 octahedral crystals</text>
<text x="1648" y="1023" font-size="17.5" text-anchor="end" font-weight="normal" fill="#000" >simulated</text>
<polyline points="1227.4,805.9 1227.7,805.7 1228.1,805.0 1228.4,807.3 1228.7,804.6 1229.1,806.3 1229.4,807.6 1229.7,805.0 1230.1,806.5 1230.4,806.8 1230.7,805.0 1231.1,806.1 1231.4,807.2 1231.7,806.4 1232.1,807.3 1232.4,805.6 1232.7,805.9 1233.1,805.5 1233.4,806.8 1233.7,808.2 1234.1,807.1 1234.4,807.8 1234.7,806.6 1235.1,807.8 1235.4,805.7 1235.7,806.4 1236.1,807.6 1236.4,807.6 1236.7,806.0 1237.0,803.1 1237.4,798.9 1237.7,789.5 1238.0,775.5 1238.4,760.3 1238.7,744.8 1239.0,742.8 1239.4,750.1 1239.7,762.7 1240.0,780.4 1240.4,793.8 1240.7,800.2 1241.0,805.4 1241.4,808.4 1241.7,806.4 1242.0,808.1 1242.4,806.6 1242.7,808.2 1243.0,809.2 1243.4,807.0 1243.7,806.5 1244.0,806.7 1244.4,808.2 1244.7,806.6 1245.0,806.9 1245.4,808.2 1245.7,809.6 1246.0,808.1 1246.4,808.0 1246.7,808.8 1247.0,807.1 1247.4,808.7 1247.7,807.5 1248.0,808.9 1248.4,810.1 1248.7,807.2 1249.0,808.8 1249.4,809.1 1249.7,807.6 1250.0,808.0 1250.4,810.4 1250.7,810.5 1251.0,807.7 1251.4,809.6 1251.7,810.4 1252.0,808.2 1252.4,809.4 1252.7,807.7 1253.0,808.7 1253.4,809.8 1253.7,809.5 1254.0,810.2 1254.4,808.0 1254.7,808.9 1255.0,810.6 1255.3,809.7 1255.7,809.3 1256.0,809.2 1256.3,811.1 1256.7,809.8 1257.0,808.1 1257.3,810.6 1257.7,809.2 1258.0,809.5 1258.3,808.9 1258.7,809.7 1259.0,809.3 1259.3,808.6 1259.7,810.4 1260.0,808.7 1260.3,810.9 1260.7,808.5 1261.0,810.9 1261.3,811.0 1261.7,810.0 1262.0,810.7 1262.3,809.3 1262.7,810.8 1263.0,809.8 1263.3,809.2 1263.7,811.6 1264.0,809.8 1264.3,809.7 1264.7,811.3 1265.0,809.7 1265.3,810.7 1265.7,809.1 1266.0,811.3 1266.3,809.4 1266.7,808.8 1267.0,811.7 1267.3,809.2 1267.7,811.6 1268.0,811.8 1268.3,810.6 1268.7,808.7 1269.0,808.9 1269.3,809.3 1269.7,809.9 1270.0,810.6 1270.3,811.8 1270.7,809.8 1271.0,809.2 1271.3,810.5 1271.7,809.2 1272.0,809.0 1272.3,810.5 1272.7,811.0 1273.0,809.0 1273.3,810.2 1273.7,811.0 1274.0,811.2 1274.3,810.0 1274.6,811.7 1275.0,809.4 1275.3,811.1 1275.6,811.3 1276.0,811.7 1276.3,810.4 1276.6,809.2 1277.0,809.0 1277.3,810.6 1277.6,809.5 1278.0,810.9 1278.3,809.2 1278.6,811.4 1279.0,809.7 1279.3,809.0 1279.6,809.5 1280.0,810.4 1280.3,810.8 1280.6,810.2 1281.0,809.6 1281.3,810.6 1281.6,812.0 1282.0,810.7 1282.3,812.0 1282.6,809.1 1283.0,812.2 1283.3,811.9 1283.6,810.8 1284.0,810.8 1284.3,810.8 1284.6,812.0 1285.0,809.3 1285.3,811.2 1285.6,810.9 1286.0,810.1 1286.3,811.5 1286.6,811.5 1287.0,809.5 1287.3,811.4 1287.6,810.6 1288.0,810.8 1288.3,811.2 1288.6,809.4 1289.0,811.2 1289.3,810.4 1289.6,812.1 1290.0,810.0 1290.3,811.9 1290.6,811.6 1291.0,811.3 1291.3,812.1 1291.6,809.4 1292.0,811.2 1292.3,811.3 1292.6,811.5 1292.9,810.6 1293.3,809.6 1293.6,810.0 1293.9,811.3 1294.3,810.0 1294.6,809.6 1294.9,810.5 1295.3,810.9 1295.6,811.1 1295.9,809.5 1296.3,811.9 1296.6,810.5 1296.9,811.9 1297.3,809.3 1297.6,811.7 1297.9,808.6 1298.3,804.7 1298.6,794.0 1298.9,775.6 1299.3,749.9 1299.6,729.0 1299.9,717.6 1300.3,724.4 1300.6,741.2 1300.9,765.1 1301.3,785.3 1301.6,798.8 1301.9,808.4 1302.3,811.4 1302.6,810.5 1302.9,811.9 1303.3,811.1 1303.6,811.3 1303.9,810.8 1304.3,811.7 1304.6,810.4 1304.9,810.5 1305.3,811.4 1305.6,810.3 1305.9,811.1 1306.3,812.7 1306.6,809.8 1306.9,810.1 1307.3,812.3 1307.6,809.9 1307.9,810.6 1308.3,812.5 1308.6,811.7 1308.9,810.5 1309.3,810.0 1309.6,810.7 1309.9,810.8 1310.3,812.4 1310.6,813.0 1310.9,812.4 1311.2,812.7 1311.6,812.9 1311.9,812.7 1312.2,812.8 1312.6,813.0 1312.9,810.2 1313.2,810.9 1313.6,810.7 1313.9,811.9 1314.2,811.5 1314.6,811.1 1314.9,812.6 1315.2,811.3 1315.6,810.7 1315.9,810.9 1316.2,811.5 1316.6,812.0 1316.9,811.8 1317.2,811.4 1317.6,810.6 1317.9,811.3 1318.2,811.1 1318.6,810.6 1318.9,811.8 1319.2,810.7 1319.6,812.4 1319.9,812.2 1320.2,810.6 1320.6,812.1 1320.9,811.2 1321.2,811.6 1321.6,812.1 1321.9,812.6 1322.2,813.0 1322.6,812.5 1322.9,810.9 1323.2,811.9 1323.6,811.3 1323.9,810.3 1324.2,812.0 1324.6,811.8 1324.9,813.0 1325.2,811.3 1325.6,812.9 1325.9,811.9 1326.2,810.6 1326.6,812.6 1326.9,811.2 1327.2,812.0 1327.6,810.6 1327.9,810.4 1328.2,813.3 1328.6,810.5 1328.9,810.8 1329.2,810.9 1329.5,810.7 1329.9,813.0 1330.2,813.6 1330.5,812.5 1330.9,811.6 1331.2,813.2 1331.5,812.0 1331.9,810.8 1332.2,812.5 1332.5,811.4 1332.9,811.1 1333.2,811.3 1333.5,811.5 1333.9,810.8 1334.2,812.2 1334.5,813.0 1334.9,812.0 1335.2,810.2 1335.5,812.4 1335.9,810.2 1336.2,811.7 1336.5,812.9 1336.9,812.3 1337.2,813.0 1337.5,812.5 1337.9,811.0 1338.2,810.5 1338.5,811.5 1338.9,812.2 1339.2,810.8 1339.5,811.1 1339.9,812.4 1340.2,811.1 1340.5,811.9 1340.9,811.7 1341.2,812.9 1341.5,810.0 1341.9,810.5 1342.2,812.4 1342.5,812.0 1342.9,810.2 1343.2,810.3 1343.5,810.5 1343.9,811.6 1344.2,812.7 1344.5,810.5 1344.9,810.4 1345.2,811.9 1345.5,810.9 1345.9,812.1 1346.2,812.4 1346.5,811.9 1346.9,810.8 1347.2,809.5 1347.5,807.6 1347.8,809.4 1348.2,807.6 1348.5,807.4 1348.8,807.7 1349.2,808.8 1349.5,807.7 1349.8,809.2 1350.2,809.9 1350.5,807.6 1350.8,809.0 1351.2,811.2 1351.5,811.2 1351.8,812.1 1352.2,809.8 1352.5,811.0 1352.8,812.4 1353.2,811.1 1353.5,811.6 1353.8,812.6 1354.2,810.0 1354.5,809.6 1354.8,812.1 1355.2,811.3 1355.5,810.0 1355.8,812.0 1356.2,810.3 1356.5,809.8 1356.8,810.3 1357.2,809.4 1357.5,810.6 1357.8,811.7 1358.2,810.6 1358.5,811.8 1358.8,807.9 1359.2,806.2 1359.5,802.4 1359.8,798.8 1360.2,792.8 1360.5,791.5 1360.8,791.7 1361.2,795.6 1361.5,801.5 1361.8,805.9 1362.2,809.4 1362.5,808.5 1362.8,810.0 1363.2,812.1 1363.5,810.3 1363.8,810.0 1364.2,810.6 1364.5,809.6 1364.8,811.7 1365.2,811.0 1365.5,809.3 1365.8,812.1 1366.2,810.6 1366.5,809.8 1366.8,810.9 1367.1,812.0 1367.5,810.0 1367.8,808.9 1368.1,809.5 1368.5,809.0 1368.8,810.5 1369.1,809.8 1369.5,811.5 1369.8,809.5 1370.1,808.8 1370.5,810.3 1370.8,809.2 1371.1,809.7 1371.5,809.5 1371.8,809.3 1372.1,810.8 1372.5,811.7 1372.8,809.9 1373.1,810.7 1373.5,809.7 1373.8,811.6 1374.1,810.4 1374.5,808.7 1374.8,811.0 1375.1,809.3 1375.5,808.7 1375.8,808.6 1376.1,811.2 1376.5,810.8 1376.8,809.7 1377.1,810.3 1377.5,810.8 1377.8,808.7 1378.1,810.7 1378.5,810.7 1378.8,811.5 1379.1,808.6 1379.5,810.3 1379.8,810.0 1380.1,811.1 1380.5,809.6 1380.8,810.5 1381.1,811.2 1381.5,809.5 1381.8,810.0 1382.1,811.2 1382.5,808.4 1382.8,811.4 1383.1,809.3 1383.5,809.8 1383.8,809.2 1384.1,810.8 1384.5,810.0 1384.8,810.7 1385.1,808.6 1385.4,811.1 1385.8,810.9 1386.1,810.4 1386.4,809.0 1386.8,809.1 1387.1,809.7 1387.4,808.4 1387.8,811.3 1388.1,809.5 1388.4,811.2 1388.8,808.8 1389.1,810.2 1389.4,810.7 1389.8,810.2 1390.1,809.5 1390.4,808.2 1390.8,809.5 1391.1,809.4 1391.4,811.1 1391.8,811.2 1392.1,811.2 1392.4,811.2 1392.8,808.6 1393.1,808.2 1393.4,809.0 1393.8,808.1 1394.1,808.4 1394.4,809.9 1394.8,808.7 1395.1,810.0 1395.4,809.2 1395.8,808.9 1396.1,811.1 1396.4,808.6 1396.8,810.8 1397.1,809.7 1397.4,810.1 1397.8,808.4 1398.1,810.3 1398.4,810.8 1398.8,808.6 1399.1,809.4 1399.4,810.0 1399.8,809.4 1400.1,810.3 1400.4,810.0 1400.8,808.9 1401.1,810.1 1401.4,810.3 1401.8,809.3 1402.1,809.7 1402.4,809.9 1402.8,809.3 1403.1,808.1 1403.4,809.0 1403.7,810.2 1404.1,809.9 1404.4,807.7 1404.7,808.7 1405.1,808.8 1405.4,808.2 1405.7,806.5 1406.1,807.5 1406.4,806.9 1406.7,805.7 1407.1,806.1 1407.4,804.2 1407.7,801.7 1408.1,802.0 1408.4,803.0 1408.7,800.9 1409.1,803.9 1409.4,803.4 1409.7,804.2 1410.1,803.0 1410.4,803.3 1410.7,806.8 1411.1,806.4 1411.4,806.9 1411.7,807.7 1412.1,808.9 1412.4,808.0 1412.7,809.5 1413.1,807.8 1413.4,810.5 1413.7,809.7 1414.1,808.5 1414.4,809.0 1414.7,810.3 1415.1,808.6 1415.4,809.7 1415.7,810.4 1416.1,810.6 1416.4,808.3 1416.7,810.0 1417.1,809.4 1417.4,810.1 1417.7,807.7 1418.1,808.8 1418.4,808.9 1418.7,810.0 1419.1,808.9 1419.4,807.5 1419.7,808.1 1420.1,810.1 1420.4,810.3 1420.7,809.3 1421.1,807.8 1421.4,810.0 1421.7,810.3 1422.0,808.5 1422.4,809.2 1422.7,808.6 1423.0,807.9 1423.4,810.1 1423.7,808.3 1424.0,808.1 1424.4,810.7 1424.7,808.2 1425.0,810.3 1425.4,810.5 1425.7,808.8 1426.0,809.2 1426.4,808.8 1426.7,810.3 1427.0,811.2 1427.4,810.5 1427.7,809.7 1428.0,809.9 1428.4,809.5 1428.7,810.6 1429.0,809.2 1429.4,809.1 1429.7,810.6 1430.0,809.2 1430.4,811.6 1430.7,810.8 1431.0,809.1 1431.4,808.6 1431.7,810.5 1432.0,809.0 1432.4,810.2 1432.7,810.6 1433.0,811.3 1433.4,810.0 1433.7,810.5 1434.0,811.4 1434.4,809.3 1434.7,809.9 1435.0,811.5 1435.4,810.1 1435.7,811.9 1436.0,809.3 1436.4,809.3 1436.7,810.2 1437.0,810.6 1437.4,810.3 1437.7,809.9 1438.0,810.6 1438.4,812.1 1438.7,812.3 1439.0,811.3 1439.4,810.2 1439.7,811.2 1440.0,809.9 1440.3,809.6 1440.7,812.0 1441.0,810.4 1441.3,810.0 1441.7,812.2 1442.0,810.0 1442.3,810.4 1442.7,810.2 1443.0,812.6 1443.3,811.9 1443.7,810.3 1444.0,810.0 1444.3,812.7 1444.7,810.3 1445.0,812.2 1445.3,812.1 1445.7,811.8 1446.0,811.5 1446.3,811.4 1446.7,811.0 1447.0,812.2 1447.3,810.6 1447.7,811.7 1448.0,811.0 1448.3,811.4 1448.7,813.1 1449.0,812.1 1449.3,812.4 1449.7,812.4 1450.0,810.4 1450.3,812.9 1450.7,813.3 1451.0,812.9 1451.3,812.2 1451.7,813.3 1452.0,813.6 1452.3,811.5 1452.7,811.2 1453.0,811.8 1453.3,810.8 1453.7,811.5 1454.0,811.1 1454.3,810.9 1454.7,812.1 1455.0,810.9 1455.3,812.5 1455.7,813.7 1456.0,813.3 1456.3,811.2 1456.7,813.4 1457.0,811.7 1457.3,813.7 1457.7,813.2 1458.0,812.9 1458.3,812.6 1458.7,814.4 1459.0,812.0 1459.3,814.2 1459.6,812.0 1460.0,811.7 1460.3,812.1 1460.6,811.6 1461.0,814.1 1461.3,812.1 1461.6,813.3 1462.0,812.4 1462.3,812.7 1462.6,814.1 1463.0,813.4 1463.3,812.5 1463.6,814.0 1464.0,812.1 1464.3,811.8 1464.6,813.9 1465.0,814.5 1465.3,814.2 1465.6,814.0 1466.0,814.8 1466.3,814.8 1466.6,813.7 1467.0,812.4 1467.3,813.7 1467.6,813.3 1468.0,814.2 1468.3,813.1 1468.6,812.2 1469.0,812.6 1469.3,812.5 1469.6,814.4 1470.0,814.3 1470.3,813.8 1470.6,813.1 1471.0,814.5 1471.3,813.6 1471.6,813.8 1472.0,812.8 1472.3,815.4 1472.6,813.7 1473.0,813.8 1473.3,813.0 1473.6,813.7 1474.0,813.8 1474.3,813.7 1474.6,814.8 1475.0,813.5 1475.3,814.4 1475.6,814.6 1476.0,812.9 1476.3,815.1 1476.6,812.7 1477.0,813.4 1477.3,815.2 1477.6,813.0 1477.9,813.5 1478.3,813.9 1478.6,815.7 1478.9,815.8 1479.3,813.4 1479.6,814.8 1479.9,815.4 1480.3,814.4 1480.6,813.8 1480.9,813.3 1481.3,813.0 1481.6,813.0 1481.9,813.0 1482.3,815.2 1482.6,814.8 1482.9,813.1 1483.3,815.9 1483.6,816.1 1483.9,814.3 1484.3,814.2 1484.6,815.8 1484.9,815.2 1485.3,815.5 1485.6,813.7 1485.9,815.5 1486.3,814.6 1486.6,813.4 1486.9,813.3 1487.3,814.1 1487.6,814.0 1487.9,814.1 1488.3,816.2 1488.6,814.6 1488.9,814.0 1489.3,813.7 1489.6,813.6 1489.9,814.7 1490.3,814.8 1490.6,813.7 1490.9,815.1 1491.3,814.6 1491.6,813.6 1491.9,815.0 1492.3,814.1 1492.6,814.1 1492.9,816.0 1493.3,815.0 1493.6,814.8 1493.9,815.4 1494.3,816.0 1494.6,815.7 1494.9,816.8 1495.3,816.0 1495.6,814.9 1495.9,816.8 1496.2,813.9 1496.6,814.4 1496.9,814.3 1497.2,815.1 1497.6,815.0 1497.9,815.2 1498.2,816.0 1498.6,815.1 1498.9,815.5 1499.2,816.2 1499.6,817.0 1499.9,817.1 1500.2,815.3 1500.6,815.3 1500.9,817.3 1501.2,816.8 1501.6,817.0 1501.9,814.6 1502.2,815.1 1502.6,815.6 1502.9,815.2 1503.2,815.8 1503.6,817.3 1503.9,815.6 1504.2,816.0 1504.6,815.4 1504.9,816.3 1505.2,816.2 1505.6,815.0 1505.9,814.7 1506.2,816.9 1506.6,817.2 1506.9,815.6 1507.2,815.2 1507.6,814.9 1507.9,816.6 1508.2,816.5 1508.6,817.6 1508.9,816.8 1509.2,816.5 1509.6,816.6 1509.9,817.6 1510.2,817.7 1510.6,815.3 1510.9,815.2 1511.2,815.2 1511.6,814.9 1511.9,817.6 1512.2,818.0 1512.6,816.5 1512.9,817.4 1513.2,817.1 1513.6,817.1 1513.9,816.2 1514.2,818.1 1514.5,816.0 1514.9,815.4 1515.2,815.3 1515.5,817.6 1515.9,817.6 1516.2,817.9 1516.5,817.7 1516.9,815.9 1517.2,816.4 1517.5,816.1 1517.9,818.0 1518.2,815.3 1518.5,816.3 1518.9,817.4 1519.2,817.4 1519.5,815.4 1519.9,815.8 1520.2,816.0 1520.5,816.1 1520.9,817.1 1521.2,815.6 1521.5,818.1 1521.9,817.0 1522.2,817.6 1522.5,816.7 1522.9,818.3 1523.2,815.9 1523.5,818.3 1523.9,816.4 1524.2,817.3 1524.5,817.4 1524.9,817.8 1525.2,817.4 1525.5,818.0 1525.9,815.9 1526.2,817.4 1526.5,817.3 1526.9,817.7 1527.2,816.1 1527.5,818.0 1527.9,816.1 1528.2,816.0 1528.5,816.0 1528.9,819.0 1529.2,816.4 1529.5,818.1 1529.9,816.1 1530.2,817.8 1530.5,816.6 1530.9,817.9 1531.2,818.3 1531.5,818.1 1531.9,817.7 1532.2,818.3 1532.5,816.0 1532.9,816.2 1533.2,816.8 1533.5,817.5 1533.8,818.5 1534.2,816.2 1534.5,816.8 1534.8,817.8 1535.2,817.2 1535.5,816.4 1535.8,817.1 1536.2,816.3 1536.5,816.3 1536.8,818.9 1537.2,817.3 1537.5,818.6 1537.8,817.1 1538.2,818.7 1538.5,819.2 1538.8,816.4 1539.2,818.3 1539.5,819.3 1539.8,818.9 1540.2,816.8 1540.5,818.8 1540.8,818.9 1541.2,817.0 1541.5,818.6 1541.8,818.5 1542.2,817.1 1542.5,819.1 1542.8,819.3 1543.2,816.8 1543.5,818.1 1543.8,818.5 1544.2,816.6 1544.5,818.3 1544.8,819.6 1545.2,817.7 1545.5,818.3 1545.8,819.7 1546.2,819.5 1546.5,819.8 1546.8,817.0 1547.2,820.0 1547.5,817.8 1547.8,817.9 1548.2,817.4 1548.5,819.4 1548.8,818.7 1549.2,818.3 1549.5,818.5 1549.8,818.5 1550.2,818.8 1550.5,817.4 1550.8,819.2 1551.2,817.8 1551.5,817.0 1551.8,820.1 1552.1,817.3 1552.5,819.6 1552.8,819.5 1553.1,818.4 1553.5,819.0 1553.8,817.9 1554.1,817.8 1554.5,820.0 1554.8,819.5 1555.1,819.6 1555.5,818.6 1555.8,817.3 1556.1,819.7 1556.5,820.3 1556.8,818.3 1557.1,819.3 1557.5,817.7 1557.8,820.4 1558.1,819.6 1558.5,817.5 1558.8,819.6 1559.1,819.5 1559.5,818.8 1559.8,819.3 1560.1,820.4 1560.5,819.6 1560.8,819.0 1561.1,820.6 1561.5,819.5 1561.8,820.0 1562.1,819.3 1562.5,819.9 1562.8,820.0 1563.1,819.2 1563.5,819.1 1563.8,818.2 1564.1,819.7 1564.5,819.9 1564.8,819.0 1565.1,817.9 1565.5,819.9 1565.8,819.8 1566.1,819.8 1566.5,818.2 1566.8,820.6 1567.1,820.1 1567.5,820.3 1567.8,818.3 1568.1,818.7 1568.5,819.5 1568.8,817.9 1569.1,821.0 1569.5,818.4 1569.8,818.4 1570.1,820.5 1570.4,818.7 1570.8,819.8 1571.1,820.0 1571.4,818.6 1571.8,818.1 1572.1,820.3 1572.4,820.8 1572.8,820.6 1573.1,818.4 1573.4,819.1 1573.8,819.5 1574.1,818.2 1574.4,821.0 1574.8,820.8 1575.1,821.3 1575.4,821.1 1575.8,820.9 1576.1,819.2 1576.4,820.3 1576.8,821.0 1577.1,818.3 1577.4,818.5 1577.8,821.4 1578.1,818.6 1578.4,821.2 1578.8,819.6 1579.1,819.1 1579.4,819.6 1579.8,821.2 1580.1,820.5 1580.4,818.8 1580.8,821.1 1581.1,819.5 1581.4,821.1 1581.8,820.1 1582.1,821.2 1582.4,820.2 1582.8,819.6 1583.1,821.7 1583.4,821.7 1583.8,820.3 1584.1,820.2 1584.4,820.5 1584.8,820.7 1585.1,819.4 1585.4,821.6 1585.8,819.9 1586.1,821.8 1586.4,820.5 1586.8,821.6 1587.1,821.6 1587.4,819.5 1587.8,818.8 1588.1,820.5 1588.4,820.5 1588.7,819.8 1589.1,819.8 1589.4,819.6 1589.7,819.0 1590.1,820.2 1590.4,820.4 1590.7,820.2 1591.1,821.5 1591.4,820.2 1591.7,821.2 1592.1,821.2 1592.4,820.4 1592.7,820.3 1593.1,819.6 1593.4,821.1 1593.7,821.6 1594.1,822.0 1594.4,821.5 1594.7,822.0 1595.1,820.8 1595.4,820.4 1595.7,822.1 1596.1,821.1 1596.4,819.2 1596.7,821.7 1597.1,820.9 1597.4,821.7 1597.7,820.3 1598.1,821.0 1598.4,820.9 1598.7,821.0 1599.1,821.9 1599.4,820.3 1599.7,821.2 1600.1,822.1 1600.4,819.4 1600.7,821.8 1601.1,821.3 1601.4,820.5 1601.7,819.3 1602.1,820.7 1602.4,819.7 1602.7,819.8 1603.1,820.8 1603.4,821.2 1603.7,822.2 1604.1,821.2 1604.4,821.7 1604.7,821.0 1605.1,819.3 1605.4,820.3 1605.7,819.7 1606.1,821.2 1606.4,820.3 1606.7,821.3 1607.0,820.4 1607.4,819.5 1607.7,820.1 1608.0,822.3 1608.4,820.8 1608.7,821.5 1609.0,821.1 1609.4,820.9 1609.7,821.6 1610.0,822.3 1610.4,821.5 1610.7,822.0 1611.0,820.6 1611.4,820.4 1611.7,819.5 1612.0,821.2 1612.4,819.7 1612.7,820.4 1613.0,821.0 1613.4,820.7 1613.7,820.2 1614.0,820.9 1614.4,822.5 1614.7,821.4 1615.0,821.7 1615.4,822.8 1615.7,821.7 1616.0,822.7 1616.4,821.9 1616.7,822.2 1617.0,821.6 1617.4,822.9 1617.7,821.4 1618.0,820.8 1618.4,821.8 1618.7,820.0 1619.0,821.1 1619.4,822.8 1619.7,820.2 1620.0,821.1 1620.4,820.8 1620.7,821.8 1621.0,822.5 1621.4,820.8 1621.7,821.6 1622.0,819.9 1622.4,820.6 1622.7,821.2 1623.0,821.9 1623.4,822.7 1623.7,822.7 1624.0,821.5 1624.4,820.8 1624.7,822.6 1625.0,822.6 1625.4,822.5 1625.7,822.1 1626.0,822.0 1626.3,821.2 1626.7,821.8 1627.0,821.2 1627.3,822.3 1627.7,822.8 1628.0,821.0 1628.3,822.4 1628.7,820.4 1629.0,820.4 1629.3,820.7 1629.7,821.0 1630.0,821.5 1630.3,821.4 1630.7,823.0 1631.0,820.3 1631.3,822.9 1631.7,820.9 1632.0,821.1 1632.3,821.7 1632.7,821.6 1633.0,822.0 1633.3,820.3 1633.7,822.1 1634.0,820.4 1634.3,820.8 1634.7,821.2 1635.0,821.9 1635.3,822.6 1635.7,820.4 1636.0,820.4 1636.3,821.6 1636.7,821.1 1637.0,822.6 1637.3,823.0 1637.7,823.3 1638.0,823.5 1638.3,823.5 1638.7,821.2 1639.0,822.2 1639.3,820.8 1639.7,822.2 1640.0,822.7 1640.3,822.5 1640.7,823.6 1641.0,821.7 1641.3,821.9 1641.7,823.4 1642.0,823.1 1642.3,821.1 1642.7,821.8 1643.0,823.0 1643.3,820.8 1643.7,823.2 1644.0,823.5 1644.3,822.7 1644.6,821.0 1645.0,822.4 1645.3,821.1 1645.6,823.5 1646.0,821.5 1646.3,820.8 1646.6,822.1 1647.0,821.5 1647.3,823.5 1647.6,821.3 1648.0,821.1 1648.3,821.9 1648.6,822.2 1649.0,822.5 1649.3,823.9 1649.6,822.1 1650.0,823.6 1650.3,821.2 1650.6,822.4 1651.0,823.7 1651.3,823.5 1651.6,822.9 1652.0,821.1 1652.3,824.1 1652.6,822.0 1653.0,823.0 1653.3,821.2" fill="none" stroke="#8a10f0" stroke-width="2.8" stroke-linejoin="round"/>
<polyline points="1227.4,935.8 1227.7,936.8 1228.1,938.0 1228.4,937.9 1228.7,936.8 1229.1,936.4 1229.4,937.5 1229.7,937.1 1230.1,936.5 1230.4,936.1 1230.7,935.9 1231.1,936.1 1231.4,938.3 1231.7,938.9 1232.1,938.4 1232.4,938.0 1232.7,937.3 1233.1,936.8 1233.4,937.5 1233.7,937.3 1234.1,938.7 1234.4,939.1 1234.7,937.4 1235.1,937.0 1235.4,938.5 1235.7,939.1 1236.1,939.3 1236.4,939.3 1236.7,938.5 1237.0,937.9 1237.4,935.1 1237.7,932.5 1238.0,925.8 1238.4,922.1 1238.7,914.8 1239.0,915.0 1239.4,917.7 1239.7,923.6 1240.0,928.0 1240.4,933.2 1240.7,934.6 1241.0,938.7 1241.4,938.3 1241.7,937.1 1242.0,937.8 1242.4,938.0 1242.7,938.3 1243.0,937.8 1243.4,937.7 1243.7,938.6 1244.0,939.4 1244.4,938.5 1244.7,938.4 1245.0,938.3 1245.4,940.1 1245.7,939.5 1246.0,939.3 1246.4,937.3 1246.7,939.6 1247.0,938.6 1247.4,939.5 1247.7,938.8 1248.0,937.6 1248.4,939.1 1248.7,939.7 1249.0,937.9 1249.4,939.4 1249.7,938.3 1250.0,937.5 1250.4,937.7 1250.7,938.8 1251.0,938.4 1251.4,938.2 1251.7,938.7 1252.0,940.2 1252.4,939.3 1252.7,939.6 1253.0,940.7 1253.4,938.6 1253.7,940.7 1254.0,940.0 1254.4,940.2 1254.7,940.9 1255.0,938.5 1255.3,939.3 1255.7,939.7 1256.0,939.7 1256.3,941.2 1256.7,938.9 1257.0,939.0 1257.3,940.6 1257.7,940.7 1258.0,939.2 1258.3,938.4 1258.7,939.9 1259.0,940.1 1259.3,941.1 1259.7,940.2 1260.0,940.1 1260.3,940.9 1260.7,940.5 1261.0,940.4 1261.3,938.5 1261.7,940.7 1262.0,939.8 1262.3,940.1 1262.7,940.1 1263.0,940.9 1263.3,938.9 1263.7,941.2 1264.0,938.9 1264.3,941.0 1264.7,941.1 1265.0,938.5 1265.3,940.2 1265.7,941.0 1266.0,939.4 1266.3,938.9 1266.7,941.4 1267.0,939.1 1267.3,941.6 1267.7,939.5 1268.0,941.4 1268.3,940.2 1268.7,938.6 1269.0,939.1 1269.3,940.4 1269.7,938.4 1270.0,939.1 1270.3,939.6 1270.7,938.7 1271.0,941.4 1271.3,940.1 1271.7,939.6 1272.0,939.6 1272.3,938.8 1272.7,940.3 1273.0,940.5 1273.3,940.8 1273.7,941.2 1274.0,941.1 1274.3,939.4 1274.6,938.4 1275.0,936.5 1275.3,935.1 1275.6,929.1 1276.0,919.3 1276.3,912.8 1276.6,907.9 1277.0,905.4 1277.3,913.0 1277.6,922.0 1278.0,929.9 1278.3,934.1 1278.6,937.5 1279.0,938.0 1279.3,938.9 1279.6,940.2 1280.0,941.3 1280.3,939.5 1280.6,940.5 1281.0,941.4 1281.3,940.7 1281.6,939.1 1282.0,939.5 1282.3,941.4 1282.6,938.4 1283.0,940.0 1283.3,939.6 1283.6,939.0 1284.0,940.2 1284.3,939.4 1284.6,939.3 1285.0,941.0 1285.3,940.6 1285.6,941.2 1286.0,938.4 1286.3,941.0 1286.6,939.9 1287.0,940.0 1287.3,941.3 1287.6,940.1 1288.0,941.3 1288.3,940.9 1288.6,938.6 1289.0,941.2 1289.3,939.4 1289.6,940.1 1290.0,940.0 1290.3,940.4 1290.6,938.6 1291.0,940.1 1291.3,940.5 1291.6,939.3 1292.0,940.9 1292.3,940.0 1292.6,939.9 1292.9,939.0 1293.3,938.9 1293.6,939.5 1293.9,939.9 1294.3,941.4 1294.6,940.6 1294.9,938.9 1295.3,939.2 1295.6,941.3 1295.9,938.5 1296.3,941.4 1296.6,940.9 1296.9,941.0 1297.3,938.5 1297.6,939.4 1297.9,935.5 1298.3,930.3 1298.6,922.2 1298.9,914.1 1299.3,909.0 1299.6,906.6 1299.9,913.3 1300.3,920.7 1300.6,929.1 1300.9,934.5 1301.3,938.2 1301.6,938.3 1301.9,938.6 1302.3,938.6 1302.6,940.4 1302.9,941.3 1303.3,939.6 1303.6,940.1 1303.9,939.2 1304.3,940.5 1304.6,941.3 1304.9,940.7 1305.3,939.9 1305.6,941.3 1305.9,939.8 1306.3,941.4 1306.6,941.0 1306.9,940.7 1307.3,940.5 1307.6,939.7 1307.9,939.6 1308.3,939.5 1308.6,940.6 1308.9,941.2 1309.3,939.1 1309.6,940.0 1309.9,939.3 1310.3,939.4 1310.6,939.1 1310.9,941.2 1311.2,939.9 1311.6,941.0 1311.9,938.9 1312.2,940.8 1312.6,940.2 1312.9,941.4 1313.2,939.7 1313.6,939.4 1313.9,938.6 1314.2,940.9 1314.6,940.9 1314.9,938.5 1315.2,940.0 1315.6,940.6 1315.9,939.2 1316.2,937.8 1316.6,936.8 1316.9,933.7 1317.2,926.9 1317.6,919.1 1317.9,909.4 1318.2,907.0 1318.6,908.6 1318.9,916.8 1319.2,925.0 1319.6,932.5 1319.9,935.9 1320.2,939.2 1320.6,940.0 1320.9,941.1 1321.2,939.6 1321.6,940.6 1321.9,940.0 1322.2,939.7 1322.6,939.3 1322.9,938.7 1323.2,939.4 1323.6,940.2 1323.9,941.4 1324.2,939.0 1324.6,941.2 1324.9,940.9 1325.2,940.8 1325.6,939.9 1325.9,939.9 1326.2,940.3 1326.6,940.9 1326.9,941.2 1327.2,938.4 1327.6,941.2 1327.9,941.0 1328.2,941.2 1328.6,939.4 1328.9,939.4 1329.2,941.1 1329.5,941.1 1329.9,939.7 1330.2,939.7 1330.5,939.1 1330.9,938.7 1331.2,938.6 1331.5,939.0 1331.9,938.5 1332.2,939.8 1332.5,940.2 1332.9,939.4 1333.2,938.5 1333.5,938.2 1333.9,938.9 1334.2,937.9 1334.5,938.6 1334.9,937.7 1335.2,939.4 1335.5,939.4 1335.9,937.2 1336.2,937.4 1336.5,937.8 1336.9,937.4 1337.2,939.5 1337.5,938.0 1337.9,936.5 1338.2,937.5 1338.5,938.4 1338.9,939.1 1339.2,937.2 1339.5,939.0 1339.9,936.5 1340.2,936.6 1340.5,938.0 1340.9,937.6 1341.2,936.8 1341.5,935.9 1341.9,937.1 1342.2,936.1 1342.5,938.1 1342.9,938.3 1343.2,937.2 1343.5,937.0 1343.9,935.3 1344.2,935.1 1344.5,936.1 1344.9,935.9 1345.2,936.8 1345.5,937.5 1345.9,935.9 1346.2,936.6 1346.5,937.4 1346.9,934.9 1347.2,934.1 1347.5,933.8 1347.8,934.3 1348.2,930.1 1348.5,923.8 1348.8,914.1 1349.2,899.0 1349.5,890.6 1349.8,887.1 1350.2,892.2 1350.5,903.2 1350.8,915.4 1351.2,925.5 1351.5,930.3 1351.8,933.9 1352.2,933.3 1352.5,935.4 1352.8,934.3 1353.2,934.6 1353.5,933.8 1353.8,934.3 1354.2,933.5 1354.5,934.1 1354.8,934.4 1355.2,931.7 1355.5,933.1 1355.8,932.5 1356.2,931.6 1356.5,931.4 1356.8,933.5 1357.2,931.0 1357.5,932.5 1357.8,929.3 1358.2,926.1 1358.5,919.3 1358.8,906.3 1359.2,886.7 1359.5,865.2 1359.8,851.7 1360.2,851.8 1360.5,863.0 1360.8,884.5 1361.2,904.2 1361.5,916.6 1361.8,925.9 1362.2,929.2 1362.5,931.0 1362.8,929.4 1363.2,931.6 1363.5,931.0 1363.8,929.9 1364.2,928.8 1364.5,931.2 1364.8,930.5 1365.2,931.5 1365.5,931.4 1365.8,928.9 1366.2,930.0 1366.5,929.5 1366.8,930.3 1367.1,929.0 1367.5,929.4 1367.8,927.6 1368.1,930.3 1368.5,927.4 1368.8,928.6 1369.1,929.6 1369.5,927.6 1369.8,927.7 1370.1,928.8 1370.5,926.9 1370.8,928.1 1371.1,929.5 1371.5,927.1 1371.8,928.5 1372.1,927.7 1372.5,927.2 1372.8,927.4 1373.1,928.8 1373.5,926.0 1373.8,927.2 1374.1,926.0 1374.5,924.1 1374.8,921.6 1375.1,917.4 1375.5,906.1 1375.8,893.6 1376.1,883.9 1376.5,875.7 1376.8,880.8 1377.1,892.0 1377.5,904.7 1377.8,912.9 1378.1,919.5 1378.5,924.2 1378.8,924.7 1379.1,923.7 1379.5,924.0 1379.8,926.2 1380.1,925.2 1380.5,926.2 1380.8,925.9 1381.1,924.3 1381.5,924.7 1381.8,924.6 1382.1,924.9 1382.5,924.1 1382.8,924.3 1383.1,923.4 1383.5,922.0 1383.8,918.6 1384.1,908.7 1384.5,892.1 1384.8,874.2 1385.1,857.2 1385.4,848.5 1385.8,852.8 1386.1,868.9 1386.4,886.6 1386.8,905.7 1387.1,915.3 1387.4,920.8 1387.8,923.4 1388.1,925.9 1388.4,925.4 1388.8,925.4 1389.1,924.2 1389.4,925.4 1389.8,923.8 1390.1,924.6 1390.4,925.7 1390.8,926.3 1391.1,925.0 1391.4,924.9 1391.8,924.5 1392.1,923.5 1392.4,925.1 1392.8,925.1 1393.1,923.2 1393.4,924.2 1393.8,924.1 1394.1,925.9 1394.4,925.6 1394.8,924.0 1395.1,924.0 1395.4,924.1 1395.8,923.4 1396.1,923.8 1396.4,923.8 1396.8,923.6 1397.1,925.1 1397.4,923.1 1397.8,925.5 1398.1,925.3 1398.4,923.7 1398.8,924.1 1399.1,924.9 1399.4,926.0 1399.8,923.3 1400.1,925.4 1400.4,923.8 1400.8,925.3 1401.1,925.2 1401.4,924.0 1401.8,923.4 1402.1,924.0 1402.4,925.0 1402.8,924.8 1403.1,923.5 1403.4,923.6 1403.7,924.0 1404.1,922.8 1404.4,924.6 1404.7,925.6 1405.1,923.0 1405.4,922.7 1405.7,924.0 1406.1,921.4 1406.4,916.1 1406.7,903.6 1407.1,888.2 1407.4,868.5 1407.7,851.7 1408.1,848.2 1408.4,856.6 1408.7,876.0 1409.1,895.4 1409.4,909.6 1409.7,918.2 1410.1,923.4 1410.4,924.9 1410.7,923.4 1411.1,922.7 1411.4,923.0 1411.7,925.7 1412.1,923.4 1412.4,925.7 1412.7,924.6 1413.1,922.6 1413.4,924.1 1413.7,923.2 1414.1,923.6 1414.4,923.7 1414.7,923.2 1415.1,922.6 1415.4,922.7 1415.7,925.6 1416.1,923.8 1416.4,924.1 1416.7,922.8 1417.1,924.0 1417.4,925.0 1417.7,925.3 1418.1,923.2 1418.4,925.6 1418.7,924.8 1419.1,923.4 1419.4,922.8 1419.7,923.2 1420.1,923.1 1420.4,922.9 1420.7,924.5 1421.1,925.3 1421.4,924.2 1421.7,925.1 1422.0,925.5 1422.4,925.9 1422.7,924.4 1423.0,924.8 1423.4,925.0 1423.7,925.8 1424.0,925.0 1424.4,925.4 1424.7,924.8 1425.0,925.6 1425.4,925.8 1425.7,923.5 1426.0,926.2 1426.4,924.5 1426.7,925.4 1427.0,925.9 1427.4,923.6 1427.7,925.4 1428.0,925.6 1428.4,925.3 1428.7,925.2 1429.0,925.8 1429.4,925.0 1429.7,925.4 1430.0,926.4 1430.4,926.3 1430.7,925.9 1431.0,926.9 1431.4,926.0 1431.7,926.3 1432.0,925.9 1432.4,925.9 1432.7,926.5 1433.0,926.9 1433.4,925.8 1433.7,924.4 1434.0,925.5 1434.4,925.3 1434.7,927.0 1435.0,926.8 1435.4,926.6 1435.7,927.1 1436.0,926.2 1436.4,926.1 1436.7,924.7 1437.0,926.0 1437.4,927.2 1437.7,925.3 1438.0,926.5 1438.4,925.8 1438.7,925.6 1439.0,925.7 1439.4,925.8 1439.7,927.3 1440.0,925.9 1440.3,928.0 1440.7,925.3 1441.0,928.3 1441.3,927.9 1441.7,928.2 1442.0,926.2 1442.3,925.4 1442.7,927.9 1443.0,927.2 1443.3,926.1 1443.7,928.4 1444.0,926.6 1444.3,926.2 1444.7,928.2 1445.0,928.0 1445.3,926.3 1445.7,926.7 1446.0,927.5 1446.3,927.4 1446.7,927.4 1447.0,924.2 1447.3,925.0 1447.7,920.7 1448.0,917.7 1448.3,916.9 1448.7,914.8 1449.0,914.0 1449.3,914.7 1449.7,917.1 1450.0,919.3 1450.3,921.3 1450.7,923.4 1451.0,924.5 1451.3,925.5 1451.7,926.9 1452.0,926.5 1452.3,929.0 1452.7,926.6 1453.0,928.5 1453.3,928.1 1453.7,929.2 1454.0,928.7 1454.3,927.9 1454.7,927.2 1455.0,928.5 1455.3,927.0 1455.7,927.3 1456.0,929.4 1456.3,929.3 1456.7,929.6 1457.0,929.6 1457.3,928.4 1457.7,927.0 1458.0,929.0 1458.3,929.5 1458.7,927.0 1459.0,928.1 1459.3,929.4 1459.6,927.5 1460.0,927.7 1460.3,927.6 1460.6,929.6 1461.0,926.9 1461.3,927.3 1461.6,927.8 1462.0,928.3 1462.3,928.4 1462.6,929.9 1463.0,927.0 1463.3,927.8 1463.6,928.5 1464.0,927.1 1464.3,927.8 1464.6,930.0 1465.0,930.0 1465.3,928.7 1465.6,930.0 1466.0,927.8 1466.3,929.5 1466.6,929.4 1467.0,930.0 1467.3,927.6 1467.6,928.8 1468.0,930.0 1468.3,929.5 1468.6,928.9 1469.0,928.4 1469.3,929.9 1469.6,929.8 1470.0,927.6 1470.3,929.7 1470.6,928.1 1471.0,929.7 1471.3,927.9 1471.6,929.0 1472.0,930.2 1472.3,927.7 1472.6,928.9 1473.0,927.7 1473.3,927.5 1473.6,927.2 1474.0,928.1 1474.3,927.8 1474.6,929.7 1475.0,927.6 1475.3,928.5 1475.6,927.3 1476.0,927.4 1476.3,929.4 1476.6,929.7 1477.0,929.3 1477.3,929.2 1477.6,927.3 1477.9,928.7 1478.3,928.1 1478.6,929.7 1478.9,929.6 1479.3,928.7 1479.6,928.6 1479.9,927.5 1480.3,929.0 1480.6,927.7 1480.9,930.6 1481.3,928.0 1481.6,930.3 1481.9,929.8 1482.3,929.9 1482.6,928.8 1482.9,929.6 1483.3,929.5 1483.6,929.4 1483.9,930.7 1484.3,929.2 1484.6,929.1 1484.9,930.7 1485.3,929.1 1485.6,931.9 1485.9,930.8 1486.3,929.4 1486.6,932.1 1486.9,931.0 1487.3,929.7 1487.6,931.0 1487.9,932.2 1488.3,930.5 1488.6,931.7 1488.9,930.8 1489.3,930.1 1489.6,931.4 1489.9,931.3 1490.3,931.4 1490.6,933.0 1490.9,933.2 1491.3,932.0 1491.6,932.8 1491.9,933.2 1492.3,931.8 1492.6,933.2 1492.9,931.1 1493.3,931.7 1493.6,931.9 1493.9,933.0 1494.3,931.4 1494.6,934.4 1494.9,933.2 1495.3,934.1 1495.6,932.8 1495.9,934.5 1496.2,933.9 1496.6,934.2 1496.9,933.3 1497.2,933.2 1497.6,934.5 1497.9,932.6 1498.2,933.2 1498.6,933.7 1498.9,934.0 1499.2,932.8 1499.6,933.5 1499.9,933.5 1500.2,935.4 1500.6,935.5 1500.9,935.7 1501.2,935.8 1501.6,936.1 1501.9,936.2 1502.2,934.8 1502.6,933.9 1502.9,934.5 1503.2,934.9 1503.6,934.7 1503.9,933.9 1504.2,935.2 1504.6,937.1 1504.9,934.3 1505.2,935.4 1505.6,934.8 1505.9,935.2 1506.2,937.0 1506.6,936.2 1506.9,936.9 1507.2,935.1 1507.6,936.2 1507.9,936.6 1508.2,935.5 1508.6,936.2 1508.9,936.5 1509.2,937.7 1509.6,938.4 1509.9,937.7 1510.2,938.5 1510.6,937.2 1510.9,936.6 1511.2,935.8 1511.6,936.4 1511.9,938.6 1512.2,938.5 1512.6,938.5 1512.9,936.2 1513.2,938.1 1513.6,936.7 1513.9,937.0 1514.2,938.4 1514.5,938.4 1514.9,939.4 1515.2,938.4 1515.5,939.7 1515.9,939.8 1516.2,939.4 1516.5,937.5 1516.9,938.9 1517.2,937.4 1517.5,938.4 1517.9,940.0 1518.2,938.7 1518.5,940.6 1518.9,940.2 1519.2,939.7 1519.5,938.9 1519.9,939.1 1520.2,940.9 1520.5,940.6 1520.9,939.9 1521.2,939.5 1521.5,940.0 1521.9,939.7 1522.2,938.7 1522.5,940.0 1522.9,941.9 1523.2,941.8 1523.5,940.4 1523.9,941.3 1524.2,941.5 1524.5,939.7 1524.9,942.3 1525.2,941.4 1525.5,939.6 1525.9,941.4 1526.2,940.5 1526.5,941.9 1526.9,943.1 1527.2,940.7 1527.5,942.3 1527.9,942.8 1528.2,942.1 1528.5,941.8 1528.9,943.0 1529.2,942.2 1529.5,942.1 1529.9,942.6 1530.2,941.2 1530.5,943.6 1530.9,943.9 1531.2,942.2 1531.5,942.7 1531.9,941.8 1532.2,942.9 1532.5,941.9 1532.9,942.0 1533.2,942.8 1533.5,944.7 1533.8,944.0 1534.2,942.4 1534.5,943.7 1534.8,944.2 1535.2,943.3 1535.5,945.3 1535.8,945.3 1536.2,943.7 1536.5,944.6 1536.8,945.6 1537.2,945.6 1537.5,945.5 1537.8,943.9 1538.2,946.1 1538.5,945.2 1538.8,944.0 1539.2,944.9 1539.5,944.7 1539.8,945.4 1540.2,946.1 1540.5,943.7 1540.8,945.8 1541.2,946.5 1541.5,943.9 1541.8,946.0 1542.2,945.4 1542.5,945.6 1542.8,945.1 1543.2,945.7 1543.5,944.3 1543.8,943.5 1544.2,943.8 1544.5,943.0 1544.8,942.8 1545.2,942.4 1545.5,941.7 1545.8,942.9 1546.2,943.0 1546.5,940.8 1546.8,942.1 1547.2,941.8 1547.5,940.4 1547.8,941.2 1548.2,942.9 1548.5,944.1 1548.8,945.3 1549.2,943.0 1549.5,944.7 1549.8,946.0 1550.2,945.3 1550.5,945.0 1550.8,944.6 1551.2,944.9 1551.5,946.4 1551.8,944.6 1552.1,944.9 1552.5,945.0 1552.8,946.7 1553.1,944.6 1553.5,947.2 1553.8,946.4 1554.1,947.6 1554.5,946.3 1554.8,946.1 1555.1,946.3 1555.5,947.2 1555.8,945.1 1556.1,944.8 1556.5,945.8 1556.8,945.4 1557.1,947.9 1557.5,947.9 1557.8,946.5 1558.1,946.6 1558.5,945.2 1558.8,945.4 1559.1,945.7 1559.5,946.2 1559.8,947.3 1560.1,946.0 1560.5,946.3 1560.8,945.1 1561.1,947.5 1561.5,946.8 1561.8,947.3 1562.1,945.6 1562.5,946.3 1562.8,946.6 1563.1,947.2 1563.5,945.4 1563.8,947.3 1564.1,946.9 1564.5,946.2 1564.8,946.3 1565.1,948.4 1565.5,945.6 1565.8,947.8 1566.1,947.7 1566.5,946.9 1566.8,945.6 1567.1,946.4 1567.5,948.5 1567.8,948.6 1568.1,945.9 1568.5,947.7 1568.8,948.7 1569.1,946.0 1569.5,948.7 1569.8,947.6 1570.1,946.1 1570.4,946.6 1570.8,947.6 1571.1,946.1 1571.4,946.6 1571.8,948.4 1572.1,946.5 1572.4,948.3 1572.8,948.8 1573.1,948.8 1573.4,946.1 1573.8,946.9 1574.1,947.1 1574.4,947.4 1574.8,946.1 1575.1,947.7 1575.4,946.5 1575.8,948.9 1576.1,948.2 1576.4,947.1 1576.8,948.1 1577.1,946.8 1577.4,949.1 1577.8,947.8 1578.1,947.6 1578.4,947.9 1578.8,947.1 1579.1,947.2 1579.4,949.4 1579.8,949.0 1580.1,948.2 1580.4,946.5 1580.8,948.4 1581.1,949.2 1581.4,946.5 1581.8,947.5 1582.1,949.6 1582.4,949.5 1582.8,947.5 1583.1,946.6 1583.4,947.5 1583.8,947.6 1584.1,947.1 1584.4,948.2 1584.8,948.6 1585.1,949.1 1585.4,949.0 1585.8,948.7 1586.1,946.9 1586.4,947.8 1586.8,948.0 1587.1,948.8 1587.4,946.7 1587.8,948.5 1588.1,948.6 1588.4,948.6 1588.7,949.5 1589.1,949.2 1589.4,946.8 1589.7,949.7 1590.1,947.6 1590.4,947.6 1590.7,948.2 1591.1,949.7 1591.4,947.8 1591.7,947.5 1592.1,947.8 1592.4,946.9 1592.7,947.8 1593.1,947.9 1593.4,949.6 1593.7,949.4 1594.1,947.2 1594.4,948.6 1594.7,949.4 1595.1,947.1 1595.4,947.4 1595.7,948.8 1596.1,948.1 1596.4,949.7 1596.7,948.6 1597.1,949.9 1597.4,948.7 1597.7,949.1 1598.1,947.1 1598.4,948.9 1598.7,948.2 1599.1,948.4 1599.4,948.1 1599.7,949.5 1600.1,948.1 1600.4,948.4 1600.7,949.5 1601.1,948.8 1601.4,948.3 1601.7,949.0 1602.1,947.2 1602.4,949.0 1602.7,947.2 1603.1,949.4 1603.4,947.9 1603.7,947.6 1604.1,949.0 1604.4,949.3 1604.7,950.0 1605.1,949.8 1605.4,947.7 1605.7,948.0 1606.1,949.0 1606.4,950.2 1606.7,948.7 1607.0,949.4 1607.4,948.4 1607.7,949.6 1608.0,947.4 1608.4,948.4 1608.7,949.3 1609.0,949.8 1609.4,948.8 1609.7,948.0 1610.0,949.3 1610.4,950.6 1610.7,949.1 1611.0,949.4 1611.4,950.1 1611.7,949.9 1612.0,950.2 1612.4,949.6 1612.7,949.3 1613.0,950.4 1613.4,949.9 1613.7,949.3 1614.0,948.1 1614.4,948.1 1614.7,948.8 1615.0,950.8 1615.4,950.4 1615.7,949.7 1616.0,949.6 1616.4,948.7 1616.7,948.1 1617.0,947.9 1617.4,949.7 1617.7,949.0 1618.0,947.8 1618.4,949.7 1618.7,949.0 1619.0,950.3 1619.4,950.4 1619.7,947.8 1620.0,947.8 1620.4,949.4 1620.7,948.3 1621.0,949.3 1621.4,950.6 1621.7,948.9 1622.0,948.3 1622.4,950.1 1622.7,948.3 1623.0,951.0 1623.4,950.5 1623.7,950.5 1624.0,949.6 1624.4,948.8 1624.7,950.5 1625.0,948.3 1625.4,950.0 1625.7,948.3 1626.0,948.0 1626.3,951.0 1626.7,951.1 1627.0,951.2 1627.3,949.2 1627.7,949.1 1628.0,950.3 1628.3,949.1 1628.7,950.8 1629.0,951.0 1629.3,948.6 1629.7,948.2 1630.0,949.1 1630.3,949.3 1630.7,950.6 1631.0,949.7 1631.3,949.4 1631.7,951.2 1632.0,948.2 1632.3,948.4 1632.7,948.2 1633.0,948.2 1633.3,951.1 1633.7,950.5 1634.0,951.3 1634.3,948.9 1634.7,951.1 1635.0,948.8 1635.3,949.9 1635.7,951.3 1636.0,949.9 1636.3,948.5 1636.7,950.0 1637.0,949.6 1637.3,950.0 1637.7,949.0 1638.0,949.3 1638.3,950.7 1638.7,948.7 1639.0,948.6 1639.3,951.5 1639.7,949.7 1640.0,949.4 1640.3,949.6 1640.7,950.4 1641.0,948.6 1641.3,950.3 1641.7,951.7 1642.0,950.1 1642.3,951.5 1642.7,951.5 1643.0,949.9 1643.3,949.7 1643.7,948.7 1644.0,950.2 1644.3,951.4 1644.6,951.8 1645.0,950.7 1645.3,948.8 1645.6,950.8 1646.0,948.9 1646.3,950.0 1646.6,950.9 1647.0,950.6 1647.3,950.8 1647.6,950.1 1648.0,950.5 1648.3,951.1 1648.6,951.6 1649.0,949.3 1649.3,949.9 1649.6,951.0 1650.0,948.8 1650.3,950.0 1650.6,949.8 1651.0,951.8 1651.3,949.9 1651.6,950.3 1652.0,951.6 1652.3,949.3 1652.6,950.8 1653.0,949.0 1653.3,949.3" fill="none" stroke="#10109a" stroke-width="2.8" stroke-linejoin="round"/>
<polyline points="1227.4,1036.2 1227.7,1035.8 1228.1,1035.7 1228.4,1035.8 1228.7,1036.2 1229.1,1035.8 1229.4,1036.2 1229.7,1035.9 1230.1,1035.8 1230.4,1035.8 1230.7,1036.1 1231.1,1036.1 1231.4,1035.9 1231.7,1035.8 1232.1,1035.7 1232.4,1036.0 1232.7,1036.2 1233.1,1035.8 1233.4,1035.8 1233.7,1036.0 1234.1,1036.1 1234.4,1035.7 1234.7,1035.8 1235.1,1036.1 1235.4,1036.0 1235.7,1036.3 1236.1,1035.8 1236.4,1035.8 1236.7,1035.5 1237.0,1034.9 1237.4,1032.6 1237.7,1028.9 1238.0,1022.6 1238.4,1015.5 1238.7,1009.8 1239.0,1008.2 1239.4,1011.3 1239.7,1017.6 1240.0,1024.5 1240.4,1030.0 1240.7,1033.4 1241.0,1035.3 1241.4,1036.0 1241.7,1036.2 1242.0,1036.2 1242.4,1035.9 1242.7,1035.7 1243.0,1036.0 1243.4,1036.0 1243.7,1035.8 1244.0,1036.2 1244.4,1036.0 1244.7,1035.8 1245.0,1036.1 1245.4,1036.1 1245.7,1036.2 1246.0,1035.8 1246.4,1036.2 1246.7,1036.2 1247.0,1035.9 1247.4,1036.1 1247.7,1035.8 1248.0,1036.0 1248.4,1036.1 1248.7,1036.2 1249.0,1036.1 1249.4,1035.9 1249.7,1035.8 1250.0,1036.1 1250.4,1036.1 1250.7,1036.1 1251.0,1036.2 1251.4,1036.1 1251.7,1036.3 1252.0,1036.1 1252.4,1035.8 1252.7,1035.9 1253.0,1035.8 1253.4,1036.2 1253.7,1036.1 1254.0,1035.7 1254.4,1036.1 1254.7,1036.0 1255.0,1035.9 1255.3,1036.2 1255.7,1035.8 1256.0,1036.1 1256.3,1035.8 1256.7,1036.1 1257.0,1035.9 1257.3,1035.9 1257.7,1036.2 1258.0,1036.0 1258.3,1036.3 1258.7,1035.8 1259.0,1036.0 1259.3,1035.9 1259.7,1036.2 1260.0,1036.1 1260.3,1035.9 1260.7,1035.9 1261.0,1035.8 1261.3,1035.8 1261.7,1036.1 1262.0,1036.3 1262.3,1035.8 1262.7,1036.0 1263.0,1035.9 1263.3,1036.1 1263.7,1036.1 1264.0,1036.2 1264.3,1036.0 1264.7,1036.3 1265.0,1035.7 1265.3,1036.2 1265.7,1035.7 1266.0,1036.0 1266.3,1035.7 1266.7,1036.1 1267.0,1035.9 1267.3,1035.9 1267.7,1036.3 1268.0,1036.0 1268.3,1035.9 1268.7,1035.9 1269.0,1035.7 1269.3,1035.8 1269.7,1036.1 1270.0,1036.0 1270.3,1035.7 1270.7,1036.2 1271.0,1035.8 1271.3,1035.8 1271.7,1036.0 1272.0,1036.2 1272.3,1036.1 1272.7,1035.8 1273.0,1035.9 1273.3,1035.9 1273.7,1035.8 1274.0,1036.1 1274.3,1035.7 1274.6,1035.5 1275.0,1034.0 1275.3,1031.1 1275.6,1024.9 1276.0,1015.0 1276.3,1002.4 1276.6,991.1 1277.0,986.1 1277.3,990.0 1277.6,1000.6 1278.0,1013.0 1278.3,1023.9 1278.6,1030.3 1279.0,1033.8 1279.3,1035.5 1279.6,1035.9 1280.0,1035.7 1280.3,1035.8 1280.6,1035.7 1281.0,1036.1 1281.3,1036.3 1281.6,1035.8 1282.0,1036.1 1282.3,1036.2 1282.6,1036.1 1283.0,1036.1 1283.3,1036.2 1283.6,1035.8 1284.0,1036.3 1284.3,1036.1 1284.6,1036.2 1285.0,1036.2 1285.3,1035.9 1285.6,1036.2 1286.0,1035.8 1286.3,1036.2 1286.6,1035.7 1287.0,1036.0 1287.3,1035.7 1287.6,1035.9 1288.0,1036.3 1288.3,1036.1 1288.6,1035.8 1289.0,1036.2 1289.3,1036.1 1289.6,1035.9 1290.0,1035.8 1290.3,1035.8 1290.6,1036.0 1291.0,1035.9 1291.3,1035.9 1291.6,1035.8 1292.0,1035.8 1292.3,1036.1 1292.6,1035.9 1292.9,1036.3 1293.3,1036.0 1293.6,1036.0 1293.9,1035.9 1294.3,1036.2 1294.6,1035.8 1294.9,1035.9 1295.3,1036.0 1295.6,1036.0 1295.9,1035.9 1296.3,1036.1 1296.6,1035.9 1296.9,1036.1 1297.3,1035.6 1297.6,1035.3 1297.9,1033.9 1298.3,1029.6 1298.6,1021.2 1298.9,1006.4 1299.3,987.6 1299.6,970.3 1299.9,961.4 1300.3,965.6 1300.6,980.1 1300.9,999.6 1301.3,1016.3 1301.6,1027.1 1301.9,1032.5 1302.3,1035.2 1302.6,1035.5 1302.9,1035.9 1303.3,1035.9 1303.6,1036.2 1303.9,1036.1 1304.3,1036.1 1304.6,1036.1 1304.9,1035.7 1305.3,1035.8 1305.6,1035.9 1305.9,1036.0 1306.3,1035.8 1306.6,1036.0 1306.9,1035.9 1307.3,1036.0 1307.6,1036.2 1307.9,1035.8 1308.3,1036.1 1308.6,1035.9 1308.9,1035.9 1309.3,1035.7 1309.6,1035.8 1309.9,1036.2 1310.3,1036.3 1310.6,1035.8 1310.9,1036.1 1311.2,1035.8 1311.6,1035.8 1311.9,1035.9 1312.2,1036.2 1312.6,1035.9 1312.9,1035.8 1313.2,1036.1 1313.6,1036.2 1313.9,1036.3 1314.2,1036.1 1314.6,1036.0 1314.9,1036.2 1315.2,1036.1 1315.6,1036.2 1315.9,1036.0 1316.2,1035.2 1316.6,1034.5 1316.9,1032.0 1317.2,1026.8 1317.6,1018.6 1317.9,1009.7 1318.2,1003.1 1318.6,1001.3 1318.9,1005.6 1319.2,1013.4 1319.6,1022.3 1319.9,1028.8 1320.2,1033.2 1320.6,1035.0 1320.9,1035.7 1321.2,1036.0 1321.6,1036.0 1321.9,1035.7 1322.2,1035.9 1322.6,1036.1 1322.9,1035.9 1323.2,1036.3 1323.6,1036.2 1323.9,1035.9 1324.2,1035.8 1324.6,1036.2 1324.9,1036.1 1325.2,1035.7 1325.6,1035.9 1325.9,1036.2 1326.2,1035.8 1326.6,1036.0 1326.9,1036.1 1327.2,1035.9 1327.6,1036.1 1327.9,1036.2 1328.2,1036.2 1328.6,1035.7 1328.9,1036.1 1329.2,1035.7 1329.5,1035.1 1329.9,1032.7 1330.2,1029.0 1330.5,1022.8 1330.9,1015.9 1331.2,1009.6 1331.5,1007.9 1331.9,1011.2 1332.2,1017.8 1332.5,1024.6 1332.9,1030.3 1333.2,1033.7 1333.5,1035.4 1333.9,1035.7 1334.2,1036.1 1334.5,1036.2 1334.9,1035.7 1335.2,1036.2 1335.5,1036.1 1335.9,1036.2 1336.2,1035.8 1336.5,1036.1 1336.9,1035.7 1337.2,1036.3 1337.5,1036.1 1337.9,1035.7 1338.2,1036.1 1338.5,1036.2 1338.9,1036.3 1339.2,1036.0 1339.5,1035.9 1339.9,1035.9 1340.2,1036.2 1340.5,1035.8 1340.9,1036.0 1341.2,1036.3 1341.5,1036.1 1341.9,1035.8 1342.2,1036.1 1342.5,1036.0 1342.9,1036.2 1343.2,1035.8 1343.5,1036.3 1343.9,1036.1 1344.2,1035.7 1344.5,1036.3 1344.9,1036.2 1345.2,1035.8 1345.5,1035.7 1345.9,1035.7 1346.2,1036.1 1346.5,1035.8 1346.9,1035.9 1347.2,1036.1 1347.5,1035.8 1347.8,1035.9 1348.2,1035.7 1348.5,1035.5 1348.8,1033.6 1349.2,1028.9 1349.5,1020.7 1349.8,1007.1 1350.2,991.6 1350.5,978.8 1350.8,975.2 1351.2,981.7 1351.5,995.6 1351.8,1011.4 1352.2,1023.0 1352.5,1030.4 1352.8,1033.9 1353.2,1035.6 1353.5,1035.9 1353.8,1035.7 1354.2,1035.9 1354.5,1036.0 1354.8,1035.7 1355.2,1036.3 1355.5,1036.2 1355.8,1035.8 1356.2,1035.9 1356.5,1036.2 1356.8,1035.8 1357.2,1036.2 1357.5,1036.1 1357.8,1035.9 1358.2,1036.2 1358.5,1035.6 1358.8,1035.4 1359.2,1034.2 1359.5,1031.3 1359.8,1024.5 1360.2,1012.5 1360.5,996.0 1360.8,979.3 1361.2,969.3 1361.5,969.8 1361.8,981.6 1362.2,998.8 1362.5,1015.2 1362.8,1025.8 1363.2,1031.8 1363.5,1034.4 1363.8,1035.5 1364.2,1035.7 1364.5,1035.9 1364.8,1035.7 1365.2,1035.8 1365.5,1036.0 1365.8,1036.2 1366.2,1036.0 1366.5,1035.8 1366.8,1035.9 1367.1,1035.8 1367.5,1036.1 1367.8,1036.1 1368.1,1035.9 1368.5,1036.0 1368.8,1035.7 1369.1,1036.2 1369.5,1036.0 1369.8,1036.2 1370.1,1036.3 1370.5,1036.2 1370.8,1035.7 1371.1,1036.0 1371.5,1036.1 1371.8,1035.8 1372.1,1036.1 1372.5,1036.3 1372.8,1036.0 1373.1,1035.9 1373.5,1036.0 1373.8,1035.9 1374.1,1035.9 1374.5,1036.0 1374.8,1035.8 1375.1,1036.1 1375.5,1035.8 1375.8,1035.7 1376.1,1035.0 1376.5,1033.0 1376.8,1030.1 1377.1,1025.5 1377.5,1020.1 1377.8,1016.8 1378.1,1016.2 1378.5,1019.4 1378.8,1024.4 1379.1,1029.0 1379.5,1032.7 1379.8,1034.7 1380.1,1035.4 1380.5,1035.7 1380.8,1035.9 1381.1,1035.8 1381.5,1036.2 1381.8,1035.8 1382.1,1035.9 1382.5,1035.8 1382.8,1036.0 1383.1,1036.1 1383.5,1036.2 1383.8,1036.1 1384.1,1035.9 1384.5,1035.9 1384.8,1035.6 1385.1,1034.0 1385.4,1030.4 1385.8,1023.9 1386.1,1014.6 1386.4,1004.0 1386.8,996.4 1387.1,995.4 1387.4,1001.0 1387.8,1011.1 1388.1,1021.4 1388.4,1028.8 1388.8,1033.2 1389.1,1034.8 1389.4,1035.9 1389.8,1036.1 1390.1,1035.7 1390.4,1036.0 1390.8,1036.2 1391.1,1036.0 1391.4,1035.7 1391.8,1036.0 1392.1,1036.2 1392.4,1035.8 1392.8,1036.2 1393.1,1035.9 1393.4,1036.1 1393.8,1036.3 1394.1,1035.8 1394.4,1036.3 1394.8,1035.9 1395.1,1036.3 1395.4,1035.9 1395.8,1036.0 1396.1,1036.3 1396.4,1036.1 1396.8,1036.0 1397.1,1035.7 1397.4,1035.9 1397.8,1035.8 1398.1,1036.0 1398.4,1036.1 1398.8,1035.8 1399.1,1035.9 1399.4,1036.1 1399.8,1036.0 1400.1,1036.0 1400.4,1036.1 1400.8,1035.9 1401.1,1035.7 1401.4,1036.0 1401.8,1036.1 1402.1,1036.1 1402.4,1035.8 1402.8,1036.1 1403.1,1036.2 1403.4,1036.2 1403.7,1036.2 1404.1,1035.7 1404.4,1036.2 1404.7,1036.3 1405.1,1035.9 1405.4,1036.2 1405.7,1036.2 1406.1,1036.1 1406.4,1036.0 1406.7,1036.2 1407.1,1035.7 1407.4,1036.1 1407.7,1035.2 1408.1,1033.6 1408.4,1030.4 1408.7,1023.8 1409.1,1014.0 1409.4,1002.5 1409.7,993.2 1410.1,991.2 1410.4,996.8 1410.7,1007.3 1411.1,1018.3 1411.4,1027.2 1411.7,1032.0 1412.1,1034.6 1412.4,1035.9 1412.7,1036.2 1413.1,1035.9 1413.4,1035.8 1413.7,1035.8 1414.1,1035.8 1414.4,1036.0 1414.7,1036.0 1415.1,1035.9 1415.4,1035.7 1415.7,1036.0 1416.1,1036.0 1416.4,1035.8 1416.7,1035.9 1417.1,1035.8 1417.4,1035.7 1417.7,1035.9 1418.1,1036.1 1418.4,1035.9 1418.7,1036.3 1419.1,1036.0 1419.4,1036.3 1419.7,1035.8 1420.1,1036.3 1420.4,1035.8 1420.7,1035.8 1421.1,1035.8 1421.4,1035.9 1421.7,1036.2 1422.0,1036.0 1422.4,1036.0 1422.7,1035.8 1423.0,1035.8 1423.4,1036.2 1423.7,1035.8 1424.0,1035.8 1424.4,1036.0 1424.7,1036.1 1425.0,1035.9 1425.4,1036.0 1425.7,1036.1 1426.0,1035.7 1426.4,1036.1 1426.7,1035.9 1427.0,1035.9 1427.4,1036.0 1427.7,1036.0 1428.0,1036.2 1428.4,1035.7 1428.7,1035.7 1429.0,1035.8 1429.4,1036.1 1429.7,1035.8 1430.0,1036.0 1430.4,1036.0 1430.7,1036.1 1431.0,1035.9 1431.4,1035.8 1431.7,1036.1 1432.0,1036.2 1432.4,1035.9 1432.7,1035.9 1433.0,1036.1 1433.4,1035.8 1433.7,1036.0 1434.0,1035.8 1434.4,1036.2 1434.7,1036.1 1435.0,1035.8 1435.4,1036.2 1435.7,1035.8 1436.0,1035.7 1436.4,1035.9 1436.7,1036.1 1437.0,1035.8 1437.4,1036.2 1437.7,1035.9 1438.0,1036.0 1438.4,1036.0 1438.7,1036.0 1439.0,1036.0 1439.4,1035.9 1439.7,1035.9 1440.0,1035.9 1440.3,1035.8 1440.7,1035.9 1441.0,1036.2 1441.3,1035.9 1441.7,1036.2 1442.0,1036.2 1442.3,1035.9 1442.7,1036.3 1443.0,1035.8 1443.3,1036.0 1443.7,1035.9 1444.0,1035.7 1444.3,1035.7 1444.7,1036.3 1445.0,1035.9 1445.3,1036.3 1445.7,1036.1 1446.0,1036.3 1446.3,1035.9 1446.7,1036.0 1447.0,1035.6 1447.3,1035.5 1447.7,1035.1 1448.0,1034.6 1448.3,1033.9 1448.7,1032.2 1449.0,1030.8 1449.3,1029.6 1449.7,1028.4 1450.0,1028.0 1450.3,1028.3 1450.7,1029.4 1451.0,1030.6 1451.3,1032.1 1451.7,1033.8 1452.0,1034.4 1452.3,1035.0 1452.7,1035.9 1453.0,1035.6 1453.3,1036.0 1453.7,1036.1 1454.0,1035.7 1454.3,1036.3 1454.7,1036.2 1455.0,1036.1 1455.3,1036.0 1455.7,1036.0 1456.0,1035.7 1456.3,1036.1 1456.7,1036.2 1457.0,1036.1 1457.3,1036.1 1457.7,1036.0 1458.0,1035.9 1458.3,1035.9 1458.7,1035.9 1459.0,1036.2 1459.3,1036.1 1459.6,1036.3 1460.0,1036.0 1460.3,1035.8 1460.6,1036.0 1461.0,1036.2 1461.3,1035.7 1461.6,1035.8 1462.0,1036.0 1462.3,1035.8 1462.6,1036.1 1463.0,1036.2 1463.3,1036.1 1463.6,1036.1 1464.0,1036.3 1464.3,1035.8 1464.6,1036.2 1465.0,1036.3 1465.3,1035.9 1465.6,1035.9 1466.0,1035.9 1466.3,1036.1 1466.6,1036.1 1467.0,1036.0 1467.3,1035.8 1467.6,1035.7 1468.0,1036.1 1468.3,1036.1 1468.6,1035.9 1469.0,1036.2 1469.3,1036.1 1469.6,1036.1 1470.0,1036.0 1470.3,1036.0 1470.6,1036.2 1471.0,1035.9 1471.3,1036.2 1471.6,1036.0 1472.0,1035.9 1472.3,1036.2 1472.6,1035.8 1473.0,1036.2 1473.3,1035.8 1473.6,1036.0 1474.0,1036.1 1474.3,1036.2 1474.6,1036.1 1475.0,1036.2 1475.3,1036.1 1475.6,1035.8 1476.0,1035.8 1476.3,1036.3 1476.6,1035.8 1477.0,1036.1 1477.3,1036.0 1477.6,1036.0 1477.9,1035.7 1478.3,1035.5 1478.6,1034.5 1478.9,1034.4 1479.3,1033.9 1479.6,1033.2 1479.9,1032.8 1480.3,1033.2 1480.6,1033.2 1480.9,1033.7 1481.3,1034.6 1481.6,1034.9 1481.9,1035.5 1482.3,1035.4 1482.6,1036.0 1482.9,1035.6 1483.3,1036.1 1483.6,1036.1 1483.9,1035.9 1484.3,1036.3 1484.6,1036.0 1484.9,1036.3 1485.3,1036.0 1485.6,1035.8 1485.9,1036.0 1486.3,1036.2 1486.6,1035.8 1486.9,1035.8 1487.3,1035.7 1487.6,1036.0 1487.9,1036.2 1488.3,1036.0 1488.6,1036.0 1488.9,1035.8 1489.3,1036.0 1489.6,1036.2 1489.9,1036.3 1490.3,1036.1 1490.6,1036.1 1490.9,1036.0 1491.3,1035.9 1491.6,1036.3 1491.9,1035.7 1492.3,1035.9 1492.6,1035.5 1492.9,1035.4 1493.3,1034.8 1493.6,1034.5 1493.9,1033.7 1494.3,1033.2 1494.6,1032.1 1494.9,1032.2 1495.3,1032.3 1495.6,1032.6 1495.9,1033.2 1496.2,1034.1 1496.6,1034.9 1496.9,1035.2 1497.2,1035.5 1497.6,1035.7 1497.9,1035.8 1498.2,1036.0 1498.6,1035.9 1498.9,1036.0 1499.2,1035.8 1499.6,1035.8 1499.9,1036.0 1500.2,1036.1 1500.6,1035.9 1500.9,1036.1 1501.2,1036.1 1501.6,1036.2 1501.9,1036.1 1502.2,1035.9 1502.6,1036.1 1502.9,1036.3 1503.2,1036.2 1503.6,1036.2 1503.9,1035.8 1504.2,1035.9 1504.6,1036.0 1504.9,1036.1 1505.2,1035.8 1505.6,1035.9 1505.9,1035.8 1506.2,1035.8 1506.6,1035.9 1506.9,1036.2 1507.2,1036.1 1507.6,1036.0 1507.9,1036.2 1508.2,1036.1 1508.6,1036.0 1508.9,1035.7 1509.2,1036.1 1509.6,1036.2 1509.9,1035.9 1510.2,1035.9 1510.6,1035.9 1510.9,1036.0 1511.2,1036.0 1511.6,1036.1 1511.9,1036.3 1512.2,1036.1 1512.6,1035.9 1512.9,1036.2 1513.2,1035.8 1513.6,1036.2 1513.9,1036.0 1514.2,1035.7 1514.5,1035.7 1514.9,1035.7 1515.2,1035.7 1515.5,1036.3 1515.9,1035.7 1516.2,1035.7 1516.5,1036.3 1516.9,1035.7 1517.2,1036.2 1517.5,1036.1 1517.9,1036.3 1518.2,1035.9 1518.5,1036.2 1518.9,1036.0 1519.2,1036.2 1519.5,1035.7 1519.9,1036.2 1520.2,1036.2 1520.5,1036.0 1520.9,1036.3 1521.2,1035.8 1521.5,1036.0 1521.9,1036.0 1522.2,1035.9 1522.5,1035.7 1522.9,1036.2 1523.2,1036.3 1523.5,1035.9 1523.9,1035.8 1524.2,1036.0 1524.5,1036.1 1524.9,1036.2 1525.2,1035.8 1525.5,1035.8 1525.9,1035.7 1526.2,1035.9 1526.5,1036.0 1526.9,1036.0 1527.2,1035.7 1527.5,1036.0 1527.9,1036.3 1528.2,1036.2 1528.5,1036.1 1528.9,1035.7 1529.2,1035.9 1529.5,1036.2 1529.9,1035.7 1530.2,1035.9 1530.5,1036.2 1530.9,1036.1 1531.2,1036.1 1531.5,1036.1 1531.9,1035.9 1532.2,1035.7 1532.5,1036.0 1532.9,1036.2 1533.2,1035.9 1533.5,1035.7 1533.8,1036.2 1534.2,1036.3 1534.5,1036.0 1534.8,1035.9 1535.2,1036.2 1535.5,1036.2 1535.8,1035.8 1536.2,1036.3 1536.5,1036.2 1536.8,1036.1 1537.2,1036.1 1537.5,1035.7 1537.8,1035.9 1538.2,1035.3 1538.5,1034.6 1538.8,1034.2 1539.2,1034.1 1539.5,1033.3 1539.8,1032.8 1540.2,1032.8 1540.5,1033.3 1540.8,1033.8 1541.2,1034.2 1541.5,1034.7 1541.8,1035.3 1542.2,1035.5 1542.5,1035.7 1542.8,1035.8 1543.2,1035.8 1543.5,1036.0 1543.8,1036.0 1544.2,1035.9 1544.5,1036.1 1544.8,1036.1 1545.2,1036.0 1545.5,1035.9 1545.8,1035.8 1546.2,1036.2 1546.5,1035.9 1546.8,1035.9 1547.2,1036.2 1547.5,1035.9 1547.8,1035.9 1548.2,1035.9 1548.5,1036.1 1548.8,1035.8 1549.2,1035.8 1549.5,1036.2 1549.8,1036.0 1550.2,1036.1 1550.5,1036.1 1550.8,1035.7 1551.2,1035.8 1551.5,1035.8 1551.8,1035.9 1552.1,1035.8 1552.5,1035.8 1552.8,1035.8 1553.1,1035.9 1553.5,1036.0 1553.8,1036.0 1554.1,1035.8 1554.5,1035.8 1554.8,1036.0 1555.1,1036.3 1555.5,1036.2 1555.8,1035.8 1556.1,1035.8 1556.5,1035.9 1556.8,1036.1 1557.1,1036.1 1557.5,1036.3 1557.8,1036.3 1558.1,1035.8 1558.5,1036.0 1558.8,1035.9 1559.1,1036.2 1559.5,1035.9 1559.8,1035.7 1560.1,1036.2 1560.5,1035.9 1560.8,1035.9 1561.1,1036.0 1561.5,1036.2 1561.8,1035.8 1562.1,1035.7 1562.5,1035.8 1562.8,1035.7 1563.1,1035.8 1563.5,1036.1 1563.8,1036.0 1564.1,1035.8 1564.5,1036.0 1564.8,1035.9 1565.1,1036.0 1565.5,1035.8 1565.8,1036.2 1566.1,1036.0 1566.5,1035.7 1566.8,1036.1 1567.1,1035.9 1567.5,1036.2 1567.8,1036.1 1568.1,1035.9 1568.5,1035.8 1568.8,1036.3 1569.1,1036.0 1569.5,1036.0 1569.8,1035.8 1570.1,1035.8 1570.4,1035.8 1570.8,1036.1 1571.1,1035.9 1571.4,1035.8 1571.8,1035.9 1572.1,1036.0 1572.4,1035.9 1572.8,1036.1 1573.1,1036.0 1573.4,1035.7 1573.8,1036.0 1574.1,1036.3 1574.4,1035.8 1574.8,1035.9 1575.1,1036.0 1575.4,1035.9 1575.8,1036.0 1576.1,1035.8 1576.4,1036.1 1576.8,1036.0 1577.1,1036.3 1577.4,1036.3 1577.8,1035.8 1578.1,1035.8 1578.4,1035.7 1578.8,1035.9 1579.1,1036.2 1579.4,1035.7 1579.8,1036.1 1580.1,1036.0 1580.4,1036.3 1580.8,1036.2 1581.1,1036.3 1581.4,1036.1 1581.8,1036.1 1582.1,1035.8 1582.4,1035.9 1582.8,1036.1 1583.1,1036.0 1583.4,1036.0 1583.8,1036.3 1584.1,1035.9 1584.4,1035.9 1584.8,1036.3 1585.1,1035.9 1585.4,1036.3 1585.8,1036.0 1586.1,1036.1 1586.4,1036.2 1586.8,1036.2 1587.1,1036.1 1587.4,1035.9 1587.8,1036.1 1588.1,1036.2 1588.4,1036.3 1588.7,1035.8 1589.1,1036.1 1589.4,1036.0 1589.7,1036.0 1590.1,1036.0 1590.4,1036.1 1590.7,1036.0 1591.1,1035.8 1591.4,1035.8 1591.7,1035.8 1592.1,1035.9 1592.4,1035.8 1592.7,1036.1 1593.1,1036.1 1593.4,1035.9 1593.7,1036.0 1594.1,1035.9 1594.4,1035.8 1594.7,1035.8 1595.1,1035.3 1595.4,1034.7 1595.7,1034.6 1596.1,1033.7 1596.4,1033.4 1596.7,1033.2 1597.1,1033.3 1597.4,1033.2 1597.7,1033.9 1598.1,1034.0 1598.4,1034.7 1598.7,1035.0 1599.1,1035.6 1599.4,1036.0 1599.7,1035.6 1600.1,1036.1 1600.4,1036.0 1600.7,1036.1 1601.1,1035.8 1601.4,1036.2 1601.7,1035.9 1602.1,1036.0 1602.4,1036.2 1602.7,1036.0 1603.1,1036.2 1603.4,1036.1 1603.7,1036.1 1604.1,1036.1 1604.4,1036.2 1604.7,1035.7 1605.1,1036.0 1605.4,1036.0 1605.7,1035.8 1606.1,1035.9 1606.4,1036.0 1606.7,1035.9 1607.0,1035.9 1607.4,1036.1 1607.7,1036.1 1608.0,1035.8 1608.4,1036.1 1608.7,1035.7 1609.0,1035.7 1609.4,1035.7 1609.7,1036.2 1610.0,1035.8 1610.4,1035.8 1610.7,1036.1 1611.0,1035.8 1611.4,1035.7 1611.7,1036.0 1612.0,1036.2 1612.4,1036.0 1612.7,1036.2 1613.0,1036.1 1613.4,1035.8 1613.7,1036.2 1614.0,1035.9 1614.4,1036.2 1614.7,1036.1 1615.0,1036.1 1615.4,1036.2 1615.7,1035.8 1616.0,1035.9 1616.4,1036.1 1616.7,1036.1 1617.0,1035.8 1617.4,1035.8 1617.7,1036.1 1618.0,1036.2 1618.4,1035.7 1618.7,1035.8 1619.0,1035.8 1619.4,1035.9 1619.7,1036.2 1620.0,1035.9 1620.4,1035.9 1620.7,1036.0 1621.0,1035.7 1621.4,1036.2 1621.7,1036.1 1622.0,1036.0 1622.4,1036.1 1622.7,1035.8 1623.0,1035.8 1623.4,1036.1 1623.7,1036.2 1624.0,1035.7 1624.4,1036.3 1624.7,1036.3 1625.0,1036.3 1625.4,1036.2 1625.7,1036.2 1626.0,1035.7 1626.3,1036.1 1626.7,1036.3 1627.0,1035.8 1627.3,1036.0 1627.7,1035.9 1628.0,1036.1 1628.3,1036.1 1628.7,1035.8 1629.0,1036.1 1629.3,1035.8 1629.7,1035.8 1630.0,1036.2 1630.3,1036.2 1630.7,1035.9 1631.0,1035.9 1631.3,1036.1 1631.7,1036.1 1632.0,1036.2 1632.3,1036.2 1632.7,1035.7 1633.0,1035.9 1633.3,1036.2 1633.7,1036.1 1634.0,1035.9 1634.3,1036.2 1634.7,1036.0 1635.0,1035.7 1635.3,1035.8 1635.7,1036.0 1636.0,1036.2 1636.3,1036.1 1636.7,1035.8 1637.0,1035.7 1637.3,1036.2 1637.7,1036.2 1638.0,1035.9 1638.3,1035.8 1638.7,1036.3 1639.0,1035.9 1639.3,1036.2 1639.7,1036.1 1640.0,1036.2 1640.3,1035.9 1640.7,1035.9 1641.0,1036.2 1641.3,1035.9 1641.7,1036.2 1642.0,1036.3 1642.3,1035.8 1642.7,1036.3 1643.0,1035.9 1643.3,1036.0 1643.7,1036.2 1644.0,1035.9 1644.3,1036.1 1644.6,1035.7 1645.0,1036.3 1645.3,1036.3 1645.6,1036.1 1646.0,1036.0 1646.3,1035.7 1646.6,1036.0 1647.0,1035.9 1647.3,1036.1 1647.6,1036.0 1648.0,1035.8 1648.3,1036.1 1648.6,1035.8 1649.0,1036.2 1649.3,1035.7 1649.6,1035.8 1650.0,1035.7 1650.3,1035.8 1650.6,1035.9 1651.0,1035.9 1651.3,1036.2 1651.6,1035.9 1652.0,1035.9 1652.3,1035.7 1652.6,1036.0 1653.0,1036.0 1653.3,1036.3" fill="none" stroke="#000" stroke-width="2.4" stroke-linejoin="round"/>
<g clip-path="url(#cliph)"><rect x="1228" y="1063" width="423" height="424" fill="#764412"/><g filter="url(#afmblur2)"><ellipse cx="1205" cy="1462" rx="34" ry="20" fill="url(#afmd)" opacity="0.95"/><ellipse cx="1219" cy="1510" rx="39" ry="18" fill="url(#afmd)" opacity="0.88"/><ellipse cx="1211" cy="1294" rx="33" ry="18" fill="url(#afmd)" opacity="0.96"/><ellipse cx="1225" cy="1342" rx="33" ry="19" fill="url(#afmd)" opacity="0.88"/><ellipse cx="1239" cy="1390" rx="34" ry="19" fill="url(#afmd)" opacity="0.98"/><ellipse cx="1253" cy="1438" rx="37" ry="17" fill="url(#afmd)" opacity="0.89"/><ellipse cx="1267" cy="1486" rx="33" ry="20" fill="url(#afmd)" opacity="0.97"/><ellipse cx="1281" cy="1534" rx="38" ry="20" fill="url(#afmd)" opacity="0.96"/><ellipse cx="1217" cy="1126" rx="40" ry="20" fill="url(#afmd)" opacity="0.89"/><ellipse cx="1231" cy="1174" rx="39" ry="19" fill="url(#afmd)" opacity="0.96"/><ellipse cx="1245" cy="1222" rx="37" ry="19" fill="url(#afmd)" opacity="0.90"/><ellipse cx="1259" cy="1270" rx="35" ry="18" fill="url(#afmd)" opacity="0.87"/><ellipse cx="1273" cy="1318" rx="39" ry="20" fill="url(#afmd)" opacity="1.00"/><ellipse cx="1287" cy="1366" rx="38" ry="19" fill="url(#afmd)" opacity="0.96"/><ellipse cx="1301" cy="1414" rx="33" ry="20" fill="url(#afmd)" opacity="0.92"/><ellipse cx="1315" cy="1462" rx="33" ry="18" fill="url(#afmd)" opacity="0.93"/><ellipse cx="1329" cy="1510" rx="34" ry="19" fill="url(#afmd)" opacity="0.94"/><ellipse cx="1251" cy="1054" rx="35" ry="18" fill="url(#afmd)" opacity="0.92"/><ellipse cx="1265" cy="1102" rx="34" ry="18" fill="url(#afmd)" opacity="0.88"/><ellipse cx="1279" cy="1150" rx="35" ry="17" fill="url(#afmd)" opacity="0.95"/><ellipse cx="1293" cy="1198" rx="40" ry="19" fill="url(#afmd)" opacity="0.96"/><ellipse cx="1307" cy="1246" rx="39" ry="17" fill="url(#afmd)" opacity="0.87"/><ellipse cx="1321" cy="1294" rx="38" ry="20" fill="url(#afmd)" opacity="0.95"/><ellipse cx="1335" cy="1342" rx="33" ry="19" fill="url(#afmd)" opacity="0.98"/><ellipse cx="1349" cy="1390" rx="39" ry="20" fill="url(#afmd)" opacity="0.88"/><ellipse cx="1363" cy="1438" rx="39" ry="18" fill="url(#afmd)" opacity="0.96"/><ellipse cx="1377" cy="1486" rx="33" ry="21" fill="url(#afmd)" opacity="0.94"/><ellipse cx="1391" cy="1534" rx="38" ry="18" fill="url(#afmd)" opacity="0.94"/><ellipse cx="1299" cy="1030" rx="37" ry="19" fill="url(#afmd)" opacity="0.90"/><ellipse cx="1313" cy="1078" rx="38" ry="18" fill="url(#afmd)" opacity="0.89"/><ellipse cx="1327" cy="1126" rx="33" ry="20" fill="url(#afmd)" opacity="0.87"/><ellipse cx="1341" cy="1174" rx="34" ry="17" fill="url(#afmd)" opacity="0.95"/><ellipse cx="1355" cy="1222" rx="36" ry="19" fill="url(#afmd)" opacity="0.86"/><ellipse cx="1369" cy="1270" rx="36" ry="18" fill="url(#afmd)" opacity="0.86"/><ellipse cx="1383" cy="1318" rx="32" ry="21" fill="url(#afmd)" opacity="0.87"/><ellipse cx="1397" cy="1366" rx="34" ry="18" fill="url(#afmd)" opacity="0.94"/><ellipse cx="1411" cy="1414" rx="33" ry="19" fill="url(#afmd)" opacity="0.91"/><ellipse cx="1425" cy="1462" rx="39" ry="17" fill="url(#afmd)" opacity="0.90"/><ellipse cx="1439" cy="1510" rx="36" ry="21" fill="url(#afmd)" opacity="0.93"/><ellipse cx="1361" cy="1054" rx="36" ry="20" fill="url(#afmd)" opacity="0.89"/><ellipse cx="1375" cy="1102" rx="32" ry="19" fill="url(#afmd)" opacity="0.99"/><ellipse cx="1389" cy="1150" rx="38" ry="18" fill="url(#afmd)" opacity="0.95"/><ellipse cx="1403" cy="1198" rx="39" ry="18" fill="url(#afmd)" opacity="0.94"/><ellipse cx="1417" cy="1246" rx="35" ry="18" fill="url(#afmd)" opacity="0.89"/><ellipse cx="1431" cy="1294" rx="34" ry="18" fill="url(#afmd)" opacity="0.86"/><ellipse cx="1445" cy="1342" rx="35" ry="17" fill="url(#afmd)" opacity="0.96"/><ellipse cx="1459" cy="1390" rx="37" ry="17" fill="url(#afmd)" opacity="0.97"/><ellipse cx="1473" cy="1438" rx="34" ry="19" fill="url(#afmd)" opacity="0.93"/><ellipse cx="1487" cy="1486" rx="35" ry="18" fill="url(#afmd)" opacity="0.92"/><ellipse cx="1501" cy="1534" rx="33" ry="20" fill="url(#afmd)" opacity="0.87"/><ellipse cx="1409" cy="1030" rx="39" ry="18" fill="url(#afmd)" opacity="0.90"/><ellipse cx="1423" cy="1078" rx="35" ry="17" fill="url(#afmd)" opacity="0.87"/><ellipse cx="1437" cy="1126" rx="35" ry="19" fill="url(#afmd)" opacity="0.98"/><ellipse cx="1451" cy="1174" rx="40" ry="17" fill="url(#afmd)" opacity="0.93"/><ellipse cx="1465" cy="1222" rx="33" ry="20" fill="url(#afmd)" opacity="0.90"/><ellipse cx="1479" cy="1270" rx="39" ry="19" fill="url(#afmd)" opacity="0.87"/><ellipse cx="1493" cy="1318" rx="32" ry="18" fill="url(#afmd)" opacity="0.98"/><ellipse cx="1507" cy="1366" rx="33" ry="19" fill="url(#afmd)" opacity="0.91"/><ellipse cx="1521" cy="1414" rx="35" ry="20" fill="url(#afmd)" opacity="0.88"/><ellipse cx="1535" cy="1462" rx="38" ry="20" fill="url(#afmd)" opacity="0.99"/><ellipse cx="1549" cy="1510" rx="36" ry="21" fill="url(#afmd)" opacity="0.92"/><ellipse cx="1471" cy="1054" rx="37" ry="19" fill="url(#afmd)" opacity="0.98"/><ellipse cx="1485" cy="1102" rx="39" ry="17" fill="url(#afmd)" opacity="0.87"/><ellipse cx="1499" cy="1150" rx="36" ry="20" fill="url(#afmd)" opacity="0.93"/><ellipse cx="1513" cy="1198" rx="34" ry="21" fill="url(#afmd)" opacity="0.89"/><ellipse cx="1527" cy="1246" rx="33" ry="17" fill="url(#afmd)" opacity="0.85"/><ellipse cx="1541" cy="1294" rx="38" ry="17" fill="url(#afmd)" opacity="0.96"/><ellipse cx="1555" cy="1342" rx="39" ry="21" fill="url(#afmd)" opacity="0.97"/><ellipse cx="1569" cy="1390" rx="35" ry="19" fill="url(#afmd)" opacity="0.97"/><ellipse cx="1583" cy="1438" rx="38" ry="18" fill="url(#afmd)" opacity="0.96"/><ellipse cx="1597" cy="1486" rx="33" ry="18" fill="url(#afmd)" opacity="1.00"/><ellipse cx="1611" cy="1534" rx="36" ry="18" fill="url(#afmd)" opacity="0.97"/><ellipse cx="1519" cy="1030" rx="36" ry="17" fill="url(#afmd)" opacity="0.85"/><ellipse cx="1533" cy="1078" rx="34" ry="18" fill="url(#afmd)" opacity="0.99"/><ellipse cx="1547" cy="1126" rx="34" ry="20" fill="url(#afmd)" opacity="0.98"/><ellipse cx="1561" cy="1174" rx="35" ry="21" fill="url(#afmd)" opacity="0.96"/><ellipse cx="1575" cy="1222" rx="36" ry="18" fill="url(#afmd)" opacity="0.92"/><ellipse cx="1589" cy="1270" rx="39" ry="19" fill="url(#afmd)" opacity="0.88"/><ellipse cx="1603" cy="1318" rx="35" ry="19" fill="url(#afmd)" opacity="0.88"/><ellipse cx="1617" cy="1366" rx="37" ry="17" fill="url(#afmd)" opacity="0.97"/><ellipse cx="1631" cy="1414" rx="33" ry="17" fill="url(#afmd)" opacity="0.94"/><ellipse cx="1645" cy="1462" rx="34" ry="21" fill="url(#afmd)" opacity="0.92"/><ellipse cx="1659" cy="1510" rx="36" ry="20" fill="url(#afmd)" opacity="0.88"/><ellipse cx="1581" cy="1054" rx="38" ry="20" fill="url(#afmd)" opacity="0.91"/><ellipse cx="1595" cy="1102" rx="40" ry="17" fill="url(#afmd)" opacity="0.98"/><ellipse cx="1609" cy="1150" rx="33" ry="20" fill="url(#afmd)" opacity="0.87"/><ellipse cx="1623" cy="1198" rx="32" ry="19" fill="url(#afmd)" opacity="0.99"/><ellipse cx="1637" cy="1246" rx="34" ry="19" fill="url(#afmd)" opacity="0.94"/><ellipse cx="1651" cy="1294" rx="34" ry="19" fill="url(#afmd)" opacity="0.85"/><ellipse cx="1665" cy="1342" rx="36" ry="20" fill="url(#afmd)" opacity="0.90"/><ellipse cx="1679" cy="1390" rx="34" ry="17" fill="url(#afmd)" opacity="0.96"/><ellipse cx="1693" cy="1438" rx="35" ry="21" fill="url(#afmd)" opacity="0.96"/><ellipse cx="1707" cy="1486" rx="33" ry="21" fill="url(#afmd)" opacity="0.99"/><ellipse cx="1721" cy="1534" rx="39" ry="20" fill="url(#afmd)" opacity="0.95"/><ellipse cx="1629" cy="1030" rx="38" ry="20" fill="url(#afmd)" opacity="0.94"/><ellipse cx="1643" cy="1078" rx="34" ry="18" fill="url(#afmd)" opacity="0.96"/><ellipse cx="1657" cy="1126" rx="37" ry="17" fill="url(#afmd)" opacity="0.95"/><ellipse cx="1671" cy="1174" rx="37" ry="19" fill="url(#afmd)" opacity="0.97"/><ellipse cx="1685" cy="1222" rx="39" ry="19" fill="url(#afmd)" opacity="0.97"/><ellipse cx="1699" cy="1270" rx="36" ry="19" fill="url(#afmd)" opacity="0.91"/><ellipse cx="1713" cy="1318" rx="39" ry="19" fill="url(#afmd)" opacity="0.99"/><ellipse cx="1727" cy="1366" rx="35" ry="20" fill="url(#afmd)" opacity="0.99"/><ellipse cx="1691" cy="1054" rx="37" ry="19" fill="url(#afmd)" opacity="0.86"/><ellipse cx="1705" cy="1102" rx="36" ry="19" fill="url(#afmd)" opacity="0.97"/><ellipse cx="1719" cy="1150" rx="38" ry="21" fill="url(#afmd)" opacity="0.92"/><ellipse cx="1179" cy="1450" rx="30" ry="11" fill="url(#afmb)" opacity="0.80"/><ellipse cx="1200" cy="1437" rx="16" ry="10" fill="url(#afmb)" opacity="0.42"/><ellipse cx="1192" cy="1496" rx="32" ry="11" fill="url(#afmb)" opacity="0.78"/><ellipse cx="1214" cy="1483" rx="17" ry="8" fill="url(#afmb)" opacity="0.41"/><ellipse cx="1200" cy="1489" rx="9" ry="6" fill="#fff4c0" opacity="0.75"/><ellipse cx="1187" cy="1283" rx="30" ry="14" fill="url(#afmb)" opacity="0.96"/><ellipse cx="1207" cy="1267" rx="19" ry="9" fill="url(#afmb)" opacity="0.53"/><ellipse cx="1197" cy="1331" rx="27" ry="13" fill="url(#afmb)" opacity="0.81"/><ellipse cx="1222" cy="1318" rx="18" ry="10" fill="url(#afmb)" opacity="0.45"/><ellipse cx="1211" cy="1379" rx="25" ry="14" fill="url(#afmb)" opacity="0.99"/><ellipse cx="1236" cy="1368" rx="16" ry="8" fill="url(#afmb)" opacity="0.39"/><ellipse cx="1203" cy="1382" rx="11" ry="5" fill="#fff4c0" opacity="0.68"/><ellipse cx="1226" cy="1425" rx="27" ry="11" fill="url(#afmb)" opacity="0.97"/><ellipse cx="1248" cy="1412" rx="20" ry="9" fill="url(#afmb)" opacity="0.51"/><ellipse cx="1218" cy="1416" rx="11" ry="5" fill="#fff4c0" opacity="0.46"/><ellipse cx="1245" cy="1471" rx="27" ry="14" fill="url(#afmb)" opacity="0.94"/><ellipse cx="1262" cy="1463" rx="19" ry="9" fill="url(#afmb)" opacity="0.68"/><ellipse cx="1257" cy="1524" rx="28" ry="13" fill="url(#afmb)" opacity="0.95"/><ellipse cx="1281" cy="1509" rx="14" ry="9" fill="url(#afmb)" opacity="0.47"/><ellipse cx="1250" cy="1523" rx="10" ry="7" fill="#fff4c0" opacity="0.64"/><ellipse cx="1192" cy="1116" rx="28" ry="13" fill="url(#afmb)" opacity="0.94"/><ellipse cx="1218" cy="1103" rx="21" ry="9" fill="url(#afmb)" opacity="0.54"/><ellipse cx="1185" cy="1113" rx="11" ry="7" fill="#fff4c0" opacity="0.42"/><ellipse cx="1205" cy="1163" rx="28" ry="14" fill="url(#afmb)" opacity="0.79"/><ellipse cx="1233" cy="1150" rx="19" ry="7" fill="url(#afmb)" opacity="0.49"/><ellipse cx="1222" cy="1210" rx="27" ry="11" fill="url(#afmb)" opacity="0.92"/><ellipse cx="1243" cy="1199" rx="19" ry="8" fill="url(#afmb)" opacity="0.66"/><ellipse cx="1233" cy="1202" rx="14" ry="6" fill="#fff4c0" opacity="0.58"/><ellipse cx="1237" cy="1258" rx="28" ry="11" fill="url(#afmb)" opacity="0.95"/><ellipse cx="1259" cy="1244" rx="15" ry="8" fill="url(#afmb)" opacity="0.68"/><ellipse cx="1248" cy="1303" rx="31" ry="12" fill="url(#afmb)" opacity="0.93"/><ellipse cx="1272" cy="1297" rx="15" ry="9" fill="url(#afmb)" opacity="0.60"/><ellipse cx="1250" cy="1302" rx="12" ry="7" fill="#fff4c0" opacity="0.67"/><ellipse cx="1262" cy="1355" rx="26" ry="13" fill="url(#afmb)" opacity="0.78"/><ellipse cx="1288" cy="1339" rx="18" ry="8" fill="url(#afmb)" opacity="0.55"/><ellipse cx="1249" cy="1356" rx="12" ry="7" fill="#fff4c0" opacity="0.67"/><ellipse cx="1280" cy="1400" rx="29" ry="14" fill="url(#afmb)" opacity="0.79"/><ellipse cx="1296" cy="1388" rx="18" ry="9" fill="url(#afmb)" opacity="0.60"/><ellipse cx="1287" cy="1451" rx="28" ry="12" fill="url(#afmb)" opacity="0.90"/><ellipse cx="1311" cy="1437" rx="18" ry="9" fill="url(#afmb)" opacity="0.39"/><ellipse cx="1283" cy="1453" rx="13" ry="5" fill="#fff4c0" opacity="0.69"/><ellipse cx="1304" cy="1496" rx="26" ry="13" fill="url(#afmb)" opacity="0.95"/><ellipse cx="1329" cy="1483" rx="20" ry="9" fill="url(#afmb)" opacity="0.50"/><ellipse cx="1302" cy="1502" rx="10" ry="4" fill="#fff4c0" opacity="0.75"/><ellipse cx="1226" cy="1039" rx="31" ry="11" fill="url(#afmb)" opacity="0.84"/><ellipse cx="1251" cy="1031" rx="21" ry="8" fill="url(#afmb)" opacity="0.55"/><ellipse cx="1240" cy="1091" rx="28" ry="14" fill="url(#afmb)" opacity="0.99"/><ellipse cx="1262" cy="1079" rx="17" ry="10" fill="url(#afmb)" opacity="0.62"/><ellipse cx="1257" cy="1139" rx="32" ry="12" fill="url(#afmb)" opacity="0.89"/><ellipse cx="1274" cy="1126" rx="19" ry="8" fill="url(#afmb)" opacity="0.63"/><ellipse cx="1246" cy="1132" rx="11" ry="5" fill="#fff4c0" opacity="0.42"/><ellipse cx="1266" cy="1189" rx="28" ry="14" fill="url(#afmb)" opacity="0.86"/><ellipse cx="1288" cy="1175" rx="16" ry="7" fill="url(#afmb)" opacity="0.57"/><ellipse cx="1278" cy="1237" rx="24" ry="12" fill="url(#afmb)" opacity="0.83"/><ellipse cx="1309" cy="1223" rx="20" ry="8" fill="url(#afmb)" opacity="0.67"/><ellipse cx="1295" cy="1225" rx="9" ry="6" fill="#fff4c0" opacity="0.71"/><ellipse cx="1297" cy="1280" rx="31" ry="13" fill="url(#afmb)" opacity="0.80"/><ellipse cx="1316" cy="1273" rx="14" ry="8" fill="url(#afmb)" opacity="0.47"/><ellipse cx="1313" cy="1332" rx="29" ry="11" fill="url(#afmb)" opacity="0.93"/><ellipse cx="1331" cy="1321" rx="22" ry="7" fill="url(#afmb)" opacity="0.61"/><ellipse cx="1299" cy="1337" rx="11" ry="5" fill="#fff4c0" opacity="0.62"/><ellipse cx="1321" cy="1378" rx="29" ry="14" fill="url(#afmb)" opacity="0.78"/><ellipse cx="1352" cy="1364" rx="16" ry="8" fill="url(#afmb)" opacity="0.41"/><ellipse cx="1328" cy="1376" rx="9" ry="6" fill="#fff4c0" opacity="0.45"/><ellipse cx="1339" cy="1429" rx="28" ry="13" fill="url(#afmb)" opacity="0.85"/><ellipse cx="1361" cy="1413" rx="15" ry="8" fill="url(#afmb)" opacity="0.59"/><ellipse cx="1326" cy="1419" rx="13" ry="5" fill="#fff4c0" opacity="0.73"/><ellipse cx="1353" cy="1475" rx="27" ry="13" fill="url(#afmb)" opacity="0.85"/><ellipse cx="1376" cy="1465" rx="15" ry="8" fill="url(#afmb)" opacity="0.67"/><ellipse cx="1369" cy="1524" rx="25" ry="14" fill="url(#afmb)" opacity="0.78"/><ellipse cx="1393" cy="1509" rx="18" ry="9" fill="url(#afmb)" opacity="0.42"/><ellipse cx="1277" cy="1018" rx="28" ry="12" fill="url(#afmb)" opacity="0.80"/><ellipse cx="1296" cy="1008" rx="22" ry="8" fill="url(#afmb)" opacity="0.45"/><ellipse cx="1284" cy="1013" rx="9" ry="5" fill="#fff4c0" opacity="0.43"/><ellipse cx="1285" cy="1064" rx="29" ry="15" fill="url(#afmb)" opacity="0.81"/><ellipse cx="1310" cy="1055" rx="14" ry="7" fill="url(#afmb)" opacity="0.55"/><ellipse cx="1284" cy="1064" rx="8" ry="5" fill="#fff4c0" opacity="0.47"/><ellipse cx="1300" cy="1111" rx="31" ry="11" fill="url(#afmb)" opacity="0.85"/><ellipse cx="1323" cy="1100" rx="20" ry="10" fill="url(#afmb)" opacity="0.69"/><ellipse cx="1303" cy="1113" rx="8" ry="5" fill="#fff4c0" opacity="0.64"/><ellipse cx="1315" cy="1164" rx="28" ry="12" fill="url(#afmb)" opacity="0.97"/><ellipse cx="1341" cy="1149" rx="21" ry="8" fill="url(#afmb)" opacity="0.56"/><ellipse cx="1326" cy="1167" rx="11" ry="5" fill="#fff4c0" opacity="0.71"/><ellipse cx="1333" cy="1211" rx="31" ry="13" fill="url(#afmb)" opacity="0.85"/><ellipse cx="1352" cy="1197" rx="15" ry="10" fill="url(#afmb)" opacity="0.54"/><ellipse cx="1322" cy="1208" rx="13" ry="7" fill="#fff4c0" opacity="0.70"/><ellipse cx="1342" cy="1258" rx="32" ry="13" fill="url(#afmb)" opacity="0.91"/><ellipse cx="1364" cy="1246" rx="18" ry="10" fill="url(#afmb)" opacity="0.69"/><ellipse cx="1357" cy="1308" rx="31" ry="11" fill="url(#afmb)" opacity="0.86"/><ellipse cx="1383" cy="1293" rx="16" ry="9" fill="url(#afmb)" opacity="0.42"/><ellipse cx="1368" cy="1354" rx="32" ry="11" fill="url(#afmb)" opacity="0.78"/><ellipse cx="1400" cy="1344" rx="18" ry="8" fill="url(#afmb)" opacity="0.45"/><ellipse cx="1387" cy="1402" rx="30" ry="11" fill="url(#afmb)" opacity="0.85"/><ellipse cx="1414" cy="1392" rx="18" ry="9" fill="url(#afmb)" opacity="0.66"/><ellipse cx="1397" cy="1448" rx="29" ry="12" fill="url(#afmb)" opacity="0.88"/><ellipse cx="1419" cy="1441" rx="16" ry="9" fill="url(#afmb)" opacity="0.57"/><ellipse cx="1392" cy="1451" rx="10" ry="4" fill="#fff4c0" opacity="0.47"/><ellipse cx="1410" cy="1500" rx="26" ry="15" fill="url(#afmb)" opacity="0.90"/><ellipse cx="1443" cy="1486" rx="16" ry="7" fill="url(#afmb)" opacity="0.57"/><ellipse cx="1337" cy="1044" rx="25" ry="14" fill="url(#afmb)" opacity="0.93"/><ellipse cx="1364" cy="1029" rx="21" ry="7" fill="url(#afmb)" opacity="0.56"/><ellipse cx="1337" cy="1035" rx="10" ry="5" fill="#fff4c0" opacity="0.59"/><ellipse cx="1349" cy="1088" rx="25" ry="13" fill="url(#afmb)" opacity="1.00"/><ellipse cx="1377" cy="1076" rx="19" ry="7" fill="url(#afmb)" opacity="0.46"/><ellipse cx="1363" cy="1136" rx="28" ry="13" fill="url(#afmb)" opacity="0.88"/><ellipse cx="1392" cy="1126" rx="17" ry="8" fill="url(#afmb)" opacity="0.55"/><ellipse cx="1378" cy="1185" rx="26" ry="14" fill="url(#afmb)" opacity="1.00"/><ellipse cx="1403" cy="1175" rx="17" ry="7" fill="url(#afmb)" opacity="0.37"/><ellipse cx="1395" cy="1235" rx="29" ry="14" fill="url(#afmb)" opacity="0.85"/><ellipse cx="1415" cy="1221" rx="21" ry="9" fill="url(#afmb)" opacity="0.53"/><ellipse cx="1409" cy="1279" rx="26" ry="13" fill="url(#afmb)" opacity="0.93"/><ellipse cx="1427" cy="1270" rx="19" ry="8" fill="url(#afmb)" opacity="0.58"/><ellipse cx="1404" cy="1285" rx="13" ry="6" fill="#fff4c0" opacity="0.67"/><ellipse cx="1421" cy="1331" rx="28" ry="12" fill="url(#afmb)" opacity="0.78"/><ellipse cx="1448" cy="1320" rx="19" ry="9" fill="url(#afmb)" opacity="0.46"/><ellipse cx="1421" cy="1329" rx="12" ry="7" fill="#fff4c0" opacity="0.56"/><ellipse cx="1433" cy="1379" rx="31" ry="13" fill="url(#afmb)" opacity="0.90"/><ellipse cx="1462" cy="1369" rx="14" ry="10" fill="url(#afmb)" opacity="0.38"/><ellipse cx="1448" cy="1429" rx="26" ry="11" fill="url(#afmb)" opacity="0.99"/><ellipse cx="1472" cy="1414" rx="17" ry="8" fill="url(#afmb)" opacity="0.36"/><ellipse cx="1460" cy="1474" rx="32" ry="15" fill="url(#afmb)" opacity="0.83"/><ellipse cx="1484" cy="1460" rx="19" ry="8" fill="url(#afmb)" opacity="0.39"/><ellipse cx="1476" cy="1524" rx="26" ry="12" fill="url(#afmb)" opacity="0.89"/><ellipse cx="1502" cy="1508" rx="18" ry="9" fill="url(#afmb)" opacity="0.52"/><ellipse cx="1475" cy="1514" rx="9" ry="4" fill="#fff4c0" opacity="0.73"/><ellipse cx="1382" cy="1019" rx="25" ry="15" fill="url(#afmb)" opacity="0.76"/><ellipse cx="1411" cy="1006" rx="21" ry="10" fill="url(#afmb)" opacity="0.35"/><ellipse cx="1377" cy="1009" rx="13" ry="4" fill="#fff4c0" opacity="0.67"/><ellipse cx="1402" cy="1067" rx="32" ry="14" fill="url(#afmb)" opacity="0.85"/><ellipse cx="1427" cy="1052" rx="18" ry="8" fill="url(#afmb)" opacity="0.54"/><ellipse cx="1411" cy="1076" rx="12" ry="5" fill="#fff4c0" opacity="0.78"/><ellipse cx="1416" cy="1111" rx="31" ry="11" fill="url(#afmb)" opacity="0.77"/><ellipse cx="1434" cy="1101" rx="18" ry="10" fill="url(#afmb)" opacity="0.40"/><ellipse cx="1426" cy="1160" rx="32" ry="15" fill="url(#afmb)" opacity="0.84"/><ellipse cx="1454" cy="1150" rx="19" ry="10" fill="url(#afmb)" opacity="0.57"/><ellipse cx="1413" cy="1161" rx="11" ry="5" fill="#fff4c0" opacity="0.63"/><ellipse cx="1436" cy="1209" rx="28" ry="13" fill="url(#afmb)" opacity="0.93"/><ellipse cx="1461" cy="1197" rx="20" ry="8" fill="url(#afmb)" opacity="0.40"/><ellipse cx="1453" cy="1259" rx="32" ry="15" fill="url(#afmb)" opacity="0.95"/><ellipse cx="1483" cy="1248" rx="17" ry="10" fill="url(#afmb)" opacity="0.39"/><ellipse cx="1454" cy="1250" rx="12" ry="6" fill="#fff4c0" opacity="0.48"/><ellipse cx="1470" cy="1304" rx="28" ry="12" fill="url(#afmb)" opacity="0.98"/><ellipse cx="1488" cy="1293" rx="20" ry="8" fill="url(#afmb)" opacity="0.64"/><ellipse cx="1456" cy="1296" rx="11" ry="5" fill="#fff4c0" opacity="0.61"/><ellipse cx="1482" cy="1356" rx="26" ry="12" fill="url(#afmb)" opacity="0.81"/><ellipse cx="1509" cy="1344" rx="15" ry="7" fill="url(#afmb)" opacity="0.70"/><ellipse cx="1494" cy="1402" rx="24" ry="13" fill="url(#afmb)" opacity="0.79"/><ellipse cx="1522" cy="1388" rx="19" ry="8" fill="url(#afmb)" opacity="0.52"/><ellipse cx="1510" cy="1453" rx="30" ry="12" fill="url(#afmb)" opacity="0.81"/><ellipse cx="1537" cy="1440" rx="15" ry="9" fill="url(#afmb)" opacity="0.45"/><ellipse cx="1527" cy="1501" rx="25" ry="12" fill="url(#afmb)" opacity="0.82"/><ellipse cx="1549" cy="1489" rx="19" ry="9" fill="url(#afmb)" opacity="0.64"/><ellipse cx="1521" cy="1504" rx="12" ry="7" fill="#fff4c0" opacity="0.80"/><ellipse cx="1446" cy="1041" rx="25" ry="13" fill="url(#afmb)" opacity="0.83"/><ellipse cx="1468" cy="1030" rx="20" ry="9" fill="url(#afmb)" opacity="0.51"/><ellipse cx="1461" cy="1092" rx="29" ry="14" fill="url(#afmb)" opacity="0.81"/><ellipse cx="1488" cy="1075" rx="21" ry="7" fill="url(#afmb)" opacity="0.56"/><ellipse cx="1451" cy="1095" rx="9" ry="6" fill="#fff4c0" opacity="0.43"/><ellipse cx="1472" cy="1137" rx="29" ry="14" fill="url(#afmb)" opacity="0.84"/><ellipse cx="1502" cy="1123" rx="16" ry="8" fill="url(#afmb)" opacity="0.56"/><ellipse cx="1491" cy="1185" rx="29" ry="14" fill="url(#afmb)" opacity="0.79"/><ellipse cx="1511" cy="1174" rx="19" ry="9" fill="url(#afmb)" opacity="0.40"/><ellipse cx="1483" cy="1178" rx="13" ry="7" fill="#fff4c0" opacity="0.69"/><ellipse cx="1500" cy="1235" rx="24" ry="12" fill="url(#afmb)" opacity="0.81"/><ellipse cx="1527" cy="1222" rx="18" ry="7" fill="url(#afmb)" opacity="0.53"/><ellipse cx="1519" cy="1281" rx="28" ry="14" fill="url(#afmb)" opacity="0.76"/><ellipse cx="1541" cy="1268" rx="20" ry="9" fill="url(#afmb)" opacity="0.38"/><ellipse cx="1528" cy="1278" rx="11" ry="6" fill="#fff4c0" opacity="0.55"/><ellipse cx="1527" cy="1331" rx="27" ry="13" fill="url(#afmb)" opacity="0.95"/><ellipse cx="1558" cy="1317" rx="17" ry="9" fill="url(#afmb)" opacity="0.51"/><ellipse cx="1543" cy="1375" rx="26" ry="15" fill="url(#afmb)" opacity="0.89"/><ellipse cx="1573" cy="1368" rx="19" ry="8" fill="url(#afmb)" opacity="0.50"/><ellipse cx="1539" cy="1372" rx="14" ry="4" fill="#fff4c0" opacity="0.54"/><ellipse cx="1554" cy="1424" rx="30" ry="13" fill="url(#afmb)" opacity="0.88"/><ellipse cx="1585" cy="1415" rx="16" ry="9" fill="url(#afmb)" opacity="0.59"/><ellipse cx="1572" cy="1476" rx="29" ry="11" fill="url(#afmb)" opacity="0.96"/><ellipse cx="1598" cy="1461" rx="20" ry="10" fill="url(#afmb)" opacity="0.61"/><ellipse cx="1581" cy="1466" rx="8" ry="5" fill="#fff4c0" opacity="0.61"/><ellipse cx="1587" cy="1523" rx="28" ry="12" fill="url(#afmb)" opacity="0.93"/><ellipse cx="1611" cy="1508" rx="19" ry="8" fill="url(#afmb)" opacity="0.63"/><ellipse cx="1498" cy="1020" rx="28" ry="14" fill="url(#afmb)" opacity="0.82"/><ellipse cx="1519" cy="1009" rx="15" ry="8" fill="url(#afmb)" opacity="0.50"/><ellipse cx="1506" cy="1067" rx="25" ry="15" fill="url(#afmb)" opacity="0.77"/><ellipse cx="1533" cy="1055" rx="18" ry="8" fill="url(#afmb)" opacity="0.48"/><ellipse cx="1522" cy="1114" rx="32" ry="13" fill="url(#afmb)" opacity="0.95"/><ellipse cx="1547" cy="1104" rx="19" ry="7" fill="url(#afmb)" opacity="0.43"/><ellipse cx="1514" cy="1116" rx="11" ry="5" fill="#fff4c0" opacity="0.41"/><ellipse cx="1540" cy="1162" rx="26" ry="14" fill="url(#afmb)" opacity="0.77"/><ellipse cx="1556" cy="1153" rx="19" ry="8" fill="url(#afmb)" opacity="0.40"/><ellipse cx="1548" cy="1209" rx="26" ry="14" fill="url(#afmb)" opacity="0.81"/><ellipse cx="1570" cy="1200" rx="18" ry="7" fill="url(#afmb)" opacity="0.37"/><ellipse cx="1564" cy="1258" rx="31" ry="11" fill="url(#afmb)" opacity="0.78"/><ellipse cx="1585" cy="1247" rx="15" ry="9" fill="url(#afmb)" opacity="0.63"/><ellipse cx="1569" cy="1249" rx="11" ry="5" fill="#fff4c0" opacity="0.67"/><ellipse cx="1577" cy="1307" rx="31" ry="15" fill="url(#afmb)" opacity="0.95"/><ellipse cx="1604" cy="1297" rx="17" ry="7" fill="url(#afmb)" opacity="0.63"/><ellipse cx="1573" cy="1315" rx="10" ry="4" fill="#fff4c0" opacity="0.76"/><ellipse cx="1588" cy="1351" rx="30" ry="12" fill="url(#afmb)" opacity="0.93"/><ellipse cx="1611" cy="1341" rx="17" ry="9" fill="url(#afmb)" opacity="0.61"/><ellipse cx="1604" cy="1404" rx="24" ry="13" fill="url(#afmb)" opacity="0.76"/><ellipse cx="1633" cy="1390" rx="18" ry="10" fill="url(#afmb)" opacity="0.43"/><ellipse cx="1622" cy="1447" rx="30" ry="12" fill="url(#afmb)" opacity="0.93"/><ellipse cx="1647" cy="1437" rx="17" ry="8" fill="url(#afmb)" opacity="0.39"/><ellipse cx="1636" cy="1501" rx="28" ry="13" fill="url(#afmb)" opacity="0.91"/><ellipse cx="1661" cy="1487" rx="22" ry="10" fill="url(#afmb)" opacity="0.69"/><ellipse cx="1635" cy="1491" rx="11" ry="6" fill="#fff4c0" opacity="0.54"/><ellipse cx="1559" cy="1044" rx="31" ry="12" fill="url(#afmb)" opacity="0.90"/><ellipse cx="1584" cy="1029" rx="19" ry="8" fill="url(#afmb)" opacity="0.68"/><ellipse cx="1570" cy="1092" rx="26" ry="13" fill="url(#afmb)" opacity="0.85"/><ellipse cx="1598" cy="1078" rx="22" ry="9" fill="url(#afmb)" opacity="0.39"/><ellipse cx="1584" cy="1136" rx="31" ry="14" fill="url(#afmb)" opacity="0.99"/><ellipse cx="1608" cy="1124" rx="19" ry="10" fill="url(#afmb)" opacity="0.44"/><ellipse cx="1598" cy="1185" rx="32" ry="14" fill="url(#afmb)" opacity="0.99"/><ellipse cx="1625" cy="1176" rx="16" ry="9" fill="url(#afmb)" opacity="0.38"/><ellipse cx="1614" cy="1233" rx="29" ry="15" fill="url(#afmb)" opacity="0.92"/><ellipse cx="1634" cy="1225" rx="20" ry="8" fill="url(#afmb)" opacity="0.50"/><ellipse cx="1610" cy="1241" rx="10" ry="7" fill="#fff4c0" opacity="0.52"/><ellipse cx="1625" cy="1281" rx="30" ry="11" fill="url(#afmb)" opacity="0.79"/><ellipse cx="1653" cy="1271" rx="15" ry="8" fill="url(#afmb)" opacity="0.37"/><ellipse cx="1643" cy="1327" rx="30" ry="12" fill="url(#afmb)" opacity="1.00"/><ellipse cx="1661" cy="1321" rx="16" ry="9" fill="url(#afmb)" opacity="0.54"/><ellipse cx="1653" cy="1380" rx="30" ry="14" fill="url(#afmb)" opacity="0.76"/><ellipse cx="1678" cy="1364" rx="22" ry="8" fill="url(#afmb)" opacity="0.66"/><ellipse cx="1647" cy="1372" rx="12" ry="4" fill="#fff4c0" opacity="0.59"/><ellipse cx="1668" cy="1429" rx="31" ry="11" fill="url(#afmb)" opacity="0.84"/><ellipse cx="1691" cy="1416" rx="15" ry="9" fill="url(#afmb)" opacity="0.45"/><ellipse cx="1681" cy="1472" rx="31" ry="14" fill="url(#afmb)" opacity="0.84"/><ellipse cx="1705" cy="1460" rx="17" ry="8" fill="url(#afmb)" opacity="0.39"/><ellipse cx="1696" cy="1521" rx="26" ry="12" fill="url(#afmb)" opacity="0.87"/><ellipse cx="1719" cy="1512" rx="17" ry="8" fill="url(#afmb)" opacity="0.41"/><ellipse cx="1601" cy="1016" rx="25" ry="13" fill="url(#afmb)" opacity="0.83"/><ellipse cx="1630" cy="1005" rx="21" ry="8" fill="url(#afmb)" opacity="0.48"/><ellipse cx="1621" cy="1068" rx="29" ry="13" fill="url(#afmb)" opacity="0.86"/><ellipse cx="1646" cy="1053" rx="17" ry="9" fill="url(#afmb)" opacity="0.54"/><ellipse cx="1631" cy="1116" rx="30" ry="12" fill="url(#afmb)" opacity="0.98"/><ellipse cx="1658" cy="1105" rx="18" ry="10" fill="url(#afmb)" opacity="0.54"/><ellipse cx="1648" cy="1160" rx="31" ry="12" fill="url(#afmb)" opacity="0.88"/><ellipse cx="1668" cy="1150" rx="16" ry="8" fill="url(#afmb)" opacity="0.61"/><ellipse cx="1646" cy="1155" rx="9" ry="6" fill="#fff4c0" opacity="0.56"/><ellipse cx="1661" cy="1212" rx="25" ry="12" fill="url(#afmb)" opacity="0.96"/><ellipse cx="1686" cy="1200" rx="15" ry="8" fill="url(#afmb)" opacity="0.65"/><ellipse cx="1676" cy="1261" rx="27" ry="14" fill="url(#afmb)" opacity="0.98"/><ellipse cx="1695" cy="1247" rx="17" ry="9" fill="url(#afmb)" opacity="0.66"/><ellipse cx="1663" cy="1258" rx="12" ry="5" fill="#fff4c0" opacity="0.72"/><ellipse cx="1686" cy="1306" rx="28" ry="11" fill="url(#afmb)" opacity="0.97"/><ellipse cx="1713" cy="1293" rx="21" ry="9" fill="url(#afmb)" opacity="0.56"/><ellipse cx="1693" cy="1300" rx="11" ry="4" fill="#fff4c0" opacity="0.42"/><ellipse cx="1703" cy="1354" rx="31" ry="14" fill="url(#afmb)" opacity="0.94"/><ellipse cx="1728" cy="1341" rx="20" ry="8" fill="url(#afmb)" opacity="0.69"/><ellipse cx="1666" cy="1043" rx="28" ry="12" fill="url(#afmb)" opacity="0.91"/><ellipse cx="1695" cy="1031" rx="21" ry="8" fill="url(#afmb)" opacity="0.69"/><ellipse cx="1682" cy="1088" rx="31" ry="13" fill="url(#afmb)" opacity="0.87"/><ellipse cx="1707" cy="1078" rx="21" ry="9" fill="url(#afmb)" opacity="0.41"/><ellipse cx="1692" cy="1138" rx="26" ry="11" fill="url(#afmb)" opacity="0.87"/><ellipse cx="1717" cy="1124" rx="21" ry="9" fill="url(#afmb)" opacity="0.56"/><ellipse cx="1690" cy="1143" rx="12" ry="5" fill="#fff4c0" opacity="0.53"/></g><rect x="1479" y="1446.4" width="93" height="0.8" fill="#5a2000" opacity="0.37"/><rect x="1360" y="1294.2" width="130" height="0.9" fill="#f0d090" opacity="0.29"/><rect x="1363" y="1335.4" width="274" height="1.0" fill="#5a2000" opacity="0.37"/><rect x="1255" y="1274.7" width="292" height="1.1" fill="#5a2000" opacity="0.16"/><rect x="1303" y="1314.3" width="78" height="1.9" fill="#c88830" opacity="0.32"/><rect x="1546" y="1205.2" width="73" height="1.8" fill="#2a0800" opacity="0.34"/><rect x="1207" y="1214.7" width="271" height="1.2" fill="#2a0800" opacity="0.35"/><rect x="1374" y="1069.3" width="104" height="1.4" fill="#c88830" opacity="0.25"/><rect x="1279" y="1392.1" width="185" height="1.6" fill="#3a0e00" opacity="0.34"/><rect x="1206" y="1301.1" width="226" height="2.1" fill="#3a0e00" opacity="0.34"/><rect x="1488" y="1098.5" width="95" height="1.1" fill="#2a0800" opacity="0.45"/><rect x="1484" y="1463.6" width="163" height="1.2" fill="#2a0800" opacity="0.26"/><rect x="1239" y="1229.6" width="125" height="1.9" fill="#2a0800" opacity="0.34"/><rect x="1245" y="1093.5" width="84" height="1.9" fill="#3a0e00" opacity="0.40"/><rect x="1295" y="1458.9" width="140" height="1.0" fill="#c88830" opacity="0.21"/><rect x="1246" y="1482.8" width="183" height="1.8" fill="#5a2000" opacity="0.18"/><rect x="1229" y="1318.8" width="132" height="1.3" fill="#f0d090" opacity="0.32"/><rect x="1212" y="1300.4" width="75" height="2.0" fill="#5a2000" opacity="0.28"/><rect x="1216" y="1476.8" width="228" height="1.6" fill="#3a0e00" opacity="0.36"/><rect x="1360" y="1188.8" width="99" height="1.4" fill="#c88830" opacity="0.35"/><rect x="1364" y="1482.7" width="221" height="1.1" fill="#2a0800" opacity="0.26"/><rect x="1484" y="1410.9" width="286" height="1.1" fill="#c88830" opacity="0.36"/><rect x="1487" y="1305.8" width="155" height="1.5" fill="#5a2000" opacity="0.26"/><rect x="1429" y="1380.5" width="183" height="1.2" fill="#2a0800" opacity="0.32"/><rect x="1218" y="1251.1" width="284" height="1.8" fill="#2a0800" opacity="0.17"/><rect x="1505" y="1181.9" width="103" height="1.9" fill="#5a2000" opacity="0.37"/><rect x="1519" y="1164.2" width="220" height="1.8" fill="#3a0e00" opacity="0.31"/><rect x="1397" y="1196.3" width="100" height="0.9" fill="#5a2000" opacity="0.34"/><rect x="1406" y="1439.2" width="147" height="1.4" fill="#f0d090" opacity="0.38"/><rect x="1305" y="1286.0" width="166" height="1.1" fill="#f0d090" opacity="0.30"/><rect x="1465" y="1364.4" width="223" height="2.0" fill="#c88830" opacity="0.15"/><rect x="1323" y="1339.2" width="194" height="1.6" fill="#2a0800" opacity="0.27"/><rect x="1328" y="1254.0" width="103" height="2.1" fill="#5a2000" opacity="0.30"/><rect x="1514" y="1253.6" width="122" height="1.1" fill="#2a0800" opacity="0.31"/><rect x="1344" y="1448.4" width="158" height="1.6" fill="#3a0e00" opacity="0.42"/><rect x="1313" y="1466.0" width="245" height="1.1" fill="#c88830" opacity="0.18"/><rect x="1388" y="1334.6" width="243" height="1.8" fill="#c88830" opacity="0.35"/><rect x="1313" y="1331.3" width="261" height="1.9" fill="#f0d090" opacity="0.32"/><rect x="1220" y="1172.5" width="261" height="1.2" fill="#5a2000" opacity="0.36"/><rect x="1259" y="1360.0" width="165" height="1.1" fill="#2a0800" opacity="0.38"/><rect x="1334" y="1389.9" width="299" height="1.0" fill="#5a2000" opacity="0.24"/><rect x="1326" y="1381.7" width="271" height="2.0" fill="#2a0800" opacity="0.36"/><rect x="1210" y="1418.2" width="268" height="0.8" fill="#f0d090" opacity="0.39"/><rect x="1278" y="1105.9" width="70" height="1.0" fill="#2a0800" opacity="0.32"/><rect x="1335" y="1236.7" width="97" height="1.4" fill="#5a2000" opacity="0.26"/><rect x="1474" y="1223.2" width="206" height="1.1" fill="#f0d090" opacity="0.36"/><rect x="1282" y="1136.8" width="266" height="1.9" fill="#5a2000" opacity="0.17"/><rect x="1413" y="1097.4" width="285" height="1.0" fill="#f0d090" opacity="0.20"/><rect x="1281" y="1132.5" width="115" height="0.8" fill="#2a0800" opacity="0.21"/><rect x="1424" y="1397.8" width="53" height="1.9" fill="#f0d090" opacity="0.19"/><rect x="1286" y="1133.9" width="186" height="2.1" fill="#f0d090" opacity="0.25"/><rect x="1414" y="1310.0" width="117" height="1.9" fill="#5a2000" opacity="0.25"/><rect x="1210" y="1179.4" width="272" height="1.0" fill="#3a0e00" opacity="0.37"/><rect x="1412" y="1419.9" width="66" height="1.4" fill="#3a0e00" opacity="0.21"/><rect x="1222" y="1364.8" width="146" height="0.9" fill="#f0d090" opacity="0.34"/><rect x="1503" y="1381.2" width="177" height="1.4" fill="#2a0800" opacity="0.41"/><rect x="1304" y="1125.4" width="165" height="1.2" fill="#f0d090" opacity="0.43"/><rect x="1466" y="1196.7" width="105" height="1.1" fill="#f0d090" opacity="0.36"/><rect x="1516" y="1364.4" width="163" height="1.4" fill="#c88830" opacity="0.20"/><rect x="1226" y="1090.9" width="48" height="1.8" fill="#c88830" opacity="0.33"/><rect x="1243" y="1108.7" width="79" height="1.2" fill="#3a0e00" opacity="0.34"/><rect x="1292" y="1354.8" width="50" height="1.1" fill="#3a0e00" opacity="0.20"/><rect x="1364" y="1422.0" width="300" height="1.7" fill="#5a2000" opacity="0.43"/><rect x="1273" y="1456.2" width="101" height="2.1" fill="#f0d090" opacity="0.18"/><rect x="1522" y="1211.0" width="221" height="1.4" fill="#3a0e00" opacity="0.30"/><rect x="1520" y="1351.1" width="199" height="2.1" fill="#f0d090" opacity="0.28"/><rect x="1503" y="1264.4" width="252" height="1.6" fill="#2a0800" opacity="0.17"/><rect x="1536" y="1284.6" width="96" height="2.0" fill="#5a2000" opacity="0.39"/><rect x="1539" y="1408.1" width="274" height="0.8" fill="#5a2000" opacity="0.34"/><rect x="1508" y="1357.6" width="165" height="1.4" fill="#3a0e00" opacity="0.18"/><rect x="1325" y="1416.5" width="107" height="1.3" fill="#c88830" opacity="0.35"/><rect x="1391" y="1163.3" width="85" height="1.4" fill="#f0d090" opacity="0.23"/><rect x="1295" y="1099.0" width="135" height="2.2" fill="#3a0e00" opacity="0.20"/><rect x="1255" y="1144.2" width="90" height="1.6" fill="#5a2000" opacity="0.32"/><rect x="1341" y="1465.1" width="71" height="1.4" fill="#f0d090" opacity="0.24"/><rect x="1310" y="1169.6" width="155" height="1.0" fill="#2a0800" opacity="0.20"/><rect x="1351" y="1472.1" width="295" height="1.7" fill="#f0d090" opacity="0.40"/><rect x="1493" y="1467.6" width="108" height="0.9" fill="#2a0800" opacity="0.44"/><rect x="1452" y="1387.3" width="235" height="1.7" fill="#3a0e00" opacity="0.35"/><rect x="1426" y="1183.0" width="293" height="1.9" fill="#f0d090" opacity="0.20"/><rect x="1510" y="1454.5" width="164" height="0.8" fill="#2a0800" opacity="0.24"/><rect x="1249" y="1330.2" width="95" height="1.1" fill="#3a0e00" opacity="0.45"/><rect x="1272" y="1175.1" width="247" height="1.1" fill="#3a0e00" opacity="0.32"/><rect x="1454" y="1254.4" width="143" height="2.0" fill="#c88830" opacity="0.22"/><rect x="1473" y="1335.6" width="281" height="2.2" fill="#f0d090" opacity="0.17"/><rect x="1514" y="1377.4" width="42" height="1.0" fill="#3a0e00" opacity="0.34"/><rect x="1394" y="1340.9" width="121" height="2.1" fill="#2a0800" opacity="0.38"/><rect x="1250" y="1100.8" width="100" height="1.0" fill="#f0d090" opacity="0.23"/><rect x="1430" y="1430.1" width="282" height="1.8" fill="#5a2000" opacity="0.28"/><rect x="1373" y="1363.6" width="245" height="1.5" fill="#f0d090" opacity="0.18"/><rect x="1336" y="1370.2" width="119" height="1.5" fill="#3a0e00" opacity="0.22"/><rect x="1475" y="1416.3" width="281" height="1.2" fill="#2a0800" opacity="0.27"/><rect x="1343" y="1087.1" width="113" height="1.4" fill="#f0d090" opacity="0.22"/><rect x="1437" y="1207.1" width="271" height="0.9" fill="#3a0e00" opacity="0.30"/><rect x="1283" y="1345.4" width="253" height="2.0" fill="#c88830" opacity="0.37"/><rect x="1499" y="1074.6" width="198" height="1.7" fill="#f0d090" opacity="0.33"/><rect x="1351" y="1411.5" width="186" height="1.8" fill="#c88830" opacity="0.27"/><rect x="1523" y="1273.1" width="183" height="1.2" fill="#c88830" opacity="0.37"/><rect x="1401" y="1403.4" width="245" height="2.1" fill="#c88830" opacity="0.36"/><rect x="1227" y="1241.0" width="152" height="1.8" fill="#3a0e00" opacity="0.21"/><rect x="1498" y="1070.4" width="139" height="1.4" fill="#2a0800" opacity="0.38"/><rect x="1356" y="1222.5" width="156" height="1.8" fill="#f0d090" opacity="0.16"/><rect x="1293" y="1270.9" width="104" height="1.5" fill="#3a0e00" opacity="0.25"/><rect x="1207" y="1091.8" width="125" height="2.2" fill="#3a0e00" opacity="0.28"/><rect x="1318" y="1094.6" width="160" height="2.0" fill="#3a0e00" opacity="0.20"/><rect x="1506" y="1107.6" width="266" height="1.6" fill="#c88830" opacity="0.32"/><rect x="1458" y="1072.8" width="137" height="1.5" fill="#5a2000" opacity="0.28"/><rect x="1313" y="1229.1" width="146" height="1.0" fill="#f0d090" opacity="0.21"/><rect x="1287" y="1235.9" width="208" height="1.5" fill="#c88830" opacity="0.15"/><rect x="1549" y="1077.1" width="233" height="1.7" fill="#c88830" opacity="0.38"/><rect x="1350" y="1331" width="300" height="1.5" fill="#fff0e0" opacity="0.7"/></g>
<rect x="1230.6" y="1066" width="44.4" height="48" fill="#fff"/>
<text x="1244" y="1103" font-size="27" text-anchor="start" font-weight="bold" fill="#000" >h</text>
<polygon points="1376.4,1142.1 1424.6,1115.6 1434.1,1166.5 1385.2,1193.7" fill="none" stroke="#30b0e8" stroke-width="3.6" stroke-dasharray="9,5"/>
<polygon points="1434.1,1166.5 1483.0,1140.7 1493.8,1188.3 1442.2,1214.1" fill="none" stroke="#30b0e8" stroke-width="3.6" stroke-dasharray="9,5"/>
<polygon points="1333.6,1223.6 1385.2,1195.1 1396.1,1244.0 1343.1,1272.5" fill="none" stroke="#30b0e8" stroke-width="3.6" stroke-dasharray="9,5"/>
<polygon points="1393.3,1242.6 1442.2,1218.2 1451.7,1272.5 1404.2,1298.3" fill="none" stroke="#30b0e8" stroke-width="3.6" stroke-dasharray="9,5"/>
<path d="M1380,1196 L1436,1167 M1388,1244 L1440,1220 M1379,1147 L1388,1195 M1430,1168 L1440,1216" fill="none" stroke="#30b0e8" stroke-width="3" stroke-dasharray="8,6" opacity="0.8"/>
<path d="M1373,1150 L1379,1188 M1439,1157 L1482,1134" stroke="#e8201c" stroke-width="2.2"/>
<polygon points="1369,1156 1372,1145 1377,1155" fill="#e8201c"/><polygon points="1375,1183 1380,1193 1383,1182" fill="#e8201c"/><polygon points="1436,1152 1434,1160 1443,1161" fill="#e8201c"/><polygon points="1478,1131 1487,1131 1481,1139" fill="#e8201c"/>
<text x="0" y="0" font-size="20" font-weight="bold" fill="#e8201c" text-anchor="middle" transform="translate(1336,1192) rotate(-28)">1.25 nm</text>
<text x="0" y="0" font-size="20" font-weight="bold" fill="#e8201c" text-anchor="middle" transform="translate(1472,1125) rotate(-30)">1.20 nm</text>
<text x="1595" y="1460" font-size="15.5" text-anchor="middle" font-weight="bold" fill="#fff" >2 nm</text>
<rect x="1555.7" y="1469.5" width="79.5" height="3.6" fill="#fff"/>
</svg></body></html>
